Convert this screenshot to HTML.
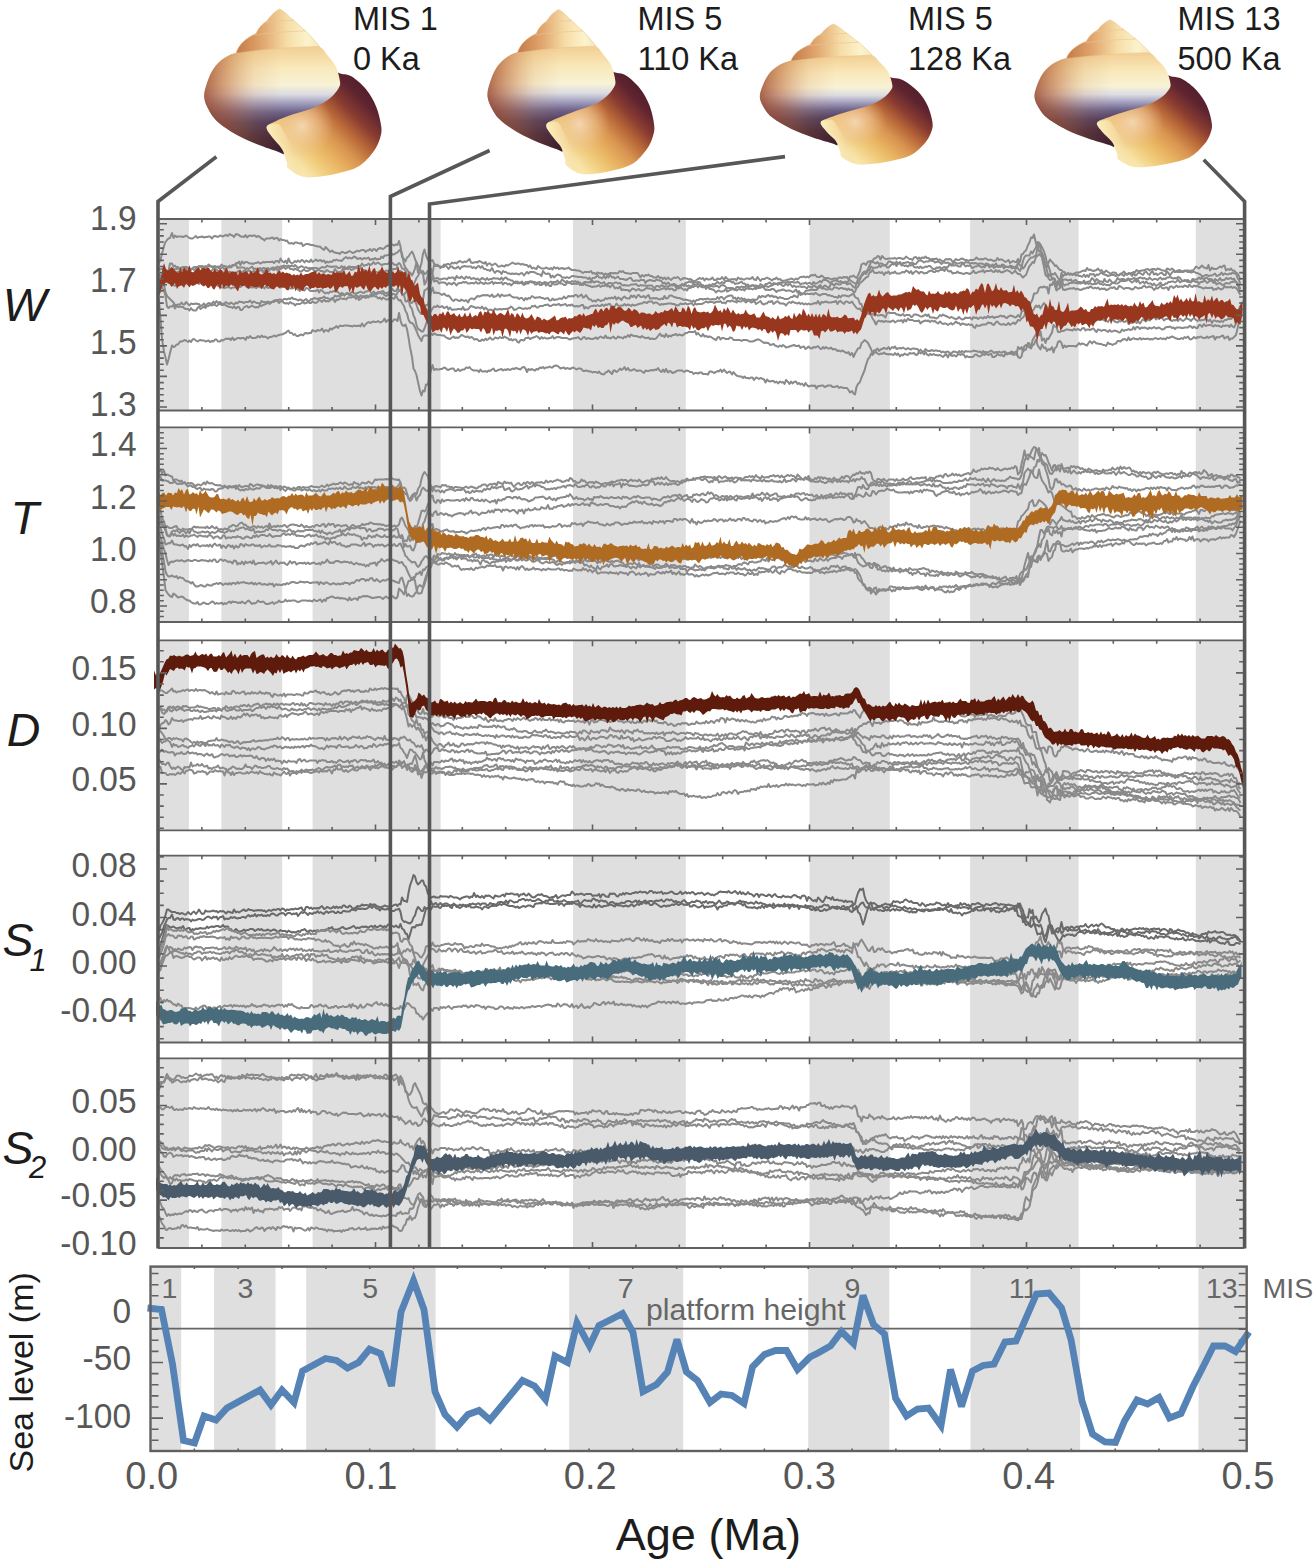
<!DOCTYPE html>
<html><head><meta charset="utf-8"><title>figure</title>
<style>html,body{margin:0;padding:0;background:#fff;overflow:hidden}svg{display:block}text{font-family:"Liberation Sans",sans-serif}</style>
</head><body>
<svg width="1315" height="1565" viewBox="0 0 1315 1565">
<defs>
<linearGradient id="gSpire" x1="236" y1="0" x2="320" y2="0" gradientUnits="userSpaceOnUse">
 <stop offset="0" stop-color="#c47a48"/><stop offset="0.3" stop-color="#e0a46c"/><stop offset="0.6" stop-color="#f6dca6"/><stop offset="0.85" stop-color="#fcf3cc"/><stop offset="1" stop-color="#f6e6b8"/>
</linearGradient>
<linearGradient id="gUpV" x1="0" y1="47" x2="0" y2="152" gradientUnits="userSpaceOnUse">
 <stop offset="0" stop-color="#f2cf94"/><stop offset="0.2" stop-color="#f9e9bb"/><stop offset="0.36" stop-color="#f8f2d6"/>
 <stop offset="0.45" stop-color="#dcdce2"/><stop offset="0.53" stop-color="#a4a2c0"/><stop offset="0.62" stop-color="#6e6288"/><stop offset="0.72" stop-color="#4e3a5a"/><stop offset="0.85" stop-color="#452638"/><stop offset="1" stop-color="#3c1e2c"/>
</linearGradient>
<linearGradient id="gUpH" x1="204" y1="0" x2="282" y2="0" gradientUnits="userSpaceOnUse">
 <stop offset="0" stop-color="#9a4426" stop-opacity="0.8"/><stop offset="0.3" stop-color="#b8602f" stop-opacity="0.5"/><stop offset="0.65" stop-color="#d08850" stop-opacity="0.16"/><stop offset="1" stop-color="#d08850" stop-opacity="0"/>
</linearGradient>
<linearGradient id="gBody" x1="372" y1="84" x2="284" y2="172" gradientUnits="userSpaceOnUse">
 <stop offset="0" stop-color="#4c1c2a"/><stop offset="0.15" stop-color="#5e2430"/><stop offset="0.28" stop-color="#8a3c30"/><stop offset="0.4" stop-color="#b86838"/><stop offset="0.52" stop-color="#d89450"/><stop offset="0.64" stop-color="#e8b260"/><stop offset="0.76" stop-color="#f0cc7c"/><stop offset="0.88" stop-color="#f8e4a8"/><stop offset="1" stop-color="#fbefc0"/>
</linearGradient>
<radialGradient id="gBodyHi" cx="302" cy="126" r="32" gradientUnits="userSpaceOnUse">
 <stop offset="0" stop-color="#f6dcbc" stop-opacity="0.85"/><stop offset="0.55" stop-color="#f0c8a0" stop-opacity="0.45"/><stop offset="1" stop-color="#e8b888" stop-opacity="0"/>
</radialGradient>
<linearGradient id="gBodyH" x1="266" y1="0" x2="304" y2="0" gradientUnits="userSpaceOnUse">
 <stop offset="0" stop-color="#fcf2c4" stop-opacity="0.85"/><stop offset="0.5" stop-color="#f9e8b4" stop-opacity="0.45"/><stop offset="1" stop-color="#f0c890" stop-opacity="0"/>
</linearGradient>

<g id="shell"><path d="M330.0,72.0 C333.5,68.5 337.3,72.9 340.9,73.7 C344.5,74.5 347.5,73.9 351.7,76.6 C355.9,79.2 362.1,84.5 366.2,89.6 C370.3,94.6 373.8,100.7 376.3,106.9 C378.8,113.2 380.7,121.8 381.3,127.1 C381.9,132.4 381.2,134.6 379.9,138.7 C378.6,142.8 376.9,147.1 373.4,151.7 C369.9,156.3 364.9,162.6 358.9,166.2 C352.9,169.8 344.5,171.6 337.3,173.4 C330.1,175.2 321.6,176.5 315.6,177.0 C309.6,177.5 305.7,177.8 301.1,176.3 C296.5,174.9 290.5,170.7 288.1,168.3 C285.7,165.9 287.9,165.3 286.7,161.8 C285.5,158.3 283.3,151.5 280.9,147.4 C278.5,143.3 274.6,140.7 272.2,137.3 C269.8,133.9 263.5,131.7 266.5,127.1 C269.5,122.5 281.1,115.3 290.0,110.0 C298.9,104.7 313.3,101.3 320.0,95.0 C326.7,88.7 326.5,75.5 330.0,72.0Z" fill="url(#gBody)"/><path d="M330.0,72.0 C333.5,68.5 337.3,72.9 340.9,73.7 C344.5,74.5 347.5,73.9 351.7,76.6 C355.9,79.2 362.1,84.5 366.2,89.6 C370.3,94.6 373.8,100.7 376.3,106.9 C378.8,113.2 380.7,121.8 381.3,127.1 C381.9,132.4 381.2,134.6 379.9,138.7 C378.6,142.8 376.9,147.1 373.4,151.7 C369.9,156.3 364.9,162.6 358.9,166.2 C352.9,169.8 344.5,171.6 337.3,173.4 C330.1,175.2 321.6,176.5 315.6,177.0 C309.6,177.5 305.7,177.8 301.1,176.3 C296.5,174.9 290.5,170.7 288.1,168.3 C285.7,165.9 287.9,165.3 286.7,161.8 C285.5,158.3 283.3,151.5 280.9,147.4 C278.5,143.3 274.6,140.7 272.2,137.3 C269.8,133.9 263.5,131.7 266.5,127.1 C269.5,122.5 281.1,115.3 290.0,110.0 C298.9,104.7 313.3,101.3 320.0,95.0 C326.7,88.7 326.5,75.5 330.0,72.0Z" fill="url(#gBodyHi)"/><path d="M266.5,127.1 C265.5,129.3 269.8,133.9 272.2,137.3 C274.6,140.7 278.5,143.3 280.9,147.4 C283.3,151.5 285.5,158.3 286.7,161.8 C287.9,165.3 285.7,165.9 288.1,168.3 C290.5,170.7 298.1,174.9 301.1,176.3 C304.1,177.7 306.2,178.2 306.0,176.8 C305.8,175.4 302.2,172.5 300.0,168.0 C297.8,163.5 295.5,155.7 293.0,150.0 C290.5,144.3 287.5,138.3 285.0,134.0 C282.5,129.7 281.1,125.2 278.0,124.0 C274.9,122.8 267.5,124.9 266.5,127.1Z" fill="url(#gBodyH)"/><path d="M238.3,52.0 C243.4,50.5 248.4,49.2 255.0,48.5 C261.6,47.8 270.5,47.8 278.0,47.5 C285.5,47.2 293.2,47.0 300.0,46.8 C306.8,46.6 314.0,44.9 318.5,46.2 C323.0,47.6 324.3,51.5 327.2,54.9 C330.1,58.3 333.7,62.2 335.8,66.5 C337.9,70.8 339.4,77.3 339.9,80.9 C340.4,84.5 340.3,85.2 338.7,88.1 C337.1,91.0 333.9,95.2 330.0,98.3 C326.1,101.4 321.6,104.3 315.6,106.9 C309.6,109.5 300.6,111.7 293.9,114.1 C287.1,116.5 279.7,119.2 275.1,121.4 C270.5,123.6 267.0,124.4 266.5,127.1 C266.0,129.8 269.8,133.9 272.2,137.3 C274.6,140.7 279.0,144.6 280.9,147.4 C282.8,150.2 284.3,153.3 283.8,154.0 C283.3,154.7 282.3,153.3 278.0,151.7 C273.7,150.1 264.8,147.4 257.8,144.5 C250.8,141.6 242.8,138.2 236.1,134.4 C229.3,130.6 221.9,125.5 217.3,121.4 C212.7,117.3 210.9,113.7 208.7,109.8 C206.5,105.9 204.8,102.1 204.3,98.3 C203.8,94.5 204.4,91.5 205.8,86.7 C207.2,81.9 209.9,74.2 213.0,69.4 C216.1,64.6 220.4,60.7 224.6,57.8 C228.8,54.9 233.2,53.5 238.3,52.0Z" fill="url(#gUpV)"/><path d="M238.3,52.0 C243.4,50.5 248.4,49.2 255.0,48.5 C261.6,47.8 270.5,47.8 278.0,47.5 C285.5,47.2 293.2,47.0 300.0,46.8 C306.8,46.6 314.0,44.9 318.5,46.2 C323.0,47.6 324.3,51.5 327.2,54.9 C330.1,58.3 333.7,62.2 335.8,66.5 C337.9,70.8 339.4,77.3 339.9,80.9 C340.4,84.5 340.3,85.2 338.7,88.1 C337.1,91.0 333.9,95.2 330.0,98.3 C326.1,101.4 321.6,104.3 315.6,106.9 C309.6,109.5 300.6,111.7 293.9,114.1 C287.1,116.5 279.7,119.2 275.1,121.4 C270.5,123.6 267.0,124.4 266.5,127.1 C266.0,129.8 269.8,133.9 272.2,137.3 C274.6,140.7 279.0,144.6 280.9,147.4 C282.8,150.2 284.3,153.3 283.8,154.0 C283.3,154.7 282.3,153.3 278.0,151.7 C273.7,150.1 264.8,147.4 257.8,144.5 C250.8,141.6 242.8,138.2 236.1,134.4 C229.3,130.6 221.9,125.5 217.3,121.4 C212.7,117.3 210.9,113.7 208.7,109.8 C206.5,105.9 204.8,102.1 204.3,98.3 C203.8,94.5 204.4,91.5 205.8,86.7 C207.2,81.9 209.9,74.2 213.0,69.4 C216.1,64.6 220.4,60.7 224.6,57.8 C228.8,54.9 233.2,53.5 238.3,52.0Z" fill="url(#gUpH)"/><path d="M236,53.5 C238,45 246,38 256,33.5 L304,29.5 C310,35 315,41 319.5,46.5 C300,47 270,48 236,53.5Z" fill="url(#gSpire)" stroke="#e9c490" stroke-width="0.6"/><path d="M255.5,35 C258,28 262,24 266.8,21 L292,19 C296,22 300,26 305,31 C290,31.5 270,32.5 255.5,35Z" fill="url(#gSpire)" stroke="#e9c490" stroke-width="0.6"/><path d="M266,22.5 C270,16 274,12 279.5,9 C284,11 288,15 293,20.5 C284,20.5 274,21 266,22.5Z" fill="url(#gSpire)" stroke="#e9c490" stroke-width="0.6"/></g>
<clipPath id="clipW"><rect x="152.0" y="220.0" width="1096.0" height="189.5"/></clipPath>
<clipPath id="clipT"><rect x="152.0" y="428.4" width="1096.0" height="192.6"/></clipPath>
<clipPath id="clipD"><rect x="152.0" y="641.3" width="1096.0" height="188.1"/></clipPath>
<clipPath id="clipS1"><rect x="152.0" y="856.7" width="1096.0" height="184.8"/></clipPath>
<clipPath id="clipS2"><rect x="152.0" y="1059.3" width="1096.0" height="187.7"/></clipPath></defs>
<rect width="1315" height="1565" fill="#fff"/>
<use href="#shell" transform="matrix(1.0000 0 0 1.0000 0.00 0.00)"/>
<use href="#shell" transform="matrix(0.9412 0 0 0.9791 295.30 0.70)"/>
<use href="#shell" transform="matrix(0.9746 0 0 0.8353 560.89 16.45)"/>
<use href="#shell" transform="matrix(1.0011 0 0 0.8759 830.07 11.97)"/>
<text x="353.0" y="29.8" font-size="32.5" fill="#1c1c1c">MIS 1</text>
<text x="353.0" y="70" font-size="32.5" fill="#1c1c1c">0 Ka</text>
<text x="637.5" y="29.8" font-size="32.5" fill="#1c1c1c">MIS 5</text>
<text x="637.5" y="70" font-size="32.5" fill="#1c1c1c">110 Ka</text>
<text x="908.0" y="29.8" font-size="32.5" fill="#1c1c1c">MIS 5</text>
<text x="908.0" y="70" font-size="32.5" fill="#1c1c1c">128 Ka</text>
<text x="1177.5" y="29.8" font-size="32.5" fill="#1c1c1c">MIS 13</text>
<text x="1177.5" y="70" font-size="32.5" fill="#1c1c1c">500 Ka</text>
<rect x="158.0" y="219.0" width="30.9" height="191.5" fill="#dfdfdf"/>
<rect x="221.4" y="219.0" width="60.8" height="191.5" fill="#dfdfdf"/>
<rect x="312.6" y="219.0" width="128.0" height="191.5" fill="#dfdfdf"/>
<rect x="573.0" y="219.0" width="112.8" height="191.5" fill="#dfdfdf"/>
<rect x="809.5" y="219.0" width="80.3" height="191.5" fill="#dfdfdf"/>
<rect x="970.1" y="219.0" width="108.5" height="191.5" fill="#dfdfdf"/>
<rect x="1195.8" y="219.0" width="47.7" height="191.5" fill="#dfdfdf"/>
<g clip-path="url(#clipW)"><path d="M159,263l1.5 -3 1.5 -6.5 2 -7.5 1.5 -4 1.5 -2 1.5 -1.5 1.5 -.5 2 -5 1.5 5 1.5 -2.5 1.5 1.5 1.5 -.5 2 0 1.5 0 1.5 .5 1.5 -.5 1.5 -1 2 1.5 1.5 1 1.5 .5 1.5 0 1.5 -1 2 -1.5 1.5 2 1.5 -1 1.5 0 1.5 -.5 2 1 1.5 -.5 1.5 0 1.5 -.5 1.5 0 2 2 1.5 -2 1.5 -.5 1.5 .5 1.5 .5 2 -1.5 1.5 .5 1.5 .5 1.5 -1 1.5 -.5 2 1 1.5 -2 1.5 1 1.5 .5 1.5 1.5 2 -3 1.5 .5 1.5 .5 1.5 1.5 1.5 0 2 .5 1.5 -2 1.5 2.5 1.5 -1.5 1.5 -.5 2 .5 1.5 -.5 1.5 0 1.5 1.5 1.5 -1 2 1 1.5 1.5 1.5 .5 1.5 1.5 1.5 -2 2 0 1.5 0 1.5 -.5 1.5 -.5 1.5 1.5 2 -1 1.5 0 1.5 2.5 1.5 -1.5 1.5 1 2 0 1.5 1 1.5 -.5 1.5 2.5 1.5 .5 2 -.5 1.5 1 1.5 -1.5 1.5 0 1.5 .5 2 .5 1.5 -.5 1.5 3 1.5 -1 1.5 -1 2 0 1.5 .5 1.5 .5 1.5 0 1.5 .5 2 .5 1.5 .5 1.5 0 1.5 .5 1.5 1.5 2 1.5 1.5 -3 1.5 1.5 1.5 1.5 1.5 2 2 -1.5 1.5 1.5 1.5 .5 1.5 .5 1.5 0 2 1 1.5 -2 1.5 0 1.5 1 1.5 0 2 -1 1.5 -1 1.5 1 1.5 1 1.5 -.5 2 -1 1.5 -1 1.5 1 1.5 -1 1.5 -.5 2 0 1.5 2 1.5 -1.5 1.5 0 1.5 -1.5 2 2 1.5 -2 1.5 .5 1.5 1.5 1.5 -2 2 -1 1.5 .5 1.5 .5 1.5 -1 1.5 -1.5 2 -1 1.5 .5 1.5 -1 1.5 -.5 1.5 1 2 -1 1.5 .5 1.5 -4 1.5 5.5 1.5 10.5 2 2 1.5 2.5 1.5 -4 1.5 -1 1.5 -2.5 2 -2.5 1.5 3 1.5 4.5 1.5 3.5 1.5 10 2 -4.5 1.5 -5 1.5 -9.5 1.5 -4 1.5 6 2 4.5 1.5 -1.5 1.5 2.5 1.5 -1 1.5 3.5 2 2 1.5 -1 1.5 2 1.5 1.5 1.5 -1 2 -2.5 1.5 .5 1.5 -1 1.5 0 1.5 1 2 -2.5 1.5 1 1.5 -1 1.5 1 1.5 -1.5 2 -1 1.5 1 1.5 .5 1.5 -1 1.5 .5 2 -1.5 1.5 -1.5 1.5 3.5 1.5 .5 1.5 -.5 2 -.5 1.5 .5 1.5 -1.5 1.5 .5 1.5 1 2 1 1.5 -1.5 1.5 3.5 1.5 -2 1.5 0 2 2 1.5 -1 1.5 -1 1.5 1 1.5 2 2 0 1.5 -1 1.5 .5 1.5 .5 1.5 -1.5 2 .5 1.5 -1 1.5 -1 1.5 -1 1.5 1 2 .5 1.5 -.5 1.5 0 1.5 1 1.5 -.5 2 .5 1.5 .5 1.5 0 1.5 2 1.5 -1.5 2 3 1.5 -1 1.5 1 1.5 .5 1.5 -3 2 1.5 1.5 1 1.5 0 1.5 0 1.5 -1 2 1 1.5 .5 1.5 -1 1.5 1.5 1.5 -2.5 2 1.5 1.5 -1 1.5 1.5 1.5 -.5 1.5 -.5 2 1 1.5 -.5 1.5 0 1.5 -1 1.5 1.5 2 1 1.5 0 1.5 0 1.5 .5 1.5 0 2 .5 1.5 1 1.5 1 1.5 -1 1.5 0 2 0 1.5 0 1.5 -1 1.5 2.5 1.5 -.5 2 1 1.5 -1.5 1.5 .5 1.5 .5 1.5 -.5 2 2 1.5 -1.5 1.5 1 1.5 -.5 1.5 -1 2 0 1.5 .5 1.5 -.5 1.5 .5 1.5 -.5 2 -2 1.5 1 1.5 -1 1.5 2 1.5 0 2 .5 1.5 0 1.5 .5 1.5 -1 1.5 0 2 0 1.5 0 1.5 2 1.5 2.5 1.5 -2.5 2 1.5 1.5 -1.5 1.5 .5 1.5 -1 1.5 1.5 2 0 1.5 1.5 1.5 0 1.5 0 1.5 -1.5 2 2 1.5 -.5 1.5 1.5 1.5 -1.5 1.5 2 2 -2 1.5 1.5 1.5 1 1.5 -1.5 1.5 -1 2 .5 1.5 -1 1.5 1 1.5 2 1.5 -1 2 -1 1.5 .5 1.5 0 1.5 1 1.5 -.5 2 1 1.5 1.5 1.5 -.5 1.5 -1 1.5 -1 2 -1 1.5 1 1.5 -1 1.5 2.5 1.5 -2 2 1 1.5 0 1.5 -.5 1.5 -1.5 1.5 2.5 2 0 1.5 -1.5 1.5 .5 1.5 0 1.5 -2 2 3 1.5 -3 1.5 1.5 1.5 1 1.5 .5 2 -1 1.5 .5 1.5 -.5 1.5 1.5 1.5 -3 2 1.5 1.5 -.5 1.5 1 1.5 0 1.5 -1 2 0 1.5 .5 1.5 -.5 1.5 -1.5 1.5 2.5 2 .5 1.5 -3 1.5 2 1.5 2 1.5 -2 2 0 1.5 -.5 1.5 -1 1.5 1 1.5 .5 2 1.5 1.5 -1.5 1.5 0 1.5 -1.5 1.5 2 2 -.5 1.5 1.5 1.5 .5 1.5 -.5 1.5 0 2 -1 1.5 0 1.5 -1 1.5 .5 1.5 1 2 -1.5 1.5 1 1.5 -1.5 1.5 -1 1.5 0 2 -.5 1.5 1 1.5 -1 1.5 1 1.5 -1.5 2 -1 1.5 .5 1.5 -1 1.5 2 1.5 .5 2 0 1.5 -1.5 1.5 1 1.5 2 1.5 -.5 2 0 1.5 .5 1.5 1 1.5 -.5 1.5 -.5 2 0 1.5 .5 1.5 -1.5 1.5 0 1.5 .5 2 -1 1.5 .5 1.5 -.5 1.5 2.5 1.5 -3 2 0 1.5 -1 1.5 1.5 1.5 1 1.5 -2.5 2 -4.5 1.5 -6.5 1.5 -1 1.5 0 1.5 1.5 2 -3.5 1.5 0 1.5 -.5 1.5 0 1.5 -2.5 2 -.5 1.5 -2 1.5 .5 1.5 3 1.5 -3.5 2 2 1.5 1 1.5 0 1.5 -.5 1.5 0 2 0 1.5 0 1.5 -.5 1.5 1 1.5 -1 2 0 1.5 .5 1.5 .5 1.5 -.5 1.5 -2 2 1.5 1.5 1 1.5 0 1.5 1 1.5 -2.5 2 -.5 1.5 2 1.5 -1.5 1.5 1.5 1.5 -1.5 2 .5 1.5 -1.5 1.5 1.5 1.5 0 1.5 1.5 2 -.5 1.5 0 1.5 0 1.5 -.5 1.5 1.5 2 -.5 1.5 1 1.5 1.5 1.5 -1.5 1.5 -1.5 2 .5 1.5 -.5 1.5 .5 1.5 2.5 1.5 -1 2 -2 1.5 1 1.5 0 1.5 -1 1.5 -.5 2 1 1.5 .5 1.5 0 1.5 1 1.5 -1 2 0 1.5 0 1.5 -1 1.5 -1.5 1.5 1.5 2 .5 1.5 -.5 1.5 .5 1.5 -1 1.5 0 2 1.5 1.5 0 1.5 -.5 1.5 1 1.5 .5 2 -.5 1.5 -2.5 1.5 2 1.5 -.5 1.5 0 2 1.5 1.5 1 1.5 -1 1.5 -1 1.5 3 2 -1.5 1.5 -.5 1.5 1 1.5 0 1.5 -3 2 3 1.5 -7.5 1.5 -.5 1.5 -2.5 1.5 -1 2 -5.5 1.5 -2.5 1.5 -5 1.5 .5 1.5 -3.5 2 9 1.5 3 1.5 4.5 1.5 1.5 1.5 0 2 5.5 1.5 7.5 1.5 1.5 1.5 -4.5 1.5 -3 2 2.5 1.5 1.5 1.5 2.5 1.5 -.5 1.5 2.5 2 2 1.5 0 1.5 2 1.5 0 1.5 3 2 -2 1.5 2 1.5 -1 1.5 .5 1.5 -.5 2 -1.5 1.5 0 1.5 0 1.5 -.5 1.5 -1 2 -.5 1.5 .5 1.5 -3 1.5 2 1.5 -.5 2 1 1.5 .5 1.5 -.5 1.5 -.5 1.5 -1.5 2 2.5 1.5 -1 1.5 2 1.5 .5 1.5 -2 2 1.5 1.5 1 1.5 1 1.5 -1.5 1.5 0 2 .5 1.5 2.5 1.5 0 1.5 -2 1.5 0 2 -2 1.5 2.5 1.5 1 1.5 -2 1.5 .5 2 -.5 1.5 -1 1.5 .5 1.5 -2.5 1.5 1 2 0 1.5 -.5 1.5 0 1.5 -.5 1.5 -.5 2 -.5 1.5 1.5 1.5 -1 1.5 -.5 1.5 0 2 1 1.5 -1.5 1.5 .5 1.5 .5 1.5 1 2 0 1.5 1 1.5 -3 1.5 .5 1.5 1 2 -1.5 1.5 1 1.5 2.5 1.5 -1 1.5 -.5 2 -.5 1.5 2 1.5 0 1.5 -1.5 1.5 .5 2 1 1.5 0 1.5 -1.5 1.5 0 1.5 -1 2 -3 1.5 1 1.5 1 1.5 -1.5 1.5 -1.5 2 2 1.5 .5 1.5 .5 1.5 -3.5 1.5 5.5 2 -3 1.5 1.5 1.5 0 1.5 0 1.5 -1 2 -1.5 1.5 1 1.5 -1.5 1.5 -.5 1.5 5 2 -1.5 1.5 1 1.5 -1.5 1.5 2 1.5 0 2 2 1.5 1 1.5 2.5 1.5 4" fill="none" stroke="#8a8a8a" stroke-width="2.0" stroke-linejoin="round" /><path d="M159,269l1.5 .5 1.5 -1 2 1.5 1.5 1 1.5 3 1.5 -3 1.5 -7.5 2 0 1.5 3 1.5 -1 1.5 2 1.5 -.5 2 2 1.5 -1.5 1.5 -.5 1.5 0 1.5 0 2 .5 1.5 1 1.5 1 1.5 -1 1.5 1.5 2 -1.5 1.5 -.5 1.5 -2 1.5 .5 1.5 1.5 2 .5 1.5 -2 1.5 1 1.5 -1.5 1.5 .5 2 0 1.5 1.5 1.5 -1 1.5 0 1.5 .5 2 1.5 1.5 -1 1.5 -1 1.5 2.5 1.5 -1.5 2 -1 1.5 .5 1.5 -1 1.5 -1.5 1.5 .5 2 -2.5 1.5 .5 1.5 -2 1.5 3.5 1.5 -3.5 2 2 1.5 -1.5 1.5 0 1.5 1 1.5 .5 2 0 1.5 .5 1.5 -1 1.5 0 1.5 -1 2 1.5 1.5 -.5 1.5 -1 1.5 .5 1.5 -.5 2 0 1.5 0 1.5 0 1.5 -.5 1.5 1.5 2 -2 1.5 0 1.5 1.5 1.5 -4 1.5 2.5 2 1.5 1.5 -2 1.5 3 1.5 -5 1.5 3.5 2 1.5 1.5 -1 1.5 -1.5 1.5 1 1.5 -1.5 2 1.5 1.5 -2 1.5 .5 1.5 2 1.5 -2 2 1 1.5 .5 1.5 -2.5 1.5 2.5 1.5 -1 2 -1.5 1.5 1.5 1.5 -.5 1.5 -.5 1.5 1.5 2 -1 1.5 2.5 1.5 -1.5 1.5 1 1.5 -1 2 .5 1.5 -2 1.5 .5 1.5 -1 1.5 1 2 0 1.5 .5 1.5 -1.5 1.5 -1.5 1.5 -1 2 1.5 1.5 -1 1.5 1 1.5 -.5 1.5 -1.5 2 1 1.5 1.5 1.5 -.5 1.5 -.5 1.5 1.5 2 -1.5 1.5 .5 1.5 0 1.5 -1 1.5 2.5 2 -1 1.5 .5 1.5 -1.5 1.5 1.5 1.5 -.5 2 0 1.5 -2.5 1.5 1.5 1.5 -2.5 1.5 0 2 -.5 1.5 -.5 1.5 1.5 1.5 -2 1.5 .5 2 -1.5 1.5 -.5 1.5 -2 1.5 -.5 1.5 3.5 2 11 1.5 3.5 1.5 1.5 1.5 2.5 1.5 .5 2 3 1.5 -3 1.5 -4 1.5 -6 1.5 3 2 3 1.5 4.5 1.5 .5 1.5 11 1.5 -2.5 2 -7 1.5 -5.5 1.5 -1 1.5 5.5 1.5 -9 2 1 1.5 0 1.5 0 1.5 .5 1.5 .5 2 0 1.5 -2 1.5 2 1.5 2 1.5 -2 2 -.5 1.5 1.5 1.5 .5 1.5 -.5 1.5 -1.5 2 2.5 1.5 -2 1.5 -.5 1.5 -.5 1.5 .5 2 0 1.5 0 1.5 0 1.5 1.5 1.5 -1 2 1.5 1.5 -2 1.5 -.5 1.5 2 1.5 -2 2 3 1.5 0 1.5 1 1.5 0 1.5 1 2 -3 1.5 3 1.5 2 1.5 -2 1.5 0 2 1 1.5 2 1.5 -3 1.5 1 1.5 0 2 1.5 1.5 0 1.5 .5 1.5 -.5 1.5 .5 2 -.5 1.5 .5 1.5 .5 1.5 -1 1.5 -.5 2 2.5 1.5 -2 1.5 -1.5 1.5 1.5 1.5 -1.5 2 0 1.5 0 1.5 .5 1.5 1 1.5 .5 2 .5 1.5 1.5 1.5 -5 1.5 2 1.5 1 2 -.5 1.5 .5 1.5 3.5 1.5 -2 1.5 2 2 -2 1.5 -1 1.5 .5 1.5 .5 1.5 2 2 0 1.5 .5 1.5 -1 1.5 1 1.5 -.5 2 -1.5 1.5 0 1.5 .5 1.5 0 1.5 .5 2 0 1.5 0 1.5 .5 1.5 0 1.5 0 2 1.5 1.5 -1.5 1.5 3 1.5 -2.5 1.5 0 2 -1 1.5 -2 1.5 2.5 1.5 0 1.5 1 2 -2.5 1.5 2.5 1.5 -2.5 1.5 1.5 1.5 -3 2 3 1.5 -.5 1.5 1.5 1.5 -1 1.5 -1 2 2.5 1.5 0 1.5 0 1.5 .5 1.5 .5 2 -1 1.5 -1 1.5 0 1.5 2.5 1.5 .5 2 -.5 1.5 0 1.5 .5 1.5 -1 1.5 0 2 0 1.5 3 1.5 -2 1.5 -.5 1.5 -.5 2 .5 1.5 .5 1.5 0 1.5 -1.5 1.5 .5 2 .5 1.5 .5 1.5 2.5 1.5 -1 1.5 2 2 -2 1.5 1.5 1.5 1 1.5 -.5 1.5 -.5 2 1 1.5 1 1.5 0 1.5 -1 1.5 0 2 -.5 1.5 -1.5 1.5 -.5 1.5 -.5 1.5 -.5 2 1 1.5 -.5 1.5 .5 1.5 0 1.5 -.5 2 .5 1.5 2.5 1.5 0 1.5 2 1.5 -1.5 2 .5 1.5 1 1.5 -1 1.5 -2 1.5 .5 2 -1 1.5 -2 1.5 2 1.5 0 1.5 -1.5 2 1.5 1.5 -2.5 1.5 0 1.5 0 1.5 0 2 1.5 1.5 -.5 1.5 2 1.5 -.5 1.5 0 2 -1 1.5 -1 1.5 2 1.5 0 1.5 1.5 2 -.5 1.5 2 1.5 -1 1.5 0 1.5 0 2 0 1.5 .5 1.5 .5 1.5 -2.5 1.5 1 2 2 1.5 -3 1.5 0 1.5 -1 1.5 -.5 2 2.5 1.5 -2 1.5 .5 1.5 .5 1.5 1 2 -2.5 1.5 .5 1.5 -.5 1.5 0 1.5 0 2 -.5 1.5 .5 1.5 -.5 1.5 0 1.5 .5 2 0 1.5 -.5 1.5 .5 1.5 2 1.5 -1 2 0 1.5 -1 1.5 1.5 1.5 -1 1.5 0 2 1.5 1.5 -2.5 1.5 1.5 1.5 0 1.5 -1 2 -1.5 1.5 1.5 1.5 -2.5 1.5 0 1.5 0 2 1 1.5 1.5 1.5 0 1.5 -1 1.5 -1 2 0 1.5 .5 1.5 1 1.5 -1 1.5 1.5 2 .5 1.5 -1.5 1.5 1 1.5 -1.5 1.5 -1 2 1.5 1.5 1 1.5 1 1.5 0 1.5 -4.5 2 -1.5 1.5 -2.5 1.5 -2.5 1.5 -1 1.5 .5 2 -3 1.5 -3.5 1.5 -3.5 1.5 0 1.5 .5 2 1 1.5 -1.5 1.5 2 1.5 -.5 1.5 0 2 1.5 1.5 .5 1.5 -1.5 1.5 -2.5 1.5 0 2 1 1.5 0 1.5 1.5 1.5 -2.5 1.5 2.5 2 -2 1.5 2 1.5 -1 1.5 0 1.5 -.5 2 -.5 1.5 1 1.5 0 1.5 -.5 1.5 1.5 2 0 1.5 -2 1.5 -1.5 1.5 0 1.5 .5 2 1.5 1.5 -1 1.5 0 1.5 0 1.5 -1.5 2 1 1.5 0 1.5 1.5 1.5 -.5 1.5 -.5 2 1 1.5 1.5 1.5 -1.5 1.5 0 1.5 .5 2 -.5 1.5 1 1.5 .5 1.5 1 1.5 -3 2 1 1.5 .5 1.5 0 1.5 -1 1.5 0 2 1 1.5 -1.5 1.5 .5 1.5 0 1.5 1 2 -.5 1.5 .5 1.5 -.5 1.5 .5 1.5 .5 2 -.5 1.5 0 1.5 .5 1.5 1 1.5 -1.5 2 .5 1.5 1 1.5 1 1.5 -1.5 1.5 3.5 2 -1.5 1.5 0 1.5 .5 1.5 -1 1.5 -.5 2 3 1.5 -2 1.5 0 1.5 1 1.5 -2 2 1 1.5 0 1.5 2 1.5 -3 1.5 3 2 2.5 1.5 -3.5 1.5 -6.5 1.5 -4 1.5 -1.5 2 0 1.5 0 1.5 -4 1.5 2 1.5 -3 2 -3 1.5 -5.5 1.5 1.5 1.5 5 1.5 9.5 2 9 1.5 8 1.5 1.5 1.5 -2.5 1.5 2 2 -2 1.5 .5 1.5 -1.5 1.5 2.5 1.5 2.5 2 3 1.5 -8 1.5 3.5 1.5 -2 1.5 -.5 2 -.5 1.5 .5 1.5 -.5 1.5 1.5 1.5 -1.5 2 2 1.5 -1 1.5 1.5 1.5 0 1.5 1 2 -2.5 1.5 2.5 1.5 -2 1.5 2 1.5 -3 2 .5 1.5 -.5 1.5 2.5 1.5 -2 1.5 .5 2 -1.5 1.5 -1 1.5 1.5 1.5 .5 1.5 .5 2 1 1.5 -.5 1.5 -.5 1.5 0 1.5 0 2 1 1.5 -1 1.5 0 1.5 -1 1.5 .5 2 1.5 1.5 -2.5 1.5 .5 1.5 0 1.5 -.5 2 2.5 1.5 -3 1.5 2.5 1.5 -.5 1.5 -2 2 0 1.5 1 1.5 1 1.5 -2.5 1.5 -1 2 2.5 1.5 1 1.5 -2.5 1.5 -1.5 1.5 3.5 2 -1 1.5 1.5 1.5 -1 1.5 -1 1.5 0 2 2 1.5 0 1.5 -3.5 1.5 1.5 1.5 2.5 2 -3 1.5 -1.5 1.5 1 1.5 -.5 1.5 .5 2 0 1.5 -.5 1.5 -.5 1.5 .5 1.5 -1 2 0 1.5 .5 1.5 1.5 1.5 -.5 1.5 -.5 2 1.5 1.5 0 1.5 1 1.5 .5 1.5 2 2 -.5 1.5 -1 1.5 0 1.5 1 1.5 -.5 2 0 1.5 -1 1.5 -1 1.5 2.5 1.5 -.5 2 -1 1.5 -2 1.5 2.5 1.5 -1.5 1.5 .5 2 .5 1.5 -1 1.5 .5 1.5 -1.5 1.5 1 2 0 1.5 4.5 1.5 2.5 1.5 3.5" fill="none" stroke="#8a8a8a" stroke-width="2.0" stroke-linejoin="round" /><path d="M159,286.5l1.5 -2 1.5 -7 2 -3 1.5 2 1.5 -.5 1.5 -4 1.5 -2.5 2 -1 1.5 0 1.5 1 1.5 -.5 1.5 -.5 2 .5 1.5 1 1.5 -.5 1.5 -.5 1.5 0 2 -1 1.5 0 1.5 2 1.5 -2 1.5 -1 2 0 1.5 0 1.5 -.5 1.5 0 1.5 -.5 2 1 1.5 -1 1.5 1.5 1.5 -3 1.5 1 2 1.5 1.5 -.5 1.5 -.5 1.5 1 1.5 -.5 2 .5 1.5 -2.5 1.5 1.5 1.5 0 1.5 .5 2 1 1.5 -2 1.5 2 1.5 -1.5 1.5 -1 2 0 1.5 3 1.5 -.5 1.5 0 1.5 0 2 0 1.5 2 1.5 -1.5 1.5 1 1.5 -1 2 -1.5 1.5 2.5 1.5 -.5 1.5 .5 1.5 1 2 -2 1.5 1.5 1.5 -1.5 1.5 0 1.5 1 2 -1 1.5 1.5 1.5 -1 1.5 -1 1.5 .5 2 -.5 1.5 -1 1.5 1 1.5 -1 1.5 0 2 -1 1.5 .5 1.5 .5 1.5 -1 1.5 1 2 -1 1.5 1 1.5 -1.5 1.5 1.5 1.5 1.5 2 -1 1.5 -1 1.5 1 1.5 1 1.5 -1 2 1.5 1.5 -.5 1.5 .5 1.5 -.5 1.5 0 2 0 1.5 .5 1.5 .5 1.5 -1 1.5 -1 2 .5 1.5 0 1.5 -2 1.5 1 1.5 0 2 .5 1.5 -.5 1.5 0 1.5 0 1.5 1.5 2 0 1.5 -2 1.5 1.5 1.5 -1 1.5 2.5 2 -2 1.5 -.5 1.5 .5 1.5 0 1.5 0 2 1 1.5 -2 1.5 0 1.5 0 1.5 -2.5 2 2.5 1.5 -1 1.5 0 1.5 -1.5 1.5 1.5 2 -1 1.5 -2 1.5 2 1.5 -.5 1.5 -1 2 1.5 1.5 1 1.5 -.5 1.5 -.5 1.5 0 2 0 1.5 -2 1.5 1 1.5 0 1.5 1.5 2 .5 1.5 -.5 1.5 -1.5 1.5 1.5 1.5 4 2 .5 1.5 2 1.5 3.5 1.5 3 1.5 7 2 1.5 1.5 -.5 1.5 -4 1.5 -3.5 1.5 -2 2 -4 1.5 0 1.5 -1 1.5 3 1.5 -.5 2 -3 1.5 1.5 1.5 1.5 1.5 1 1.5 4 2 0 1.5 -.5 1.5 1 1.5 .5 1.5 -.5 2 -.5 1.5 0 1.5 1 1.5 -2 1.5 .5 2 -.5 1.5 0 1.5 2.5 1.5 -4 1.5 1.5 2 .5 1.5 -1.5 1.5 1.5 1.5 1 1.5 -2.5 2 1.5 1.5 -1 1.5 2 1.5 -.5 1.5 -.5 2 1.5 1.5 -1 1.5 1.5 1.5 -.5 1.5 -1.5 2 1 1.5 1 1.5 -2 1.5 2 1.5 -1 2 0 1.5 -1 1.5 .5 1.5 0 1.5 0 2 1 1.5 -2 1.5 2.5 1.5 -2 1.5 -.5 2 2 1.5 0 1.5 1 1.5 0 1.5 2 2 -1 1.5 2 1.5 -1 1.5 .5 1.5 -1.5 2 2.5 1.5 -2 1.5 1.5 1.5 0 1.5 -2 2 0 1.5 .5 1.5 0 1.5 1 1.5 -.5 2 -.5 1.5 1 1.5 .5 1.5 -1.5 1.5 .5 2 1 1.5 -1 1.5 -1 1.5 1 1.5 -.5 2 0 1.5 -1.5 1.5 2 1.5 -.5 1.5 -2.5 2 1.5 1.5 1.5 1.5 -1.5 1.5 1 1.5 .5 2 -1.5 1.5 1 1.5 -1 1.5 1 1.5 -.5 2 3.5 1.5 -1 1.5 -1 1.5 -1 1.5 0 2 .5 1.5 -.5 1.5 .5 1.5 -1.5 1.5 1.5 2 -1 1.5 0 1.5 .5 1.5 1 1.5 .5 2 -1.5 1.5 2.5 1.5 0 1.5 -1.5 1.5 0 2 .5 1.5 0 1.5 -1 1.5 0 1.5 1 2 -.5 1.5 1.5 1.5 1 1.5 -.5 1.5 .5 2 0 1.5 0 1.5 -1 1.5 0 1.5 0 2 -.5 1.5 1.5 1.5 .5 1.5 -1 1.5 .5 2 0 1.5 0 1.5 .5 1.5 -.5 1.5 0 2 0 1.5 2 1.5 0 1.5 -1.5 1.5 0 2 1 1.5 -2 1.5 1 1.5 .5 1.5 0 2 0 1.5 -.5 1.5 -1 1.5 .5 1.5 -.5 2 2.5 1.5 -1 1.5 .5 1.5 0 1.5 -3 2 2 1.5 -1.5 1.5 2 1.5 -1 1.5 .5 2 .5 1.5 -3 1.5 1.5 1.5 0 1.5 -1.5 2 2.5 1.5 1 1.5 0 1.5 -.5 1.5 2.5 2 -3 1.5 -1.5 1.5 1.5 1.5 .5 1.5 0 2 -.5 1.5 0 1.5 1.5 1.5 -1.5 1.5 -1 2 .5 1.5 1 1.5 2 1.5 -.5 1.5 0 2 0 1.5 .5 1.5 1.5 1.5 -3 1.5 0 2 .5 1.5 -1 1.5 .5 1.5 .5 1.5 -1.5 2 1 1.5 -.5 1.5 -.5 1.5 -1 1.5 1 2 2 1.5 -2 1.5 1 1.5 .5 1.5 -.5 2 -.5 1.5 -.5 1.5 .5 1.5 .5 1.5 -1 2 -.5 1.5 -1 1.5 -.5 1.5 0 1.5 -1 2 1 1.5 1 1.5 1 1.5 -.5 1.5 -2 2 2 1.5 -2 1.5 1.5 1.5 2 1.5 -1.5 2 1.5 1.5 -.5 1.5 0 1.5 0 1.5 .5 2 -.5 1.5 1 1.5 1 1.5 -2.5 1.5 1 2 .5 1.5 -2 1.5 .5 1.5 1.5 1.5 -.5 2 -2 1.5 1.5 1.5 1 1.5 -2 1.5 .5 2 1.5 1.5 -.5 1.5 -3.5 1.5 .5 1.5 1.5 2 -2 1.5 .5 1.5 .5 1.5 0 1.5 -2.5 2 .5 1.5 0 1.5 2 1.5 -.5 1.5 -1 2 2.5 1.5 1.5 1.5 1 1.5 -4.5 1.5 -.5 2 -3.5 1.5 -3.5 1.5 -1 1.5 -2.5 1.5 1.5 2 -4 1.5 .5 1.5 -4 1.5 1 1.5 .5 2 -.5 1.5 0 1.5 -2 1.5 1.5 1.5 -1.5 2 0 1.5 -.5 1.5 2.5 1.5 0 1.5 -1.5 2 -2 1.5 .5 1.5 -1 1.5 2.5 1.5 -3 2 .5 1.5 2 1.5 -.5 1.5 1 1.5 -.5 2 1 1.5 -1.5 1.5 .5 1.5 -1 1.5 2.5 2 .5 1.5 -.5 1.5 1 1.5 -1.5 1.5 1.5 2 -.5 1.5 -1 1.5 .5 1.5 -1 1.5 0 2 2 1.5 1 1.5 0 1.5 -1.5 1.5 .5 2 -1 1.5 2 1.5 -1.5 1.5 -.5 1.5 .5 2 -.5 1.5 -3 1.5 1.5 1.5 0 1.5 0 2 -.5 1.5 1 1.5 .5 1.5 0 1.5 -3 2 1 1.5 2 1.5 -1 1.5 .5 1.5 -1 2 3 1.5 -.5 1.5 -1 1.5 0 1.5 -1 2 .5 1.5 1.5 1.5 -1 1.5 1 1.5 -2 2 -.5 1.5 2.5 1.5 -1.5 1.5 .5 1.5 -1 2 -2 1.5 3 1.5 -1 1.5 1.5 1.5 -2.5 2 .5 1.5 2 1.5 0 1.5 0 1.5 -.5 2 2 1.5 -1 1.5 1 1.5 0 1.5 -6.5 2 3.5 1.5 0 1.5 3 1.5 -1.5 1.5 -3 2 -3 1.5 -2 1.5 -1.5 1.5 0 1.5 -1 2 -1 1.5 -7.5 1.5 -5.5 1.5 2 1.5 3 2 4 1.5 4.5 1.5 7 1.5 3 1.5 5 2 8 1.5 -.5 1.5 2 1.5 3 1.5 -2.5 2 6 1.5 -7 1.5 0 1.5 -.5 1.5 0 2 1 1.5 -.5 1.5 -.5 1.5 3 1.5 -2 2 -.5 1.5 2 1.5 0 1.5 0 1.5 1 2 -2.5 1.5 2.5 1.5 -1 1.5 -.5 1.5 0 2 -3.5 1.5 1.5 1.5 2.5 1.5 -3 1.5 1 2 1.5 1.5 0 1.5 1 1.5 -3.5 1.5 2.5 2 .5 1.5 -2.5 1.5 1.5 1.5 2 1.5 -.5 2 -1.5 1.5 -3 1.5 1.5 1.5 0 1.5 -.5 2 0 1.5 2 1.5 -2 1.5 -.5 1.5 1 2 -.5 1.5 -1 1.5 .5 1.5 .5 1.5 -.5 2 -1 1.5 .5 1.5 .5 1.5 -.5 1.5 1 2 .5 1.5 -2 1.5 1.5 1.5 1 1.5 -1 2 0 1.5 1 1.5 -1.5 1.5 -1 1.5 2 2 -1 1.5 .5 1.5 -1.5 1.5 0 1.5 -.5 2 1 1.5 .5 1.5 -.5 1.5 .5 1.5 -1.5 2 1 1.5 2 1.5 1 1.5 -1 1.5 .5 2 -.5 1.5 1.5 1.5 .5 1.5 -3 1.5 .5 2 0 1.5 -.5 1.5 -1.5 1.5 1.5 1.5 -1.5 2 2 1.5 -1.5 1.5 -.5 1.5 2 1.5 -.5 2 .5 1.5 2.5 1.5 -3 1.5 1 1.5 1 2 -3 1.5 2.5 1.5 -.5 1.5 0 1.5 -2 2 1 1.5 -.5 1.5 -.5 1.5 1.5 1.5 -1 2 3.5 1.5 1 1.5 3 1.5 3" fill="none" stroke="#8a8a8a" stroke-width="2.0" stroke-linejoin="round" /><path d="M159,289.5l1.5 -1.5 1.5 -.5 2 -4.5 1.5 -3.5 1.5 -5.5 1.5 .5 1.5 -4.5 2 4 1.5 -1 1.5 -.5 1.5 .5 1.5 -1.5 2 1 1.5 1.5 1.5 -1.5 1.5 -1 1.5 1.5 2 .5 1.5 1.5 1.5 -2.5 1.5 1 1.5 2 2 -3 1.5 1 1.5 -4.5 1.5 4 1.5 -.5 2 -2 1.5 1.5 1.5 .5 1.5 -1 1.5 .5 2 -1.5 1.5 -2 1.5 .5 1.5 .5 1.5 1.5 2 0 1.5 0 1.5 1.5 1.5 .5 1.5 1 2 0 1.5 -2.5 1.5 1 1.5 0 1.5 0 2 1.5 1.5 -2.5 1.5 -.5 1.5 1 1.5 .5 2 -2 1.5 .5 1.5 .5 1.5 -1 1.5 .5 2 1.5 1.5 -1.5 1.5 .5 1.5 0 1.5 0 2 -1 1.5 -1 1.5 3 1.5 -2.5 1.5 1.5 2 0 1.5 -1.5 1.5 -1.5 1.5 1 1.5 .5 2 -2 1.5 2.5 1.5 -2 1.5 .5 1.5 -1 2 -1 1.5 2 1.5 -1 1.5 -1.5 1.5 2.5 2 0 1.5 1 1.5 -1.5 1.5 1 1.5 .5 2 1.5 1.5 0 1.5 -1.5 1.5 0 1.5 1 2 0 1.5 -1 1.5 -1 1.5 -1 1.5 3 2 .5 1.5 -1.5 1.5 0 1.5 1 1.5 0 2 1 1.5 -.5 1.5 -1.5 1.5 1 1.5 1 2 0 1.5 .5 1.5 -3.5 1.5 2 1.5 1 2 0 1.5 -.5 1.5 -3 1.5 .5 1.5 -1 2 1 1.5 -1 1.5 2 1.5 -.5 1.5 -.5 2 -2 1.5 1 1.5 1.5 1.5 -1.5 1.5 1.5 2 .5 1.5 1.5 1.5 0 1.5 0 1.5 .5 2 .5 1.5 .5 1.5 -.5 1.5 -.5 1.5 1 2 -2.5 1.5 2.5 1.5 -1.5 1.5 0 1.5 -1 2 .5 1.5 -.5 1.5 -2 1.5 1 1.5 -.5 2 0 1.5 -2.5 1.5 7.5 1.5 -3 1.5 3 2 3.5 1.5 4.5 1.5 3.5 1.5 1 1.5 .5 2 -1.5 1.5 .5 1.5 7 1.5 5 1.5 -1 2 -.5 1.5 2 1.5 1 1.5 -9 1.5 -1 2 -1.5 1.5 1 1.5 -6.5 1.5 -7.5 1.5 6.5 2 -.5 1.5 0 1.5 2.5 1.5 -1 1.5 0 2 0 1.5 .5 1.5 2 1.5 -2 1.5 .5 2 1 1.5 -2 1.5 1 1.5 2 1.5 -2 2 -.5 1.5 0 1.5 -1 1.5 .5 1.5 -.5 2 1.5 1.5 0 1.5 -.5 1.5 0 1.5 .5 2 -1.5 1.5 1.5 1.5 0 1.5 -1.5 1.5 1 2 1 1.5 -1.5 1.5 1 1.5 0 1.5 -.5 2 -1.5 1.5 2.5 1.5 -1.5 1.5 .5 1.5 0 2 0 1.5 -1 1.5 2.5 1.5 -1.5 1.5 0 2 1.5 1.5 -1 1.5 2 1.5 -1.5 1.5 -1 2 0 1.5 -1.5 1.5 2 1.5 -1 1.5 1 2 1.5 1.5 -1 1.5 -2 1.5 0 1.5 -.5 2 1 1.5 0 1.5 2 1.5 0 1.5 -1.5 2 2 1.5 0 1.5 -1 1.5 -1 1.5 2.5 2 -1.5 1.5 2 1.5 0 1.5 -3.5 1.5 2 2 0 1.5 -.5 1.5 -1 1.5 .5 1.5 0 2 1.5 1.5 0 1.5 -2 1.5 -.5 1.5 .5 2 1 1.5 0 1.5 -.5 1.5 .5 1.5 -.5 2 -1 1.5 2.5 1.5 0 1.5 -1.5 1.5 1.5 2 .5 1.5 .5 1.5 .5 1.5 .5 1.5 -.5 2 0 1.5 -.5 1.5 -1 1.5 2 1.5 -1 2 0 1.5 -1.5 1.5 2 1.5 -1 1.5 2 2 -2.5 1.5 1 1.5 2.5 1.5 -1 1.5 1 2 -2 1.5 3.5 1.5 -.5 1.5 .5 1.5 0 2 0 1.5 1.5 1.5 -1.5 1.5 -1.5 1.5 .5 2 1.5 1.5 -1 1.5 -.5 1.5 1.5 1.5 0 2 -.5 1.5 -1.5 1.5 -.5 1.5 .5 1.5 0 2 .5 1.5 2 1.5 -2.5 1.5 1.5 1.5 0 2 -.5 1.5 -.5 1.5 -.5 1.5 -.5 1.5 1.5 2 -1.5 1.5 1.5 1.5 -1 1.5 .5 1.5 1.5 2 -.5 1.5 -3 1.5 1.5 1.5 -1 1.5 1 2 1.5 1.5 -1 1.5 1.5 1.5 -2.5 1.5 0 2 -1 1.5 0 1.5 -1 1.5 -.5 1.5 2 2 -2.5 1.5 1 1.5 1.5 1.5 -1 1.5 0 2 .5 1.5 2 1.5 0 1.5 .5 1.5 .5 2 2.5 1.5 -1.5 1.5 -.5 1.5 1 1.5 0 2 -.5 1.5 -2 1.5 2.5 1.5 -.5 1.5 -1 2 -1 1.5 .5 1.5 0 1.5 1 1.5 -1 2 -.5 1.5 1 1.5 -1 1.5 1.5 1.5 -2 2 0 1.5 .5 1.5 -.5 1.5 1 1.5 -1 2 .5 1.5 -1 1.5 0 1.5 -.5 1.5 -1 2 1.5 1.5 2 1.5 -.5 1.5 .5 1.5 0 2 -1 1.5 0 1.5 1.5 1.5 1.5 1.5 -1.5 2 0 1.5 -.5 1.5 -.5 1.5 .5 1.5 1 2 -.5 1.5 0 1.5 .5 1.5 1 1.5 -.5 2 -2 1.5 3 1.5 -1.5 1.5 4 1.5 -1.5 2 0 1.5 -2.5 1.5 -.5 1.5 0 1.5 -.5 2 -.5 1.5 .5 1.5 0 1.5 0 1.5 -1.5 2 -2 1.5 2 1.5 0 1.5 0 1.5 1 2 0 1.5 -1 1.5 1 1.5 0 1.5 -2 2 0 1.5 .5 1.5 1 1.5 -1 1.5 0 2 1 1.5 -.5 1.5 1.5 1.5 -1.5 1.5 1.5 2 -.5 1.5 2.5 1.5 0 1.5 -4 1.5 -1.5 2 -3.5 1.5 -1 1.5 -1.5 1.5 -1.5 1.5 -1.5 2 -1 1.5 -4 1.5 -.5 1.5 -2.5 1.5 3 2 .5 1.5 0 1.5 -1 1.5 1 1.5 -1 2 3 1.5 -2.5 1.5 .5 1.5 -1.5 1.5 2.5 2 -1.5 1.5 .5 1.5 -1.5 1.5 2 1.5 0 2 0 1.5 -1 1.5 -.5 1.5 .5 1.5 -2 2 1 1.5 1.5 1.5 -2 1.5 3 1.5 -1.5 2 -1.5 1.5 1 1.5 1.5 1.5 -1.5 1.5 0 2 1.5 1.5 -.5 1.5 0 1.5 -1.5 1.5 -.5 2 -.5 1.5 1.5 1.5 0 1.5 -1.5 1.5 1 2 -1.5 1.5 0 1.5 -.5 1.5 1.5 1.5 -3 2 3 1.5 .5 1.5 -.5 1.5 2.5 1.5 -.5 2 0 1.5 -1.5 1.5 1.5 1.5 0 1.5 .5 2 .5 1.5 -1 1.5 0 1.5 .5 1.5 .5 2 -1.5 1.5 -2 1.5 2.5 1.5 0 1.5 -1 2 -.5 1.5 0 1.5 -1.5 1.5 2.5 1.5 -1.5 2 0 1.5 0 1.5 -1 1.5 1.5 1.5 .5 2 -2 1.5 2 1.5 -1.5 1.5 1.5 1.5 .5 2 -1 1.5 -.5 1.5 -1 1.5 1 1.5 .5 2 2 1.5 -1 1.5 -2 1.5 2 1.5 1.5 2 0 1.5 2 1.5 1.5 1.5 -1.5 1.5 -1 2 -5.5 1.5 -3.5 1.5 -1.5 1.5 -2.5 1.5 1 2 -6 1.5 -1 1.5 -2 1.5 1.5 1.5 1.5 2 2.5 1.5 5.5 1.5 5.5 1.5 8 1.5 1.5 2 -.5 1.5 -1.5 1.5 1 1.5 8.5 1.5 -5 2 -1 1.5 -4.5 1.5 7 1.5 1.5 1.5 -1 2 0 1.5 -1.5 1.5 0 1.5 -.5 1.5 0 2 .5 1.5 .5 1.5 -.5 1.5 .5 1.5 -.5 2 -.5 1.5 1.5 1.5 -1 1.5 1 1.5 -1 2 1.5 1.5 -.5 1.5 0 1.5 0 1.5 -2 2 2 1.5 0 1.5 1 1.5 -1 1.5 1 2 0 1.5 .5 1.5 -1.5 1.5 -1 1.5 0 2 .5 1.5 0 1.5 -1 1.5 -1.5 1.5 0 2 0 1.5 -.5 1.5 0 1.5 -1.5 1.5 2 2 1.5 1.5 -1 1.5 -2 1.5 2.5 1.5 -2 2 3.5 1.5 -1 1.5 -1 1.5 2 1.5 -2 2 2 1.5 0 1.5 0 1.5 2 1.5 -2 2 2.5 1.5 -1 1.5 -1 1.5 -1.5 1.5 2.5 2 0 1.5 -1.5 1.5 0 1.5 -1.5 1.5 0 2 -.5 1.5 0 1.5 1 1.5 -1 1.5 -2 2 3 1.5 -1 1.5 -.5 1.5 0 1.5 0 2 1 1.5 -.5 1.5 1 1.5 -1.5 1.5 0 2 1 1.5 -.5 1.5 2.5 1.5 -2 1.5 0 2 -1 1.5 0 1.5 2 1.5 -1 1.5 -1.5 2 .5 1.5 2 1.5 -1.5 1.5 3 1.5 -1 2 -.5 1.5 1.5 1.5 .5 1.5 -1 1.5 -1 2 .5 1.5 0 1.5 -1.5 1.5 0 1.5 -.5 2 .5 1.5 2 1.5 5 1.5 3" fill="none" stroke="#8a8a8a" stroke-width="2.0" stroke-linejoin="round" /><path d="M159,273.5l1.5 2 1.5 7 2 2 1.5 8 1.5 3.5 1.5 1.5 1.5 1.5 2 2 1.5 1.5 1.5 2.5 1.5 0 1.5 -.5 2 0 1.5 -2 1.5 2 1.5 0 1.5 -2.5 2 2 1.5 1.5 1.5 -2 1.5 .5 1.5 0 2 -.5 1.5 .5 1.5 0 1.5 2 1.5 -.5 2 -2 1.5 2.5 1.5 -2 1.5 -1 1.5 .5 2 0 1.5 -2 1.5 2 1.5 -2.5 1.5 2 2 -1 1.5 1.5 1.5 .5 1.5 -.5 1.5 -1.5 2 1.5 1.5 .5 1.5 -1.5 1.5 1 1.5 1 2 -2 1.5 1 1.5 -2 1.5 .5 1.5 0 2 1 1.5 -1 1.5 0 1.5 0 1.5 -1.5 2 2.5 1.5 -1.5 1.5 .5 1.5 1 1.5 0 2 1 1.5 -3 1.5 1 1.5 0 1.5 .5 2 -1 1.5 2.5 1.5 -1 1.5 -1.5 1.5 -1 2 0 1.5 1 1.5 -2 1.5 0 1.5 1 2 -1.5 1.5 0 1.5 .5 1.5 -1 1.5 .5 2 -1.5 1.5 1.5 1.5 0 1.5 .5 1.5 1 2 -1 1.5 .5 1.5 1.5 1.5 -1.5 1.5 -1 2 2 1.5 0 1.5 -2 1.5 .5 1.5 -1.5 2 .5 1.5 .5 1.5 -.5 1.5 -.5 1.5 0 2 -1.5 1.5 1.5 1.5 0 1.5 .5 1.5 1 2 -1.5 1.5 0 1.5 -2.5 1.5 1 1.5 -.5 2 .5 1.5 -1.5 1.5 -.5 1.5 1 1.5 -2 2 .5 1.5 .5 1.5 -2 1.5 -1 1.5 2 2 0 1.5 -.5 1.5 -.5 1.5 -1 1.5 1 2 .5 1.5 -1.5 1.5 0 1.5 -1 1.5 1 2 2.5 1.5 -2.5 1.5 1.5 1.5 .5 1.5 -1.5 2 .5 1.5 -1 1.5 -.5 1.5 1.5 1.5 1 2 -1 1.5 0 1.5 -2 1.5 -1.5 1.5 2 2 0 1.5 -2.5 1.5 2.5 1.5 -.5 1.5 4 2 .5 1.5 -2.5 1.5 -2 1.5 7.5 1.5 4 2 1 1.5 -2 1.5 0 1.5 3.5 1.5 5 2 3 1.5 1.5 1.5 -5.5 1.5 0 1.5 -3.5 2 0 1.5 -6.5 1.5 -6.5 1.5 -4.5 1.5 5.5 2 -.5 1.5 .5 1.5 0 1.5 1 1.5 1 2 -1.5 1.5 1.5 1.5 1 1.5 -.5 1.5 1.5 2 3 1.5 1 1.5 -1.5 1.5 0 1.5 1 2 .5 1.5 -1.5 1.5 1 1.5 .5 1.5 -1 2 2.5 1.5 -3 1.5 -1 1.5 0 1.5 1 2 -2 1.5 -1.5 1.5 .5 1.5 -.5 1.5 -.5 2 -.5 1.5 .5 1.5 -.5 1.5 .5 1.5 1 2 -2 1.5 2.5 1.5 -.5 1.5 -.5 1.5 -2 2 3 1.5 -2.5 1.5 1 1.5 .5 1.5 -.5 2 0 1.5 -1 1.5 1.5 1.5 1 1.5 .5 2 0 1.5 0 1.5 1.5 1.5 -1 1.5 0 2 2.5 1.5 -2.5 1.5 1.5 1.5 -1.5 1.5 .5 2 -2.5 1.5 1 1.5 1 1.5 -.5 1.5 0 2 -.5 1.5 1 1.5 0 1.5 1 1.5 -.5 2 -.5 1.5 2.5 1.5 0 1.5 -2 1.5 1.5 2 -.5 1.5 0 1.5 -1 1.5 0 1.5 .5 2 -2.5 1.5 2 1.5 -1 1.5 -1.5 1.5 .5 2 -.5 1.5 .5 1.5 -1.5 1.5 0 1.5 2 2 -1.5 1.5 -1 1.5 3 1.5 -.5 1.5 -2 2 3 1.5 1.5 1.5 0 1.5 2 1.5 -1 2 1 1.5 -2 1.5 .5 1.5 1 1.5 -.5 2 -.5 1.5 -2 1.5 1 1.5 -1 1.5 .5 2 -1 1.5 1 1.5 -2 1.5 3 1.5 -2 2 1 1.5 1.5 1.5 -2.5 1.5 -1 1.5 1.5 2 .5 1.5 0 1.5 -3 1.5 1.5 1.5 -1.5 2 2.5 1.5 -2.5 1.5 -.5 1.5 2 1.5 0 2 -1 1.5 2 1.5 -2 1.5 -1 1.5 3.5 2 0 1.5 -.5 1.5 .5 1.5 -.5 1.5 1 2 .5 1.5 -1 1.5 .5 1.5 -3 1.5 2.5 2 -.5 1.5 -2.5 1.5 0 1.5 .5 1.5 1 2 .5 1.5 .5 1.5 0 1.5 .5 1.5 .5 2 1 1.5 -.5 1.5 .5 1.5 .5 1.5 0 2 1.5 1.5 -1.5 1.5 1.5 1.5 -2 1.5 0 2 -1 1.5 0 1.5 .5 1.5 -.5 1.5 0 2 -.5 1.5 1 1.5 0 1.5 -.5 1.5 .5 2 -.5 1.5 -2 1.5 2 1.5 -2 1.5 0 2 2.5 1.5 -2 1.5 -1 1.5 -.5 1.5 -.5 2 0 1.5 3 1.5 -1 1.5 2.5 1.5 -2.5 2 1.5 1.5 -1 1.5 1.5 1.5 -1 1.5 2 2 -1 1.5 .5 1.5 0 1.5 -.5 1.5 0 2 .5 1.5 -1 1.5 -3 1.5 1.5 1.5 -1.5 2 .5 1.5 .5 1.5 -1.5 1.5 -.5 1.5 1.5 2 -1 1.5 1.5 1.5 -.5 1.5 .5 1.5 1.5 2 -1.5 1.5 1 1.5 0 1.5 1 1.5 0 2 0 1.5 -1 1.5 -1 1.5 0 1.5 -1.5 2 1 1.5 1 1.5 -4 1.5 -1 1.5 2 2 -1.5 1.5 1.5 1.5 -1 1.5 .5 1.5 0 2 -.5 1.5 1 1.5 -1.5 1.5 .5 1.5 1 2 1 1.5 -1 1.5 -.5 1.5 0 1.5 0 2 1.5 1.5 -.5 1.5 1 1.5 0 1.5 1 2 0 1.5 1 1.5 -2.5 1.5 2 1.5 -2 2 0 1.5 0 1.5 .5 1.5 .5 1.5 -1 2 -1 1.5 -1 1.5 3.5 1.5 1 1.5 .5 2 5.5 1.5 0 1.5 6 1.5 0 1.5 2 2 0 1.5 0 1.5 2.5 1.5 4 1.5 2 2 4 1.5 -3 1.5 -1 1.5 1 1.5 -.5 2 1 1.5 -1 1.5 .5 1.5 0 1.5 .5 2 -1 1.5 -.5 1.5 2 1.5 -1 1.5 -1 2 .5 1.5 -1 1.5 2.5 1.5 -3 1.5 2 2 -3 1.5 1.5 1.5 0 1.5 0 1.5 1 2 0 1.5 0 1.5 -.5 1.5 3 1.5 -1.5 2 -1 1.5 -.5 1.5 .5 1.5 -.5 1.5 1.5 2 -1.5 1.5 1 1.5 -.5 1.5 1.5 1.5 1 2 -2 1.5 1.5 1.5 1 1.5 -.5 1.5 0 2 1.5 1.5 -1 1.5 -1 1.5 1.5 1.5 -1 2 -2 1.5 1.5 1.5 0 1.5 2 1.5 -1.5 2 .5 1.5 .5 1.5 .5 1.5 -1 1.5 1 2 -.5 1.5 2.5 1.5 1 1.5 -3 1.5 1 2 -.5 1.5 -.5 1.5 -.5 1.5 0 1.5 0 2 -2 1.5 .5 1.5 0 1.5 1.5 1.5 .5 2 -3 1.5 -.5 1.5 2 1.5 1 1.5 0 2 -.5 1.5 1 1.5 -.5 1.5 -1.5 1.5 2 2 -1.5 1.5 -1 1.5 1.5 1.5 -1.5 1.5 -2.5 2 .5 1.5 -2 1.5 -1 1.5 -2 1.5 -9 2 -2 1.5 2 1.5 -4 1.5 -3 1.5 -6 2 0 1.5 -1 1.5 -4.5 1.5 -1 1.5 .5 2 -1 1.5 1 1.5 -.5 1.5 6.5 1.5 -9 2 .5 1.5 -3.5 1.5 4.5 1.5 4.5 1.5 -1.5 2 -1 1.5 -4 1.5 5.5 1.5 .5 1.5 -.5 2 -.5 1.5 -.5 1.5 0 1.5 0 1.5 -.5 2 1.5 1.5 -1 1.5 1 1.5 .5 1.5 -.5 2 -1 1.5 0 1.5 -1 1.5 .5 1.5 -1.5 2 1 1.5 1 1.5 -1 1.5 1 1.5 -1 2 2 1.5 -1 1.5 .5 1.5 -.5 1.5 1.5 2 -.5 1.5 -1 1.5 -1 1.5 .5 1.5 -1 2 2 1.5 0 1.5 -3 1.5 .5 1.5 1 2 1.5 1.5 -1 1.5 0 1.5 0 1.5 .5 2 1 1.5 -.5 1.5 -2 1.5 .5 1.5 1 2 -.5 1.5 0 1.5 -1.5 1.5 -1 1.5 2 2 -.5 1.5 -.5 1.5 .5 1.5 1 1.5 2 2 -2 1.5 .5 1.5 -1 1.5 -2 1.5 2.5 2 .5 1.5 -1 1.5 0 1.5 2.5 1.5 -3.5 2 0 1.5 1.5 1.5 -1 1.5 -1.5 1.5 1.5 2 -.5 1.5 0 1.5 .5 1.5 -1.5 1.5 .5 2 1 1.5 -2.5 1.5 2 1.5 .5 1.5 -1.5 2 1 1.5 -1 1.5 1.5 1.5 0 1.5 1 2 .5 1.5 -1 1.5 .5 1.5 0 1.5 0 2 -.5 1.5 2.5 1.5 -1 1.5 .5 1.5 -2 2 1.5 1.5 .5 1.5 -1 1.5 -2.5 1.5 1.5 2 -.5 1.5 .5 1.5 -1 1.5 1.5 1.5 -1 2 1 1.5 1.5 1.5 3 1.5 2.5" fill="none" stroke="#8a8a8a" stroke-width="2.0" stroke-linejoin="round" /><path d="M159,277.5l1.5 4 1.5 6.5 2 2.5 1.5 5.5 1.5 10.5 1.5 1.5 1.5 -1.5 2 0 1.5 -1.5 1.5 3.5 1.5 -3 1.5 1.5 2 -.5 1.5 .5 1.5 0 1.5 1.5 1.5 .5 2 0 1.5 1.5 1.5 -2.5 1.5 2 1.5 .5 2 0 1.5 -2.5 1.5 -1.5 1.5 2.5 1.5 -1 2 -1.5 1.5 1.5 1.5 -2 1.5 0 1.5 -1.5 2 1 1.5 -1 1.5 .5 1.5 1 1.5 -1 2 -1.5 1.5 1.5 1.5 0 1.5 -.5 1.5 1 2 1 1.5 .5 1.5 0 1.5 1 1.5 -1.5 2 2 1.5 -1.5 1.5 0 1.5 3 1.5 0 2 -2.5 1.5 -1 1.5 -.5 1.5 1.5 1.5 -.5 2 -1.5 1.5 1 1.5 1 1.5 -.5 1.5 .5 2 -2 1.5 .5 1.5 -1 1.5 -.5 1.5 -.5 2 -1.5 1.5 0 1.5 -.5 1.5 0 1.5 0 2 -2 1.5 0 1.5 3 1.5 -1.5 1.5 -.5 2 2 1.5 .5 1.5 -.5 1.5 1 1.5 -2 2 1.5 1.5 0 1.5 2 1.5 -1.5 1.5 0 2 0 1.5 -1 1.5 -1 1.5 1.5 1.5 -.5 2 -1 1.5 1 1.5 0 1.5 -1.5 1.5 1 2 .5 1.5 -1 1.5 -2 1.5 .5 1.5 1.5 2 -2.5 1.5 2 1.5 -.5 1.5 .5 1.5 -1 2 -1.5 1.5 .5 1.5 2.5 1.5 -2.5 1.5 .5 2 -1.5 1.5 0 1.5 .5 1.5 -.5 1.5 1 2 -2 1.5 0 1.5 0 1.5 -.5 1.5 -.5 2 2.5 1.5 -2.5 1.5 3.5 1.5 -1 1.5 -1.5 2 -1 1.5 1.5 1.5 -1 1.5 .5 1.5 -2.5 2 0 1.5 0 1.5 -1 1.5 .5 1.5 -1.5 2 -.5 1.5 1 1.5 0 1.5 1.5 1.5 1 2 -1 1.5 -.5 1.5 1 1.5 -1.5 1.5 0 2 1.5 1.5 -3 1.5 -2 1.5 -1 1.5 4 2 1.5 1.5 6.5 1.5 0 1.5 -2.5 1.5 7 2 3 1.5 6.5 1.5 3 1.5 6.5 1.5 4 2 1 1.5 1.5 1.5 0 1.5 -3 1.5 -4.5 2 -5.5 1.5 -5 1.5 -2.5 1.5 -2.5 1.5 -2 2 .5 1.5 -1.5 1.5 1.5 1.5 0 1.5 -1 2 2 1.5 -.5 1.5 -1 1.5 3 1.5 -2 2 2.5 1.5 -.5 1.5 0 1.5 0 1.5 -.5 2 0 1.5 .5 1.5 -2.5 1.5 3 1.5 -.5 2 0 1.5 -2 1.5 -1.5 1.5 .5 1.5 .5 2 1 1.5 -.5 1.5 0 1.5 1 1.5 -2 2 3 1.5 -2 1.5 1.5 1.5 1.5 1.5 -1 2 .5 1.5 1.5 1.5 -3 1.5 1 1.5 0 2 -.5 1.5 .5 1.5 -.5 1.5 0 1.5 0 2 -.5 1.5 -.5 1.5 -1.5 1.5 1 1.5 2.5 2 -.5 1.5 -1 1.5 -1 1.5 .5 1.5 .5 2 .5 1.5 -1 1.5 1 1.5 -1 1.5 .5 2 -2.5 1.5 .5 1.5 -1 1.5 2 1.5 0 2 -1.5 1.5 0 1.5 0 1.5 -1 1.5 0 2 -.5 1.5 1.5 1.5 0 1.5 -1 1.5 -.5 2 .5 1.5 -.5 1.5 -.5 1.5 1.5 1.5 -.5 2 -.5 1.5 -.5 1.5 2 1.5 -1 1.5 .5 2 -1 1.5 1.5 1.5 .5 1.5 -.5 1.5 .5 2 -.5 1.5 -1 1.5 0 1.5 3.5 1.5 -1.5 2 1.5 1.5 -1.5 1.5 -1 1.5 0 1.5 -.5 2 .5 1.5 -1 1.5 1 1.5 0 1.5 -1.5 2 1.5 1.5 -1.5 1.5 .5 1.5 -1 1.5 0 2 4 1.5 -1 1.5 -1 1.5 -2.5 1.5 2 2 .5 1.5 -.5 1.5 0 1.5 -1.5 1.5 1.5 2 -1 1.5 .5 1.5 1 1.5 -1.5 1.5 1 2 -.5 1.5 -.5 1.5 -.5 1.5 -.5 1.5 0 2 -1.5 1.5 .5 1.5 .5 1.5 -1.5 1.5 0 2 0 1.5 2 1.5 -1 1.5 0 1.5 1 2 1.5 1.5 -1 1.5 .5 1.5 -.5 1.5 0 2 -.5 1.5 0 1.5 0 1.5 .5 1.5 0 2 1 1.5 .5 1.5 -.5 1.5 -1.5 1.5 .5 2 0 1.5 -1 1.5 1.5 1.5 -.5 1.5 -.5 2 0 1.5 2 1.5 -2 1.5 1 1.5 -.5 2 0 1.5 0 1.5 -.5 1.5 -1 1.5 -1 2 1 1.5 -.5 1.5 0 1.5 0 1.5 1 2 -1 1.5 -.5 1.5 .5 1.5 -1 1.5 2 2 -.5 1.5 1 1.5 -2.5 1.5 0 1.5 .5 2 -1 1.5 1 1.5 0 1.5 1 1.5 -1.5 2 .5 1.5 0 1.5 -2 1.5 2 1.5 1 2 -2 1.5 .5 1.5 1.5 1.5 -.5 1.5 -1.5 2 3.5 1.5 -1 1.5 -1 1.5 -1 1.5 2.5 2 1 1.5 -1 1.5 0 1.5 -2 1.5 .5 2 -1 1.5 3 1.5 -1 1.5 -1.5 1.5 0 2 2 1.5 0 1.5 0 1.5 .5 1.5 1.5 2 -2.5 1.5 -1 1.5 1 1.5 -1.5 1.5 1 2 .5 1.5 .5 1.5 -1 1.5 1.5 1.5 -1 2 1.5 1.5 -1 1.5 1 1.5 -1 1.5 1 2 -.5 1.5 -.5 1.5 -.5 1.5 .5 1.5 -2.5 2 3.5 1.5 -2.5 1.5 .5 1.5 -.5 1.5 -.5 2 1 1.5 0 1.5 0 1.5 -.5 1.5 0 2 -1 1.5 3 1.5 -2.5 1.5 -.5 1.5 1.5 2 1.5 1.5 -2.5 1.5 0 1.5 1 1.5 .5 2 -1.5 1.5 2.5 1.5 2 1.5 2 1.5 1 2 -.5 1.5 2.5 1.5 .5 1.5 3.5 1.5 -2 2 1 1.5 -1.5 1.5 1.5 1.5 0 1.5 1 2 -.5 1.5 1 1.5 0 1.5 -.5 1.5 0 2 1 1.5 1.5 1.5 -4 1.5 -1 1.5 .5 2 0 1.5 0 1.5 0 1.5 1.5 1.5 0 2 1 1.5 -.5 1.5 -1 1.5 2 1.5 -1 2 0 1.5 0 1.5 2 1.5 -.5 1.5 -2 2 0 1.5 .5 1.5 .5 1.5 1 1.5 0 2 -1 1.5 -1 1.5 1.5 1.5 -1.5 1.5 3 2 0 1.5 0 1.5 .5 1.5 .5 1.5 -1 2 -2.5 1.5 1 1.5 -1.5 1.5 1 1.5 .5 2 1 1.5 1 1.5 -1 1.5 .5 1.5 1 2 .5 1.5 -.5 1.5 -1.5 1.5 1.5 1.5 1 2 -.5 1.5 -1.5 1.5 .5 1.5 0 1.5 -.5 2 2 1.5 -2.5 1.5 1 1.5 -.5 1.5 1.5 2 -1.5 1.5 0 1.5 1 1.5 -1.5 1.5 1 2 -2 1.5 1.5 1.5 -.5 1.5 -.5 1.5 1.5 2 -1 1.5 0 1.5 -.5 1.5 -1 1.5 1 2 -.5 1.5 1.5 1.5 .5 1.5 -1.5 1.5 -1 2 .5 1.5 .5 1.5 1 1.5 -.5 1.5 -2 2 2 1.5 -5 1.5 -1 1.5 -1.5 1.5 -2 2 2.5 1.5 1 1.5 6.5 1.5 -6.5 1.5 -2 2 -3.5 1.5 1.5 1.5 -1.5 1.5 3 1.5 -2.5 2 -3 1.5 2 1.5 2 1.5 3 1.5 2 2 5 1.5 2.5 1.5 -1.5 1.5 -3 1.5 -5.5 2 6.5 1.5 5 1.5 0 1.5 .5 1.5 -.5 2 -1 1.5 -.5 1.5 -1 1.5 2.5 1.5 0 2 1 1.5 -1.5 1.5 1.5 1.5 -.5 1.5 -.5 2 1 1.5 -.5 1.5 .5 1.5 2 1.5 0 2 0 1.5 -3.5 1.5 1 1.5 -1.5 1.5 -.5 2 .5 1.5 -.5 1.5 0 1.5 1 1.5 0 2 1.5 1.5 -2.5 1.5 0 1.5 -.5 1.5 2 2 1 1.5 .5 1.5 -1.5 1.5 .5 1.5 -1 2 1.5 1.5 -.5 1.5 -1.5 1.5 4 1.5 -1 2 -.5 1.5 0 1.5 -1.5 1.5 2 1.5 -1.5 2 2 1.5 -2.5 1.5 -2 1.5 1.5 1.5 1 2 -2.5 1.5 1.5 1.5 -1.5 1.5 -1 1.5 -1.5 2 3 1.5 -2 1.5 1.5 1.5 -1 1.5 0 2 2.5 1.5 -1.5 1.5 0 1.5 -1 1.5 1.5 2 1.5 1.5 -1 1.5 .5 1.5 -1 1.5 1.5 2 -2.5 1.5 1.5 1.5 1 1.5 -1 1.5 -2 2 1 1.5 .5 1.5 1.5 1.5 -2 1.5 -1 2 2 1.5 1 1.5 -1 1.5 .5 1.5 -.5 2 0 1.5 -2 1.5 2 1.5 1 1.5 -1.5 2 3.5 1.5 -2.5 1.5 0 1.5 1 1.5 -.5 2 1 1.5 -1 1.5 1 1.5 -2 1.5 0 2 -1 1.5 0 1.5 0 1.5 -1.5 1.5 -1 2 -1.5 1.5 -3 1.5 -3 1.5 -3" fill="none" stroke="#8a8a8a" stroke-width="2.0" stroke-linejoin="round" /><path d="M159,280l1.5 .5 1.5 -.5 2 .5 1.5 0 1.5 1.5 1.5 1 1.5 0 2 2 1.5 0 1.5 1 1.5 -2 1.5 1.5 2 -.5 1.5 -1 1.5 1.5 1.5 -2.5 1.5 .5 2 0 1.5 0 1.5 -1.5 1.5 0 1.5 1.5 2 -.5 1.5 -.5 1.5 1.5 1.5 -1 1.5 1 2 -.5 1.5 -1 1.5 .5 1.5 .5 1.5 1 2 0 1.5 -.5 1.5 .5 1.5 .5 1.5 1 2 .5 1.5 1 1.5 0 1.5 .5 1.5 -.5 2 -.5 1.5 .5 1.5 1 1.5 -1 1.5 0 2 -.5 1.5 -.5 1.5 0 1.5 .5 1.5 -1 2 -3 1.5 3 1.5 1 1.5 .5 1.5 -.5 2 .5 1.5 -.5 1.5 .5 1.5 .5 1.5 -1.5 2 .5 1.5 1 1.5 -1.5 1.5 2 1.5 -2 2 1.5 1.5 -.5 1.5 -1 1.5 -1 1.5 0 2 -1 1.5 1.5 1.5 .5 1.5 1 1.5 -.5 2 -.5 1.5 1 1.5 .5 1.5 -1.5 1.5 2 2 0 1.5 -.5 1.5 -1 1.5 0 1.5 2.5 2 1.5 1.5 -2.5 1.5 1.5 1.5 .5 1.5 -2.5 2 .5 1.5 2 1.5 .5 1.5 0 1.5 0 2 0 1.5 -1.5 1.5 3 1.5 -2.5 1.5 .5 2 2 1.5 1 1.5 -1 1.5 1 1.5 -2 2 .5 1.5 -1 1.5 .5 1.5 0 1.5 .5 2 2.5 1.5 -1.5 1.5 .5 1.5 2 1.5 -2 2 -.5 1.5 2.5 1.5 -1 1.5 1.5 1.5 1 2 -2 1.5 1 1.5 1.5 1.5 -2 1.5 .5 2 .5 1.5 -.5 1.5 -.5 1.5 1.5 1.5 -1 2 .5 1.5 -1 1.5 1 1.5 0 1.5 2 2 -1 1.5 2 1.5 -2 1.5 1 1.5 1 2 0 1.5 -2 1.5 1 1.5 -.5 1.5 1 2 -3.5 1.5 3 1.5 2 1.5 -.5 1.5 3 2 3 1.5 5 1.5 2.5 1.5 6 1.5 3 2 .5 1.5 1.5 1.5 3 1.5 3.5 1.5 4 2 3.5 1.5 2.5 1.5 -4.5 1.5 -1 1.5 0 2 0 1.5 -1 1.5 -1 1.5 1.5 1.5 -1.5 2 1 1.5 .5 1.5 0 1.5 0 1.5 .5 2 0 1.5 1.5 1.5 1 1.5 .5 1.5 .5 2 -1.5 1.5 -1 1.5 1.5 1.5 -.5 1.5 .5 2 -1.5 1.5 -1.5 1.5 .5 1.5 1 1.5 .5 2 -.5 1.5 1.5 1.5 -1 1.5 .5 1.5 2 2 -.5 1.5 .5 1.5 1.5 1.5 0 1.5 -1.5 2 1 1.5 -2 1.5 1.5 1.5 -1 1.5 -1.5 2 2 1.5 0 1.5 -2 1.5 .5 1.5 .5 2 -1.5 1.5 1 1.5 0 1.5 -1.5 1.5 1 2 1 1.5 1.5 1.5 -1 1.5 1.5 1.5 -1 2 0 1.5 2.5 1.5 .5 1.5 -2.5 1.5 0 2 .5 1.5 -2.5 1.5 0 1.5 -.5 1.5 1.5 2 -1 1.5 -.5 1.5 -.5 1.5 -1 1.5 1 2 2 1.5 -2 1.5 1.5 1.5 -1 1.5 1 2 0 1.5 -.5 1.5 0 1.5 -2 1.5 2.5 2 -1 1.5 -.5 1.5 0 1.5 .5 1.5 .5 2 0 1.5 0 1.5 0 1.5 1 1.5 .5 2 -1 1.5 0 1.5 -.5 1.5 0 1.5 -1 2 2 1.5 .5 1.5 -2 1.5 -.5 1.5 2 2 -1 1.5 .5 1.5 .5 1.5 0 1.5 -.5 2 -1 1.5 1.5 1.5 -1.5 1.5 -1 1.5 1 2 .5 1.5 -2.5 1.5 2.5 1.5 -.5 1.5 1 2 -1 1.5 -1 1.5 2 1.5 0 1.5 -2 2 1 1.5 0 1.5 1 1.5 -2 1.5 1 2 -2.5 1.5 2 1.5 -2.5 1.5 1 1.5 .5 2 0 1.5 .5 1.5 .5 1.5 .5 1.5 -1.5 2 1.5 1.5 .5 1.5 0 1.5 -.5 1.5 1.5 2 -.5 1.5 .5 1.5 0 1.5 -1 1.5 -2 2 -2.5 1.5 2.5 1.5 -.5 1.5 1.5 1.5 -3 2 3 1.5 -1.5 1.5 1 1.5 -1.5 1.5 0 2 -1 1.5 1.5 1.5 -1 1.5 .5 1.5 .5 2 -1 1.5 -1.5 1.5 0 1.5 -1 1.5 0 2 0 1.5 0 1.5 -1 1.5 3.5 1.5 -1.5 2 2.5 1.5 1 1.5 -2.5 1.5 2.5 1.5 -.5 2 1 1.5 -.5 1.5 .5 1.5 1 1.5 1 2 1 1.5 -2.5 1.5 -.5 1.5 2.5 1.5 -1.5 2 0 1.5 1 1.5 0 1.5 0 1.5 -1.5 2 .5 1.5 2 1.5 0 1.5 0 1.5 0 2 0 1.5 1 1.5 -1 1.5 0 1.5 0 2 .5 1.5 1 1.5 0 1.5 0 1.5 -.5 2 -1 1.5 -.5 1.5 0 1.5 1 1.5 1 2 1.5 1.5 -.5 1.5 .5 1.5 0 1.5 2 2 -.5 1.5 -.5 1.5 1.5 1.5 .5 1.5 1 2 -1.5 1.5 1 1.5 -1.5 1.5 1 1.5 1.5 2 -.5 1.5 -.5 1.5 -.5 1.5 -.5 1.5 -.5 2 1 1.5 0 1.5 -.5 1.5 2.5 1.5 -1 2 -.5 1.5 2.5 1.5 -1 1.5 -1.5 1.5 1.5 2 .5 1.5 -1.5 1.5 .5 1.5 -.5 1.5 -1 2 2.5 1.5 .5 1.5 -2 1.5 1.5 1.5 -1.5 2 1.5 1.5 0 1.5 -1 1.5 2 1.5 -.5 2 .5 1.5 1.5 1.5 -.5 1.5 1 1.5 -1 2 1 1.5 1 1.5 .5 1.5 -1 1.5 3 2 -2 1.5 4 1.5 -3.5 1.5 -2.5 1.5 -2.5 2 -.5 1.5 -5 1.5 -1 1.5 -2 1.5 1 2 2 1.5 3 1.5 3 1.5 4 1.5 -2.5 2 -.5 1.5 -1.5 1.5 2.5 1.5 -1.5 1.5 -.5 2 -1 1.5 .5 1.5 .5 1.5 -2 1.5 2.5 2 -2.5 1.5 1 1.5 -1.5 1.5 2.5 1.5 -.5 2 -.5 1.5 .5 1.5 -1 1.5 1 1.5 1 2 -1.5 1.5 1 1.5 .5 1.5 -1 1.5 0 2 .5 1.5 0 1.5 2.5 1.5 -2 1.5 2 2 0 1.5 -2.5 1.5 1.5 1.5 .5 1.5 0 2 -1 1.5 1 1.5 -.5 1.5 0 1.5 .5 2 0 1.5 1.5 1.5 -1 1.5 1 1.5 -.5 2 -.5 1.5 1 1.5 2 1.5 -2.5 1.5 -.5 2 .5 1.5 1 1.5 -2 1.5 1.5 1.5 -1.5 2 1.5 1.5 -1.5 1.5 .5 1.5 0 1.5 0 2 0 1.5 -1 1.5 .5 1.5 0 1.5 1 2 -.5 1.5 1.5 1.5 -2 1.5 1.5 1.5 -.5 2 .5 1.5 -1 1.5 -1 1.5 1 1.5 1.5 2 -1 1.5 .5 1.5 -1 1.5 1 1.5 0 2 -1 1.5 .5 1.5 1.5 1.5 0 1.5 -1 2 -1 1.5 1.5 1.5 -1 1.5 -.5 1.5 5.5 2 1 1.5 -1.5 1.5 -7 1.5 -3.5 1.5 -1 2 1 1.5 1.5 1.5 0 1.5 -7 1.5 -3 2 -3 1.5 -3.5 1.5 4.5 1.5 -4 1.5 9 2 -2 1.5 4.5 1.5 -4.5 1.5 .5 1.5 -3 2 -3.5 1.5 -7.5 1.5 1.5 1.5 .5 1.5 5 2 0 1.5 -1 1.5 0 1.5 -.5 1.5 -1 2 0 1.5 .5 1.5 0 1.5 .5 1.5 -1.5 2 1 1.5 -1 1.5 .5 1.5 1 1.5 -2 2 -.5 1.5 2.5 1.5 -1 1.5 0 1.5 .5 2 -1 1.5 -.5 1.5 2 1.5 1.5 1.5 -2.5 2 .5 1.5 1 1.5 -1 1.5 0 1.5 .5 2 1.5 1.5 -2 1.5 1.5 1.5 0 1.5 -1 2 .5 1.5 .5 1.5 1 1.5 -.5 1.5 -2.5 2 1.5 1.5 -1 1.5 0 1.5 -1 1.5 1 2 -.5 1.5 -2.5 1.5 2.5 1.5 -2.5 1.5 0 2 2 1.5 -1.5 1.5 .5 1.5 -.5 1.5 .5 2 1 1.5 -1.5 1.5 1 1.5 -.5 1.5 -1 2 1.5 1.5 -.5 1.5 -.5 1.5 1 1.5 1 2 -.5 1.5 -1.5 1.5 -.5 1.5 0 1.5 -.5 2 1.5 1.5 -.5 1.5 1.5 1.5 -1.5 1.5 0 2 0 1.5 .5 1.5 0 1.5 -.5 1.5 0 2 0 1.5 -1.5 1.5 .5 1.5 1.5 1.5 -1.5 2 1.5 1.5 0 1.5 -3 1.5 0 1.5 2 2 -3 1.5 2 1.5 -.5 1.5 -.5 1.5 0 2 .5 1.5 1 1.5 -1.5 1.5 1 1.5 -.5 2 1 1.5 .5 1.5 -1.5 1.5 .5 1.5 -.5 2 0 1.5 1.5 1.5 -2.5 1.5 2 1.5 1 2 -4 1.5 -4 1.5 -6.5 1.5 -7.5" fill="none" stroke="#8a8a8a" stroke-width="2.0" stroke-linejoin="round" /><path d="M159,300.5l1.5 18 1.5 20.5 2 12.5 1.5 6 1.5 7 1.5 -5 1.5 -6.5 2 -7.5 1.5 1.5 1.5 -.5 1.5 -2 1.5 0 2 -3 1.5 0 1.5 -.5 1.5 -1 1.5 .5 2 1.5 1.5 -1.5 1.5 1.5 1.5 -2.5 1.5 -.5 2 1.5 1.5 1 1.5 -1 1.5 -.5 1.5 .5 2 0 1.5 1 1.5 -.5 1.5 -.5 1.5 1.5 2 -1 1.5 .5 1.5 -2 1.5 0 1.5 2 2 0 1.5 -1.5 1.5 .5 1.5 -1 1.5 -1 2 .5 1.5 -.5 1.5 1.5 1.5 -2.5 1.5 2.5 2 -1 1.5 -1 1.5 0 1.5 .5 1.5 -.5 2 0 1.5 2 1.5 -3 1.5 1 1.5 -2 2 2 1.5 0 1.5 0 1.5 -.5 1.5 -1.5 2 1.5 1.5 -2 1.5 1.5 1.5 -.5 1.5 .5 2 1.5 1.5 -1.5 1.5 0 1.5 -.5 1.5 -1 2 1 1.5 -1 1.5 -.5 1.5 -.5 1.5 0 2 -1 1.5 -.5 1.5 -1.5 1.5 -1 1.5 2.5 2 0 1.5 2 1.5 -1 1.5 2 1.5 0 2 -1 1.5 -.5 1.5 1 1.5 -2 1.5 -.5 2 .5 1.5 -.5 1.5 0 1.5 -3 1.5 1 2 .5 1.5 -1.5 1.5 .5 1.5 0 1.5 -2 2 3.5 1.5 -2 1.5 .5 1.5 1 1.5 -3 2 1 1.5 -1.5 1.5 -.5 1.5 -1.5 1.5 2 2 -2.5 1.5 .5 1.5 0 1.5 -.5 1.5 0 2 0 1.5 .5 1.5 0 1.5 .5 1.5 -1 2 .5 1.5 0 1.5 -.5 1.5 1 1.5 -3 2 3 1.5 -2 1.5 -1.5 1.5 -1 1.5 1 2 -1 1.5 -.5 1.5 .5 1.5 0 1.5 -1 2 1.5 1.5 -.5 1.5 -1 1.5 -2.5 1.5 3.5 2 -2 1.5 .5 1.5 2 1.5 -1 1.5 -2 2 0 1.5 1.5 1.5 -8 1.5 7.5 1.5 4.5 2 1 1.5 -1.5 1.5 4.5 1.5 8.5 1.5 9.5 2 10 1.5 11.5 1.5 2.5 1.5 4 1.5 7 2 9 1.5 4.5 1.5 -5 1.5 1 1.5 -7 2 0 1.5 -8.5 1.5 -6 1.5 -5 1.5 5 2 -1 1.5 .5 1.5 0 1.5 -.5 1.5 0 2 -1.5 1.5 .5 1.5 1.5 1.5 .5 1.5 -1 2 -.5 1.5 0 1.5 2.5 1.5 0 1.5 -2 2 2 1.5 -1 1.5 -.5 1.5 0 1.5 -2 2 .5 1.5 -1 1.5 2 1.5 1 1.5 .5 2 0 1.5 0 1.5 1.5 1.5 -2.5 1.5 2 2 0 1.5 -.5 1.5 1 1.5 -1.5 1.5 .5 2 -1.5 1.5 -1 1.5 2.5 1.5 0 1.5 -1 2 -.5 1.5 -.5 1.5 1.5 1.5 -1 1.5 .5 2 -1 1.5 1 1.5 -.5 1.5 -1 1.5 .5 2 -1 1.5 .5 1.5 .5 1.5 .5 1.5 -2 2 -.5 1.5 1.5 1.5 3.5 1.5 -3 1.5 1 2 -1 1.5 1 1.5 .5 1.5 -1.5 1.5 .5 2 -2 1.5 .5 1.5 -1 1.5 1.5 1.5 -1 2 0 1.5 -1 1.5 1 1.5 0 1.5 -1.5 2 -.5 1.5 .5 1.5 1 1.5 1.5 1.5 -.5 2 -.5 1.5 1.5 1.5 -1 1.5 .5 1.5 .5 2 -1 1.5 -.5 1.5 1 1.5 1 1.5 -1 2 0 1.5 .5 1.5 2 1.5 0 1.5 -.5 2 .5 1.5 .5 1.5 0 1.5 1 1.5 -.5 2 0 1.5 1 1.5 -1.5 1.5 2 1.5 .5 2 .5 1.5 -2 1.5 -.5 1.5 -1.5 1.5 1.5 2 2 1.5 -3.5 1.5 0 1.5 1.5 1.5 -1 2 -2.5 1.5 1.5 1.5 -1 1.5 -2 1.5 3 2 -2 1.5 2.5 1.5 0 1.5 -.5 1.5 -1 2 1.5 1.5 .5 1.5 -.5 1.5 0 1.5 1 2 1.5 1.5 -2.5 1.5 .5 1.5 0 1.5 -.5 2 -.5 1.5 .5 1.5 -1 1.5 .5 1.5 -2 2 3 1.5 1 1.5 -2.5 1.5 2.5 1.5 -3 2 3.5 1.5 -1.5 1.5 .5 1.5 1.5 1.5 -.5 2 -1 1.5 -1 1.5 0 1.5 0 1.5 0 2 1.5 1.5 -1 1.5 -.5 1.5 .5 1.5 1 2 0 1.5 2 1.5 -1 1.5 0 1.5 .5 2 -1 1.5 0 1.5 1.5 1.5 0 1.5 0 2 .5 1.5 -3 1.5 0 1.5 .5 1.5 1 2 -1 1.5 -1 1.5 .5 1.5 -2 1.5 2.5 2 -2.5 1.5 2 1.5 1.5 1.5 -1 1.5 -.5 2 3 1.5 -2.5 1.5 2 1.5 1.5 1.5 .5 2 .5 1.5 0 1.5 1.5 1.5 -1.5 1.5 1.5 2 0 1.5 .5 1.5 -1 1.5 0 1.5 2.5 2 -2.5 1.5 .5 1.5 1 1.5 -1 1.5 .5 2 1 1.5 3 1.5 -3 1.5 1.5 1.5 .5 2 -.5 1.5 0 1.5 1.5 1.5 -1 1.5 2 2 -2 1.5 1 1.5 -.5 1.5 2 1.5 -4 2 2 1.5 2 1.5 -2.5 1.5 2 1.5 -1.5 2 -.5 1.5 2.5 1.5 -1 1.5 1.5 1.5 -1 2 2.5 1.5 -3 1.5 2 1.5 1.5 1.5 -.5 2 -.5 1.5 .5 1.5 -.5 1.5 3 1.5 -2.5 2 0 1.5 -.5 1.5 0 1.5 1.5 1.5 -.5 2 -1 1.5 0 1.5 0 1.5 1.5 1.5 0 2 -.5 1.5 -.5 1.5 2 1.5 -1 1.5 .5 2 .5 1.5 0 1.5 0 1.5 2 1.5 2.5 2 -1.5 1.5 2.5 1.5 1 1.5 -7.5 1.5 -3 2 -2 1.5 -4.5 1.5 -3.5 1.5 -3.5 1.5 -5.5 2 -6 1.5 -1.5 1.5 -4 1.5 1.5 1.5 -2 2 -1 1.5 1.5 1.5 1 1.5 -1 1.5 .5 2 -1.5 1.5 1.5 1.5 0 1.5 .5 1.5 -.5 2 .5 1.5 .5 1.5 -2 1.5 2 1.5 -1.5 2 3 1.5 -2 1.5 1 1.5 -2 1.5 1 2 .5 1.5 -2 1.5 .5 1.5 0 1.5 -.5 2 2 1.5 -.5 1.5 -3 1.5 2 1.5 -1.5 2 2.5 1.5 -2.5 1.5 2.5 1.5 1 1.5 -1.5 2 1 1.5 -1 1.5 1 1.5 0 1.5 .5 2 -.5 1.5 1 1.5 1 1.5 -1.5 1.5 -1.5 2 3.5 1.5 -4 1.5 2 1.5 .5 1.5 -1 2 1.5 1.5 -1.5 1.5 -1 1.5 1 1.5 -1 2 1 1.5 2.5 1.5 -1.5 1.5 1 1.5 0 2 0 1.5 -.5 1.5 -2 1.5 0 1.5 1.5 2 .5 1.5 -1 1.5 -1.5 1.5 1 1.5 -1.5 2 1.5 1.5 -.5 1.5 -1 1.5 3.5 1.5 0 2 -1 1.5 -2.5 1.5 1.5 1.5 .5 1.5 -.5 2 1.5 1.5 -3.5 1.5 1.5 1.5 -1.5 1.5 1 2 -.5 1.5 1.5 1.5 -1 1.5 1 1.5 -8 2 2 1.5 -2 1.5 4.5 1.5 -1.5 1.5 -.5 2 -6.5 1.5 .5 1.5 5 1.5 -3.5 1.5 -.5 2 -5 1.5 5.5 1.5 2.5 1.5 2 1.5 -5 2 3.5 1.5 -.5 1.5 3.5 1.5 -2 1.5 1 2 -3 1.5 5.5 1.5 -4.5 1.5 -1 1.5 -5 2 -1 1.5 2 1.5 5 1.5 -2.5 1.5 1.5 2 -1 1.5 0 1.5 0 1.5 0 1.5 0 2 .5 1.5 -1.5 1.5 -2 1.5 1.5 1.5 -1 2 .5 1.5 1 1.5 .5 1.5 -2.5 1.5 -2 2 2.5 1.5 -2 1.5 .5 1.5 1.5 1.5 0 2 .5 1.5 0 1.5 1 1.5 0 1.5 1 2 -3.5 1.5 1.5 1.5 0 1.5 1 1.5 -1 2 -.5 1.5 -2.5 1.5 0 1.5 .5 1.5 -1.5 2 -1 1.5 .5 1.5 1 1.5 -3 1.5 2.5 2 -1 1.5 -1 1.5 1 1.5 0 1.5 .5 2 -1.5 1.5 1.5 1.5 -1 1.5 .5 1.5 0 2 -.5 1.5 1 1.5 -.5 1.5 .5 1.5 -1 2 -.5 1.5 1 1.5 0 1.5 -1 1.5 1 2 -.5 1.5 1 1.5 -2 1.5 .5 1.5 -.5 2 -1 1.5 .5 1.5 1 1.5 .5 1.5 .5 2 0 1.5 -1 1.5 1 1.5 -2 1.5 1 2 -1.5 1.5 2.5 1.5 .5 1.5 -1 1.5 -1.5 2 1.5 1.5 -1.5 1.5 .5 1.5 -1 1.5 1 2 .5 1.5 0 1.5 -1.5 1.5 1.5 1.5 -1 2 -.5 1.5 -.5 1.5 3.5 1.5 -2.5 1.5 .5 2 -.5 1.5 -1 1.5 -.5 1.5 3 1.5 -1 2 -1 1.5 3.5 1.5 -1.5 1.5 0 1.5 -1.5 2 -2 1.5 -6.5 1.5 -6.5 1.5 -5.5" fill="none" stroke="#8a8a8a" stroke-width="2.0" stroke-linejoin="round" /><path d="M157,275.5l2 4.5 1.5 0 2 -11.5 1.5 -5.5 2 6 2 1.5 1.5 -1 2 -2.5 1.5 1.5 2 2 2 2 1.5 .5 2 -6 1.5 5.5 2 -5.5 2 3 1.5 .5 2 -5.5 1.5 6.5 2 1 2 -2 1.5 -1.5 2 -2 1.5 3.5 2 -2 2 -.5 1.5 .5 2 -.5 1.5 0 2 3 2 1 1.5 -3.5 2 3 1.5 .5 2 -3 2 1.5 1.5 2.5 2 -4 1.5 -1 2 5.5 2 -1.5 1.5 -.5 2 .5 1.5 -.5 2 4 2 -7 1.5 4.5 2 -.5 1.5 -1 2 0 2 3 1.5 -4 2 2.5 1.5 -.5 2 -1.5 2 -4.5 1.5 7 2 1 1.5 -.5 2 -2.5 2 -3.5 1.5 5 2 -.5 1.5 1.5 2 -1 2 1.5 1.5 -2.5 2 -2 1.5 3 2 -1.5 2 2 1.5 -1 2 1 1.5 0 2 2 2 -1.5 1.5 1.5 2 -1 1.5 1 2 -3 2 3 1.5 -1 2 -.5 1.5 0 2 -1 2 -1 1.5 0 2 -1.5 1.5 4 2 -2.5 2 2.5 1.5 -1 2 0 1.5 1.5 2 -1 2 .5 1.5 .5 2 -3.5 1.5 1.5 2 -1 2 1 1.5 -.5 2 0 1.5 -3 2 5.5 2 -2 1.5 -2 2 5 1.5 -.5 2 -4 2 1 1.5 -8.5 2 8 1.5 -6 2 5.5 2 -2.5 1.5 3 2 -7 1.5 8.5 2 -4.5 2 -1 1.5 6.5 2 -3 1.5 0 2 -5.5 2 5 1.5 1 2 1 1.5 -4.5 2 4.5 2 -2 1.5 2.5 2 -1.5 1.5 -5 2 5 2 -1 1.5 1.5 2 -1 1.5 6.5 2 -6.5 2 8 1.5 1 2 5.5 1.5 -1.5 2 -2 2 11.5 1.5 3.5 2 1 1.5 7 2 3.5 2 4 1.5 1.5 2 2 1.5 -2.5 2 0 2 2.5 1.5 -3 2 .5 1.5 -2.5 2 4.5 2 -4.5 1.5 0 2 3.5 1.5 -.5 2 -1.5 2 3 1.5 .5 2 -3 1.5 3.5 2 -.5 2 -4 1.5 4 2 -.5 1.5 -4 2 5.5 2 -1.5 1.5 -1 2 1.5 1.5 -4 2 -1.5 2 5 1.5 -4.5 2 1 1.5 -2 2 3 2 0 1.5 -4 2 4 1.5 2 2 -2 2 -.5 1.5 1 2 1.5 1.5 -2 2 -5 2 7.5 1.5 -3 2 1.5 1.5 3.5 2 -5 2 2 1.5 2.5 2 -5 1.5 4.5 2 1.5 2 -.5 1.5 -1 2 -3 1.5 3 2 3.5 2 -4 1.5 .5 2 1 1.5 2.5 2 -2 2 1.5 1.5 .5 2 -1 1.5 -1 2 -1.5 2 -1.5 1.5 5 2 -.5 1.5 -1.5 2 -1 2 0 1.5 -1 2 3 1.5 -1.5 2 .5 2 -.5 1.5 -2 2 .5 1.5 -1.5 2 -1 2 2 1.5 -3 2 3.5 1.5 -1 2 -.5 2 -1 1.5 0 2 -4 1.5 -1.5 2 4.5 2 -3.5 1.5 -1 2 3 1.5 -3 2 -1 2 3 1.5 -3.5 2 -1.5 1.5 .5 2 3 2 -2 1.5 0 2 .5 1.5 2 2 1.5 2 -1 1.5 -2.5 2 2 1.5 2 2 -2.5 2 1 1.5 1 2 3 1.5 -1.5 2 0 2 .5 1.5 1 2 -.5 1.5 0 2 1.5 2 -1.5 1.5 -2.5 2 2 1.5 .5 2 -1.5 2 .5 1.5 -2.5 2 1 1.5 0 2 -1.5 2 -1.5 1.5 3.5 2 -5.5 1.5 2.5 2 3.5 2 0 1.5 -4.5 2 1.5 1.5 3 2 -6.5 2 3 1.5 5.5 2 -5.5 1.5 -1.5 2 4.5 2 .5 1.5 .5 2 -.5 1.5 -.5 2 1 2 -1 1.5 2 2 -1 1.5 -2 2 -6 2 4.5 1.5 2.5 2 -1.5 1.5 3 2 -5 2 3 1.5 -4 2 3.5 1.5 3 2 -4 2 3.5 1.5 1.5 2 -1.5 1.5 1.5 2 -.5 2 -.5 1.5 -4 2 3.5 1.5 1.5 2 .5 2 -1 1.5 -.5 2 4 1.5 0 2 0 2 -3.5 1.5 -2.5 2 4.5 1.5 .5 2 .5 2 2 1.5 -2 2 2 1.5 .5 2 -4.5 2 4.5 1.5 -1 2 -.5 1.5 -2 2 1 2 -2 1.5 3 2 1 1.5 -6.5 2 5 2 -2.5 1.5 -2 2 2.5 1.5 -7 2 3 2 5 1.5 -3 2 3.5 1.5 -4 2 4.5 2 -4 1.5 4 2 -4 1.5 4.5 2 -4 2 1 1.5 2 2 -8.5 1.5 7.5 2 1.5 2 -.5 1.5 .5 2 -1 1.5 1.5 2 0 2 -1.5 1.5 -2 2 1 1.5 3 2 -.5 2 0 1.5 -.5 2 3 1.5 -1.5 2 2 2 -5 1.5 -6.5 2 -6.5 1.5 -4 2 -5 2 -1.5 1.5 4 2 -1.5 1.5 1.5 2 -.5 2 -6.5 1.5 4.5 2 2.5 1.5 -1.5 2 -2 2 -1 1.5 2.5 2 1.5 1.5 -.5 2 0 2 0 1.5 -1 2 0 1.5 -.5 2 -1 2 -1 1.5 .5 2 -1 1.5 1.5 2 -7 2 2.5 1.5 1.5 2 -1 1.5 2 2 .5 2 0 1.5 2.5 2 1.5 1.5 -5 2 3.5 2 -.5 1.5 .5 2 -1 1.5 -2 2 3 2 .5 1.5 0 2 -3.5 1.5 2.5 2 -2.5 2 2.5 1.5 0 2 -1.5 1.5 1 2 1 2 -2.5 1.5 0 2 -1 1.5 .5 2 -3 2 2 1.5 5 2 -3.5 1.5 .5 2 -3.5 2 1.5 1.5 -3.5 2 -3.5 1.5 1.5 2 8.5 2 -9 1.5 -.5 2 4 1.5 4 2 -2 2 -6.5 1.5 6 2 1.5 1.5 -3.5 2 3.5 2 0 1.5 -.5 2 2.5 1.5 -.5 2 0 2 -7.5 1.5 8 2 -2.5 1.5 3.5 2 -3 2 3 1.5 3.5 2 1 1.5 2.5 2 1 2 7 1.5 5 2 1.5 1.5 -1.5 2 4.5 2 -3 1.5 -.5 2 -8 1.5 -3 2 6 2 -11 1.5 7.5 2 .5 1.5 3.5 2 0 2 -9.5 1.5 10 2 1.5 1.5 -.5 2 -3.5 2 -5.5 1.5 9 2 -1 1.5 0 2 0 2 -.5 1.5 -1 2 -2.5 1.5 1 2 2.5 2 -1 1.5 2.5 2 .5 1.5 -3 2 0 2 -3 1.5 1.5 2 -1.5 1.5 .5 2 -.5 2 1 1.5 -3.5 2 -5 1.5 7 2 -1 2 .5 1.5 -.5 2 .5 1.5 -1 2 1.5 2 -1.5 1.5 2 2 -1.5 1.5 1 2 1 2 -1 1.5 1 2 -4 1.5 3 2 1.5 2 -6 1.5 3.5 2 -2 1.5 5 2 -.5 2 -2.5 1.5 -1.5 2 -3 1.5 4.5 2 1.5 2 0 1.5 .5 2 -4 1.5 2 2 0 2 -2.5 1.5 1.5 2 -2.5 1.5 2.5 2 -8.5 2 3.5 1.5 -4 2 6.5 1.5 -2.5 2 3.5 2 -1.5 1.5 -2.5 2 3.5 1.5 -4.5 2 4.5 2 -.5 1.5 -8 2 9 1.5 -1 2 1.5 2 0 1.5 -7.5 2 6.5 1.5 -2.5 2 2 2 -5.5 1.5 6 2 -2.5 1.5 -1.5 2 4.5 2 -2 1.5 0 2 2.5 1.5 -1 2 -.5 2 -2.5 1.5 6 2 .5 1.5 2.5 2 2 2 -.5 1.5 -5 2 -3.5 0 12.5 -2 11.5 -1.5 -.5 -2 -2 -2 2 -1.5 -6 -2 -.5 -1.5 0 -2 0 -2 -2.5 -1.5 2.5 -2 1.5 -1.5 .5 -2 -2.5 -2 -.5 -1.5 2.5 -2 -5 -1.5 4.5 -2 -5.5 -2 1 -1.5 10 -2 -9 -1.5 1.5 -2 1 -2 2.5 -1.5 -3 -2 -1 -1.5 2.5 -2 -4.5 -2 3 -1.5 -3.5 -2 5 -1.5 -3.5 -2 2 -2 -2.5 -1.5 1.5 -2 4.5 -1.5 -3 -2 .5 -2 -3 -1.5 6.5 -2 -2.5 -1.5 -2.5 -2 0 -2 1.5 -1.5 0 -2 1.5 -1.5 -2 -2 1 -2 -1 -1.5 1.5 -2 1.5 -1.5 -2 -2 1.5 -2 1.5 -1.5 -3.5 -2 -1 -1.5 2 -2 2.5 -2 -1 -1.5 1.5 -2 1.5 -1.5 -1.5 -2 3 -2 -5.5 -1.5 -1.5 -2 2.5 -1.5 .5 -2 -1.5 -2 .5 -1.5 -.5 -2 0 -1.5 0 -2 5 -2 -8 -1.5 1.5 -2 4.5 -1.5 -4 -2 1.5 -2 .5 -1.5 -.5 -2 1 -1.5 1.5 -2 4.5 -2 -4 -1.5 5.5 -2 -3.5 -1.5 -1.5 -2 1 -2 1 -1.5 -3 -2 2 -1.5 -1.5 -2 4.5 -2 -2 -1.5 1.5 -2 -3.5 -1.5 -1.5 -2 3.5 -2 .5 -1.5 2 -2 3 -1.5 -6.5 -2 4 -2 -6.5 -1.5 -.5 -2 3 -1.5 -2 -2 -.5 -2 8 -1.5 -6 -2 5 -1.5 0 -2 3.5 -2 10 -1.5 -11 -2 -4 -1.5 -1 -2 0 -2 -6 -1.5 2 -2 -11 -1.5 -3 -2 3 -2 -4.5 -1.5 -1 -2 .5 -1.5 -1.5 -2 -.5 -2 2 -1.5 -2 -2 -1 -1.5 -.5 -2 .5 -2 5 -1.5 -4.5 -2 2.5 -1.5 2 -2 -3.5 -2 2 -1.5 -3 -2 10.5 -1.5 -10 -2 4 -2 -4.5 -1.5 1.5 -2 4.5 -1.5 -.5 -2 5.5 -2 -10 -1.5 1 -2 2 -1.5 -1 -2 7 -2 -5.5 -1.5 6.5 -2 -6 -1.5 -.5 -2 3.5 -2 -6.5 -1.5 4 -2 1 -1.5 -.5 -2 -1 -2 -2 -1.5 1 -2 0 -1.5 -.5 -2 -1 -2 5 -1.5 -.5 -2 -2 -1.5 5 -2 -7 -2 .5 -1.5 2.5 -2 -3 -1.5 3 -2 3 -2 -2 -1.5 -3.5 -2 -3 -1.5 1.5 -2 -1.5 -2 4.5 -1.5 .5 -2 1.5 -1.5 -5 -2 7.5 -2 -5.5 -1.5 -.5 -2 4 -1.5 -2.5 -2 -1 -2 3 -1.5 -1.5 -2 -1.5 -1.5 -1 -2 7 -2 -5.5 -1.5 0 -2 3.5 -1.5 1.5 -2 -2 -2 5.5 -1.5 -4.5 -2 -.5 -1.5 4 -2 -5.5 -2 6.5 -1.5 1.5 -2 6.5 -1.5 4.5 -2 2 -2 3 -1.5 -2.5 -2 2 -1.5 -3.5 -2 1 -2 .5 -1.5 -.5 -2 2.5 -1.5 -2.5 -2 0 -2 0 -1.5 1 -2 -3 -1.5 1 -2 1 -2 0 -1.5 -3 -2 2.5 -1.5 1.5 -2 -2 -2 1 -1.5 7.5 -2 -3.5 -1.5 0 -2 0 -2 -5.5 -1.5 .5 -2 2 -1.5 -2.5 -2 .5 -2 0 -1.5 -1 -2 1.5 -1.5 2 -2 -3 -2 0 -1.5 0 -2 0 -1.5 6 -2 -2 -2 2 -1.5 -2 -2 -1 -1.5 1 -2 7 -2 -8.5 -1.5 -2 -2 2.5 -1.5 -2.5 -2 3 -2 -.5 -1.5 -3.5 -2 -.5 -1.5 2.5 -2 -2.5 -2 1 -1.5 -1.5 -2 -.5 -1.5 -.5 -2 .5 -2 2.5 -1.5 -4 -2 1.5 -1.5 -2 -2 4 -2 -4 -1.5 .5 -2 -1 -1.5 5 -2 1.5 -2 -5 -1.5 -1.5 -2 2.5 -1.5 -4 -2 -.5 -2 8 -1.5 -7 -2 1 -1.5 -.5 -2 0 -2 1 -1.5 -1 -2 2.5 -1.5 4 -2 -5 -2 2 -1.5 -.5 -2 1 -1.5 1.5 -2 -.5 -2 -3 -1.5 2 -2 -4 -1.5 5.5 -2 -3 -2 -.5 -1.5 -.5 -2 .5 -1.5 -1 -2 0 -2 1.5 -1.5 -4.5 -2 -.5 -1.5 5 -2 -4 -2 -1 -1.5 4 -2 -2.5 -1.5 1 -2 1.5 -2 2.5 -1.5 .5 -2 .5 -1.5 -2 -2 1.5 -2 1.5 -1.5 -2.5 -2 1.5 -1.5 -2.5 -2 2.5 -2 -4.5 -1.5 1 -2 1.5 -1.5 -3 -2 .5 -2 1.5 -1.5 0 -2 -3.5 -1.5 -.5 -2 -1 -2 -1.5 -1.5 .5 -2 1.5 -1.5 1.5 -2 -1.5 -2 2.5 -1.5 -2 -2 10 -1.5 -11 -2 3 -2 .5 -1.5 2.5 -2 0 -1.5 -1 -2 1 -2 -3.5 -1.5 2.5 -2 -2 -1.5 5.5 -2 -2 -2 0 -1.5 -.5 -2 -.5 -1.5 3 -2 2.5 -2 -1.5 -1.5 -1 -2 2 -1.5 -1.5 -2 2 -2 2.5 -1.5 -1.5 -2 -3.5 -1.5 4 -2 -2 -2 -1 -1.5 3 -2 -1 -1.5 -1 -2 -1 -2 .5 -1.5 2.5 -2 -1.5 -1.5 .5 -2 -1 -2 -.5 -1.5 0 -2 1 -1.5 -2 -2 .5 -2 .5 -1.5 2 -2 -3.5 -1.5 5.5 -2 -5 -2 -1.5 -1.5 0 -2 5 -1.5 -5 -2 4.5 -2 -3.5 -1.5 1 -2 -1.5 -1.5 7.5 -2 -7 -2 -2 -1.5 .5 -2 8.5 -1.5 -6.5 -2 -1 -2 1 -1.5 -.5 -2 5 -1.5 -8 -2 5.5 -2 .5 -1.5 .5 -2 -4.5 -1.5 -1.5 -2 4.5 -2 -3.5 -1.5 0 -2 0 -1.5 -.5 -2 1 -2 -1.5 -1.5 2.5 -2 2.5 -1.5 -5 -2 2.5 -2 0 -1.5 2 -2 .5 -1.5 -2.5 -2 -2 -2 3 -1.5 4 -2 -8.5 -1.5 5 -2 -4 -2 -.5 -1.5 5.5 -2 -4 -1.5 1.5 -2 -.5 -2 1.5 -1.5 1 -2 -5 -1.5 0 -2 -5 -2 -4 -1.5 -3.5 -2 -.5 -1.5 -8.5 -2 -2 -2 -3 -1.5 1.5 -2 -6 -1.5 4.5 -2 0 -2 -9 -1.5 -2 -2 -3 -1.5 10 -2 -12 -2 4.5 -1.5 -4.5 -2 1.5 -1.5 0 -2 .5 -2 -1.5 -1.5 .5 -2 2 -1.5 -1.5 -2 2.5 -2 -2 -1.5 3 -2 -1.5 -1.5 -2 -2 1.5 -2 3 -1.5 0 -2 -2 -1.5 -4 -2 5 -2 -2 -1.5 -2 -2 1 -1.5 1 -2 -1.5 -2 7.5 -1.5 -6.5 -2 5 -1.5 -6 -2 -.5 -2 .5 -1.5 1.5 -2 -1.5 -1.5 1 -2 4 -2 .5 -1.5 -6.5 -2 2.5 -1.5 1 -2 -2 -2 1 -1.5 0 -2 1 -1.5 -1.5 -2 .5 -2 0 -1.5 -1 -2 1 -1.5 0 -2 1.5 -2 -3.5 -1.5 -.5 -2 2 -1.5 3.5 -2 -1 -2 -.5 -1.5 -2 -2 4 -1.5 -5.5 -2 2.5 -2 -2.5 -1.5 4.5 -2 -.5 -1.5 -2.5 -2 0 -2 -.5 -1.5 1.5 -2 -2.5 -1.5 1 -2 2.5 -2 -.5 -1.5 -.5 -2 -2.5 -1.5 1 -2 -2.5 -2 2.5 -1.5 2 -2 -3 -1.5 1 -2 0 -2 0 -1.5 -.5 -2 -.5 -1.5 3 -2 -1 -2 -3 -1.5 1 -2 0 -1.5 -.5 -2 6 -2 -2.5 -1.5 -3 -2 -.5 -1.5 -1 -2 2.5 -2 -1.5 -1.5 .5 -2 2.5 -1.5 -4.5 -2 6 -2 -5.5 -1.5 1 -2 4 -1.5 -.5 -2 -3.5 -2 2.5 -1.5 0 -2 -3 -1.5 1.5 -2 -1 -2 -3 -1.5 1 -2 .5 -1.5 1 -2 1 -2 -1 -1.5 2.5 -2 -2.5 -1.5 -1.5 -2 4.5 -2 -3 -1.5 .5 -2 1 -1.5 2.5 -2 -6 -2 2.5 -1.5 1.5 -2 -3 -1.5 -1 -2 -1 -2 4 -1.5 -2 -2 9 -1.5 2 -2 2Z" fill="#98371e" /></g>
<line x1="158.0" y1="219.0" x2="1244.0" y2="219.0" stroke="#62605e" stroke-width="1.8"/>
<line x1="158.0" y1="410.5" x2="1244.0" y2="410.5" stroke="#62605e" stroke-width="1.8"/>
<path d="M201.9,219.0v3.5M201.9,410.5v-3.5M245.3,219.0v3.5M245.3,410.5v-3.5M288.7,219.0v3.5M288.7,410.5v-3.5M332.1,219.0v3.5M332.1,410.5v-3.5M375.5,219.0v6.0M375.5,410.5v-6.0M418.9,219.0v3.5M418.9,410.5v-3.5M462.3,219.0v3.5M462.3,410.5v-3.5M505.7,219.0v3.5M505.7,410.5v-3.5M549.1,219.0v3.5M549.1,410.5v-3.5M592.5,219.0v6.0M592.5,410.5v-6.0M635.9,219.0v3.5M635.9,410.5v-3.5M679.3,219.0v3.5M679.3,410.5v-3.5M722.7,219.0v3.5M722.7,410.5v-3.5M766.1,219.0v3.5M766.1,410.5v-3.5M809.5,219.0v6.0M809.5,410.5v-6.0M852.9,219.0v3.5M852.9,410.5v-3.5M896.3,219.0v3.5M896.3,410.5v-3.5M939.7,219.0v3.5M939.7,410.5v-3.5M983.1,219.0v3.5M983.1,410.5v-3.5M1026.5,219.0v6.0M1026.5,410.5v-6.0M1069.9,219.0v3.5M1069.9,410.5v-3.5M1113.3,219.0v3.5M1113.3,410.5v-3.5M1156.7,219.0v3.5M1156.7,410.5v-3.5M1200.1,219.0v3.5M1200.1,410.5v-3.5M160.0,223.7h7.0M1243.0,223.7h-7.0M160.0,229.8h3.8M1243.0,229.8h-3.8M160.0,235.9h3.8M1243.0,235.9h-3.8M160.0,242.0h3.8M1243.0,242.0h-3.8M160.0,248.1h3.8M1243.0,248.1h-3.8M160.0,254.2h7.0M1243.0,254.2h-7.0M160.0,260.4h3.8M1243.0,260.4h-3.8M160.0,266.5h3.8M1243.0,266.5h-3.8M160.0,272.6h3.8M1243.0,272.6h-3.8M160.0,278.7h3.8M1243.0,278.7h-3.8M160.0,284.8h7.0M1243.0,284.8h-7.0M160.0,290.9h3.8M1243.0,290.9h-3.8M160.0,297.0h3.8M1243.0,297.0h-3.8M160.0,303.1h3.8M1243.0,303.1h-3.8M160.0,309.2h3.8M1243.0,309.2h-3.8M160.0,315.4h7.0M1243.0,315.4h-7.0M160.0,321.5h3.8M1243.0,321.5h-3.8M160.0,327.6h3.8M1243.0,327.6h-3.8M160.0,333.7h3.8M1243.0,333.7h-3.8M160.0,339.8h3.8M1243.0,339.8h-3.8M160.0,345.9h7.0M1243.0,345.9h-7.0M160.0,352.0h3.8M1243.0,352.0h-3.8M160.0,358.1h3.8M1243.0,358.1h-3.8M160.0,364.2h3.8M1243.0,364.2h-3.8M160.0,370.3h3.8M1243.0,370.3h-3.8M160.0,376.4h7.0M1243.0,376.4h-7.0M160.0,382.6h3.8M1243.0,382.6h-3.8M160.0,388.7h3.8M1243.0,388.7h-3.8M160.0,394.8h3.8M1243.0,394.8h-3.8M160.0,400.9h3.8M1243.0,400.9h-3.8M160.0,407.0h7.0M1243.0,407.0h-7.0" stroke="#62605e" stroke-width="1.6" fill="none"/>
<text transform="translate(136.6,230.1) scale(0.93,1)" font-size="36" fill="#575757" text-anchor="end">1.9</text>
<text transform="translate(136.6,291.8) scale(0.93,1)" font-size="36" fill="#575757" text-anchor="end">1.7</text>
<text transform="translate(136.6,354.1) scale(0.93,1)" font-size="36" fill="#575757" text-anchor="end">1.5</text>
<text transform="translate(136.6,416.4) scale(0.93,1)" font-size="36" fill="#575757" text-anchor="end">1.3</text>
<rect x="158.0" y="427.4" width="30.9" height="194.6" fill="#dfdfdf"/>
<rect x="221.4" y="427.4" width="60.8" height="194.6" fill="#dfdfdf"/>
<rect x="312.6" y="427.4" width="128.0" height="194.6" fill="#dfdfdf"/>
<rect x="573.0" y="427.4" width="112.8" height="194.6" fill="#dfdfdf"/>
<rect x="809.5" y="427.4" width="80.3" height="194.6" fill="#dfdfdf"/>
<rect x="970.1" y="427.4" width="108.5" height="194.6" fill="#dfdfdf"/>
<rect x="1195.8" y="427.4" width="47.7" height="194.6" fill="#dfdfdf"/>
<g clip-path="url(#clipT)"><path d="M159,471.5l1.5 -2 1.5 4 2 -3 1.5 5 1.5 -1 1.5 .5 1.5 1 2 .5 1.5 4.5 1.5 -1.5 1.5 0 1.5 1 2 1 1.5 -1 1.5 3 1.5 -1 1.5 1.5 2 -1 1.5 .5 1.5 -.5 1.5 .5 1.5 1.5 2 1 1.5 -1.5 1.5 0 1.5 1 1.5 -1 2 -2 1.5 2 1.5 -3 1.5 1.5 1.5 .5 2 -.5 1.5 1 1.5 1 1.5 0 1.5 .5 2 -.5 1.5 1 1.5 1 1.5 -1.5 1.5 1.5 2 -.5 1.5 0 1.5 1 1.5 -1 1.5 .5 2 -1.5 1.5 1.5 1.5 -2 1.5 1.5 1.5 .5 2 -.5 1.5 -.5 1.5 0 1.5 1 1.5 -3 2 1 1.5 1.5 1.5 -1 1.5 -1 1.5 0 2 1 1.5 -.5 1.5 1.5 1.5 -.5 1.5 2 2 -3 1.5 2 1.5 -2 1.5 1 1.5 1 2 -1 1.5 2.5 1.5 -1.5 1.5 -1 1.5 2 2 -1.5 1.5 .5 1.5 1 1.5 -.5 1.5 2 2 0 1.5 -2 1.5 1 1.5 0 1.5 -1.5 2 0 1.5 1 1.5 -1 1.5 .5 1.5 0 2 0 1.5 -.5 1.5 -1 1.5 .5 1.5 .5 2 0 1.5 0 1.5 .5 1.5 -1 1.5 -1 2 1.5 1.5 -.5 1.5 -2 1.5 1.5 1.5 -1 2 -.5 1.5 -1 1.5 1 1.5 -.5 1.5 0 2 -1.5 1.5 .5 1.5 1 1.5 -1.5 1.5 .5 2 1.5 1.5 .5 1.5 -1 1.5 1 1.5 -3 2 1.5 1.5 0 1.5 1.5 1.5 -.5 1.5 -2 2 .5 1.5 .5 1.5 -.5 1.5 -1.5 1.5 1 2 1.5 1.5 -2 1.5 -2.5 1.5 .5 1.5 -.5 2 0 1.5 0 1.5 0 1.5 0 1.5 -.5 2 .5 1.5 -1 1.5 -.5 1.5 .5 1.5 1 2 0 1.5 .5 1.5 -.5 1.5 3.5 1.5 5.5 2 -1 1.5 1 1.5 5 1.5 5 1.5 .5 2 -3.5 1.5 -1.5 1.5 -1 1.5 1.5 1.5 -5.5 2 -3 1.5 -7 1.5 -4.5 1.5 -2.5 1.5 2 2 2.5 1.5 6.5 1.5 3.5 1.5 5 1.5 -4.5 2 -1 1.5 .5 1.5 0 1.5 1 1.5 -2.5 2 .5 1.5 -.5 1.5 1.5 1.5 0 1.5 .5 2 0 1.5 1.5 1.5 -1.5 1.5 0 1.5 .5 2 0 1.5 .5 1.5 0 1.5 -.5 1.5 -1 2 1.5 1.5 -.5 1.5 -1 1.5 .5 1.5 .5 2 1 1.5 -.5 1.5 -1.5 1.5 0 1.5 -1.5 2 -.5 1.5 0 1.5 2 1.5 -1.5 1.5 -1 2 .5 1.5 -.5 1.5 -.5 1.5 2 1.5 -3.5 2 1 1.5 .5 1.5 .5 1.5 -2.5 1.5 1.5 2 -.5 1.5 1 1.5 -1 1.5 2.5 1.5 2 2 -2.5 1.5 -1 1.5 -.5 1.5 2 1.5 0 2 -2.5 1.5 1.5 1.5 -2 1.5 .5 1.5 1.5 2 -2 1.5 1 1.5 1 1.5 -1.5 1.5 0 2 0 1.5 -.5 1.5 1 1.5 0 1.5 -2.5 2 2 1.5 -1 1.5 -.5 1.5 1 1.5 -1 2 -.5 1.5 -1 1.5 1 1.5 0 1.5 1.5 2 -.5 1.5 -.5 1.5 -1 1.5 1 1.5 -3 2 1 1.5 2.5 1.5 -.5 1.5 1.5 1.5 .5 2 -1 1.5 -2.5 1.5 1.5 1.5 -.5 1.5 2 2 .5 1.5 -1 1.5 .5 1.5 -.5 1.5 1.5 2 -2 1.5 1 1.5 .5 1.5 1 1.5 0 2 -.5 1.5 -.5 1.5 .5 1.5 -.5 1.5 -.5 2 -1 1.5 .5 1.5 0 1.5 -1 1.5 -.5 2 0 1.5 -1 1.5 1 1.5 -.5 1.5 0 2 2 1.5 -1.5 1.5 -1 1.5 1.5 1.5 -.5 2 0 1.5 1 1.5 -2 1.5 1.5 1.5 1.5 2 -.5 1.5 -1 1.5 -.5 1.5 0 1.5 1.5 2 -3.5 1.5 1 1.5 -1 1.5 .5 1.5 -1.5 2 1.5 1.5 -2 1.5 2 1.5 0 1.5 -2 2 2.5 1.5 1 1.5 1 1.5 -.5 1.5 0 2 1 1.5 -1 1.5 1 1.5 0 1.5 -1.5 2 0 1.5 -.5 1.5 -1.5 1.5 1.5 1.5 0 2 -.5 1.5 -1.5 1.5 2 1.5 -2 1.5 .5 2 -1 1.5 -.5 1.5 0 1.5 -.5 1.5 .5 2 0 1.5 .5 1.5 -.5 1.5 1 1.5 -1 2 1 1.5 -.5 1.5 -1.5 1.5 1 1.5 1.5 2 -1.5 1.5 -.5 1.5 1.5 1.5 0 1.5 .5 2 -1 1.5 1.5 1.5 -1.5 1.5 0 1.5 .5 2 0 1.5 .5 1.5 1 1.5 -2 1.5 -.5 2 0 1.5 -1 1.5 1 1.5 -1 1.5 2 2 -3 1.5 2 1.5 .5 1.5 1.5 1.5 -3 2 1.5 1.5 0 1.5 -.5 1.5 .5 1.5 -1.5 2 0 1.5 -1 1.5 1.5 1.5 -.5 1.5 -.5 2 2 1.5 -2 1.5 1.5 1.5 0 1.5 -1 2 -1 1.5 1 1.5 -1 1.5 1 1.5 0 2 2.5 1.5 -4 1.5 1.5 1.5 1.5 1.5 1.5 2 0 1.5 -2 1.5 2.5 1.5 -3.5 1.5 3 2 1 1.5 0 1.5 -2 1.5 1 1.5 -2 2 1 1.5 -1 1.5 2 1.5 -1.5 1.5 1 2 .5 1.5 -.5 1.5 1.5 1.5 -.5 1.5 -2 2 2.5 1.5 -.5 1.5 .5 1.5 -1.5 1.5 -2 2 2 1.5 -2.5 1.5 0 1.5 .5 1.5 2 2 -2.5 1.5 -1.5 1.5 .5 1.5 -2 1.5 1 2 -2.5 1.5 2 1.5 -.5 1.5 1 1.5 -2 2 1 1.5 -1.5 1.5 1.5 1.5 6 1.5 2 2 1 1.5 -3 1.5 0 1.5 1 1.5 0 2 -1 1.5 1.5 1.5 1 1.5 -2 1.5 0 2 0 1.5 0 1.5 1.5 1.5 -2 1.5 1.5 2 0 1.5 -.5 1.5 -1.5 1.5 1.5 1.5 0 2 -.5 1.5 -1.5 1.5 -1 1.5 2 1.5 0 2 -.5 1.5 -.5 1.5 .5 1.5 -.5 1.5 -.5 2 .5 1.5 -1 1.5 3.5 1.5 -1 1.5 -2 2 .5 1.5 .5 1.5 -.5 1.5 -1.5 1.5 0 2 -1 1.5 .5 1.5 1.5 1.5 -3 1.5 -.5 2 2.5 1.5 -1 1.5 -.5 1.5 -1.5 1.5 2 2 -1.5 1.5 1.5 1.5 -1 1.5 1.5 1.5 -.5 2 -1 1.5 -.5 1.5 -.5 1.5 -.5 1.5 1.5 2 -2 1.5 -3 1.5 2 1.5 .5 1.5 -1.5 2 0 1.5 -2 1.5 1 1.5 -1 1.5 .5 2 0 1.5 -1.5 1.5 1 1.5 -.5 1.5 1 2 1 1.5 -2 1.5 1.5 1.5 1 1.5 -.5 2 -1 1.5 -.5 1.5 1 1.5 -1 1.5 .5 2 -1.5 1.5 1 1.5 -2.5 1.5 1 1.5 7.5 2 -2.5 1.5 -8 1.5 -6 1.5 -7.5 1.5 6.5 2 -2.5 1.5 1.5 1.5 -3.5 1.5 -3.5 1.5 -2 2 1 1.5 3 1.5 4.5 1.5 1.5 1.5 -4 2 2.5 1.5 -.5 1.5 3 1.5 4.5 1.5 3 2 5 1.5 -5 1.5 -.5 1.5 5.5 1.5 -3 2 4 1.5 -7.5 1.5 4.5 1.5 0 1.5 0 2 -1 1.5 2 1.5 -3.5 1.5 1 1.5 -1 2 2 1.5 -1.5 1.5 1 1.5 1.5 1.5 -1 2 2 1.5 -.5 1.5 2 1.5 -3 1.5 1 2 1 1.5 .5 1.5 -.5 1.5 -.5 1.5 1 2 0 1.5 1.5 1.5 -3 1.5 1.5 1.5 -.5 2 0 1.5 -1 1.5 .5 1.5 -2.5 1.5 2 2 0 1.5 -2 1.5 2 1.5 -3 1.5 2.5 2 -2 1.5 1.5 1.5 0 1.5 -1 1.5 .5 2 3.5 1.5 -1 1.5 1.5 1.5 -.5 1.5 2 2 -1.5 1.5 1.5 1.5 -1.5 1.5 .5 1.5 1 2 -1 1.5 0 1.5 2 1.5 -1.5 1.5 -1 2 1 1.5 -1.5 1.5 1 1.5 1 1.5 .5 2 .5 1.5 -1 1.5 0 1.5 .5 1.5 -1 2 0 1.5 1.5 1.5 -1 1.5 2 1.5 -1.5 2 .5 1.5 -3.5 1.5 2.5 1.5 -.5 1.5 2 2 -.5 1.5 -2 1.5 .5 1.5 .5 1.5 -1 2 -.5 1.5 1.5 1.5 -1.5 1.5 2 1.5 -.5 2 -3.5 1.5 1.5 1.5 1.5 1.5 3 1.5 -1 2 -1 1.5 2.5 1.5 -1 1.5 -.5 1.5 1.5 2 -.5 1.5 .5 1.5 1 1.5 -.5 1.5 .5 2 -2 1.5 1.5 1.5 -2.5 1.5 .5 1.5 1.5 2 -.5 1.5 1 1.5 .5 1.5 1" fill="none" stroke="#8a8a8a" stroke-width="2.0" stroke-linejoin="round" /><path d="M159,475.5l1.5 1.5 1.5 3.5 2 0 1.5 0 1.5 .5 1.5 .5 1.5 1.5 2 0 1.5 -.5 1.5 -1 1.5 2 1.5 .5 2 -.5 1.5 .5 1.5 -1 1.5 -1 1.5 2.5 2 2 1.5 -1 1.5 0 1.5 1.5 1.5 -.5 2 2 1.5 .5 1.5 -1 1.5 0 1.5 2.5 2 -2 1.5 1 1.5 0 1.5 0 1.5 .5 2 -1 1.5 .5 1.5 2 1.5 0 1.5 -2 2 -1 1.5 0 1.5 -.5 1.5 -1 1.5 0 2 1.5 1.5 -2.5 1.5 .5 1.5 1 1.5 -1.5 2 3 1.5 -1.5 1.5 2 1.5 1 1.5 -1 2 1 1.5 -1.5 1.5 .5 1.5 0 1.5 -1.5 2 1.5 1.5 0 1.5 -.5 1.5 -1 1.5 .5 2 0 1.5 -2 1.5 -1 1.5 1 1.5 .5 2 1 1.5 0 1.5 -.5 1.5 -1.5 1.5 2 2 0 1.5 -1 1.5 -.5 1.5 3.5 1.5 -2.5 2 2.5 1.5 1 1.5 -2 1.5 -.5 1.5 0 2 1 1.5 1 1.5 0 1.5 -1.5 1.5 .5 2 -.5 1.5 1.5 1.5 -.5 1.5 -1 1.5 1 2 .5 1.5 -1.5 1.5 1.5 1.5 .5 1.5 -1 2 1.5 1.5 -.5 1.5 -1 1.5 1.5 1.5 -2 2 1 1.5 0 1.5 0 1.5 -2 1.5 .5 2 -.5 1.5 0 1.5 .5 1.5 -1 1.5 1 2 -1.5 1.5 1.5 1.5 0 1.5 -2.5 1.5 1.5 2 1.5 1.5 -1 1.5 .5 1.5 -2 1.5 .5 2 .5 1.5 -1.5 1.5 1.5 1.5 -.5 1.5 .5 2 1 1.5 -2 1.5 2 1.5 -2.5 1.5 1 2 -.5 1.5 .5 1.5 -.5 1.5 1.5 1.5 -2 2 1 1.5 1.5 1.5 -1 1.5 -.5 1.5 -.5 2 0 1.5 .5 1.5 0 1.5 1 1.5 -1 2 0 1.5 -1 1.5 -2 1.5 -1.5 1.5 7.5 2 1.5 1.5 2 1.5 .5 1.5 4 1.5 2.5 2 -2 1.5 -4 1.5 .5 1.5 5 1.5 -3.5 2 -2 1.5 -5 1.5 -2.5 1.5 1.5 1.5 1.5 2 .5 1.5 -3 1.5 -1.5 1.5 .5 1.5 2 2 2.5 1.5 -1 1.5 0 1.5 2 1.5 -2 2 2 1.5 -2 1.5 -.5 1.5 -.5 1.5 -.5 2 .5 1.5 .5 1.5 1 1.5 -1 1.5 0 2 0 1.5 0 1.5 -1 1.5 1 1.5 2.5 2 -1 1.5 1.5 1.5 -.5 1.5 -2 1.5 1.5 2 -1 1.5 0 1.5 .5 1.5 -.5 1.5 1 2 -3 1.5 1 1.5 -1.5 1.5 .5 1.5 .5 2 -3 1.5 1.5 1.5 -1 1.5 1.5 1.5 -1 2 -.5 1.5 -.5 1.5 -.5 1.5 4 1.5 -.5 2 -1 1.5 -.5 1.5 3 1.5 .5 1.5 -1 2 -2.5 1.5 1.5 1.5 0 1.5 -.5 1.5 0 2 -1.5 1.5 -1 1.5 -1 1.5 3 1.5 -1.5 2 -.5 1.5 -2 1.5 2 1.5 -2 1.5 1 2 0 1.5 1.5 1.5 0 1.5 1 1.5 1.5 2 -.5 1.5 .5 1.5 -1 1.5 .5 1.5 -1 2 1 1.5 -1.5 1.5 0 1.5 0 1.5 -1 2 -.5 1.5 1.5 1.5 -2 1.5 0 1.5 -.5 2 1 1.5 .5 1.5 -2.5 1.5 1.5 1.5 1.5 2 0 1.5 -.5 1.5 -.5 1.5 .5 1.5 -1.5 2 0 1.5 2 1.5 .5 1.5 -1.5 1.5 .5 2 1.5 1.5 -1 1.5 .5 1.5 -1 1.5 -2 2 2 1.5 0 1.5 -2 1.5 0 1.5 1 2 -3 1.5 4 1.5 -2 1.5 0 1.5 -.5 2 -1 1.5 4.5 1.5 -4 1.5 1.5 1.5 -1 2 .5 1.5 1.5 1.5 -.5 1.5 .5 1.5 0 2 .5 1.5 0 1.5 -1 1.5 .5 1.5 -1 2 -.5 1.5 1 1.5 -.5 1.5 -.5 1.5 -4 2 1 1.5 0 1.5 3.5 1.5 -1 1.5 -1.5 2 2 1.5 -2 1.5 1.5 1.5 1 1.5 -2 2 2 1.5 -1.5 1.5 1 1.5 -1 1.5 0 2 .5 1.5 1 1.5 -.5 1.5 -1.5 1.5 0 2 -1.5 1.5 0 1.5 -1.5 1.5 .5 1.5 -.5 2 0 1.5 -.5 1.5 -.5 1.5 -1 1.5 0 2 .5 1.5 1.5 1.5 0 1.5 -1.5 1.5 .5 2 2.5 1.5 1 1.5 -1.5 1.5 1 1.5 -3 2 1 1.5 -1 1.5 3.5 1.5 -1 1.5 0 2 0 1.5 -1 1.5 .5 1.5 -1.5 1.5 2 2 -1.5 1.5 2 1.5 .5 1.5 -1 1.5 -2 2 -.5 1.5 1.5 1.5 -.5 1.5 .5 1.5 -.5 2 .5 1.5 -.5 1.5 1.5 1.5 -2 1.5 .5 2 .5 1.5 .5 1.5 -.5 1.5 0 1.5 1 2 -2 1.5 2 1.5 -.5 1.5 .5 1.5 -.5 2 -1 1.5 1.5 1.5 0 1.5 0 1.5 .5 2 -1 1.5 1.5 1.5 -1 1.5 -2.5 1.5 3 2 -1 1.5 0 1.5 -.5 1.5 -1.5 1.5 .5 2 2 1.5 -2.5 1.5 0 1.5 .5 1.5 -.5 2 1 1.5 -2 1.5 .5 1.5 1 1.5 1.5 2 .5 1.5 -.5 1.5 1 1.5 -.5 1.5 .5 2 -2 1.5 2 1.5 0 1.5 1 1.5 0 2 -2 1.5 .5 1.5 0 1.5 1 1.5 -2 2 0 1.5 1.5 1.5 -1.5 1.5 1.5 1.5 -1.5 2 1 1.5 0 1.5 -.5 1.5 1.5 1.5 -2.5 2 1 1.5 -2 1.5 2.5 1.5 -2.5 1.5 .5 2 0 1.5 -2.5 1.5 2 1.5 0 1.5 3.5 2 3 1.5 0 1.5 -2.5 1.5 -.5 1.5 1 2 2 1.5 -3 1.5 -.5 1.5 1 1.5 -2.5 2 2.5 1.5 .5 1.5 0 1.5 .5 1.5 -.5 2 1 1.5 -1 1.5 1 1.5 0 1.5 -1.5 2 0 1.5 .5 1.5 -1.5 1.5 1.5 1.5 .5 2 -2 1.5 -1 1.5 1 1.5 2 1.5 -.5 2 -1.5 1.5 2 1.5 -1.5 1.5 0 1.5 -.5 2 -.5 1.5 -.5 1.5 -1 1.5 .5 1.5 -1 2 2 1.5 -2.5 1.5 2.5 1.5 -1 1.5 .5 2 0 1.5 1 1.5 1 1.5 0 1.5 0 2 0 1.5 -.5 1.5 .5 1.5 -.5 1.5 -1 2 .5 1.5 0 1.5 -1.5 1.5 .5 1.5 0 2 -1 1.5 -1.5 1.5 2 1.5 0 1.5 -2.5 2 1 1.5 0 1.5 -1 1.5 1.5 1.5 .5 2 -.5 1.5 1 1.5 -2 1.5 2 1.5 1.5 2 -3.5 1.5 2.5 1.5 1 1.5 -2 1.5 -1 2 2 1.5 -.5 1.5 0 1.5 .5 1.5 -.5 2 .5 1.5 -.5 1.5 -1.5 1.5 -.5 1.5 -2 2 1.5 1.5 0 1.5 .5 1.5 0 1.5 1 2 -1 1.5 -3.5 1.5 -7 1.5 -7 1.5 -3.5 2 2 1.5 -4 1.5 1.5 1.5 1 1.5 1.5 2 -10 1.5 1 1.5 -2.5 1.5 10.5 1.5 5 2 2 1.5 -2 1.5 1.5 1.5 5 1.5 3.5 2 .5 1.5 -2.5 1.5 -1.5 1.5 -3 1.5 -1.5 2 0 1.5 2.5 1.5 1 1.5 3 1.5 -1.5 2 2 1.5 -2.5 1.5 3.5 1.5 -1.5 1.5 -1.5 2 2.5 1.5 .5 1.5 -1.5 1.5 1.5 1.5 -1.5 2 0 1.5 -1 1.5 1 1.5 -.5 1.5 1 2 -1 1.5 .5 1.5 2 1.5 -1.5 1.5 1.5 2 -.5 1.5 -.5 1.5 -1 1.5 1 1.5 .5 2 0 1.5 -.5 1.5 .5 1.5 -1.5 1.5 0 2 3 1.5 -2 1.5 -2 1.5 2.5 1.5 -.5 2 -1 1.5 1 1.5 1 1.5 1 1.5 0 2 -1.5 1.5 1 1.5 0 1.5 2 1.5 0 2 -2 1.5 1.5 1.5 .5 1.5 .5 1.5 -.5 2 2.5 1.5 -.5 1.5 -.5 1.5 -3.5 1.5 2 2 1.5 1.5 -1.5 1.5 -1 1.5 1.5 1.5 -2 2 .5 1.5 1.5 1.5 .5 1.5 0 1.5 .5 2 -1 1.5 1 1.5 .5 1.5 -.5 1.5 -.5 2 -1.5 1.5 2 1.5 -2.5 1.5 1 1.5 -1 2 .5 1.5 .5 1.5 -1 1.5 -2 1.5 .5 2 1 1.5 1 1.5 1.5 1.5 1.5 1.5 -1.5 2 -.5 1.5 1 1.5 -.5 1.5 1 1.5 0 2 -2 1.5 3 1.5 .5 1.5 -2 1.5 -.5 2 0 1.5 0 1.5 1 1.5 1 1.5 -1.5 2 .5 1.5 1.5 1.5 .5 1.5 .5 1.5 -1.5 2 -.5 1.5 4 1.5 -1.5 1.5 1.5" fill="none" stroke="#8a8a8a" stroke-width="2.0" stroke-linejoin="round" /><path d="M159,510.5l1.5 0 1.5 7.5 2 3.5 1.5 5.5 1.5 -1 1.5 1.5 1.5 .5 2 0 1.5 -1 1.5 -.5 1.5 -.5 1.5 3 2 .5 1.5 1 1.5 -2 1.5 1 1.5 0 2 0 1.5 -.5 1.5 .5 1.5 -1.5 1.5 -1.5 2 1 1.5 -.5 1.5 .5 1.5 0 1.5 0 2 0 1.5 .5 1.5 -1.5 1.5 1.5 1.5 0 2 -2 1.5 1.5 1.5 1 1.5 -1.5 1.5 2 2 .5 1.5 -.5 1.5 1 1.5 -1.5 1.5 .5 2 0 1.5 -2.5 1.5 0 1.5 -1.5 1.5 0 2 1.5 1.5 -.5 1.5 -2 1.5 -1 1.5 -.5 2 2.5 1.5 -.5 1.5 2 1.5 .5 1.5 1 2 -1 1.5 -1 1.5 .5 1.5 1.5 1.5 -2 2 1.5 1.5 -1 1.5 1.5 1.5 -1 1.5 -1 2 1 1.5 -3.5 1.5 3.5 1.5 0 1.5 -1 2 1 1.5 -1.5 1.5 1 1.5 -.5 1.5 .5 2 -1.5 1.5 .5 1.5 2 1.5 -1.5 1.5 -1 2 -.5 1.5 0 1.5 .5 1.5 0 1.5 1 2 0 1.5 -1.5 1.5 1.5 1.5 1.5 1.5 -1.5 2 1 1.5 .5 1.5 -.5 1.5 -1 1.5 1 2 -2 1.5 0 1.5 1 1.5 0 1.5 -1.5 2 -.5 1.5 3 1.5 -1.5 1.5 -2 1.5 1.5 2 -1 1.5 0 1.5 3 1.5 -1.5 1.5 -.5 2 .5 1.5 1 1.5 -1 1.5 0 1.5 -.5 2 2 1.5 1.5 1.5 -2.5 1.5 -1 1.5 .5 2 1.5 1.5 -.5 1.5 -.5 1.5 0 1.5 -2 2 1 1.5 -.5 1.5 -.5 1.5 0 1.5 -1.5 2 .5 1.5 1 1.5 0 1.5 0 1.5 .5 2 -.5 1.5 1 1.5 -.5 1.5 1 1.5 .5 2 -.5 1.5 0 1.5 1 1.5 0 1.5 -1 2 1 1.5 -.5 1.5 -1.5 1.5 -5.5 1.5 -1.5 2 4.5 1.5 4 1.5 2 1.5 2.5 1.5 5.5 2 -1 1.5 -3 1.5 -6 1.5 2 1.5 -4.5 2 -7 1.5 -5.5 1.5 -.5 1.5 1 1.5 -1.5 2 -6 1.5 -2.5 1.5 -5.5 1.5 -.5 1.5 6 2 1.5 1.5 -3 1.5 .5 1.5 2.5 1.5 -3.5 2 2 1.5 -1 1.5 -.5 1.5 0 1.5 .5 2 0 1.5 0 1.5 0 1.5 -.5 1.5 0 2 1 1.5 -1 1.5 -1 1.5 2 1.5 -3 2 2 1.5 .5 1.5 -2.5 1.5 0 1.5 2 2 .5 1.5 -1 1.5 1.5 1.5 0 1.5 -1.5 2 2 1.5 -2 1.5 1 1.5 1 1.5 1 2 -1.5 1.5 .5 1.5 -1.5 1.5 3.5 1.5 -4 2 1 1.5 0 1.5 -1.5 1.5 .5 1.5 -2 2 -.5 1.5 0 1.5 .5 1.5 1 1.5 -1.5 2 0 1.5 1.5 1.5 -1.5 1.5 1.5 1.5 1 2 -.5 1.5 .5 1.5 .5 1.5 1.5 1.5 -.5 2 -1 1.5 -.5 1.5 -2 1.5 0 1.5 0 2 -.5 1.5 0 1.5 -.5 1.5 1 1.5 1.5 2 -.5 1.5 -1.5 1.5 2 1.5 1 1.5 -1.5 2 2 1.5 -2.5 1.5 .5 1.5 -1 1.5 0 2 -.5 1.5 0 1.5 -1.5 1.5 1 1.5 -2.5 2 2.5 1.5 2.5 1.5 -.5 1.5 -1.5 1.5 2 2 -.5 1.5 .5 1.5 0 1.5 1.5 1.5 -1 2 -1.5 1.5 1.5 1.5 -.5 1.5 1.5 1.5 -3.5 2 .5 1.5 -.5 1.5 .5 1.5 -1.5 1.5 1 2 1 1.5 0 1.5 -.5 1.5 1 1.5 -1 2 -.5 1.5 1 1.5 0 1.5 0 1.5 -1 2 1 1.5 1 1.5 -2.5 1.5 1 1.5 -.5 2 1 1.5 1 1.5 -.5 1.5 -1 1.5 -1 2 1 1.5 -1.5 1.5 .5 1.5 1 1.5 .5 2 0 1.5 -.5 1.5 0 1.5 0 1.5 0 2 2.5 1.5 -1.5 1.5 .5 1.5 0 1.5 1 2 .5 1.5 -1.5 1.5 -1.5 1.5 -.5 1.5 .5 2 -1.5 1.5 1.5 1.5 -.5 1.5 -1.5 1.5 0 2 -.5 1.5 1.5 1.5 -2 1.5 .5 1.5 2.5 2 -1.5 1.5 -.5 1.5 -.5 1.5 3 1.5 -1 2 .5 1.5 -3 1.5 .5 1.5 -1 1.5 1 2 .5 1.5 -1.5 1.5 -.5 1.5 1.5 1.5 0 2 -3 1.5 2 1.5 -1.5 1.5 1 1.5 2.5 2 -1 1.5 1 1.5 1.5 1.5 0 1.5 -1.5 2 .5 1.5 0 1.5 -.5 1.5 2.5 1.5 -2.5 2 1 1.5 .5 1.5 -1 1.5 -1 1.5 1 2 0 1.5 0 1.5 1 1.5 -.5 1.5 -.5 2 -.5 1.5 .5 1.5 .5 1.5 -3.5 1.5 3 2 -1 1.5 -1 1.5 .5 1.5 -.5 1.5 -2 2 2 1.5 .5 1.5 -2 1.5 1.5 1.5 1.5 2 -1 1.5 -.5 1.5 -1 1.5 0 1.5 3 2 0 1.5 .5 1.5 -.5 1.5 -.5 1.5 1.5 2 -1.5 1.5 1 1.5 -2.5 1.5 1 1.5 0 2 -2 1.5 0 1.5 0 1.5 1 1.5 -1 2 -.5 1.5 2 1.5 -1 1.5 1 1.5 0 2 -.5 1.5 2 1.5 0 1.5 -1.5 1.5 1.5 2 2 1.5 -3.5 1.5 3.5 1.5 -1.5 1.5 -1.5 2 0 1.5 -1 1.5 -.5 1.5 2 1.5 -.5 2 -2.5 1.5 1.5 1.5 0 1.5 -2 1.5 1.5 2 -.5 1.5 .5 1.5 1 1.5 -1.5 1.5 .5 2 -.5 1.5 5 1.5 -2.5 1.5 -4.5 1.5 -4.5 2 0 1.5 1.5 1.5 -3.5 1.5 2.5 1.5 1.5 2 0 1.5 -3.5 1.5 0 1.5 -.5 1.5 -.5 2 0 1.5 0 1.5 1.5 1.5 -1.5 1.5 1.5 2 -1 1.5 .5 1.5 1 1.5 -1.5 1.5 .5 2 0 1.5 -.5 1.5 0 1.5 .5 1.5 -1.5 2 1 1.5 -1 1.5 .5 1.5 -1 1.5 1 2 -.5 1.5 .5 1.5 -.5 1.5 .5 1.5 -.5 2 .5 1.5 -2 1.5 2 1.5 1 1.5 -.5 2 -1 1.5 .5 1.5 1 1.5 -1 1.5 .5 2 1.5 1.5 -3 1.5 3 1.5 -.5 1.5 .5 2 -2 1.5 1.5 1.5 1.5 1.5 0 1.5 1.5 2 -1.5 1.5 2 1.5 -1 1.5 .5 1.5 -1.5 2 0 1.5 1 1.5 .5 1.5 -1.5 1.5 .5 2 -2 1.5 1 1.5 -3 1.5 .5 1.5 0 2 0 1.5 0 1.5 1 1.5 -.5 1.5 -1 2 1 1.5 -.5 1.5 -1 1.5 2.5 1.5 -1 2 0 1.5 1.5 1.5 -2.5 1.5 .5 1.5 .5 2 1 1.5 1 1.5 -1 1.5 -.5 1.5 0 2 .5 1.5 .5 1.5 2 1.5 -2.5 1.5 0 2 -.5 1.5 1.5 1.5 0 1.5 1 1.5 -4 2 5 1.5 -4 1.5 -3 1.5 -9 1.5 -2 2 -2.5 1.5 2 1.5 0 1.5 2.5 1.5 -5.5 2 -1.5 1.5 -6 1.5 1.5 1.5 -5.5 1.5 4 2 2.5 1.5 7 1.5 4 1.5 5.5 1.5 8.5 2 2 1.5 -3 1.5 -7 1.5 -.5 1.5 3.5 2 -1 1.5 3 1.5 -.5 1.5 1 1.5 1.5 2 0 1.5 -1 1.5 .5 1.5 3 1.5 .5 2 -1.5 1.5 2.5 1.5 -1.5 1.5 1 1.5 1 2 -2.5 1.5 1.5 1.5 .5 1.5 -1 1.5 1.5 2 -1.5 1.5 0 1.5 -1 1.5 0 1.5 .5 2 .5 1.5 -.5 1.5 -.5 1.5 1.5 1.5 -2.5 2 1 1.5 1 1.5 -1 1.5 -2.5 1.5 1.5 2 0 1.5 1 1.5 -2 1.5 1 1.5 0 2 .5 1.5 .5 1.5 -.5 1.5 2 1.5 -1 2 2 1.5 -1.5 1.5 0 1.5 2 1.5 -2 2 1 1.5 -1 1.5 0 1.5 -.5 1.5 -1 2 0 1.5 1 1.5 -1.5 1.5 1.5 1.5 -1.5 2 1.5 1.5 -2 1.5 1.5 1.5 -1.5 1.5 .5 2 .5 1.5 0 1.5 2.5 1.5 -3 1.5 1 2 1.5 1.5 0 1.5 0 1.5 .5 1.5 -1.5 2 -.5 1.5 -1 1.5 .5 1.5 1 1.5 -1 2 .5 1.5 -1 1.5 .5 1.5 -2 1.5 -.5 2 2.5 1.5 -1.5 1.5 1 1.5 -1.5 1.5 -.5 2 1 1.5 .5 1.5 0 1.5 -.5 1.5 .5 2 -.5 1.5 .5 1.5 -.5 1.5 -.5 1.5 0 2 -.5 1.5 2.5 1.5 -.5 1.5 -2 1.5 0 2 1 1.5 1.5 1.5 -.5 1.5 0 1.5 -.5 2 -1.5 1.5 0 1.5 -.5 1.5 -1" fill="none" stroke="#8a8a8a" stroke-width="2.0" stroke-linejoin="round" /><path d="M159,517.5l1.5 1 1.5 5 2 2.5 1.5 2.5 1.5 6 1.5 2 1.5 -1 2 -4 1.5 -1 1.5 1 1.5 -1.5 1.5 1.5 2 1.5 1.5 -2.5 1.5 .5 1.5 .5 1.5 2 2 -2.5 1.5 2.5 1.5 -3.5 1.5 -.5 1.5 2 2 .5 1.5 1 1.5 -.5 1.5 0 1.5 -1 2 .5 1.5 .5 1.5 -1 1.5 .5 1.5 1.5 2 -1.5 1.5 .5 1.5 .5 1.5 -1 1.5 -1.5 2 1 1.5 .5 1.5 0 1.5 1 1.5 -1 2 -1 1.5 -1 1.5 1.5 1.5 -1 1.5 1 2 -2.5 1.5 1 1.5 -1.5 1.5 -.5 1.5 -.5 2 0 1.5 2 1.5 -1 1.5 1 1.5 .5 2 .5 1.5 -2 1.5 4.5 1.5 -1 1.5 -.5 2 .5 1.5 0 1.5 -.5 1.5 0 1.5 -2 2 .5 1.5 -2.5 1.5 1.5 1.5 1 1.5 0 2 0 1.5 1 1.5 -1 1.5 0 1.5 1 2 -.5 1.5 1 1.5 0 1.5 -2 1.5 0 2 2.5 1.5 -1 1.5 1.5 1.5 -1 1.5 -1 2 1 1.5 -.5 1.5 .5 1.5 -1 1.5 -.5 2 0 1.5 0 1.5 0 1.5 -.5 1.5 1.5 2 0 1.5 1 1.5 -1.5 1.5 2.5 1.5 -2.5 2 2.5 1.5 0 1.5 1.5 1.5 -1.5 1.5 -.5 2 1.5 1.5 -1 1.5 -1 1.5 -.5 1.5 0 2 -2 1.5 3.5 1.5 -2.5 1.5 .5 1.5 -1.5 2 -1 1.5 1.5 1.5 -2 1.5 0 1.5 .5 2 -.5 1.5 -1 1.5 1 1.5 .5 1.5 -.5 2 0 1.5 .5 1.5 3 1.5 -2 1.5 -.5 2 2.5 1.5 -.5 1.5 -.5 1.5 0 1.5 -1.5 2 -.5 1.5 .5 1.5 0 1.5 1.5 1.5 -1 2 0 1.5 0 1.5 .5 1.5 .5 1.5 -.5 2 -2 1.5 1 1.5 6 1.5 1.5 1.5 -1.5 2 6.5 1.5 -1 1.5 .5 1.5 -5 1.5 5 2 -2 1.5 1 1.5 -5.5 1.5 0 1.5 .5 2 -1.5 1.5 -3.5 1.5 -6 1.5 -2.5 1.5 -5 2 -6 1.5 1 1.5 3 1.5 1.5 1.5 -3.5 2 -1.5 1.5 4 1.5 -.5 1.5 -1.5 1.5 .5 2 1.5 1.5 -1.5 1.5 .5 1.5 1.5 1.5 -.5 2 1.5 1.5 -1.5 1.5 -.5 1.5 -.5 1.5 -.5 2 -.5 1.5 .5 1.5 0 1.5 1.5 1.5 -1.5 2 0 1.5 -1.5 1.5 -1.5 1.5 3 1.5 -1 2 0 1.5 1 1.5 1.5 1.5 -1 1.5 -1.5 2 .5 1.5 0 1.5 -.5 1.5 -2 1.5 2 2 -2 1.5 2 1.5 -3 1.5 .5 1.5 -.5 2 .5 1.5 2 1.5 -2.5 1.5 1 1.5 -1 2 .5 1.5 1.5 1.5 -.5 1.5 -1 1.5 0 2 2 1.5 1.5 1.5 -3.5 1.5 1 1.5 -1.5 2 4 1.5 -4 1.5 1 1.5 -2 1.5 2 2 -.5 1.5 -.5 1.5 -1.5 1.5 1.5 1.5 0 2 0 1.5 -2.5 1.5 1 1.5 .5 1.5 0 2 -3.5 1.5 4 1.5 -.5 1.5 .5 1.5 -2 2 .5 1.5 -1.5 1.5 0 1.5 -.5 1.5 -.5 2 2 1.5 -1 1.5 -.5 1.5 -1.5 1.5 2 2 -2 1.5 1 1.5 -1 1.5 0 1.5 1 2 0 1.5 -1 1.5 -1 1.5 2 1.5 -.5 2 0 1.5 1.5 1.5 -3.5 1.5 .5 1.5 .5 2 1 1.5 1 1.5 -.5 1.5 -1 1.5 1 2 -.5 1.5 -.5 1.5 0 1.5 .5 1.5 1.5 2 0 1.5 0 1.5 1 1.5 0 1.5 -.5 2 2 1.5 -2 1.5 .5 1.5 -.5 1.5 .5 2 -2.5 1.5 -1 1.5 -.5 1.5 -1.5 1.5 1 2 -1.5 1.5 .5 1.5 1.5 1.5 -1 1.5 2 2 -2.5 1.5 1.5 1.5 1 1.5 .5 1.5 0 2 -1 1.5 2 1.5 -.5 1.5 -.5 1.5 .5 2 1 1.5 -.5 1.5 -1.5 1.5 -2 1.5 .5 2 -1.5 1.5 .5 1.5 -1.5 1.5 .5 1.5 .5 2 -1.5 1.5 -1 1.5 -1 1.5 2 1.5 -1 2 2.5 1.5 -1 1.5 -1 1.5 0 1.5 .5 2 2.5 1.5 -2.5 1.5 0 1.5 2 1.5 .5 2 -1.5 1.5 -1.5 1.5 1 1.5 .5 1.5 2 2 -.5 1.5 -2.5 1.5 -1 1.5 0 1.5 -1 2 1.5 1.5 -.5 1.5 2 1.5 -.5 1.5 -1 2 1 1.5 -2.5 1.5 3 1.5 -1.5 1.5 .5 2 -.5 1.5 -1 1.5 2 1.5 .5 1.5 -3 2 1 1.5 .5 1.5 -.5 1.5 0 1.5 -.5 2 0 1.5 1 1.5 -1.5 1.5 .5 1.5 -.5 2 -.5 1.5 1 1.5 1.5 1.5 -1.5 1.5 3 2 -3 1.5 -1 1.5 2 1.5 -1.5 1.5 2.5 2 -.5 1.5 -1.5 1.5 1 1.5 -.5 1.5 2.5 2 -2 1.5 -.5 1.5 -.5 1.5 -.5 1.5 -.5 2 0 1.5 0 1.5 0 1.5 -1 1.5 1 2 -.5 1.5 0 1.5 1.5 1.5 2 1.5 .5 2 -1.5 1.5 -1 1.5 .5 1.5 1.5 1.5 0 2 .5 1.5 -1 1.5 .5 1.5 -2 1.5 .5 2 -1.5 1.5 0 1.5 .5 1.5 -1.5 1.5 2.5 2 -1.5 1.5 .5 1.5 -1.5 1.5 2 1.5 -.5 2 0 1.5 0 1.5 -1 1.5 1 1.5 -1 2 1 1.5 -1.5 1.5 -1 1.5 1 1.5 2 2 1 1.5 -.5 1.5 -3.5 1.5 1.5 1.5 -2 2 .5 1.5 1 1.5 1 1.5 -1 1.5 -3.5 2 2.5 1.5 1 1.5 -.5 1.5 -4.5 1.5 .5 2 3 1.5 -2 1.5 -1.5 1.5 0 1.5 -.5 2 .5 1.5 -1 1.5 -1.5 1.5 1 1.5 .5 2 .5 1.5 -1 1.5 2 1.5 .5 1.5 .5 2 0 1.5 0 1.5 0 1.5 -.5 1.5 .5 2 -.5 1.5 1.5 1.5 -2 1.5 1.5 1.5 -1.5 2 -.5 1.5 0 1.5 1 1.5 -2 1.5 2.5 2 -3 1.5 1 1.5 -1 1.5 1 1.5 0 2 .5 1.5 .5 1.5 3 1.5 1.5 1.5 -1.5 2 -.5 1.5 -1.5 1.5 -.5 1.5 -.5 1.5 -.5 2 0 1.5 1.5 1.5 0 1.5 .5 1.5 -1.5 2 3 1.5 -.5 1.5 -1 1.5 2.5 1.5 -1.5 2 .5 1.5 -1 1.5 -1 1.5 2 1.5 -1 2 -1.5 1.5 .5 1.5 -.5 1.5 -.5 1.5 0 2 -2.5 1.5 1.5 1.5 2.5 1.5 -1.5 1.5 2.5 2 -2 1.5 -.5 1.5 2 1.5 -1 1.5 .5 2 -1.5 1.5 1 1.5 0 1.5 -.5 1.5 -.5 2 -1 1.5 .5 1.5 .5 1.5 1 1.5 -1.5 2 -.5 1.5 1 1.5 0 1.5 .5 1.5 3 2 -1.5 1.5 -.5 1.5 -7.5 1.5 -1.5 1.5 1 2 -5 1.5 -3.5 1.5 -6 1.5 2 1.5 4 2 1.5 1.5 -.5 1.5 -8 1.5 6.5 1.5 4.5 2 3 1.5 2 1.5 3.5 1.5 3.5 1.5 -1.5 2 2 1.5 5 1.5 7 1.5 -3 1.5 .5 2 2 1.5 .5 1.5 1.5 1.5 1 1.5 1.5 2 1.5 1.5 1 1.5 0 1.5 5.5 1.5 -1 2 1.5 1.5 1.5 1.5 -1 1.5 1 1.5 -2 2 1.5 1.5 -.5 1.5 -1.5 1.5 -.5 1.5 2 2 -3 1.5 1.5 1.5 .5 1.5 -1 1.5 -1 2 0 1.5 -.5 1.5 -.5 1.5 .5 1.5 1 2 -.5 1.5 .5 1.5 1 1.5 .5 1.5 .5 2 -2 1.5 0 1.5 .5 1.5 1 1.5 -.5 2 -.5 1.5 -1 1.5 .5 1.5 -.5 1.5 -2.5 2 1 1.5 -2.5 1.5 1 1.5 .5 1.5 -1 2 0 1.5 1.5 1.5 -1.5 1.5 2 1.5 2.5 2 -1 1.5 1.5 1.5 0 1.5 -2 1.5 0 2 1 1.5 -.5 1.5 0 1.5 -.5 1.5 -.5 2 -1.5 1.5 1 1.5 -2 1.5 2 1.5 .5 2 -2 1.5 3 1.5 -2 1.5 .5 1.5 0 2 0 1.5 0 1.5 1 1.5 0 1.5 -1.5 2 -.5 1.5 -.5 1.5 0 1.5 -1 1.5 -.5 2 -.5 1.5 1.5 1.5 2.5 1.5 -4 1.5 0 2 1 1.5 -.5 1.5 -1 1.5 -2 1.5 1.5 2 -.5 1.5 1.5 1.5 -1.5 1.5 0 1.5 -.5 2 0 1.5 2 1.5 -1.5 1.5 0 1.5 1 2 -.5 1.5 2 1.5 -1.5 1.5 .5 1.5 0 2 -2 1.5 -4 1.5 .5 1.5 -1.5" fill="none" stroke="#8a8a8a" stroke-width="2.0" stroke-linejoin="round" /><path d="M159,521.5l1.5 3 1.5 .5 2 2.5 1.5 3 1.5 5 1.5 0 1.5 1 2 -3.5 1.5 2.5 1.5 -1.5 1.5 2 1.5 -.5 2 .5 1.5 0 1.5 -1.5 1.5 2.5 1.5 -1.5 2 1 1.5 0 1.5 -1 1.5 0 1.5 -1 2 1.5 1.5 1 1.5 -1.5 1.5 0 1.5 .5 2 .5 1.5 -.5 1.5 1 1.5 -1.5 1.5 -.5 2 1.5 1.5 2 1.5 -1.5 1.5 -.5 1.5 0 2 2 1.5 -.5 1.5 -2.5 1.5 0 1.5 3 2 -1 1.5 0 1.5 .5 1.5 -1 1.5 0 2 .5 1.5 -1.5 1.5 1 1.5 0 1.5 1.5 2 0 1.5 -1.5 1.5 -.5 1.5 .5 1.5 1 2 0 1.5 -2.5 1.5 1.5 1.5 -2 1.5 2 2 -1.5 1.5 -.5 1.5 0 1.5 0 1.5 1 2 0 1.5 -2 1.5 1.5 1.5 1.5 1.5 -.5 2 -.5 1.5 0 1.5 0 1.5 0 1.5 -1.5 2 -1.5 1.5 2 1.5 -.5 1.5 -.5 1.5 1 2 -1.5 1.5 1 1.5 -.5 1.5 2 1.5 -.5 2 .5 1.5 0 1.5 0 1.5 1 1.5 -1 2 -1 1.5 -.5 1.5 2 1.5 -1 1.5 .5 2 -1.5 1.5 1.5 1.5 1 1.5 -1 1.5 1.5 2 -.5 1.5 2.5 1.5 -1.5 1.5 .5 1.5 .5 2 -1 1.5 -.5 1.5 .5 1.5 -1.5 1.5 -.5 2 -.5 1.5 -.5 1.5 -1.5 1.5 1.5 1.5 .5 2 -2.5 1.5 1.5 1.5 0 1.5 .5 1.5 -1 2 1.5 1.5 0 1.5 1 1.5 0 1.5 3.5 2 -2.5 1.5 1 1.5 0 1.5 -3 1.5 .5 2 1.5 1.5 -1.5 1.5 1 1.5 -2.5 1.5 1 2 1 1.5 .5 1.5 0 1.5 -2 1.5 2 2 0 1.5 -1 1.5 .5 1.5 .5 1.5 -1.5 2 2 1.5 0 1.5 -2 1.5 2.5 1.5 -2.5 2 11.5 1.5 -3 1.5 2.5 1.5 0 1.5 -1 2 4.5 1.5 .5 1.5 -4 1.5 -6 1.5 .5 2 1 1.5 -1 1.5 -4 1.5 2.5 1.5 2 2 -3.5 1.5 -5.5 1.5 -8 1.5 -.5 1.5 7 2 -2 1.5 .5 1.5 .5 1.5 1.5 1.5 0 2 -1 1.5 -.5 1.5 -.5 1.5 1.5 1.5 .5 2 0 1.5 -.5 1.5 1.5 1.5 -.5 1.5 0 2 0 1.5 -1 1.5 1 1.5 0 1.5 1.5 2 -1 1.5 -1 1.5 -1 1.5 .5 1.5 0 2 -.5 1.5 0 1.5 -1 1.5 1 1.5 -1.5 2 -1 1.5 2 1.5 -2 1.5 -.5 1.5 1 2 -.5 1.5 -.5 1.5 0 1.5 -.5 1.5 0 2 1 1.5 -3 1.5 0 1.5 2 1.5 -1.5 2 1 1.5 -.5 1.5 -1 1.5 1.5 1.5 -1.5 2 -.5 1.5 2 1.5 .5 1.5 1.5 1.5 -1 2 0 1.5 -.5 1.5 -1 1.5 1 1.5 -1.5 2 -.5 1.5 1.5 1.5 -1.5 1.5 1 1.5 -.5 2 0 1.5 .5 1.5 -1 1.5 2.5 1.5 -.5 2 0 1.5 .5 1.5 -.5 1.5 -1 1.5 .5 2 0 1.5 -1 1.5 -1.5 1.5 .5 1.5 2.5 2 -1.5 1.5 0 1.5 1 1.5 -1 1.5 1 2 -3.5 1.5 1 1.5 -1 1.5 1.5 1.5 0 2 -.5 1.5 -.5 1.5 2.5 1.5 -2.5 1.5 -.5 2 -1.5 1.5 .5 1.5 .5 1.5 0 1.5 .5 2 0 1.5 -1 1.5 2 1.5 .5 1.5 0 2 1 1.5 0 1.5 -2 1.5 1 1.5 1 2 -1.5 1.5 .5 1.5 -2 1.5 0 1.5 0 2 1 1.5 1.5 1.5 -.5 1.5 -1 1.5 .5 2 0 1.5 -1.5 1.5 .5 1.5 0 1.5 -1.5 2 1 1.5 0 1.5 -.5 1.5 .5 1.5 -1.5 2 2.5 1.5 -1 1.5 1 1.5 -1 1.5 -.5 2 2 1.5 -3 1.5 1 1.5 0 1.5 1 2 -2 1.5 1 1.5 -1 1.5 2.5 1.5 -2.5 2 0 1.5 0 1.5 .5 1.5 .5 1.5 -3 2 0 1.5 1.5 1.5 -1 1.5 -.5 1.5 1 2 -1 1.5 0 1.5 1 1.5 1 1.5 2 2 -4 1.5 3.5 1.5 -.5 1.5 2.5 1.5 -3 2 1 1.5 .5 1.5 -1 1.5 -1.5 1.5 1 2 -1 1.5 .5 1.5 0 1.5 -.5 1.5 -1.5 2 1 1.5 1.5 1.5 -1.5 1.5 -.5 1.5 0 2 2 1.5 -1.5 1.5 1 1.5 -1 1.5 -1.5 2 2 1.5 -1 1.5 1.5 1.5 -.5 1.5 -1.5 2 0 1.5 1.5 1.5 -2.5 1.5 0 1.5 2 2 -1 1.5 1.5 1.5 .5 1.5 .5 1.5 -2 2 .5 1.5 2 1.5 -1.5 1.5 -.5 1.5 2 2 -1.5 1.5 3 1.5 -1 1.5 0 1.5 -1.5 2 .5 1.5 .5 1.5 -1 1.5 .5 1.5 -.5 2 -1 1.5 -1 1.5 -.5 1.5 -.5 1.5 1.5 2 -2.5 1.5 2 1.5 -2.5 1.5 0 1.5 1 2 -1 1.5 2 1.5 .5 1.5 .5 1.5 0 2 0 1.5 -2.5 1.5 2.5 1.5 -1.5 1.5 2 2 -1 1.5 0 1.5 -.5 1.5 1.5 1.5 0 2 -1.5 1.5 1 1.5 .5 1.5 -.5 1.5 -.5 2 2.5 1.5 .5 1.5 -1 1.5 -.5 1.5 -1 2 -.5 1.5 .5 1.5 -.5 1.5 -.5 1.5 .5 2 1 1.5 -.5 1.5 -2 1.5 -.5 1.5 0 2 2 1.5 3.5 1.5 -.5 1.5 -3 1.5 2 2 0 1.5 2.5 1.5 -1.5 1.5 -1 1.5 2 2 2.5 1.5 2.5 1.5 0 1.5 0 1.5 1 2 3 1.5 -3 1.5 -1.5 1.5 -1 1.5 2.5 2 -1 1.5 0 1.5 1 1.5 0 1.5 -2.5 2 1 1.5 -1 1.5 -1 1.5 1.5 1.5 -3 2 1.5 1.5 -.5 1.5 -1 1.5 1.5 1.5 -3 2 2 1.5 0 1.5 -.5 1.5 1.5 1.5 1 2 -.5 1.5 2 1.5 -3 1.5 2.5 1.5 .5 2 -1 1.5 0 1.5 -1 1.5 1 1.5 -.5 2 -.5 1.5 -.5 1.5 .5 1.5 .5 1.5 -.5 2 1 1.5 -.5 1.5 1 1.5 1 1.5 -1.5 2 1 1.5 .5 1.5 .5 1.5 0 1.5 1.5 2 -.5 1.5 1 1.5 1 1.5 -3 1.5 1 2 .5 1.5 -.5 1.5 -1 1.5 -1 1.5 1.5 2 0 1.5 -.5 1.5 -.5 1.5 1 1.5 -1 2 1 1.5 0 1.5 -.5 1.5 1 1.5 1 2 -1 1.5 -2 1.5 -.5 1.5 1.5 1.5 -.5 2 0 1.5 .5 1.5 1 1.5 -1.5 1.5 0 2 0 1.5 1.5 1.5 -1 1.5 1 1.5 1 2 -1 1.5 -.5 1.5 -.5 1.5 .5 1.5 -8 2 -1.5 1.5 -4 1.5 -1 1.5 -2 1.5 -2 2 -2 1.5 -6.5 1.5 -1 1.5 -1.5 1.5 6 2 -.5 1.5 -2.5 1.5 -3 1.5 1 1.5 1 2 2 1.5 1.5 1.5 2.5 1.5 11.5 1.5 5 2 -4.5 1.5 .5 1.5 2 1.5 2 1.5 -2.5 2 -2 1.5 -3 1.5 3 1.5 .5 1.5 .5 2 .5 1.5 -1.5 1.5 2 1.5 -1 1.5 1.5 2 .5 1.5 -.5 1.5 -1.5 1.5 2.5 1.5 -2.5 2 0 1.5 1.5 1.5 -1.5 1.5 0 1.5 -2 2 2.5 1.5 -1 1.5 -2 1.5 0 1.5 1.5 2 0 1.5 2 1.5 -2.5 1.5 1 1.5 .5 2 .5 1.5 -1.5 1.5 .5 1.5 1 1.5 2.5 2 -2 1.5 0 1.5 1 1.5 -.5 1.5 1 2 -2.5 1.5 .5 1.5 -.5 1.5 -.5 1.5 0 2 -1 1.5 .5 1.5 0 1.5 .5 1.5 -1 2 -.5 1.5 .5 1.5 1 1.5 .5 1.5 -1 2 1 1.5 -1.5 1.5 -2.5 1.5 1 1.5 -2 2 1 1.5 0 1.5 2 1.5 0 1.5 -1.5 2 -.5 1.5 1.5 1.5 -2 1.5 1 1.5 1 2 -1 1.5 .5 1.5 1.5 1.5 -2 1.5 1 2 -1 1.5 -2.5 1.5 2.5 1.5 0 1.5 .5 2 -.5 1.5 0 1.5 0 1.5 1 1.5 -1 2 0 1.5 .5 1.5 -.5 1.5 1.5 1.5 -1 2 .5 1.5 -1 1.5 .5 1.5 0 1.5 .5 2 -2.5 1.5 .5 1.5 -1.5 1.5 -.5 1.5 0 2 -.5 1.5 0 1.5 -1 1.5 1 1.5 0 2 -1 1.5 .5 1.5 0 1.5 1 1.5 -1 2 -.5 1.5 -3.5 1.5 -4 1.5 -2" fill="none" stroke="#8a8a8a" stroke-width="2.0" stroke-linejoin="round" /><path d="M159,526l1.5 1 1.5 6.5 2 5 1.5 6 1.5 -.5 1.5 -1 1.5 .5 2 -3 1.5 3.5 1.5 .5 1.5 0 1.5 .5 2 .5 1.5 -.5 1.5 -.5 1.5 2 1.5 -.5 2 3 1.5 -4 1.5 2 1.5 -2 1.5 -.5 2 1 1.5 -1.5 1.5 2 1.5 .5 1.5 -1 2 0 1.5 .5 1.5 -1 1.5 1.5 1.5 -2 2 2.5 1.5 -2.5 1.5 -1 1.5 2 1.5 0 2 -1 1.5 3.5 1.5 -2.5 1.5 1 1.5 1.5 2 -3 1.5 .5 1.5 1.5 1.5 -1.5 1.5 3 2 -3 1.5 2 1.5 -.5 1.5 -3 1.5 .5 2 2 1.5 -2.5 1.5 1 1.5 .5 1.5 0 2 -1 1.5 0 1.5 1.5 1.5 -.5 1.5 .5 2 -1 1.5 2.5 1.5 -1 1.5 -1 1.5 1 2 -.5 1.5 -1.5 1.5 2 1.5 0 1.5 0 2 0 1.5 -1.5 1.5 .5 1.5 0 1.5 1 2 -.5 1.5 1 1.5 -.5 1.5 0 1.5 -.5 2 1 1.5 -.5 1.5 1.5 1.5 0 1.5 0 2 -2 1.5 -.5 1.5 .5 1.5 .5 1.5 -1.5 2 -1 1.5 1 1.5 -2 1.5 1 1.5 -1 2 -1 1.5 2.5 1.5 -.5 1.5 -.5 1.5 0 2 -1.5 1.5 .5 1.5 1 1.5 1 1.5 -3.5 2 2 1.5 -1 1.5 0 1.5 2 1.5 .5 2 -1.5 1.5 2.5 1.5 0 1.5 .5 1.5 1 2 -1 1.5 .5 1.5 -2 1.5 0 1.5 0 2 0 1.5 .5 1.5 .5 1.5 .5 1.5 -1 2 -2.5 1.5 3.5 1.5 -1.5 1.5 -.5 1.5 -.5 2 1.5 1.5 2 1.5 -2 1.5 .5 1.5 -1 2 1 1.5 -1 1.5 .5 1.5 1.5 1.5 -.5 2 -1.5 1.5 1 1.5 .5 1.5 -.5 1.5 -1.5 2 2 1.5 0 1.5 -2 1.5 -.5 1.5 3.5 2 4.5 1.5 4.5 1.5 1 1.5 2.5 1.5 1 2 2 1.5 -.5 1.5 0 1.5 3 1.5 2 2 -2 1.5 -3.5 1.5 -2 1.5 -2.5 1.5 -1 2 2 1.5 1.5 1.5 -.5 1.5 0 1.5 -3.5 2 2 1.5 -3.5 1.5 .5 1.5 0 1.5 -1.5 2 .5 1.5 0 1.5 1 1.5 -1 1.5 .5 2 .5 1.5 1 1.5 -2.5 1.5 2 1.5 -.5 2 .5 1.5 1 1.5 -1 1.5 0 1.5 .5 2 -.5 1.5 2.5 1.5 -1 1.5 -2 1.5 .5 2 -1.5 1.5 2.5 1.5 -1 1.5 2 1.5 -1 2 -.5 1.5 1 1.5 -2 1.5 1.5 1.5 -1.5 2 0 1.5 3 1.5 -4 1.5 2.5 1.5 -.5 2 1.5 1.5 -1.5 1.5 1 1.5 -1 1.5 3 2 -1.5 1.5 -1 1.5 -1.5 1.5 1 1.5 2 2 -2.5 1.5 0 1.5 1.5 1.5 .5 1.5 0 2 -.5 1.5 1.5 1.5 -3 1.5 1 1.5 1 2 1 1.5 1.5 1.5 -.5 1.5 .5 1.5 -1 2 1.5 1.5 -2.5 1.5 1.5 1.5 -1 1.5 0 2 0 1.5 .5 1.5 -2 1.5 0 1.5 -.5 2 -1 1.5 3.5 1.5 -2 1.5 0 1.5 -1 2 .5 1.5 .5 1.5 1.5 1.5 -1 1.5 0 2 -1 1.5 .5 1.5 1 1.5 -1 1.5 1.5 2 .5 1.5 1.5 1.5 -3 1.5 .5 1.5 1.5 2 -2.5 1.5 4.5 1.5 -2 1.5 .5 1.5 0 2 -2 1.5 2.5 1.5 -2 1.5 .5 1.5 0 2 .5 1.5 .5 1.5 -1.5 1.5 .5 1.5 -1.5 2 -1.5 1.5 .5 1.5 -.5 1.5 1.5 1.5 -.5 2 0 1.5 1 1.5 -2.5 1.5 2.5 1.5 0 2 .5 1.5 .5 1.5 -.5 1.5 2 1.5 .5 2 -3 1.5 1.5 1.5 1.5 1.5 -3.5 1.5 1.5 2 2 1.5 -2 1.5 .5 1.5 -1 1.5 -2 2 3 1.5 -.5 1.5 1 1.5 -.5 1.5 -2 2 -1 1.5 1.5 1.5 1 1.5 -1.5 1.5 -.5 2 1 1.5 -2 1.5 1 1.5 1 1.5 -1 2 -.5 1.5 1 1.5 1 1.5 -1 1.5 1 2 1 1.5 0 1.5 .5 1.5 0 1.5 -.5 2 -1.5 1.5 1 1.5 .5 1.5 -.5 1.5 0 2 -.5 1.5 -1.5 1.5 1.5 1.5 -1.5 1.5 -1.5 2 3 1.5 -1 1.5 1 1.5 -1 1.5 0 2 -1.5 1.5 0 1.5 1.5 1.5 1 1.5 -1.5 2 1 1.5 -2.5 1.5 2 1.5 .5 1.5 -1 2 2 1.5 -.5 1.5 .5 1.5 -.5 1.5 -.5 2 -1.5 1.5 3 1.5 -1 1.5 0 1.5 -.5 2 1 1.5 -2 1.5 1.5 1.5 -1 1.5 -2 2 .5 1.5 1.5 1.5 -1 1.5 0 1.5 -1.5 2 .5 1.5 -2.5 1.5 2 1.5 .5 1.5 -.5 2 1.5 1.5 -.5 1.5 0 1.5 1 1.5 0 2 0 1.5 1 1.5 -1.5 1.5 0 1.5 1.5 2 -2 1.5 .5 1.5 -.5 1.5 1.5 1.5 -.5 2 2 1.5 -2.5 1.5 0 1.5 -.5 1.5 -1 2 1.5 1.5 -2 1.5 .5 1.5 1 1.5 -.5 2 .5 1.5 0 1.5 0 1.5 -1 1.5 -1 2 .5 1.5 -.5 1.5 0 1.5 0 1.5 1.5 2 -2 1.5 2 1.5 -.5 1.5 0 1.5 .5 2 1.5 1.5 -3 1.5 1 1.5 -1 1.5 0 2 -1 1.5 1 1.5 0 1.5 1 1.5 .5 2 -1 1.5 3 1.5 1 1.5 -3 1.5 -.5 2 .5 1.5 2.5 1.5 1.5 1.5 2 1.5 2.5 2 0 1.5 -.5 1.5 1.5 1.5 0 1.5 -1.5 2 4 1.5 -2.5 1.5 1 1.5 3 1.5 -1 2 -1 1.5 -.5 1.5 2 1.5 -.5 1.5 .5 2 1.5 1.5 -2 1.5 2.5 1.5 0 1.5 .5 2 -2 1.5 1 1.5 1.5 1.5 -.5 1.5 -1.5 2 2 1.5 -3 1.5 1 1.5 1 1.5 -.5 2 0 1.5 .5 1.5 -1 1.5 0 1.5 -.5 2 -.5 1.5 1 1.5 .5 1.5 0 1.5 3 2 -2 1.5 .5 1.5 1 1.5 -1 1.5 1 2 1 1.5 -1.5 1.5 1.5 1.5 0 1.5 1.5 2 1 1.5 -.5 1.5 -1.5 1.5 0 1.5 1.5 2 -1 1.5 -.5 1.5 2.5 1.5 .5 1.5 -1 2 -1 1.5 -1 1.5 1.5 1.5 .5 1.5 1 2 1 1.5 -1 1.5 .5 1.5 -1.5 1.5 .5 2 1.5 1.5 -1 1.5 -1.5 1.5 2.5 1.5 0 2 -.5 1.5 -.5 1.5 1 1.5 -1.5 1.5 2 2 -1 1.5 2 1.5 -1.5 1.5 3 1.5 1 2 -.5 1.5 0 1.5 -2 1.5 1 1.5 1 2 -1 1.5 0 1.5 1 1.5 -.5 1.5 -.5 2 -1.5 1.5 .5 1.5 -6 1.5 -4 1.5 1 2 -4.5 1.5 -4 1.5 -5 1.5 -.5 1.5 -1 2 -4 1.5 -6.5 1.5 -8 1.5 -6.5 1.5 0 2 3.5 1.5 -3 1.5 -3.5 1.5 -.5 1.5 .5 2 .5 1.5 .5 1.5 -1 1.5 -1 1.5 3.5 2 -1 1.5 -2.5 1.5 4 1.5 .5 1.5 -1 2 -1.5 1.5 .5 1.5 .5 1.5 0 1.5 -1 2 -1 1.5 1 1.5 -1.5 1.5 .5 1.5 1.5 2 -1 1.5 -1.5 1.5 0 1.5 1 1.5 -2 2 .5 1.5 0 1.5 -.5 1.5 -.5 1.5 0 2 0 1.5 0 1.5 1 1.5 -1.5 1.5 0 2 2 1.5 -.5 1.5 -1 1.5 0 1.5 0 2 0 1.5 -1 1.5 .5 1.5 1 1.5 -2 2 2 1.5 .5 1.5 -1 1.5 0 1.5 1 2 .5 1.5 -1 1.5 .5 1.5 -.5 1.5 -1 2 1.5 1.5 0 1.5 -1 1.5 -2 1.5 -.5 2 .5 1.5 -1.5 1.5 1.5 1.5 -.5 1.5 -2 2 .5 1.5 1 1.5 -2 1.5 1 1.5 1 2 .5 1.5 -1.5 1.5 2 1.5 .5 1.5 -1.5 2 1 1.5 -1.5 1.5 -1 1.5 1.5 1.5 -1 2 -2 1.5 -.5 1.5 2 1.5 -1.5 1.5 1.5 2 -1.5 1.5 1 1.5 .5 1.5 -1 1.5 .5 2 -.5 1.5 1.5 1.5 -1 1.5 -.5 1.5 0 2 1 1.5 1 1.5 -.5 1.5 1.5 1.5 -1.5 2 3 1.5 -1.5 1.5 -1 1.5 1 1.5 .5 2 0 1.5 0 1.5 -2 1.5 0 1.5 -1 2 1 1.5 -1 1.5 .5 1.5 -.5 1.5 -.5 2 -1 1.5 -3 1.5 -5 1.5 -2" fill="none" stroke="#8a8a8a" stroke-width="2.0" stroke-linejoin="round" /><path d="M159,532.5l1.5 4 1.5 6 2 7 1.5 4 1.5 6.5 1.5 5 1.5 -2.5 2 -1 1.5 .5 1.5 -1 1.5 -.5 1.5 0 2 .5 1.5 -1 1.5 1 1.5 .5 1.5 -.5 2 -1 1.5 .5 1.5 .5 1.5 0 1.5 -1 2 0 1.5 1 1.5 0 1.5 -.5 1.5 -.5 2 .5 1.5 0 1.5 .5 1.5 .5 1.5 -1.5 2 1.5 1.5 -2 1.5 0 1.5 2.5 1.5 0 2 -2.5 1.5 0 1.5 1.5 1.5 -1 1.5 .5 2 1.5 1.5 -.5 1.5 .5 1.5 1.5 1.5 -3 2 .5 1.5 3.5 1.5 -1.5 1.5 1 1.5 -2.5 2 3 1.5 -3 1.5 1.5 1.5 -.5 1.5 -1 2 2 1.5 -3 1.5 4 1.5 -.5 1.5 -1 2 0 1.5 0 1.5 -.5 1.5 .5 1.5 1 2 -1.5 1.5 0 1.5 -1.5 1.5 3.5 1.5 -1.5 2 -2.5 1.5 2.5 1.5 1 1.5 -1.5 1.5 .5 2 -.5 1.5 1.5 1.5 1 1.5 -1.5 1.5 -2.5 2 2.5 1.5 -1.5 1.5 0 1.5 2.5 1.5 -1 2 -.5 1.5 0 1.5 .5 1.5 -1 1.5 1.5 2 -1.5 1.5 1.5 1.5 -.5 1.5 -.5 1.5 -.5 2 1.5 1.5 0 1.5 -1 1.5 1.5 1.5 -2.5 2 1 1.5 -1 1.5 -2.5 1.5 2 1.5 1.5 2 -.5 1.5 .5 1.5 -1.5 1.5 -.5 1.5 0 2 1 1.5 .5 1.5 -.5 1.5 -.5 1.5 .5 2 0 1.5 1 1.5 -1 1.5 1.5 1.5 1 2 -1.5 1.5 .5 1.5 1 1.5 -.5 1.5 1 2 -.5 1.5 2 1.5 -1.5 1.5 1 1.5 -2.5 2 0 1.5 -.5 1.5 -.5 1.5 3 1.5 -3 2 -1 1.5 -2.5 1.5 1.5 1.5 1 1.5 -1 2 -1 1.5 1.5 1.5 -.5 1.5 -1 1.5 1 2 .5 1.5 .5 1.5 1.5 1.5 -.5 1.5 -.5 2 3.5 1.5 1 1.5 3.5 1.5 3.5 1.5 3 2 3.5 1.5 -3 1.5 4 1.5 8.5 1.5 4 2 0 1.5 -.5 1.5 -5 1.5 -3.5 1.5 -5 2 -9.5 1.5 -4.5 1.5 -7 1.5 1 1.5 .5 2 -1.5 1.5 -2.5 1.5 3.5 1.5 -1.5 1.5 2 2 .5 1.5 -2.5 1.5 -.5 1.5 .5 1.5 0 2 -1 1.5 0 1.5 1 1.5 1.5 1.5 -1.5 2 -1.5 1.5 2.5 1.5 -.5 1.5 0 1.5 0 2 2 1.5 0 1.5 -.5 1.5 1.5 1.5 -1.5 2 1 1.5 -1 1.5 2 1.5 2.5 1.5 -4 2 -.5 1.5 2 1.5 -.5 1.5 1.5 1.5 1 2 -2 1.5 0 1.5 .5 1.5 -1.5 1.5 .5 2 -1 1.5 .5 1.5 -2 1.5 -.5 1.5 -.5 2 .5 1.5 2.5 1.5 -.5 1.5 -1.5 1.5 0 2 .5 1.5 1 1.5 -.5 1.5 -1.5 1.5 2 2 -1.5 1.5 1.5 1.5 0 1.5 -1 1.5 -.5 2 2.5 1.5 0 1.5 0 1.5 -1 1.5 -.5 2 2 1.5 1 1.5 .5 1.5 -1 1.5 -1 2 1 1.5 .5 1.5 -.5 1.5 -.5 1.5 .5 2 2 1.5 .5 1.5 -1.5 1.5 .5 1.5 1 2 -2.5 1.5 0 1.5 .5 1.5 -.5 1.5 -1.5 2 1.5 1.5 -1.5 1.5 2 1.5 -1.5 1.5 -.5 2 2 1.5 -.5 1.5 0 1.5 3 1.5 -1 2 1.5 1.5 1 1.5 -1.5 1.5 2 1.5 .5 2 1.5 1.5 -3.5 1.5 2.5 1.5 1 1.5 -2.5 2 -.5 1.5 -.5 1.5 -1.5 1.5 2.5 1.5 -2.5 2 -.5 1.5 2 1.5 .5 1.5 -.5 1.5 0 2 -1 1.5 .5 1.5 .5 1.5 0 1.5 1 2 -1 1.5 1 1.5 1.5 1.5 -1.5 1.5 0 2 1.5 1.5 -2.5 1.5 .5 1.5 1 1.5 -2 2 -.5 1.5 2 1.5 -1.5 1.5 1 1.5 -2 2 -.5 1.5 2.5 1.5 -1.5 1.5 -.5 1.5 0 2 1.5 1.5 2 1.5 -1 1.5 -1.5 1.5 -2 2 2 1.5 1 1.5 1 1.5 -.5 1.5 1 2 0 1.5 -.5 1.5 -1.5 1.5 3 1.5 0 2 0 1.5 0 1.5 3 1.5 -2 1.5 -1 2 0 1.5 .5 1.5 1 1.5 -.5 1.5 0 2 -1 1.5 1 1.5 -.5 1.5 1 1.5 -1.5 2 -2 1.5 .5 1.5 .5 1.5 0 1.5 .5 2 -1 1.5 -1.5 1.5 1 1.5 .5 1.5 -1 2 2 1.5 0 1.5 .5 1.5 .5 1.5 -3.5 2 2.5 1.5 0 1.5 -1 1.5 2.5 1.5 -2 2 1 1.5 .5 1.5 -.5 1.5 -1 1.5 1.5 2 1 1.5 -1 1.5 1.5 1.5 -.5 1.5 -1 2 1 1.5 -1.5 1.5 -1.5 1.5 1 1.5 -.5 2 .5 1.5 .5 1.5 .5 1.5 0 1.5 0 2 -2.5 1.5 -.5 1.5 0 1.5 2.5 1.5 -1.5 2 -.5 1.5 .5 1.5 -1 1.5 -1.5 1.5 .5 2 1.5 1.5 -.5 1.5 .5 1.5 .5 1.5 -.5 2 -2 1.5 1.5 1.5 1.5 1.5 0 1.5 -1.5 2 1.5 1.5 .5 1.5 0 1.5 -.5 1.5 -1 2 1 1.5 2 1.5 -.5 1.5 1.5 1.5 -.5 2 -.5 1.5 -.5 1.5 -1.5 1.5 1 1.5 -1.5 2 2 1.5 -1 1.5 -2.5 1.5 .5 1.5 -.5 2 1 1.5 -1.5 1.5 2 1.5 1.5 1.5 -2 2 -.5 1.5 0 1.5 1.5 1.5 0 1.5 0 2 1.5 1.5 .5 1.5 -1 1.5 1 1.5 2 2 3.5 1.5 4 1.5 5.5 1.5 1 1.5 1.5 2 1.5 1.5 -1.5 1.5 1 1.5 3 1.5 -.5 2 3.5 1.5 -3.5 1.5 -2 1.5 1 1.5 -.5 2 -.5 1.5 2 1.5 -1.5 1.5 -1 1.5 -2 2 0 1.5 1 1.5 -.5 1.5 1 1.5 -.5 2 0 1.5 1 1.5 -1.5 1.5 1.5 1.5 .5 2 -1 1.5 .5 1.5 -.5 1.5 .5 1.5 0 2 -1.5 1.5 -.5 1.5 .5 1.5 1.5 1.5 -2 2 2 1.5 -3 1.5 3 1.5 1 1.5 -1.5 2 0 1.5 0 1.5 2.5 1.5 -2 1.5 0 2 -2 1.5 1 1.5 -1 1.5 0 1.5 0 2 1 1.5 -1.5 1.5 1.5 1.5 -1 1.5 .5 2 -2 1.5 1.5 1.5 1.5 1.5 -1.5 1.5 0 2 -.5 1.5 0 1.5 0 1.5 -1 1.5 1 2 0 1.5 0 1.5 -.5 1.5 -1.5 1.5 .5 2 .5 1.5 -.5 1.5 .5 1.5 -1 1.5 .5 2 0 1.5 2.5 1.5 -1.5 1.5 2 1.5 -.5 2 -.5 1.5 1 1.5 -1.5 1.5 -.5 1.5 -1 2 -.5 1.5 -.5 1.5 1 1.5 -1.5 1.5 2 2 -1 1.5 .5 1.5 -1 1.5 0 1.5 -3 2 4.5 1.5 -3.5 1.5 -2 1.5 -2 1.5 -1 2 .5 1.5 -10.5 1.5 .5 1.5 -6.5 1.5 .5 2 -.5 1.5 2 1.5 -5 1.5 -1 1.5 .5 2 -2.5 1.5 -7.5 1.5 -6.5 1.5 10.5 1.5 .5 2 -4.5 1.5 -3 1.5 .5 1.5 -1.5 1.5 1 2 0 1.5 1 1.5 0 1.5 1 1.5 .5 2 -.5 1.5 -.5 1.5 -1 1.5 -1 1.5 1.5 2 -1.5 1.5 -1 1.5 2.5 1.5 -2.5 1.5 1.5 2 -1.5 1.5 0 1.5 0 1.5 .5 1.5 -1 2 -.5 1.5 1 1.5 2 1.5 -1.5 1.5 -2 2 1 1.5 -1.5 1.5 2 1.5 -1 1.5 -.5 2 -1.5 1.5 .5 1.5 .5 1.5 -1 1.5 .5 2 0 1.5 -1 1.5 .5 1.5 .5 1.5 1 2 -1.5 1.5 1 1.5 .5 1.5 -.5 1.5 -1 2 0 1.5 0 1.5 -.5 1.5 .5 1.5 -1 2 -2 1.5 .5 1.5 -.5 1.5 -.5 1.5 0 2 .5 1.5 -2.5 1.5 1.5 1.5 -2 1.5 1 2 0 1.5 1.5 1.5 -1.5 1.5 -1.5 1.5 1.5 2 -1.5 1.5 -.5 1.5 -2 1.5 -.5 1.5 -.5 2 2.5 1.5 -2.5 1.5 2.5 1.5 -2 1.5 .5 2 0 1.5 -1 1.5 -.5 1.5 1 1.5 1 2 0 1.5 -2.5 1.5 1 1.5 -.5 1.5 0 2 -1.5 1.5 -1 1.5 3 1.5 -2 1.5 -1 2 2.5 1.5 -1 1.5 1 1.5 -2.5 1.5 1 2 -1 1.5 1 1.5 .5 1.5 0 1.5 -1.5 2 2 1.5 -2 1.5 0 1.5 -.5 1.5 0 2 -.5 1.5 -1.5 1.5 1 1.5 -1.5 1.5 .5 2 -1.5 1.5 -4 1.5 -4.5 1.5 -1.5" fill="none" stroke="#8a8a8a" stroke-width="2.0" stroke-linejoin="round" /><path d="M159,539.5l1.5 4 1.5 8.5 2 10 1.5 9.5 1.5 3.5 1.5 1.5 1.5 0 2 -1 1.5 1 1.5 .5 1.5 -1 1.5 2.5 2 -1.5 1.5 1 1.5 0 1.5 2 1.5 1 2 .5 1.5 .5 1.5 1.5 1.5 -1.5 1.5 2.5 2 2 1.5 0 1.5 -.5 1.5 -1 1.5 .5 2 1 1.5 0 1.5 -2 1.5 .5 1.5 .5 2 0 1.5 -1.5 1.5 0 1.5 -1 1.5 1 2 -1 1.5 .5 1.5 1.5 1.5 -1 1.5 -.5 2 1 1.5 -1.5 1.5 1.5 1.5 -1.5 1.5 0 2 1 1.5 -2 1.5 1.5 1.5 -1 1.5 0 2 -.5 1.5 1 1.5 0 1.5 .5 1.5 0 2 -1 1.5 2 1.5 -1.5 1.5 1.5 1.5 -1 2 -.5 1.5 1.5 1.5 0 1.5 -.5 1.5 .5 2 .5 1.5 -1.5 1.5 1 1.5 -1 1.5 3 2 -2.5 1.5 1 1.5 -.5 1.5 .5 1.5 0 2 -1 1.5 .5 1.5 -1.5 1.5 1 1.5 -1 2 -1 1.5 0 1.5 .5 1.5 .5 1.5 0 2 -1.5 1.5 .5 1.5 0 1.5 .5 1.5 -.5 2 0 1.5 1 1.5 0 1.5 -.5 1.5 0 2 0 1.5 -.5 1.5 2.5 1.5 -2.5 1.5 1 2 1 1.5 -1.5 1.5 0 1.5 1 1.5 1 2 -.5 1.5 -1 1.5 1 1.5 .5 1.5 -1 2 1 1.5 -1 1.5 .5 1.5 -1.5 1.5 .5 2 0 1.5 1.5 1.5 -1.5 1.5 -.5 1.5 .5 2 -2.5 1.5 -.5 1.5 1 1.5 -1.5 1.5 -.5 2 0 1.5 2 1.5 -1.5 1.5 1 1.5 -2 2 -.5 1.5 2.5 1.5 .5 1.5 -2 1.5 1.5 2 1.5 1.5 -1 1.5 -1 1.5 .5 1.5 0 2 -1.5 1.5 1 1.5 .5 1.5 0 1.5 .5 2 1 1.5 .5 1.5 .5 1.5 -4.5 1.5 -1 2 6.5 1.5 6 1.5 6 1.5 -2 1.5 2 2 .5 1.5 -.5 1.5 -2.5 1.5 -1.5 1.5 -5.5 2 -1.5 1.5 1.5 1.5 .5 1.5 -6 1.5 -5 2 -4 1.5 -2.5 1.5 -2.5 1.5 -5 1.5 .5 2 1 1.5 1 1.5 0 1.5 -1 1.5 0 2 .5 1.5 -1.5 1.5 .5 1.5 1 1.5 .5 2 2 1.5 0 1.5 -1 1.5 1 1.5 -1 2 3 1.5 1.5 1.5 -1 1.5 .5 1.5 -.5 2 0 1.5 .5 1.5 -1.5 1.5 1.5 1.5 .5 2 -2.5 1.5 1 1.5 -1 1.5 0 1.5 -1 2 1 1.5 -.5 1.5 -1.5 1.5 .5 1.5 -.5 2 .5 1.5 0 1.5 -1 1.5 2 1.5 0 2 -.5 1.5 .5 1.5 3.5 1.5 -3.5 1.5 -.5 2 1.5 1.5 -.5 1.5 -.5 1.5 1 1.5 -.5 2 2 1.5 -2.5 1.5 2.5 1.5 -2.5 1.5 -1 2 2 1.5 2 1.5 -1.5 1.5 1.5 1.5 -.5 2 -.5 1.5 -1.5 1.5 2 1.5 -.5 1.5 0 2 .5 1.5 1 1.5 -1.5 1.5 .5 1.5 .5 2 -1.5 1.5 .5 1.5 .5 1.5 0 1.5 0 2 0 1.5 -1 1.5 0 1.5 1.5 1.5 -1 2 1.5 1.5 -.5 1.5 0 1.5 1 1.5 -.5 2 .5 1.5 -2.5 1.5 1 1.5 .5 1.5 .5 2 -.5 1.5 .5 1.5 -2.5 1.5 2 1.5 -1 2 2.5 1.5 -2 1.5 1 1.5 2 1.5 -2 2 0 1.5 3 1.5 0 1.5 -1 1.5 0 2 0 1.5 0 1.5 0 1.5 1 1.5 -1.5 2 1 1.5 0 1.5 .5 1.5 -1 1.5 2 2 -2.5 1.5 .5 1.5 .5 1.5 .5 1.5 -.5 2 2 1.5 -2.5 1.5 -.5 1.5 -.5 1.5 1 2 2.5 1.5 -1 1.5 -1 1.5 2 1.5 -1 2 0 1.5 -1.5 1.5 1 1.5 2.5 1.5 -2 2 .5 1.5 0 1.5 0 1.5 -2 1.5 -.5 2 1 1.5 .5 1.5 -1.5 1.5 1.5 1.5 -2 2 1 1.5 -.5 1.5 -1.5 1.5 3.5 1.5 -1.5 2 2 1.5 -1.5 1.5 -1.5 1.5 3 1.5 -.5 2 1 1.5 -1 1.5 -1 1.5 1.5 1.5 0 2 -.5 1.5 1 1.5 1.5 1.5 -1.5 1.5 1.5 2 -.5 1.5 -1 1.5 -.5 1.5 1 1.5 -1 2 1 1.5 -.5 1.5 -.5 1.5 -1 1.5 -.5 2 0 1.5 -.5 1.5 1.5 1.5 0 1.5 -.5 2 .5 1.5 .5 1.5 -2 1.5 1 1.5 -1 2 0 1.5 0 1.5 1.5 1.5 0 1.5 -1.5 2 1.5 1.5 0 1.5 0 1.5 1.5 1.5 -.5 2 -2.5 1.5 1.5 1.5 0 1.5 -1.5 1.5 2.5 2 -1 1.5 1 1.5 -3.5 1.5 1 1.5 -.5 2 0 1.5 -.5 1.5 -1 1.5 1.5 1.5 -2 2 2.5 1.5 0 1.5 -2.5 1.5 1 1.5 1.5 2 1.5 1.5 -3 1.5 .5 1.5 1 1.5 -2 2 -1.5 1.5 0 1.5 0 1.5 1 1.5 .5 2 0 1.5 1.5 1.5 -1 1.5 .5 1.5 1 2 0 1.5 0 1.5 .5 1.5 -.5 1.5 .5 2 0 1.5 -2 1.5 .5 1.5 -1 1.5 0 2 2.5 1.5 -1 1.5 .5 1.5 1 1.5 -1.5 2 .5 1.5 -.5 1.5 -.5 1.5 .5 1.5 -1.5 2 1.5 1.5 -.5 1.5 -1 1.5 .5 1.5 -1 2 .5 1.5 -1.5 1.5 .5 1.5 0 1.5 1 2 0 1.5 -.5 1.5 3 1.5 -1 1.5 6.5 2 2.5 1.5 1 1.5 2 1.5 .5 1.5 4.5 2 1.5 1.5 -1.5 1.5 4.5 1.5 -2.5 1.5 -2.5 2 -1 1.5 5 1.5 -1.5 1.5 -.5 1.5 0 2 0 1.5 -1 1.5 .5 1.5 0 1.5 -1 2 2.5 1.5 -1.5 1.5 1 1.5 -2.5 1.5 .5 2 .5 1.5 -1.5 1.5 -.5 1.5 1.5 1.5 -1.5 2 1.5 1.5 -.5 1.5 -1 1.5 .5 1.5 -.5 2 0 1.5 .5 1.5 1 1.5 .5 1.5 .5 2 -1 1.5 -1.5 1.5 -.5 1.5 2 1.5 -1.5 2 -.5 1.5 0 1.5 3 1.5 -.5 1.5 0 2 0 1.5 0 1.5 1.5 1.5 1 1.5 .5 2 -2 1.5 2 1.5 -1 1.5 .5 1.5 -.5 2 -3 1.5 .5 1.5 1 1.5 -1 1.5 -2 2 -1 1.5 2.5 1.5 -2 1.5 0 1.5 -2 2 2 1.5 -2 1.5 .5 1.5 -1 1.5 1.5 2 -.5 1.5 -1.5 1.5 0 1.5 .5 1.5 -.5 2 1.5 1.5 .5 1.5 -1 1.5 -1.5 1.5 .5 2 1 1.5 -1.5 1.5 -1.5 1.5 2.5 1.5 -.5 2 1 1.5 -1 1.5 0 1.5 -.5 1.5 -2 2 1 1.5 1.5 1.5 -.5 1.5 .5 1.5 -1.5 2 -2 1.5 1.5 1.5 0 1.5 -2.5 1.5 -4 2 -2 1.5 -4.5 1.5 -8 1.5 -3 1.5 3 2 1.5 1.5 -5.5 1.5 -1 1.5 4.5 1.5 -3.5 2 -4.5 1.5 1 1.5 1 1.5 7 1.5 -2.5 2 -1.5 1.5 -6 1.5 -1 1.5 -8 1.5 -1 2 1.5 1.5 8 1.5 1 1.5 0 1.5 -1 2 .5 1.5 -.5 1.5 -2 1.5 4 1.5 -2 2 -1 1.5 0 1.5 -1 1.5 0 1.5 0 2 .5 1.5 -.5 1.5 -.5 1.5 .5 1.5 -1 2 0 1.5 -1.5 1.5 .5 1.5 -1 1.5 1.5 2 -2 1.5 2 1.5 -1.5 1.5 0 1.5 0 2 -1 1.5 0 1.5 -1 1.5 2.5 1.5 -1.5 2 -1.5 1.5 1 1.5 .5 1.5 -.5 1.5 -1 2 .5 1.5 -3 1.5 1 1.5 -1 1.5 1.5 2 2 1.5 1 1.5 -.5 1.5 -1.5 1.5 1 2 -.5 1.5 .5 1.5 -.5 1.5 0 1.5 2 2 -1.5 1.5 -.5 1.5 0 1.5 -.5 1.5 -.5 2 1.5 1.5 0 1.5 0 1.5 -1 1.5 1 2 -3 1.5 0 1.5 -2 1.5 3.5 1.5 -1 2 0 1.5 -3 1.5 1 1.5 -2.5 1.5 3 2 -1.5 1.5 .5 1.5 .5 1.5 0 1.5 1.5 2 -1 1.5 -3 1.5 2.5 1.5 -3 1.5 4.5 2 -1.5 1.5 -.5 1.5 .5 1.5 2 1.5 -1.5 2 -1 1.5 .5 1.5 0 1.5 2 1.5 -2 2 0 1.5 -.5 1.5 1 1.5 -1 1.5 -.5 2 -1.5 1.5 1.5 1.5 -1 1.5 .5 1.5 -.5 2 0 1.5 0 1.5 -2.5 1.5 .5 1.5 1.5 2 -3.5 1.5 -4 1.5 -4.5 1.5 -4.5" fill="none" stroke="#8a8a8a" stroke-width="2.0" stroke-linejoin="round" /><path d="M159,541l1.5 9.5 1.5 12.5 2 14 1.5 13 1.5 2.5 1.5 2 1.5 1.5 2 1 1.5 -3.5 1.5 1 1.5 1.5 1.5 1.5 2 -.5 1.5 -.5 1.5 .5 1.5 1.5 1.5 1 2 1 1.5 0 1.5 1.5 1.5 1 1.5 .5 2 0 1.5 -1.5 1.5 2.5 1.5 0 1.5 -1 2 -1 1.5 1 1.5 .5 1.5 0 1.5 -1 2 -1.5 1.5 .5 1.5 2 1.5 -1 1.5 .5 2 0 1.5 -1 1.5 2 1.5 -1.5 1.5 1 2 -1.5 1.5 -1 1.5 1.5 1.5 -1.5 1.5 .5 2 0 1.5 1 1.5 -.5 1.5 .5 1.5 -1.5 2 1.5 1.5 .5 1.5 -2 1.5 -1 1.5 1.5 2 2 1.5 -1 1.5 .5 1.5 -1 1.5 -2 2 1.5 1.5 0 1.5 -.5 1.5 1 1.5 1.5 2 0 1.5 -.5 1.5 -.5 1.5 -1 1.5 2 2 -1.5 1.5 0 1.5 -2 1.5 1.5 1.5 0 2 -.5 1.5 -2 1.5 2 1.5 -1 1.5 .5 2 -.5 1.5 0 1.5 0 1.5 1 1.5 .5 2 -.5 1.5 -1 1.5 0 1.5 0 1.5 0 2 .5 1.5 -.5 1.5 .5 1.5 .5 1.5 -2 2 1.5 1.5 0 1.5 -1 1.5 -.5 1.5 2.5 2 -2.5 1.5 1.5 1.5 -3 1.5 0 1.5 -1 2 -.5 1.5 .5 1.5 1 1.5 0 1.5 -.5 2 1 1.5 -.5 1.5 .5 1.5 0 1.5 .5 2 1.5 1.5 -3 1.5 2.5 1.5 -.5 1.5 -1 2 0 1.5 1.5 1.5 -3 1.5 .5 1.5 -1 2 -.5 1.5 .5 1.5 -.5 1.5 .5 1.5 .5 2 1 1.5 0 1.5 -.5 1.5 0 1.5 -.5 2 0 1.5 1 1.5 1 1.5 -1.5 1.5 -1 2 1.5 1.5 .5 1.5 -1.5 1.5 -1 1.5 1.5 2 1 1.5 -1.5 1.5 -8.5 1.5 1.5 1.5 1.5 2 3 1.5 -4.5 1.5 -4.5 1.5 -4.5 1.5 0 2 -3 1.5 1.5 1.5 -2.5 1.5 -3.5 1.5 .5 2 -2.5 1.5 3.5 1.5 -5.5 1.5 .5 1.5 -2.5 2 -1.5 1.5 -.5 1.5 .5 1.5 -5 1.5 -.5 2 2 1.5 -2 1.5 -1 1.5 -.5 1.5 1.5 2 -2 1.5 -.5 1.5 .5 1.5 .5 1.5 -3 2 -.5 1.5 3 1.5 -1.5 1.5 .5 1.5 0 2 -2 1.5 -.5 1.5 3 1.5 -2 1.5 .5 2 -1 1.5 2 1.5 -1.5 1.5 0 1.5 1.5 2 0 1.5 -1 1.5 1.5 1.5 -1.5 1.5 1.5 2 0 1.5 0 1.5 0 1.5 -.5 1.5 1.5 2 -1 1.5 1.5 1.5 0 1.5 0 1.5 1 2 -1.5 1.5 1.5 1.5 0 1.5 -1.5 1.5 3 2 -2.5 1.5 -.5 1.5 1.5 1.5 -1 1.5 -2 2 3 1.5 0 1.5 -2 1.5 0 1.5 0 2 -1.5 1.5 1 1.5 0 1.5 1 1.5 -3 2 1.5 1.5 -.5 1.5 2 1.5 -2.5 1.5 1 2 .5 1.5 .5 1.5 0 1.5 .5 1.5 0 2 0 1.5 -.5 1.5 .5 1.5 .5 1.5 .5 2 2.5 1.5 -1.5 1.5 -.5 1.5 .5 1.5 1 2 1.5 1.5 0 1.5 -1.5 1.5 0 1.5 1.5 2 -2.5 1.5 .5 1.5 .5 1.5 -1.5 1.5 1.5 2 -2.5 1.5 1.5 1.5 1 1.5 -2.5 1.5 1 2 1 1.5 -1 1.5 .5 1.5 0 1.5 -1 2 1.5 1.5 2 1.5 -2 1.5 1 1.5 -4 2 3 1.5 -1.5 1.5 1 1.5 .5 1.5 .5 2 -1 1.5 1.5 1.5 -1.5 1.5 0 1.5 -.5 2 1.5 1.5 .5 1.5 .5 1.5 2 1.5 0 2 -1 1.5 -.5 1.5 0 1.5 1 1.5 -2 2 1.5 1.5 1 1.5 -2 1.5 3.5 1.5 -.5 2 0 1.5 .5 1.5 0 1.5 .5 1.5 0 2 .5 1.5 .5 1.5 1 1.5 -2.5 1.5 1.5 2 0 1.5 -1.5 1.5 -.5 1.5 1 1.5 -.5 2 -1 1.5 2.5 1.5 -3 1.5 .5 1.5 -.5 2 1 1.5 1 1.5 -1 1.5 0 1.5 1 2 -1 1.5 0 1.5 1.5 1.5 -.5 1.5 1.5 2 -1 1.5 0 1.5 -3 1.5 1.5 1.5 1 2 -1 1.5 1 1.5 1.5 1.5 0 1.5 -1 2 0 1.5 0 1.5 -1.5 1.5 1.5 1.5 -.5 2 .5 1.5 -1 1.5 -1 1.5 1 1.5 -.5 2 .5 1.5 -1.5 1.5 .5 1.5 0 1.5 1 2 .5 1.5 -1 1.5 0 1.5 0 1.5 -1.5 2 -.5 1.5 1 1.5 -2 1.5 -.5 1.5 .5 2 1.5 1.5 -2.5 1.5 0 1.5 -.5 1.5 1 2 0 1.5 -.5 1.5 -.5 1.5 0 1.5 -2.5 2 1 1.5 1 1.5 -3 1.5 3.5 1.5 -3 2 1.5 1.5 0 1.5 -4 1.5 1.5 1.5 .5 2 .5 1.5 1.5 1.5 .5 1.5 -2 1.5 1.5 2 -1 1.5 .5 1.5 1 1.5 -1.5 1.5 -1 2 3 1.5 -.5 1.5 -.5 1.5 0 1.5 -2 2 2.5 1.5 1.5 1.5 -1.5 1.5 .5 1.5 -.5 2 1 1.5 0 1.5 -3 1.5 2 1.5 .5 2 -3 1.5 1.5 1.5 1 1.5 0 1.5 -2 2 2.5 1.5 -2 1.5 -.5 1.5 -.5 1.5 0 2 0 1.5 -2 1.5 1 1.5 0 1.5 2 2 -3 1.5 0 1.5 -.5 1.5 0 1.5 -.5 2 -1 1.5 2 1.5 -3 1.5 5.5 1.5 4 2 2 1.5 1 1.5 1 1.5 -.5 1.5 -.5 2 -2 1.5 3 1.5 1.5 1.5 0 1.5 -5 2 1 1.5 5.5 1.5 0 1.5 -.5 1.5 2 2 -.5 1.5 1 1.5 -1.5 1.5 1.5 1.5 -2 2 2 1.5 -1.5 1.5 1 1.5 -.5 1.5 -.5 2 2.5 1.5 -2 1.5 1 1.5 -1.5 1.5 .5 2 1 1.5 2 1.5 -1 1.5 2.5 1.5 -2 2 .5 1.5 -2 1.5 .5 1.5 2 1.5 0 2 -.5 1.5 2.5 1.5 -3 1.5 1 1.5 1.5 2 0 1.5 0 1.5 .5 1.5 -1.5 1.5 1.5 2 -2.5 1.5 0 1.5 1.5 1.5 -.5 1.5 -1 2 -1 1.5 1 1.5 -.5 1.5 1.5 1.5 .5 2 -3.5 1.5 1 1.5 1 1.5 0 1.5 0 2 .5 1.5 -2 1.5 1.5 1.5 -.5 1.5 0 2 -1 1.5 1.5 1.5 .5 1.5 .5 1.5 0 2 -.5 1.5 0 1.5 0 1.5 1 1.5 .5 2 1 1.5 1 1.5 -.5 1.5 1 1.5 0 2 0 1.5 1.5 1.5 -.5 1.5 1.5 1.5 -2 2 -1 1.5 -1 1.5 2.5 1.5 1 1.5 -2 2 0 1.5 -.5 1.5 1 1.5 -2.5 1.5 6 2 -8 1.5 -2 1.5 0 1.5 -6.5 1.5 -5.5 2 -7 1.5 7.5 1.5 -1 1.5 0 1.5 -5.5 2 -5.5 1.5 -1 1.5 -3.5 1.5 3 1.5 -7 2 -2.5 1.5 -6 1.5 0 1.5 -3 1.5 5.5 2 1.5 1.5 -5.5 1.5 3 1.5 -2.5 1.5 3 2 -1.5 1.5 4.5 1.5 -8 1.5 0 1.5 .5 2 0 1.5 -.5 1.5 -1 1.5 2 1.5 -1 2 0 1.5 0 1.5 1 1.5 0 1.5 -1 2 1.5 1.5 0 1.5 .5 1.5 0 1.5 .5 2 -1.5 1.5 1.5 1.5 -1.5 1.5 3 1.5 -1.5 2 0 1.5 0 1.5 -.5 1.5 0 1.5 -.5 2 -1.5 1.5 -.5 1.5 1 1.5 0 1.5 -.5 2 -1 1.5 1 1.5 -.5 1.5 .5 1.5 -2 2 .5 1.5 1.5 1.5 .5 1.5 1.5 1.5 -2.5 2 2 1.5 -.5 1.5 1 1.5 0 1.5 -3 2 0 1.5 0 1.5 2.5 1.5 -1.5 1.5 -2 2 -1 1.5 2 1.5 -.5 1.5 0 1.5 1 2 -2.5 1.5 1 1.5 1 1.5 .5 1.5 -1.5 2 1.5 1.5 -.5 1.5 -1 1.5 .5 1.5 2.5 2 -1.5 1.5 1.5 1.5 -.5 1.5 2 1.5 .5 2 .5 1.5 -2 1.5 1.5 1.5 -1 1.5 -3 2 .5 1.5 2.5 1.5 1 1.5 -1.5 1.5 0 2 0 1.5 -.5 1.5 2 1.5 -1 1.5 -.5 2 1 1.5 -1.5 1.5 1 1.5 -1.5 1.5 0 2 -.5 1.5 -1.5 1.5 2 1.5 0 1.5 -1 2 -1 1.5 1.5 1.5 -2 1.5 1.5 1.5 .5 2 0 1.5 0 1.5 0 1.5 2 1.5 -2.5 2 -2.5 1.5 -4 1.5 -2.5 1.5 -4.5" fill="none" stroke="#8a8a8a" stroke-width="2.0" stroke-linejoin="round" /><path d="M157,491l2 2.5 1.5 1.5 2 -2 1.5 -.5 2 3 2 -3 1.5 .5 2 0 1.5 2.5 2 -3 2 .5 1.5 -5 2 3 1.5 -2 2 5.5 2 -4.5 1.5 -1.5 2 6 1.5 -.5 2 -2 2 2 1.5 -1 2 2.5 1.5 -5.5 2 4 2 -1 1.5 -2.5 2 3.5 1.5 2.5 2 1 2 0 1.5 -.5 2 -3 1.5 0 2 5 2 0 1.5 -.5 2 1 1.5 0 2 -2 2 2.5 1.5 -1 2 1.5 1.5 1 2 -2 2 2.5 1.5 -3 2 -1.5 1.5 4 2 -5.5 2 5.5 1.5 .5 2 -.5 1.5 -3.5 2 3 2 -3 1.5 -1.5 2 4 1.5 0 2 -1.5 2 1.5 1.5 -1 2 -.5 1.5 -2 2 1.5 2 0 1.5 -.5 2 .5 1.5 -1.5 2 -1 2 .5 1.5 1 2 -2 1.5 .5 2 -3 2 3 1.5 -2.5 2 2 1.5 -.5 2 -.5 2 .5 1.5 2 2 -5 1.5 3.5 2 0 2 0 1.5 -.5 2 -2 1.5 1 2 2 2 .5 1.5 -2 2 -2.5 1.5 3.5 2 0 2 0 1.5 -1 2 -2 1.5 1.5 2 -2.5 2 -.5 1.5 3.5 2 -2.5 1.5 1.5 2 -3 2 2 1.5 0 2 -.5 1.5 1.5 2 -1 2 -2 1.5 -1 2 0 1.5 1.5 2 -.5 2 -3.5 1.5 5 2 -5 1.5 0 2 2.5 2 -.5 1.5 1 2 -4.5 1.5 3 2 -6 2 2.5 1.5 2.5 2 0 1.5 -1 2 -.5 2 -1.5 1.5 4 2 -1 1.5 .5 2 -2.5 2 3 1.5 1.5 2 11 1.5 9 2 11 2 4.5 1.5 2 2 -.5 1.5 1.5 2 -1.5 2 -1 1.5 2.5 2 -4 1.5 6.5 2 -3 2 -1.5 1.5 4 2 -4 1.5 5 2 -.5 2 1 1.5 -1.5 2 4.5 1.5 -3 2 1.5 2 2 1.5 -1.5 2 1 1.5 0 2 1.5 2 -3 1.5 1.5 2 1 1.5 .5 2 -.5 2 1 1.5 0 2 1 1.5 -1.5 2 0 2 0 1.5 -1.5 2 0 1.5 .5 2 1.5 2 0 1.5 1 2 -2.5 1.5 4.5 2 -2.5 2 1.5 1.5 2 2 -1 1.5 1 2 1 2 -1.5 1.5 -2 2 3 1.5 0 2 0 2 -3 1.5 3.5 2 -.5 1.5 -6.5 2 7 2 -1.5 1.5 -2.5 2 -.5 1.5 1.5 2 -.5 2 3.5 1.5 -4 2 4.5 1.5 .5 2 0 2 -4.5 1.5 4.5 2 0 1.5 -1.5 2 1 2 0 1.5 .5 2 -6.5 1.5 3.5 2 2 2 2 1.5 -3.5 2 3.5 1.5 0 2 .5 2 2 1.5 -5 2 1 1.5 -.5 2 2 2 .5 1.5 2 2 -.5 1.5 0 2 -2.5 2 1 1.5 -1.5 2 1 1.5 2 2 -2.5 2 2.5 1.5 1 2 -3 1.5 2.5 2 .5 2 -.5 1.5 1.5 2 -4 1.5 -.5 2 1.5 2 -.5 1.5 -1.5 2 1 1.5 1.5 2 .5 2 1 1.5 -1 2 0 1.5 -.5 2 .5 2 -.5 1.5 1.5 2 -2.5 1.5 1.5 2 0 2 -1.5 1.5 2.5 2 -.5 1.5 2 2 .5 2 -.5 1.5 .5 2 -6 1.5 6 2 .5 2 -3.5 1.5 0 2 .5 1.5 2 2 -1 2 1 1.5 0 2 -2 1.5 1.5 2 -1 2 -1.5 1.5 1 2 1.5 1.5 -1 2 0 2 .5 1.5 -4.5 2 4 1.5 -2.5 2 2 2 -2 1.5 4 2 -1.5 1.5 -5 2 1 2 -1 1.5 4.5 2 -5 1.5 4 2 .5 2 -1.5 1.5 -3 2 4 1.5 0 2 -1 2 -2.5 1.5 1.5 2 -7 1.5 7.5 2 -2.5 2 2.5 1.5 0 2 -5 1.5 7 2 0 2 -3.5 1.5 -2 2 3.5 1.5 .5 2 -3 2 2.5 1.5 -1 2 2 1.5 -2.5 2 2.5 2 1.5 1.5 -2 2 2 1.5 -3.5 2 .5 2 1.5 1.5 0 2 1 1.5 -2 2 1.5 2 -2 1.5 3.5 2 -2 1.5 -2.5 2 .5 2 1 1.5 3.5 2 -.5 1.5 3 2 -.5 2 2 1.5 1.5 2 1 1.5 0 2 1 2 -2 1.5 -4.5 2 1 1.5 -.5 2 -2 2 -2.5 1.5 0 2 .5 1.5 0 2 -1 2 -.5 1.5 .5 2 -1.5 1.5 -2.5 2 1 2 3 1.5 -.5 2 -2 1.5 1 2 -1 2 -2 1.5 2 2 -2 1.5 -2 2 1.5 2 -1 1.5 0 2 0 1.5 -6.5 2 -2 2 2.5 1.5 -3.5 2 5.5 1.5 0 2 -4 2 2 1.5 0 2 -1 1.5 -2 2 -.5 2 2 1.5 1.5 2 -1 1.5 -5 2 5 2 -4.5 1.5 3.5 2 -6 1.5 3.5 2 1.5 2 3.5 1.5 0 2 -2.5 1.5 -5 2 4.5 2 .5 1.5 -1 2 1 1.5 0 2 -1 2 2.5 1.5 -3 2 -1.5 1.5 5 2 1.5 2 -2.5 1.5 2 2 -.5 1.5 0 2 0 2 -1 1.5 -1.5 2 1.5 1.5 -5.5 2 6 2 -5 1.5 0 2 0 1.5 3 2 0 2 .5 1.5 0 2 1.5 1.5 -1.5 2 1 2 -2 1.5 -2 2 3.5 1.5 0 2 -1 2 -2 1.5 1.5 2 -2 1.5 -.5 2 1.5 2 -1.5 1.5 2.5 2 1 1.5 .5 2 -2 2 2.5 1.5 0 2 -3 1.5 2.5 2 0 2 -5 1.5 -1 2 2.5 1.5 .5 2 -4.5 2 2.5 1.5 -.5 2 2.5 1.5 1.5 2 -2 2 1 1.5 -2 2 1.5 1.5 -.5 2 .5 2 -.5 1.5 .5 2 .5 1.5 -1.5 2 -2.5 2 -4 1.5 0 2 -5 1.5 .5 2 -3 2 -2 1.5 1.5 2 -2.5 1.5 .5 2 -2 2 -1.5 1.5 1.5 2 -.5 1.5 -1 2 2.5 2 -2 1.5 -1.5 2 -4.5 1.5 -6.5 2 -1.5 2 -3 1.5 0 2 -1 1.5 .5 2 0 2 3 1.5 -.5 2 -2 1.5 0 2 4 2 -4 1.5 5 2 -.5 1.5 -1 2 1 2 -2.5 1.5 3 2 -3.5 1.5 0 2 3.5 2 -1.5 1.5 -1.5 2 -2 1.5 2.5 2 -2.5 2 1 1.5 4.5 2 -.5 1.5 -5 2 2 2 2 1.5 .5 2 -1.5 1.5 1 2 -.5 2 -.5 1.5 -1 2 5.5 1.5 -.5 2 -.5 2 1 1.5 -1 2 -3 1.5 2.5 2 -3.5 2 0 1.5 5 2 -1 1.5 1 2 -1.5 2 -3.5 1.5 -3.5 2 6.5 1.5 -1 2 1.5 2 -5 1.5 -1.5 2 4.5 1.5 1 2 -2 2 1 1.5 -3.5 2 2 1.5 3 2 0 2 -5 1.5 4.5 2 0 1.5 2.5 2 -1 2 -2 1.5 .5 2 -1.5 1.5 .5 2 .5 2 0 1.5 1 2 .5 1.5 -4.5 2 4 2 0 1.5 0 2 0 1.5 3 2 -1.5 2 0 1.5 .5 2 .5 1.5 -1 2 0 2 1.5 1.5 -.5 2 0 1.5 -.5 2 0 2 -3 1.5 2.5 2 0 1.5 0 2 -3.5 2 3.5 1.5 -2 2 .5 0 13.5 -2 .5 -1.5 2.5 -2 -2.5 -2 1 -1.5 -1.5 -2 .5 -1.5 2 -2 -1.5 -2 -1 -1.5 1 -2 1.5 -1.5 -1 -2 -.5 -2 0 -1.5 1.5 -2 .5 -1.5 -1.5 -2 3.5 -2 -3 -1.5 -2 -2 -.5 -1.5 -1 -2 -1 -2 1 -1.5 1.5 -2 1 -1.5 -2.5 -2 1.5 -2 0 -1.5 -1 -2 0 -1.5 0 -2 2 -2 1 -1.5 2 -2 -4.5 -1.5 8 -2 -3.5 -2 -3 -1.5 4 -2 -3 -1.5 -1 -2 3.5 -2 -2 -1.5 -4.5 -2 3 -1.5 -1.5 -2 5.5 -2 -4.5 -1.5 10 -2 -5 -1.5 1 -2 -4.5 -2 0 -1.5 7.5 -2 -9 -1.5 .5 -2 1.5 -2 2 -1.5 2.5 -2 .5 -1.5 -4.5 -2 -2 -2 3 -1.5 -2.5 -2 -.5 -1.5 6 -2 -4 -2 -1 -1.5 0 -2 2 -1.5 -5 -2 6 -2 -2.5 -1.5 -5 -2 1 -1.5 6.5 -2 -7.5 -2 5 -1.5 -6.5 -2 7.5 -1.5 -5 -2 1.5 -2 -1 -1.5 5 -2 -2 -1.5 -3 -2 -.5 -2 0 -1.5 .5 -2 -2.5 -1.5 1 -2 -1 -2 0 -1.5 0 -2 -1.5 -1.5 1.5 -2 3 -2 -5 -1.5 -.5 -2 .5 -1.5 1 -2 0 -2 7.5 -1.5 1.5 -2 3 -1.5 5 -2 2 -2 -3.5 -1.5 2 -2 -1.5 -1.5 2 -2 -.5 -2 2 -1.5 -1 -2 2 -1.5 -1 -2 .5 -2 2.5 -1.5 5.5 -2 -1 -1.5 2.5 -2 4 -2 -.5 -1.5 3 -2 1.5 -1.5 -1 -2 -2 -2 4 -1.5 -1.5 -2 .5 -1.5 -.5 -2 -1.5 -2 .5 -1.5 .5 -2 -1.5 -1.5 1 -2 .5 -2 -1.5 -1.5 9.5 -2 -5.5 -1.5 1 -2 -2.5 -2 1 -1.5 .5 -2 -.5 -1.5 .5 -2 -1 -2 0 -1.5 1 -2 1 -1.5 -.5 -2 -2 -2 .5 -1.5 -1.5 -2 .5 -1.5 -1 -2 2 -2 1.5 -1.5 -1 -2 4 -1.5 -.5 -2 -4 -2 1 -1.5 1 -2 -1.5 -1.5 .5 -2 2 -2 -3 -1.5 1 -2 1 -1.5 -1 -2 -.5 -2 1.5 -1.5 0 -2 -1 -1.5 0 -2 4.5 -2 -3.5 -1.5 1 -2 2 -1.5 -3.5 -2 .5 -2 2.5 -1.5 -3.5 -2 0 -1.5 -1 -2 1.5 -2 -1.5 -1.5 1.5 -2 -2 -1.5 -.5 -2 5.5 -2 -6.5 -1.5 2 -2 .5 -1.5 0 -2 2 -2 2.5 -1.5 -4 -2 2.5 -1.5 -2.5 -2 -.5 -2 2 -1.5 1.5 -2 -.5 -1.5 1 -2 2 -2 -5.5 -1.5 9 -2 -7.5 -1.5 1 -2 -2.5 -2 2.5 -1.5 .5 -2 2.5 -1.5 -.5 -2 1.5 -2 -1 -1.5 1.5 -2 -.5 -1.5 1.5 -2 1 -2 1 -1.5 3 -2 -3 -1.5 0 -2 .5 -2 0 -1.5 3 -2 1 -1.5 -3.5 -2 3.5 -2 -2 -1.5 0 -2 .5 -1.5 .5 -2 -1.5 -2 2 -1.5 .5 -2 0 -1.5 4 -2 -3 -2 1.5 -1.5 3 -2 -1 -1.5 3 -2 1 -2 0 -1.5 -.5 -2 -1 -1.5 0 -2 -2.5 -2 3 -1.5 -5.5 -2 -.5 -1.5 -.5 -2 -1.5 -2 1.5 -1.5 2.5 -2 -4 -1.5 -.5 -2 4 -2 -5.5 -1.5 1 -2 1 -1.5 0 -2 .5 -2 -1 -1.5 1.5 -2 -.5 -1.5 .5 -2 0 -2 -.5 -1.5 2.5 -2 -1 -1.5 .5 -2 -4.5 -2 1 -1.5 2 -2 -2 -1.5 3 -2 .5 -2 -2 -1.5 -.5 -2 1.5 -1.5 -.5 -2 -.5 -2 -2.5 -1.5 -.5 -2 3 -1.5 .5 -2 -2 -2 1.5 -1.5 -1.5 -2 0 -1.5 1 -2 1.5 -2 0 -1.5 -1 -2 2.5 -1.5 2.5 -2 -2 -2 -2.5 -1.5 1 -2 .5 -1.5 -1 -2 1 -2 -1 -1.5 -1.5 -2 2 -1.5 3.5 -2 -.5 -2 -2 -1.5 -1.5 -2 2 -1.5 .5 -2 0 -2 -1.5 -1.5 2 -2 -2 -1.5 .5 -2 -1.5 -2 0 -1.5 2 -2 -2 -1.5 4.5 -2 -.5 -2 .5 -1.5 .5 -2 -2 -1.5 -.5 -2 -1.5 -2 0 -1.5 -1 -2 -.5 -1.5 -.5 -2 4 -2 -1.5 -1.5 -2.5 -2 4 -1.5 1.5 -2 -7 -2 3 -1.5 2 -2 -2.5 -1.5 -1.5 -2 -.5 -2 .5 -1.5 .5 -2 1 -1.5 1 -2 1 -2 -1.5 -1.5 5.5 -2 -6 -1.5 -.5 -2 3.5 -2 -4 -1.5 3 -2 .5 -1.5 0 -2 -4 -2 .5 -1.5 1.5 -2 -2.5 -1.5 2 -2 4.5 -2 -6.5 -1.5 3 -2 -2.5 -1.5 2 -2 -.5 -2 -1 -1.5 0 -2 -.5 -1.5 0 -2 1.5 -2 4 -1.5 -3.5 -2 -3.5 -1.5 -.5 -2 .5 -2 2 -1.5 4 -2 -7 -1.5 -.5 -2 1 -2 .5 -1.5 -2.5 -2 .5 -1.5 2 -2 -1 -2 8.5 -1.5 -9.5 -2 -.5 -1.5 7.5 -2 -3.5 -2 -1 -1.5 .5 -2 3 -1.5 -5.5 -2 3 -2 .5 -1.5 -5 -2 4 -1.5 -3 -2 1 -2 -1 -1.5 2.5 -2 -3.5 -1.5 -.5 -2 3 -2 -1.5 -1.5 1.5 -2 -4 -1.5 1 -2 -2 -2 2 -1.5 .5 -2 1 -1.5 -3.5 -2 1 -2 -2.5 -1.5 0 -2 1.5 -1.5 3 -2 -2.5 -2 -1.5 -1.5 3 -2 -2.5 -1.5 .5 -2 -2.5 -2 .5 -1.5 -1.5 -2 1 -1.5 .5 -2 0 -2 -1 -1.5 -.5 -2 .5 -1.5 0 -2 4 -2 -4 -1.5 -.5 -2 1 -1.5 -1.5 -2 7 -2 -8.5 -1.5 3 -2 2 -1.5 -3.5 -2 .5 -2 -4 -1.5 -2 -2 .5 -1.5 -.5 -2 1.5 -2 0 -1.5 -4 -2 .5 -1.5 -1 -2 -5.5 -2 -10.5 -1.5 -10 -2 -9.5 -1.5 -1.5 -2 1 -2 -3 -1.5 0 -2 1 -1.5 0 -2 2.5 -2 -3.5 -1.5 0 -2 1.5 -1.5 2.5 -2 -3 -2 3.5 -1.5 -3.5 -2 1 -1.5 .5 -2 1 -2 1.5 -1.5 -1.5 -2 .5 -1.5 1 -2 0 -2 0 -1.5 -.5 -2 2.5 -1.5 -1.5 -2 0 -2 1.5 -1.5 -.5 -2 -1 -1.5 -.5 -2 4.5 -2 -2.5 -1.5 0 -2 1.5 -1.5 -1.5 -2 .5 -2 2 -1.5 -1 -2 1.5 -1.5 -2 -2 -.5 -2 5.5 -1.5 -5.5 -2 1 -1.5 2 -2 -1 -2 1 -1.5 0 -2 -2 -1.5 3 -2 -2.5 -2 5.5 -1.5 -4 -2 .5 -1.5 1 -2 -3 -2 .5 -1.5 1.5 -2 -2 -1.5 .5 -2 -2 -2 1 -1.5 1.5 -2 5 -1.5 -3 -2 -1.5 -2 .5 -1.5 -.5 -2 4.5 -1.5 -2 -2 1 -2 2 -1.5 -1.5 -2 -2.5 -1.5 5.5 -2 -2 -2 0 -1.5 -1 -2 0 -1.5 -1.5 -2 3.5 -2 0 -1.5 10 -2 -11.5 -1.5 4.5 -2 -1 -2 -3.5 -1.5 1 -2 -2.5 -1.5 0 -2 2 -2 -.5 -1.5 -1 -2 -1.5 -1.5 -.5 -2 0 -2 1 -1.5 .5 -2 .5 -1.5 .5 -2 -3 -2 -.5 -1.5 2 -2 -2 -1.5 -1 -2 0 -2 3.5 -1.5 -.5 -2 -2 -1.5 -1 -2 4 -2 4 -1.5 -11 -2 8 -1.5 -5.5 -2 -.5 -2 2.5 -1.5 0 -2 -3 -1.5 4.5 -2 -6.5 -2 2 -1.5 -.5 -2 -.5 -1.5 .5 -2 -.5 -2 -.5 -1.5 3.5 -2 -3 -1.5 0 -2 0 -2 1 -1.5 .5 -2 2 -1.5 -4.5 -2 4Z" fill="#b06b22" /></g>
<line x1="158.0" y1="427.4" x2="1244.0" y2="427.4" stroke="#62605e" stroke-width="1.8"/>
<line x1="158.0" y1="622.0" x2="1244.0" y2="622.0" stroke="#62605e" stroke-width="1.8"/>
<path d="M201.9,427.4v3.5M201.9,622.0v-3.5M245.3,427.4v3.5M245.3,622.0v-3.5M288.7,427.4v3.5M288.7,622.0v-3.5M332.1,427.4v3.5M332.1,622.0v-3.5M375.5,427.4v6.0M375.5,622.0v-6.0M418.9,427.4v3.5M418.9,622.0v-3.5M462.3,427.4v3.5M462.3,622.0v-3.5M505.7,427.4v3.5M505.7,622.0v-3.5M549.1,427.4v3.5M549.1,622.0v-3.5M592.5,427.4v6.0M592.5,622.0v-6.0M635.9,427.4v3.5M635.9,622.0v-3.5M679.3,427.4v3.5M679.3,622.0v-3.5M722.7,427.4v3.5M722.7,622.0v-3.5M766.1,427.4v3.5M766.1,622.0v-3.5M809.5,427.4v6.0M809.5,622.0v-6.0M852.9,427.4v3.5M852.9,622.0v-3.5M896.3,427.4v3.5M896.3,622.0v-3.5M939.7,427.4v3.5M939.7,622.0v-3.5M983.1,427.4v3.5M983.1,622.0v-3.5M1026.5,427.4v6.0M1026.5,622.0v-6.0M1069.9,427.4v3.5M1069.9,622.0v-3.5M1113.3,427.4v3.5M1113.3,622.0v-3.5M1156.7,427.4v3.5M1156.7,622.0v-3.5M1200.1,427.4v3.5M1200.1,622.0v-3.5M160.0,432.8h3.8M1243.0,432.8h-3.8M160.0,438.0h3.8M1243.0,438.0h-3.8M160.0,443.2h3.8M1243.0,443.2h-3.8M160.0,448.5h7.0M1243.0,448.5h-7.0M160.0,453.8h3.8M1243.0,453.8h-3.8M160.0,459.0h3.8M1243.0,459.0h-3.8M160.0,464.2h3.8M1243.0,464.2h-3.8M160.0,469.5h3.8M1243.0,469.5h-3.8M160.0,474.8h7.0M1243.0,474.8h-7.0M160.0,480.0h3.8M1243.0,480.0h-3.8M160.0,485.2h3.8M1243.0,485.2h-3.8M160.0,490.5h3.8M1243.0,490.5h-3.8M160.0,495.8h3.8M1243.0,495.8h-3.8M160.0,501.0h7.0M1243.0,501.0h-7.0M160.0,506.2h3.8M1243.0,506.2h-3.8M160.0,511.5h3.8M1243.0,511.5h-3.8M160.0,516.8h3.8M1243.0,516.8h-3.8M160.0,522.0h3.8M1243.0,522.0h-3.8M160.0,527.2h7.0M1243.0,527.2h-7.0M160.0,532.5h3.8M1243.0,532.5h-3.8M160.0,537.8h3.8M1243.0,537.8h-3.8M160.0,543.0h3.8M1243.0,543.0h-3.8M160.0,548.2h3.8M1243.0,548.2h-3.8M160.0,553.5h7.0M1243.0,553.5h-7.0M160.0,558.8h3.8M1243.0,558.8h-3.8M160.0,564.0h3.8M1243.0,564.0h-3.8M160.0,569.2h3.8M1243.0,569.2h-3.8M160.0,574.5h3.8M1243.0,574.5h-3.8M160.0,579.8h7.0M1243.0,579.8h-7.0M160.0,585.0h3.8M1243.0,585.0h-3.8M160.0,590.2h3.8M1243.0,590.2h-3.8M160.0,595.5h3.8M1243.0,595.5h-3.8M160.0,600.8h3.8M1243.0,600.8h-3.8M160.0,606.0h7.0M1243.0,606.0h-7.0M160.0,611.2h3.8M1243.0,611.2h-3.8M160.0,616.5h3.8M1243.0,616.5h-3.8" stroke="#62605e" stroke-width="1.6" fill="none"/>
<text transform="translate(136.6,455.9) scale(0.93,1)" font-size="36" fill="#575757" text-anchor="end">1.4</text>
<text transform="translate(136.6,509.4) scale(0.93,1)" font-size="36" fill="#575757" text-anchor="end">1.2</text>
<text transform="translate(136.6,561.4) scale(0.93,1)" font-size="36" fill="#575757" text-anchor="end">1.0</text>
<text transform="translate(136.6,613.4) scale(0.93,1)" font-size="36" fill="#575757" text-anchor="end">0.8</text>
<rect x="158.0" y="640.3" width="30.9" height="190.1" fill="#dfdfdf"/>
<rect x="221.4" y="640.3" width="60.8" height="190.1" fill="#dfdfdf"/>
<rect x="312.6" y="640.3" width="128.0" height="190.1" fill="#dfdfdf"/>
<rect x="573.0" y="640.3" width="112.8" height="190.1" fill="#dfdfdf"/>
<rect x="809.5" y="640.3" width="80.3" height="190.1" fill="#dfdfdf"/>
<rect x="970.1" y="640.3" width="108.5" height="190.1" fill="#dfdfdf"/>
<rect x="1195.8" y="640.3" width="47.7" height="190.1" fill="#dfdfdf"/>
<g clip-path="url(#clipD)"><path d="M159,691.5l1.5 -1 1.5 0 2 1.5 1.5 1 1.5 0 1.5 -1.5 1.5 -1 2 -2 1.5 3 1.5 -.5 1.5 1.5 1.5 -1 2 0 1.5 -.5 1.5 -1 1.5 1 1.5 -1 2 -.5 1.5 1.5 1.5 -1 1.5 0 1.5 1 2 -2 1.5 2 1.5 -1 1.5 0 1.5 .5 2 -.5 1.5 .5 1.5 1 1.5 .5 1.5 1.5 2 -1.5 1.5 1.5 1.5 1 1.5 -3 1.5 3 2 -.5 1.5 -.5 1.5 0 1.5 1 1.5 -2.5 2 2 1.5 -.5 1.5 .5 1.5 -3 1.5 0 2 2.5 1.5 -1 1.5 1 1.5 -.5 1.5 -1 2 -.5 1.5 3 1.5 -1 1.5 -.5 1.5 1 2 -2 1.5 1.5 1.5 -1 1.5 1 1.5 0 2 -2 1.5 2 1.5 -.5 1.5 1 1.5 -1.5 2 1 1.5 -.5 1.5 2.5 1.5 1.5 1.5 -3 2 .5 1.5 1 1.5 0 1.5 -1 1.5 1.5 2 -2.5 1.5 3 1.5 -2 1.5 0 1.5 0 2 0 1.5 .5 1.5 0 1.5 -1 1.5 .5 2 0 1.5 1 1.5 0 1.5 -3 1.5 1 2 0 1.5 -1.5 1.5 -.5 1.5 .5 1.5 -.5 2 -1 1.5 2 1.5 -.5 1.5 1.5 1.5 -1 2 -.5 1.5 1.5 1.5 1 1.5 -1 1.5 1.5 2 -.5 1.5 -1 1.5 -1.5 1.5 1 1.5 1.5 2 -1 1.5 -2 1.5 -.5 1.5 -.5 1.5 .5 2 -1 1.5 0 1.5 1.5 1.5 -1 1.5 1.5 2 -1.5 1.5 0 1.5 -.5 1.5 2 1.5 -.5 2 .5 1.5 -1.5 1.5 1 1.5 0 1.5 -3 2 1.5 1.5 0 1.5 -1.5 1.5 1.5 1.5 -1 2 0 1.5 -1 1.5 1 1.5 -1 1.5 .5 2 .5 1.5 -.5 1.5 1 1.5 -1 1.5 0 2 .5 1.5 -.5 1.5 3.5 1.5 -.5 1.5 4 2 2.5 1.5 4.5 1.5 -7 1.5 -1 1.5 3 2 4 1.5 4.5 1.5 -1.5 1.5 1.5 1.5 6 2 2 1.5 -.5 1.5 -4.5 1.5 5 1.5 -1 2 1.5 1.5 -2.5 1.5 5 1.5 -.5 1.5 -2 2 0 1.5 1 1.5 1 1.5 -1 1.5 0 2 2 1.5 0 1.5 -3 1.5 3 1.5 .5 2 0 1.5 2 1.5 -3 1.5 2 1.5 -1 2 0 1.5 -.5 1.5 -.5 1.5 -2 1.5 2 2 -.5 1.5 .5 1.5 -2 1.5 1 1.5 2 2 0 1.5 -2 1.5 .5 1.5 .5 1.5 1.5 2 1.5 1.5 -2.5 1.5 3 1.5 1.5 1.5 -2 2 0 1.5 1 1.5 -3 1.5 2.5 1.5 .5 2 -.5 1.5 .5 1.5 .5 1.5 -1.5 1.5 0 2 -1 1.5 0 1.5 .5 1.5 1.5 1.5 -2.5 2 1.5 1.5 -2 1.5 1 1.5 1 1.5 -1 2 -1.5 1.5 2 1.5 -1 1.5 1.5 1.5 1 2 -1.5 1.5 .5 1.5 -2 1.5 .5 1.5 1.5 2 -1.5 1.5 2 1.5 -2 1.5 1.5 1.5 0 2 0 1.5 -2 1.5 2.5 1.5 -1 1.5 .5 2 .5 1.5 -1 1.5 2.5 1.5 -2.5 1.5 2.5 2 .5 1.5 -1.5 1.5 0 1.5 -.5 1.5 .5 2 0 1.5 -.5 1.5 1.5 1.5 -.5 1.5 -1 2 1 1.5 .5 1.5 -1 1.5 2 1.5 -2 2 .5 1.5 3 1.5 -4 1.5 -.5 1.5 2.5 2 -.5 1.5 -.5 1.5 -1.5 1.5 0 1.5 0 2 .5 1.5 .5 1.5 1 1.5 -1 1.5 1 2 -1 1.5 -1.5 1.5 1.5 1.5 -2 1.5 2 2 .5 1.5 -1 1.5 2 1.5 0 1.5 -1 2 0 1.5 0 1.5 1.5 1.5 -2 1.5 2 2 0 1.5 -1.5 1.5 1 1.5 -1 1.5 1.5 2 -2.5 1.5 1 1.5 0 1.5 -1.5 1.5 .5 2 1 1.5 -2.5 1.5 2.5 1.5 -1 1.5 2.5 2 0 1.5 0 1.5 .5 1.5 -1.5 1.5 .5 2 2.5 1.5 -.5 1.5 -1 1.5 1 1.5 1.5 2 -.5 1.5 -1.5 1.5 0 1.5 .5 1.5 -1.5 2 .5 1.5 -.5 1.5 .5 1.5 1.5 1.5 -.5 2 -1 1.5 .5 1.5 0 1.5 -2.5 1.5 1.5 2 .5 1.5 0 1.5 -1 1.5 1 1.5 -2.5 2 2 1.5 -.5 1.5 -1.5 1.5 .5 1.5 1.5 2 -2.5 1.5 -.5 1.5 1.5 1.5 -3 1.5 -.5 2 1 1.5 3.5 1.5 -4.5 1.5 1.5 1.5 .5 2 -1.5 1.5 .5 1.5 .5 1.5 1.5 1.5 -1.5 2 2 1.5 -1.5 1.5 .5 1.5 1 1.5 -1.5 2 1.5 1.5 0 1.5 1 1.5 -1 1.5 1 2 0 1.5 -2 1.5 .5 1.5 -1 1.5 1.5 2 -3 1.5 2 1.5 -1 1.5 0 1.5 -.5 2 -2.5 1.5 1 1.5 -.5 1.5 2.5 1.5 -2 2 1.5 1.5 0 1.5 -1 1.5 -2 1.5 0 2 1 1.5 0 1.5 -1 1.5 .5 1.5 -.5 2 -.5 1.5 .5 1.5 -1.5 1.5 .5 1.5 -2 2 .5 1.5 .5 1.5 2 1.5 -2.5 1.5 0 2 -.5 1.5 0 1.5 1 1.5 .5 1.5 -.5 2 1 1.5 -1 1.5 0 1.5 2 1.5 -2.5 2 2 1.5 0 1.5 -.5 1.5 -.5 1.5 -.5 2 -.5 1.5 1.5 1.5 .5 1.5 -2.5 1.5 .5 2 0 1.5 0 1.5 0 1.5 -.5 1.5 -1.5 2 1 1.5 -2.5 1.5 .5 1.5 3 1.5 1.5 2 3 1.5 -4.5 1.5 -2 1.5 -2 1.5 3.5 2 -1.5 1.5 .5 1.5 -1.5 1.5 3.5 1.5 -1.5 2 1 1.5 -.5 1.5 -1.5 1.5 2 1.5 1 2 -1 1.5 -1.5 1.5 .5 1.5 -.5 1.5 -1 2 -.5 1.5 2.5 1.5 -1 1.5 -1 1.5 1 2 -.5 1.5 -1 1.5 .5 1.5 .5 1.5 -2.5 2 1.5 1.5 0 1.5 1.5 1.5 -1 1.5 .5 2 .5 1.5 -.5 1.5 2 1.5 -.5 1.5 .5 2 -1.5 1.5 1.5 1.5 .5 1.5 -.5 1.5 .5 2 -2 1.5 .5 1.5 0 1.5 -.5 1.5 -1 2 .5 1.5 2.5 1.5 -1 1.5 -.5 1.5 2.5 2 -1.5 1.5 0 1.5 .5 1.5 1 1.5 -.5 2 -1 1.5 .5 1.5 0 1.5 1.5 1.5 .5 2 .5 1.5 0 1.5 -1 1.5 -.5 1.5 -1 2 .5 1.5 0 1.5 2.5 1.5 -2.5 1.5 1 2 -1 1.5 .5 1.5 -.5 1.5 0 1.5 -1 2 2.5 1.5 -.5 1.5 -1 1.5 1.5 1.5 -.5 2 2 1.5 -.5 1.5 -1.5 1.5 0 1.5 .5 2 0 1.5 0 1.5 -2 1.5 -1 1.5 0 2 1 1.5 -.5 1.5 -.5 1.5 -2.5 1.5 -4 2 -1 1.5 6.5 1.5 3 1.5 4 1.5 4.5 2 2 1.5 -.5 1.5 .5 1.5 7 1.5 -.5 2 0 1.5 8 1.5 6 1.5 4.5 1.5 -2.5 2 -.5 1.5 3 1.5 2.5 1.5 -6.5 1.5 0 2 1.5 1.5 6.5 1.5 2 1.5 -.5 1.5 -4.5 2 -1 1.5 -4 1.5 1 1.5 -2 1.5 1 2 0 1.5 1.5 1.5 0 1.5 2 1.5 -1 2 -.5 1.5 .5 1.5 1 1.5 .5 1.5 -1 2 2 1.5 -.5 1.5 -2 1.5 .5 1.5 2 2 .5 1.5 -.5 1.5 -.5 1.5 -.5 1.5 1.5 2 -.5 1.5 .5 1.5 -1.5 1.5 2 1.5 -2 2 1 1.5 0 1.5 1 1.5 -2.5 1.5 3 2 -1 1.5 .5 1.5 1.5 1.5 -1.5 1.5 -1.5 2 4 1.5 -1.5 1.5 -.5 1.5 1.5 1.5 -.5 2 0 1.5 0 1.5 2.5 1.5 0 1.5 .5 2 .5 1.5 -1.5 1.5 .5 1.5 1.5 1.5 -1.5 2 2 1.5 -.5 1.5 -1.5 1.5 1 1.5 .5 2 -2 1.5 1.5 1.5 1 1.5 0 1.5 2 2 -1 1.5 .5 1.5 0 1.5 .5 1.5 0 2 1.5 1.5 -3.5 1.5 1 1.5 -.5 1.5 -1.5 2 0 1.5 .5 1.5 -.5 1.5 -1 1.5 0 2 3 1.5 -2.5 1.5 2.5 1.5 -2.5 1.5 1 2 0 1.5 1 1.5 1.5 1.5 -1 1.5 1 2 -2 1.5 .5 1.5 2.5 1.5 .5 1.5 -1 2 1.5 1.5 .5 1.5 0 1.5 0 1.5 -.5 2 .5 1.5 1 1.5 -1 1.5 -1 1.5 2.5 2 1 1.5 .5 1.5 -1 1.5 .5 1.5 2 2 -2.5 1.5 3 1.5 1.5 1.5 0" fill="none" stroke="#8a8a8a" stroke-width="2.0" stroke-linejoin="round" /><path d="M159,708l1.5 -1 1.5 3 2 -.5 1.5 1.5 1.5 .5 1.5 -4 1.5 -1 2 1.5 1.5 -1.5 1.5 2 1.5 -1.5 1.5 -.5 2 1 1.5 2 1.5 -3.5 1.5 .5 1.5 -.5 2 1 1.5 1 1.5 -.5 1.5 0 1.5 0 2 -.5 1.5 -1.5 1.5 1.5 1.5 -.5 1.5 .5 2 .5 1.5 .5 1.5 0 1.5 1 1.5 0 2 -.5 1.5 -.5 1.5 0 1.5 2 1.5 0 2 0 1.5 0 1.5 -1.5 1.5 0 1.5 -2.5 2 2 1.5 0 1.5 -1 1.5 1.5 1.5 -1.5 2 -.5 1.5 0 1.5 1 1.5 -2 1.5 .5 2 -1 1.5 .5 1.5 1 1.5 -2 1.5 2 2 0 1.5 -1.5 1.5 -.5 1.5 -.5 1.5 -.5 2 2 1.5 1 1.5 -2 1.5 0 1.5 -1 2 1 1.5 -.5 1.5 .5 1.5 1 1.5 -2 2 1.5 1.5 -1.5 1.5 1.5 1.5 -1 1.5 -.5 2 1.5 1.5 -1 1.5 .5 1.5 0 1.5 .5 2 -1.5 1.5 -.5 1.5 2 1.5 -1 1.5 0 2 1.5 1.5 -2.5 1.5 2.5 1.5 -1.5 1.5 2 2 -1 1.5 -2 1.5 0 1.5 .5 1.5 .5 2 .5 1.5 -1 1.5 0 1.5 .5 1.5 0 2 1.5 1.5 -2.5 1.5 1.5 1.5 0 1.5 -.5 2 2 1.5 -2 1.5 1 1.5 -1.5 1.5 .5 2 -2 1.5 -.5 1.5 2.5 1.5 -2 1.5 -.5 2 0 1.5 1.5 1.5 -1.5 1.5 2.5 1.5 -1.5 2 2.5 1.5 -.5 1.5 -1.5 1.5 -1.5 1.5 1 2 -1 1.5 .5 1.5 .5 1.5 0 1.5 -1 2 -.5 1.5 2 1.5 -2 1.5 2 1.5 -.5 2 -.5 1.5 1.5 1.5 -3 1.5 1 1.5 0 2 0 1.5 -1.5 1.5 0 1.5 -1.5 1.5 2.5 2 -3.5 1.5 1 1.5 2.5 1.5 -1.5 1.5 4 2 -.5 1.5 -1.5 1.5 5 1.5 -1 1.5 6.5 2 -1.5 1.5 3.5 1.5 -.5 1.5 4 1.5 -.5 2 .5 1.5 0 1.5 1.5 1.5 -1.5 1.5 1 2 1 1.5 4 1.5 1 1.5 -1.5 1.5 1.5 2 1 1.5 -1.5 1.5 .5 1.5 2 1.5 -.5 2 -.5 1.5 -1.5 1.5 -1 1.5 0 1.5 1 2 .5 1.5 1.5 1.5 2 1.5 -2 1.5 1 2 .5 1.5 .5 1.5 1 1.5 -1.5 1.5 0 2 1 1.5 -.5 1.5 -1.5 1.5 1.5 1.5 -1 2 .5 1.5 .5 1.5 -3 1.5 .5 1.5 1 2 .5 1.5 -.5 1.5 .5 1.5 0 1.5 -.5 2 .5 1.5 -1.5 1.5 .5 1.5 1.5 1.5 -2 2 1.5 1.5 .5 1.5 -1 1.5 0 1.5 2.5 2 .5 1.5 .5 1.5 -1 1.5 .5 1.5 -1.5 2 2 1.5 1.5 1.5 0 1.5 0 1.5 .5 2 -1 1.5 0 1.5 .5 1.5 1.5 1.5 0 2 0 1.5 -1.5 1.5 -1 1.5 1.5 1.5 .5 2 -.5 1.5 1 1.5 -2 1.5 0 1.5 -1.5 2 2.5 1.5 0 1.5 -.5 1.5 .5 1.5 .5 2 1 1.5 -1 1.5 0 1.5 .5 1.5 .5 2 0 1.5 -.5 1.5 -1 1.5 1.5 1.5 -2 2 .5 1.5 0 1.5 0 1.5 1.5 1.5 .5 2 -2.5 1.5 2 1.5 -3 1.5 0 1.5 1 2 1.5 1.5 1 1.5 -3.5 1.5 1 1.5 1 2 -.5 1.5 -.5 1.5 1.5 1.5 -2 1.5 -1 2 .5 1.5 0 1.5 1.5 1.5 -1 1.5 -3.5 2 2.5 1.5 .5 1.5 .5 1.5 .5 1.5 -1 2 1.5 1.5 -2 1.5 1.5 1.5 2 1.5 -3 2 0 1.5 1.5 1.5 0 1.5 1.5 1.5 -3 2 .5 1.5 -1.5 1.5 2 1.5 .5 1.5 -1 2 2.5 1.5 -.5 1.5 .5 1.5 -.5 1.5 .5 2 -.5 1.5 0 1.5 1 1.5 -1.5 1.5 1.5 2 -.5 1.5 -.5 1.5 -1 1.5 3.5 1.5 -2.5 2 0 1.5 -.5 1.5 1 1.5 -2 1.5 1 2 1 1.5 1 1.5 -.5 1.5 -1 1.5 0 2 0 1.5 1 1.5 -1.5 1.5 .5 1.5 0 2 1 1.5 1.5 1.5 -2.5 1.5 .5 1.5 0 2 1.5 1.5 0 1.5 1 1.5 -1.5 1.5 0 2 1 1.5 -.5 1.5 -.5 1.5 1 1.5 0 2 0 1.5 -2 1.5 2.5 1.5 .5 1.5 -2 2 1.5 1.5 -2 1.5 2.5 1.5 -2.5 1.5 -.5 2 0 1.5 1 1.5 0 1.5 .5 1.5 -1.5 2 -.5 1.5 -1 1.5 -1 1.5 1 1.5 -.5 2 1.5 1.5 1 1.5 -.5 1.5 1 1.5 -.5 2 -1 1.5 .5 1.5 1.5 1.5 -3 1.5 3 2 .5 1.5 -1 1.5 1.5 1.5 -1.5 1.5 -.5 2 0 1.5 -1 1.5 -2.5 1.5 1.5 1.5 0 2 -1 1.5 -1 1.5 .5 1.5 2 1.5 -2.5 2 -.5 1.5 1.5 1.5 .5 1.5 -.5 1.5 .5 2 -1 1.5 1 1.5 0 1.5 2.5 1.5 -3 2 -.5 1.5 2.5 1.5 -.5 1.5 -2.5 1.5 1 2 -1 1.5 .5 1.5 -2 1.5 1.5 1.5 1 2 -2 1.5 -1 1.5 0 1.5 -.5 1.5 2.5 2 -1 1.5 -1 1.5 2.5 1.5 .5 1.5 0 2 -2 1.5 1.5 1.5 0 1.5 2 1.5 -1 2 .5 1.5 -.5 1.5 -2 1.5 1 1.5 .5 2 -3 1.5 6.5 1.5 -3 1.5 -1 1.5 -2.5 2 -2 1.5 0 1.5 -2 1.5 -.5 1.5 .5 2 -2 1.5 0 1.5 1 1.5 3 1.5 -4 2 1 1.5 0 1.5 -.5 1.5 1.5 1.5 -1.5 2 -.5 1.5 -1.5 1.5 1 1.5 0 1.5 -.5 2 0 1.5 0 1.5 -1.5 1.5 1 1.5 1 2 -1.5 1.5 .5 1.5 .5 1.5 2 1.5 0 2 2 1.5 -2 1.5 1.5 1.5 0 1.5 -.5 2 .5 1.5 1 1.5 -3.5 1.5 2.5 1.5 -2.5 2 .5 1.5 0 1.5 0 1.5 -.5 1.5 -.5 2 -.5 1.5 -3.5 1.5 3 1.5 0 1.5 1 2 .5 1.5 -.5 1.5 .5 1.5 -1 1.5 0 2 .5 1.5 .5 1.5 0 1.5 -.5 1.5 2 2 -1 1.5 .5 1.5 -2.5 1.5 0 1.5 -.5 2 2 1.5 -1 1.5 1.5 1.5 -3 1.5 .5 2 .5 1.5 -1.5 1.5 .5 1.5 -.5 1.5 -.5 2 .5 1.5 -1 1.5 2 1.5 -1 1.5 1 2 -3 1.5 2 1.5 -1 1.5 .5 1.5 -1 2 1 1.5 1 1.5 .5 1.5 -1.5 1.5 -.5 2 1.5 1.5 -.5 1.5 1 1.5 1 1.5 1 2 -1.5 1.5 1.5 1.5 0 1.5 -1.5 1.5 3 2 -3 1.5 5.5 1.5 -.5 1.5 1 1.5 .5 2 7 1.5 3 1.5 1.5 1.5 -3 1.5 5 2 7.5 1.5 1 1.5 -.5 1.5 -.5 1.5 5.5 2 7 1.5 3.5 1.5 8.5 1.5 -4.5 1.5 2 2 2 1.5 5 1.5 -1 1.5 -2 1.5 5 2 1 1.5 0 1.5 -9 1.5 0 1.5 .5 2 0 1.5 1.5 1.5 2 1.5 -1.5 1.5 -1 2 .5 1.5 -1.5 1.5 0 1.5 -1.5 1.5 .5 2 1 1.5 1 1.5 -2.5 1.5 0 1.5 .5 2 1 1.5 .5 1.5 -.5 1.5 -.5 1.5 1.5 2 0 1.5 -1.5 1.5 1.5 1.5 -1 1.5 -.5 2 .5 1.5 1.5 1.5 -2 1.5 1 1.5 .5 2 1.5 1.5 -3 1.5 1.5 1.5 -.5 1.5 1.5 2 -1 1.5 .5 1.5 -.5 1.5 1 1.5 0 2 -1.5 1.5 -.5 1.5 1.5 1.5 0 1.5 .5 2 0 1.5 -.5 1.5 1 1.5 -2.5 1.5 .5 2 -1 1.5 -.5 1.5 .5 1.5 -1 1.5 3 2 -2.5 1.5 1 1.5 -1 1.5 .5 1.5 2.5 2 -1 1.5 1 1.5 .5 1.5 -.5 1.5 1 2 0 1.5 1.5 1.5 -1 1.5 1.5 1.5 -1.5 2 0 1.5 -1 1.5 .5 1.5 -2 1.5 .5 2 0 1.5 1 1.5 0 1.5 -1 1.5 1.5 2 -2 1.5 1 1.5 0 1.5 1 1.5 -2.5 2 1 1.5 1.5 1.5 -.5 1.5 0 1.5 -1 2 1 1.5 -.5 1.5 -.5 1.5 .5 1.5 .5 2 2 1.5 .5 1.5 -1 1.5 -1 1.5 .5 2 -1.5 1.5 2.5 1.5 -2 1.5 .5 1.5 3.5 2 0 1.5 4.5 1.5 .5 1.5 1.5" fill="none" stroke="#8a8a8a" stroke-width="2.0" stroke-linejoin="round" /><path d="M159,707l1.5 1.5 1.5 4 2 1.5 1.5 -1.5 1.5 -3 1.5 -2.5 1.5 3.5 2 1 1.5 -2 1.5 -.5 1.5 1.5 1.5 -1 2 -1 1.5 -1 1.5 2.5 1.5 1 1.5 -1 2 0 1.5 -.5 1.5 1.5 1.5 0 1.5 -1 2 1 1.5 -1 1.5 1.5 1.5 .5 1.5 -1.5 2 1.5 1.5 0 1.5 -.5 1.5 0 1.5 -1 2 .5 1.5 -.5 1.5 0 1.5 1 1.5 -3.5 2 1 1.5 2 1.5 -2.5 1.5 -1 1.5 3 2 .5 1.5 -1 1.5 0 1.5 -.5 1.5 -1.5 2 2.5 1.5 0 1.5 0 1.5 -1.5 1.5 2 2 -1 1.5 0 1.5 0 1.5 0 1.5 -1 2 2 1.5 -.5 1.5 -1.5 1.5 -1 1.5 0 2 -1 1.5 1 1.5 -1 1.5 0 1.5 2 2 -2.5 1.5 1 1.5 -1.5 1.5 1 1.5 -.5 2 1.5 1.5 .5 1.5 -2.5 1.5 2 1.5 1.5 2 -.5 1.5 -.5 1.5 1 1.5 1 1.5 0 2 -2 1.5 1.5 1.5 -.5 1.5 1 1.5 -.5 2 -1 1.5 1 1.5 0 1.5 -1 1.5 .5 2 -1.5 1.5 .5 1.5 1.5 1.5 -1 1.5 -.5 2 1 1.5 1 1.5 -2 1.5 2 1.5 -2 2 .5 1.5 0 1.5 1 1.5 -1 1.5 .5 2 -1 1.5 0 1.5 -1.5 1.5 1 1.5 -1.5 2 -1 1.5 1.5 1.5 0 1.5 -.5 1.5 -.5 2 -1 1.5 -.5 1.5 -1.5 1.5 0 1.5 0 2 -1.5 1.5 2 1.5 -1 1.5 0 1.5 -2 2 1 1.5 0 1.5 -1 1.5 1.5 1.5 .5 2 0 1.5 1.5 1.5 -1 1.5 1.5 1.5 .5 2 -.5 1.5 0 1.5 -1 1.5 1.5 1.5 -1 2 1 1.5 0 1.5 0 1.5 -1 1.5 0 2 0 1.5 1 1.5 2 1.5 .5 1.5 2 2 -2.5 1.5 -.5 1.5 -1.5 1.5 9.5 1.5 1 2 5 1.5 1 1.5 2.5 1.5 -4.5 1.5 5.5 2 -1 1.5 6 1.5 -.5 1.5 4.5 1.5 -1.5 2 -.5 1.5 -2 1.5 -3.5 1.5 2 1.5 2.5 2 1 1.5 .5 1.5 1.5 1.5 -1.5 1.5 0 2 2 1.5 -1 1.5 -1 1.5 0 1.5 -1 2 2.5 1.5 -.5 1.5 1 1.5 -1.5 1.5 1 2 1 1.5 0 1.5 1 1.5 -1.5 1.5 -.5 2 .5 1.5 .5 1.5 0 1.5 -.5 1.5 -.5 2 1 1.5 -1.5 1.5 1.5 1.5 0 1.5 1 2 0 1.5 -1 1.5 1 1.5 -1 1.5 1 2 0 1.5 0 1.5 2 1.5 -3 1.5 2 2 -.5 1.5 -1 1.5 0 1.5 .5 1.5 1 2 -1 1.5 0 1.5 1.5 1.5 -2 1.5 2 2 -1 1.5 0 1.5 1.5 1.5 -.5 1.5 .5 2 -1 1.5 -.5 1.5 1 1.5 0 1.5 -.5 2 -2 1.5 0 1.5 .5 1.5 -.5 1.5 .5 2 .5 1.5 0 1.5 1 1.5 -1.5 1.5 -.5 2 2.5 1.5 -1.5 1.5 2 1.5 0 1.5 -1 2 1 1.5 -1 1.5 0 1.5 1 1.5 -2.5 2 .5 1.5 1 1.5 .5 1.5 0 1.5 -2 2 1.5 1.5 0 1.5 0 1.5 -1 1.5 0 2 4 1.5 -2 1.5 .5 1.5 2 1.5 -1.5 2 -3 1.5 3 1.5 1 1.5 -2 1.5 0 2 1 1.5 -.5 1.5 -1 1.5 -1 1.5 .5 2 0 1.5 1 1.5 .5 1.5 -1.5 1.5 -2 2 .5 1.5 2 1.5 -1.5 1.5 .5 1.5 1.5 2 1 1.5 -3.5 1.5 3 1.5 -.5 1.5 0 2 -1.5 1.5 1 1.5 2.5 1.5 -2 1.5 3.5 2 -1.5 1.5 0 1.5 -2 1.5 1.5 1.5 1 2 -.5 1.5 -.5 1.5 -.5 1.5 -.5 1.5 0 2 .5 1.5 -2 1.5 0 1.5 1.5 1.5 -1 2 -.5 1.5 1 1.5 0 1.5 1 1.5 2 2 0 1.5 0 1.5 -.5 1.5 -1 1.5 -1 2 1 1.5 1.5 1.5 -1 1.5 1 1.5 -1 2 -1 1.5 -2 1.5 1.5 1.5 .5 1.5 -1 2 .5 1.5 0 1.5 0 1.5 0 1.5 -1.5 2 2 1.5 .5 1.5 -2 1.5 2.5 1.5 -.5 2 0 1.5 1 1.5 1 1.5 -2 1.5 0 2 -1 1.5 1.5 1.5 -2 1.5 2 1.5 0 2 -2 1.5 1 1.5 -2 1.5 2 1.5 -.5 2 .5 1.5 -2 1.5 2 1.5 -1 1.5 -1.5 2 2.5 1.5 .5 1.5 -1.5 1.5 -1 1.5 1.5 2 2 1.5 -3 1.5 -1 1.5 1 1.5 -2 2 1 1.5 -1 1.5 -.5 1.5 3.5 1.5 -1.5 2 0 1.5 0 1.5 1 1.5 -2 1.5 1.5 2 -.5 1.5 1 1.5 0 1.5 -1.5 1.5 0 2 .5 1.5 0 1.5 0 1.5 -1 1.5 -1.5 2 1.5 1.5 1 1.5 -2.5 1.5 .5 1.5 1.5 2 1 1.5 -2 1.5 1 1.5 -1.5 1.5 1 2 -1 1.5 -.5 1.5 1.5 1.5 -1.5 1.5 3 2 .5 1.5 -1.5 1.5 -1.5 1.5 1 1.5 1 2 0 1.5 -1.5 1.5 0 1.5 0 1.5 0 2 -2 1.5 1.5 1.5 -1.5 1.5 -1.5 1.5 .5 2 -1 1.5 1 1.5 0 1.5 0 1.5 .5 2 -1 1.5 1 1.5 1 1.5 -.5 1.5 -1 2 .5 1.5 -1 1.5 -3 1.5 5 1.5 -1.5 2 2.5 1.5 1 1.5 2 1.5 -1.5 1.5 1 2 1 1.5 1.5 1.5 -4 1.5 1.5 1.5 -1.5 2 .5 1.5 .5 1.5 0 1.5 .5 1.5 -2 2 0 1.5 2 1.5 .5 1.5 .5 1.5 -2.5 2 2.5 1.5 -3 1.5 1 1.5 0 1.5 -1 2 1.5 1.5 -.5 1.5 0 1.5 0 1.5 -1 2 0 1.5 -.5 1.5 2 1.5 -.5 1.5 -.5 2 .5 1.5 1 1.5 -1 1.5 0 1.5 .5 2 -2 1.5 1 1.5 -1 1.5 2 1.5 -1.5 2 3 1.5 -1 1.5 -1 1.5 -1 1.5 -1.5 2 2 1.5 1 1.5 0 1.5 -.5 1.5 -1 2 -1 1.5 1.5 1.5 -1 1.5 1.5 1.5 -.5 2 0 1.5 1 1.5 -1 1.5 2.5 1.5 0 2 .5 1.5 -.5 1.5 .5 1.5 -1 1.5 0 2 -1 1.5 -.5 1.5 0 1.5 -1 1.5 2.5 2 -.5 1.5 -1.5 1.5 .5 1.5 0 1.5 -1 2 3 1.5 -1.5 1.5 -.5 1.5 2 1.5 -1 2 1.5 1.5 0 1.5 -1 1.5 1 1.5 -2.5 2 1.5 1.5 -1 1.5 .5 1.5 1.5 1.5 -.5 2 0 1.5 .5 1.5 0 1.5 0 1.5 -.5 2 2.5 1.5 7.5 1.5 -1.5 1.5 4.5 1.5 3.5 2 -1.5 1.5 2.5 1.5 -2.5 1.5 1.5 1.5 0 2 5 1.5 7.5 1.5 2 1.5 2.5 1.5 4.5 2 -2 1.5 -4.5 1.5 0 1.5 3 1.5 8.5 2 -2.5 1.5 -4 1.5 .5 1.5 4 1.5 2.5 2 -4 1.5 -2 1.5 -1 1.5 1.5 1.5 1 2 -.5 1.5 -1 1.5 -.5 1.5 2 1.5 -2 2 -.5 1.5 .5 1.5 -.5 1.5 .5 1.5 2.5 2 -3 1.5 1 1.5 -.5 1.5 1.5 1.5 0 2 -.5 1.5 2 1.5 -.5 1.5 -1.5 1.5 -.5 2 2 1.5 -2 1.5 .5 1.5 1 1.5 0 2 -.5 1.5 -.5 1.5 -.5 1.5 1 1.5 -.5 2 1 1.5 0 1.5 -.5 1.5 -1.5 1.5 -1 2 2 1.5 -.5 1.5 -1 1.5 2 1.5 -.5 2 0 1.5 1 1.5 -.5 1.5 -1.5 1.5 .5 2 0 1.5 .5 1.5 -.5 1.5 -1.5 1.5 1 2 0 1.5 -1 1.5 1 1.5 0 1.5 0 2 0 1.5 1 1.5 -1.5 1.5 .5 1.5 .5 2 -1.5 1.5 1 1.5 .5 1.5 -1 1.5 0 2 1.5 1.5 -.5 1.5 2 1.5 -1.5 1.5 1 2 -2.5 1.5 .5 1.5 1 1.5 -.5 1.5 0 2 2.5 1.5 -.5 1.5 1 1.5 -.5 1.5 -1.5 2 0 1.5 2 1.5 1 1.5 -3 1.5 3 2 -.5 1.5 -1 1.5 -.5 1.5 .5 1.5 -1 2 1.5 1.5 .5 1.5 -.5 1.5 1.5 1.5 -.5 2 2 1.5 -.5 1.5 -.5 1.5 -.5 1.5 -.5 2 .5 1.5 2 1.5 -3.5 1.5 2 1.5 1 2 .5 1.5 .5 1.5 4.5 1.5 1.5" fill="none" stroke="#8a8a8a" stroke-width="2.0" stroke-linejoin="round" /><path d="M159,730.5l1.5 -5.5 1.5 -1.5 2 -1 1.5 -2.5 1.5 1.5 1.5 3 1.5 -1 2 -5.5 1.5 2 1.5 .5 1.5 0 1.5 .5 2 0 1.5 -1 1.5 2 1.5 -1.5 1.5 0 2 -1 1.5 0 1.5 -.5 1.5 1 1.5 -2 2 .5 1.5 0 1.5 0 1.5 -2.5 1.5 3 2 -1 1.5 0 1.5 -1 1.5 -.5 1.5 1.5 2 .5 1.5 -2.5 1.5 1 1.5 1 1.5 -.5 2 1.5 1.5 -3.5 1.5 1.5 1.5 0 1.5 1 2 1 1.5 -.5 1.5 -2 1.5 2.5 1.5 -1.5 2 1.5 1.5 -2.5 1.5 .5 1.5 .5 1.5 -1.5 2 -2.5 1.5 2 1.5 -2 1.5 1.5 1.5 1.5 2 -2 1.5 1 1.5 -1 1.5 0 1.5 1.5 2 -1 1.5 3 1.5 -1 1.5 1.5 1.5 -.5 2 0 1.5 -1.5 1.5 1 1.5 0 1.5 .5 2 -.5 1.5 1 1.5 -2.5 1.5 -1 1.5 1.5 2 0 1.5 -2 1.5 2.5 1.5 -2 1.5 -.5 2 -1.5 1.5 .5 1.5 .5 1.5 0 1.5 1 2 -1 1.5 0 1.5 -.5 1.5 -1.5 1.5 0 2 2.5 1.5 -.5 1.5 -.5 1.5 .5 1.5 1 2 -1 1.5 -.5 1.5 1.5 1.5 -2.5 1.5 -.5 2 1 1.5 -1 1.5 .5 1.5 -1 1.5 -.5 2 0 1.5 0 1.5 0 1.5 0 1.5 1 2 -1 1.5 0 1.5 0 1.5 .5 1.5 -2.5 2 1.5 1.5 -1.5 1.5 3 1.5 -2.5 1.5 .5 2 -1.5 1.5 -.5 1.5 -.5 1.5 -1.5 1.5 3.5 2 -2 1.5 1 1.5 .5 1.5 .5 1.5 1.5 2 -2.5 1.5 2 1.5 -.5 1.5 1 1.5 -.5 2 -.5 1.5 1 1.5 -2 1.5 -.5 1.5 .5 2 -1 1.5 0 1.5 -.5 1.5 -1 1.5 -1 2 -1 1.5 .5 1.5 1.5 1.5 -1 1.5 -1.5 2 4.5 1.5 5 1.5 5.5 1.5 7.5 1.5 -2.5 2 3 1.5 -2 1.5 1.5 1.5 3 1.5 -2 2 3.5 1.5 2 1.5 4.5 1.5 -2 1.5 5 2 -5 1.5 6 1.5 -4 1.5 3.5 1.5 2 2 2 1.5 1 1.5 -2 1.5 0 1.5 1.5 2 2 1.5 -2.5 1.5 -.5 1.5 -2 1.5 3 2 -.5 1.5 -1.5 1.5 2.5 1.5 -.5 1.5 1.5 2 -1 1.5 -2.5 1.5 0 1.5 2 1.5 -.5 2 -1 1.5 .5 1.5 -.5 1.5 .5 1.5 -.5 2 -1.5 1.5 .5 1.5 .5 1.5 -1 1.5 0 2 0 1.5 1.5 1.5 -2 1.5 1.5 1.5 -.5 2 .5 1.5 1 1.5 0 1.5 .5 1.5 1 2 -.5 1.5 2.5 1.5 -2.5 1.5 1.5 1.5 -1 2 -.5 1.5 0 1.5 1.5 1.5 -.5 1.5 1 2 1 1.5 -2 1.5 3 1.5 -2 1.5 0 2 .5 1.5 -1 1.5 .5 1.5 1.5 1.5 -.5 2 -1.5 1.5 -1 1.5 1.5 1.5 -.5 1.5 0 2 .5 1.5 2 1.5 -3 1.5 2 1.5 -2 2 -1.5 1.5 4 1.5 -.5 1.5 -1.5 1.5 0 2 1 1.5 -1.5 1.5 1.5 1.5 -1 1.5 -1 2 1 1.5 1.5 1.5 0 1.5 -1.5 1.5 -1 2 1.5 1.5 -1.5 1.5 2 1.5 1 1.5 -.5 2 1 1.5 -.5 1.5 -1 1.5 .5 1.5 0 2 0 1.5 -1 1.5 -1 1.5 1 1.5 0 2 -2.5 1.5 .5 1.5 0 1.5 1 1.5 1 2 -1.5 1.5 1 1.5 -1 1.5 -1.5 1.5 .5 2 .5 1.5 1.5 1.5 -.5 1.5 -.5 1.5 -1 2 .5 1.5 1.5 1.5 -2 1.5 3.5 1.5 -.5 2 -1 1.5 1 1.5 1 1.5 -.5 1.5 0 2 -1 1.5 0 1.5 0 1.5 -1.5 1.5 2.5 2 -.5 1.5 -1 1.5 1.5 1.5 0 1.5 -1 2 -2 1.5 2.5 1.5 .5 1.5 1.5 1.5 -.5 2 -.5 1.5 0 1.5 -.5 1.5 0 1.5 0 2 -2 1.5 1 1.5 .5 1.5 -1 1.5 .5 2 -.5 1.5 .5 1.5 -.5 1.5 2 1.5 0 2 .5 1.5 -1.5 1.5 1 1.5 -2 1.5 0 2 .5 1.5 0 1.5 1 1.5 0 1.5 0 2 -2 1.5 3 1.5 -1.5 1.5 1.5 1.5 -2.5 2 1.5 1.5 -1 1.5 -1 1.5 0 1.5 -1.5 2 1 1.5 -.5 1.5 -1.5 1.5 -.5 1.5 -.5 2 1.5 1.5 1 1.5 2 1.5 -1 1.5 -.5 2 0 1.5 .5 1.5 1 1.5 0 1.5 -1 2 .5 1.5 -.5 1.5 .5 1.5 0 1.5 -4.5 2 1.5 1.5 1.5 1.5 -1.5 1.5 -.5 1.5 2 2 -2 1.5 0 1.5 .5 1.5 1 1.5 -2.5 2 2 1.5 -1 1.5 -.5 1.5 1 1.5 -1.5 2 -.5 1.5 2.5 1.5 -1 1.5 0 1.5 1 2 -3.5 1.5 2.5 1.5 -1.5 1.5 -.5 1.5 -1 2 1 1.5 -1 1.5 0 1.5 -.5 1.5 2 2 -2.5 1.5 .5 1.5 1.5 1.5 0 1.5 1.5 2 -2 1.5 -.5 1.5 1 1.5 -.5 1.5 0 2 -.5 1.5 .5 1.5 .5 1.5 -.5 1.5 -3 2 0 1.5 2 1.5 -1.5 1.5 2 1.5 -2 2 .5 1.5 2 1.5 -1 1.5 -.5 1.5 1.5 2 -2.5 1.5 0 1.5 1 1.5 1 1.5 -.5 2 0 1.5 -1 1.5 0 1.5 -1.5 1.5 -1.5 2 -1 1.5 3 1.5 -4 1.5 2.5 1.5 1.5 2 2 1.5 3 1.5 1.5 1.5 1 1.5 5.5 2 -.5 1.5 .5 1.5 -2 1.5 0 1.5 -2.5 2 -3 1.5 3.5 1.5 -1 1.5 2 1.5 -5 2 3.5 1.5 -1.5 1.5 .5 1.5 -2.5 1.5 1.5 2 -.5 1.5 -.5 1.5 1 1.5 -.5 1.5 -1.5 2 2.5 1.5 -1.5 1.5 -1 1.5 .5 1.5 -1 2 1.5 1.5 1 1.5 -2 1.5 2 1.5 -.5 2 -1.5 1.5 2 1.5 -1 1.5 -1 1.5 0 2 1.5 1.5 -.5 1.5 0 1.5 0 1.5 -.5 2 .5 1.5 0 1.5 1 1.5 -.5 1.5 -2 2 1 1.5 0 1.5 1 1.5 .5 1.5 -.5 2 1 1.5 -2 1.5 1.5 1.5 .5 1.5 -1.5 2 1 1.5 .5 1.5 -1 1.5 -.5 1.5 4 2 -5 1.5 2 1.5 -.5 1.5 1 1.5 -1 2 .5 1.5 -.5 1.5 -1 1.5 .5 1.5 1 2 0 1.5 0 1.5 .5 1.5 -1 1.5 -2.5 2 1.5 1.5 -1 1.5 3 1.5 -2 1.5 2.5 2 -2.5 1.5 -1 1.5 1.5 1.5 -2.5 1.5 4 2 0 1.5 -1 1.5 -1.5 1.5 0 1.5 .5 2 -2.5 1.5 1 1.5 1 1.5 -2 1.5 2 2 5 1.5 -1.5 1.5 -3 1.5 5.5 1.5 1.5 2 4.5 1.5 -1 1.5 5 1.5 6 1.5 -2.5 2 5 1.5 -.5 1.5 5 1.5 2.5 1.5 1 2 6 1.5 3 1.5 5.5 1.5 -6 1.5 .5 2 -2 1.5 -3 1.5 -4.5 1.5 -2.5 1.5 4 2 2.5 1.5 1 1.5 -.5 1.5 -1 1.5 0 2 .5 1.5 .5 1.5 -1.5 1.5 2 1.5 -2 2 1.5 1.5 -.5 1.5 .5 1.5 .5 1.5 -1.5 2 1.5 1.5 0 1.5 0 1.5 -1 1.5 2.5 2 -1 1.5 1 1.5 .5 1.5 .5 1.5 0 2 -.5 1.5 1.5 1.5 .5 1.5 -.5 1.5 0 2 1 1.5 -1 1.5 -.5 1.5 -1 1.5 2.5 2 -1.5 1.5 0 1.5 .5 1.5 -1.5 1.5 0 2 1.5 1.5 -1.5 1.5 -2 1.5 -.5 1.5 1 2 0 1.5 0 1.5 1 1.5 0 1.5 -.5 2 2 1.5 -.5 1.5 1 1.5 -1 1.5 2 2 -1 1.5 1.5 1.5 -1 1.5 .5 1.5 .5 2 .5 1.5 0 1.5 -2 1.5 0 1.5 .5 2 0 1.5 1.5 1.5 -2 1.5 0 1.5 2 2 -1.5 1.5 0 1.5 -.5 1.5 1.5 1.5 -2 2 -.5 1.5 1 1.5 0 1.5 -.5 1.5 -1 2 0 1.5 -1 1.5 1.5 1.5 -1 1.5 2 2 1 1.5 .5 1.5 -2 1.5 1 1.5 -.5 2 0 1.5 .5 1.5 1.5 1.5 -1.5 1.5 1 2 -2.5 1.5 2 1.5 .5 1.5 -.5 1.5 0 2 -1 1.5 1.5 1.5 .5 1.5 1.5 1.5 -2 2 1 1.5 .5 1.5 1.5 1.5 -.5 1.5 -.5 2 -1 1.5 4 1.5 2 1.5 2" fill="none" stroke="#8a8a8a" stroke-width="2.0" stroke-linejoin="round" /><path d="M159,729.5l1.5 2 1.5 1.5 2 3 1.5 3.5 1.5 -.5 1.5 -1 1.5 0 2 2 1.5 -2 1.5 1 1.5 -1 1.5 1 2 .5 1.5 0 1.5 2 1.5 -2.5 1.5 -.5 2 1 1.5 1 1.5 1.5 1.5 1 1.5 -1 2 1 1.5 -1.5 1.5 1.5 1.5 -1 1.5 0 2 1 1.5 0 1.5 -.5 1.5 -1.5 1.5 0 2 -.5 1.5 0 1.5 0 1.5 -2.5 1.5 2.5 2 0 1.5 -1 1.5 .5 1.5 .5 1.5 0 2 1 1.5 .5 1.5 -.5 1.5 0 1.5 1.5 2 -.5 1.5 -1.5 1.5 1.5 1.5 1.5 1.5 -1 2 -1 1.5 .5 1.5 -.5 1.5 0 1.5 0 2 -1 1.5 -1 1.5 1.5 1.5 0 1.5 -.5 2 -.5 1.5 .5 1.5 -.5 1.5 0 1.5 -.5 2 .5 1.5 -1 1.5 0 1.5 0 1.5 -.5 2 0 1.5 -1.5 1.5 1.5 1.5 0 1.5 -2 2 1.5 1.5 1.5 1.5 -2 1.5 0 1.5 2.5 2 -1.5 1.5 .5 1.5 0 1.5 -.5 1.5 .5 2 0 1.5 -.5 1.5 .5 1.5 -1 1.5 1 2 0 1.5 -2 1.5 1.5 1.5 -1 1.5 .5 2 0 1.5 0 1.5 -.5 1.5 0 1.5 0 2 .5 1.5 2 1.5 -2.5 1.5 2 1.5 -.5 2 -1.5 1.5 .5 1.5 -.5 1.5 .5 1.5 1 2 -3 1.5 3 1.5 -1 1.5 -1.5 1.5 1 2 2 1.5 -2 1.5 .5 1.5 -2 1.5 .5 2 .5 1.5 .5 1.5 -1.5 1.5 2 1.5 0 2 -1 1.5 .5 1.5 -2 1.5 1 1.5 0 2 1 1.5 1 1.5 1 1.5 -1.5 1.5 -1 2 1 1.5 -.5 1.5 2 1.5 -4 1.5 3.5 2 .5 1.5 -.5 1.5 -2.5 1.5 2.5 1.5 -1.5 2 .5 1.5 .5 1.5 1.5 1.5 -3 1.5 .5 2 -1.5 1.5 1.5 1.5 2 1.5 .5 1.5 -1 2 3 1.5 0 1.5 2.5 1.5 2 1.5 -1.5 2 1.5 1.5 -2 1.5 4 1.5 3 1.5 -2.5 2 1.5 1.5 .5 1.5 2.5 1.5 -2 1.5 -3 2 -1 1.5 -.5 1.5 3.5 1.5 0 1.5 -2 2 1.5 1.5 -.5 1.5 1 1.5 .5 1.5 .5 2 -2 1.5 .5 1.5 2 1.5 -1.5 1.5 1.5 2 -.5 1.5 -1 1.5 0 1.5 1 1.5 -1.5 2 -1 1.5 2.5 1.5 -1.5 1.5 .5 1.5 1.5 2 .5 1.5 .5 1.5 0 1.5 0 1.5 -.5 2 .5 1.5 -2 1.5 3.5 1.5 -.5 1.5 0 2 -.5 1.5 0 1.5 0 1.5 -.5 1.5 .5 2 -1 1.5 -1 1.5 -1.5 1.5 .5 1.5 2.5 2 -2 1.5 -1 1.5 0 1.5 2.5 1.5 -.5 2 -.5 1.5 .5 1.5 -1 1.5 1.5 1.5 -.5 2 -1 1.5 -.5 1.5 1.5 1.5 -1 1.5 2 2 -.5 1.5 -1.5 1.5 0 1.5 0 1.5 1 2 2 1.5 -2 1.5 .5 1.5 .5 1.5 -.5 2 -1 1.5 0 1.5 1.5 1.5 -2.5 1.5 1.5 2 -2.5 1.5 1 1.5 1 1.5 -1.5 1.5 -1 2 2 1.5 -.5 1.5 -.5 1.5 1.5 1.5 -.5 2 -1.5 1.5 .5 1.5 -.5 1.5 0 1.5 -.5 2 -1.5 1.5 1.5 1.5 -1 1.5 .5 1.5 2 2 -1.5 1.5 .5 1.5 -2 1.5 2.5 1.5 1 2 0 1.5 0 1.5 1 1.5 -.5 1.5 -.5 2 -.5 1.5 .5 1.5 1.5 1.5 1 1.5 -1.5 2 -.5 1.5 1 1.5 -1 1.5 0 1.5 -.5 2 1 1.5 .5 1.5 0 1.5 -.5 1.5 2 2 -1.5 1.5 -.5 1.5 1 1.5 -1 1.5 1 2 -1 1.5 1.5 1.5 .5 1.5 -.5 1.5 -1 2 -1.5 1.5 -.5 1.5 .5 1.5 1 1.5 0 2 -.5 1.5 0 1.5 -1.5 1.5 1 1.5 -2.5 2 1 1.5 1 1.5 0 1.5 .5 1.5 3.5 2 -2.5 1.5 1.5 1.5 -2 1.5 2.5 1.5 -1.5 2 1 1.5 -1.5 1.5 1 1.5 0 1.5 -1.5 2 -.5 1.5 0 1.5 0 1.5 -1 1.5 -.5 2 1.5 1.5 -1 1.5 1 1.5 -.5 1.5 -.5 2 -2 1.5 2 1.5 1.5 1.5 -2.5 1.5 1 2 .5 1.5 -.5 1.5 -.5 1.5 -1.5 1.5 3 2 -1 1.5 .5 1.5 -2 1.5 -.5 1.5 1.5 2 0 1.5 -2 1.5 -1 1.5 2 1.5 0 2 -.5 1.5 0 1.5 1.5 1.5 -1 1.5 .5 2 -.5 1.5 -.5 1.5 -.5 1.5 2.5 1.5 -3 2 1.5 1.5 0 1.5 -1 1.5 0 1.5 -.5 2 0 1.5 -.5 1.5 0 1.5 .5 1.5 -1.5 2 -.5 1.5 -.5 1.5 -1 1.5 0 1.5 1 2 0 1.5 .5 1.5 -1.5 1.5 1.5 1.5 0 2 .5 1.5 -.5 1.5 -.5 1.5 -2 1.5 0 2 1 1.5 .5 1.5 -1.5 1.5 1 1.5 -.5 2 -1 1.5 1.5 1.5 -2.5 1.5 -.5 1.5 1 2 -1.5 1.5 1 1.5 0 1.5 -3 1.5 3 2 .5 1.5 -2.5 1.5 1 1.5 1 1.5 -1.5 2 .5 1.5 -.5 1.5 2.5 1.5 -3 1.5 0 2 .5 1.5 -1 1.5 1 1.5 -.5 1.5 0 2 -2 1.5 2 1.5 -1.5 1.5 -.5 1.5 -.5 2 1.5 1.5 -.5 1.5 -.5 1.5 .5 1.5 -1 2 -.5 1.5 3 1.5 1 1.5 3.5 1.5 1.5 2 0 1.5 3.5 1.5 3 1.5 0 1.5 1 2 -2 1.5 .5 1.5 2.5 1.5 1.5 1.5 -.5 2 -2 1.5 .5 1.5 -.5 1.5 0 1.5 2.5 2 .5 1.5 -.5 1.5 -1.5 1.5 -1 1.5 1.5 2 -.5 1.5 1 1.5 0 1.5 .5 1.5 .5 2 -1.5 1.5 1 1.5 -.5 1.5 1.5 1.5 -1 2 -1.5 1.5 2 1.5 -1 1.5 -1 1.5 2 2 -1 1.5 .5 1.5 0 1.5 -.5 1.5 .5 2 -.5 1.5 .5 1.5 0 1.5 -1.5 1.5 1 2 -.5 1.5 -1 1.5 0 1.5 -.5 1.5 0 2 -.5 1.5 0 1.5 1.5 1.5 0 1.5 1 2 -1.5 1.5 2 1.5 -1 1.5 0 1.5 0 2 2.5 1.5 -1.5 1.5 -1.5 1.5 3 1.5 -1.5 2 -2 1.5 3 1.5 -2.5 1.5 -1 1.5 1 2 0 1.5 -2 1.5 1.5 1.5 -2 1.5 -1 2 .5 1.5 -.5 1.5 0 1.5 .5 1.5 1.5 2 1 1.5 -1.5 1.5 1.5 1.5 -2.5 1.5 1 2 0 1.5 -.5 1.5 2.5 1.5 -1 1.5 -1.5 2 -.5 1.5 -.5 1.5 .5 1.5 .5 1.5 -1 2 .5 1.5 -.5 1.5 0 1.5 1 1.5 -3.5 2 5.5 1.5 .5 1.5 1.5 1.5 4 1.5 3 2 2 1.5 5 1.5 4 1.5 5.5 1.5 -2.5 2 6 1.5 -7.5 1.5 6 1.5 -4 1.5 6.5 2 -4.5 1.5 7 1.5 1.5 1.5 -.5 1.5 -1 2 0 1.5 0 1.5 -2.5 1.5 -1.5 1.5 .5 2 1 1.5 4.5 1.5 -3 1.5 -2 1.5 1.5 2 -1.5 1.5 2 1.5 -1 1.5 1 1.5 -1 2 2 1.5 1.5 1.5 -1 1.5 .5 1.5 1 2 -1.5 1.5 .5 1.5 -.5 1.5 -1 1.5 .5 2 1 1.5 -.5 1.5 -1 1.5 1.5 1.5 1.5 2 -3 1.5 -.5 1.5 0 1.5 2 1.5 0 2 1 1.5 -1 1.5 .5 1.5 .5 1.5 -1 2 0 1.5 -.5 1.5 2.5 1.5 .5 1.5 1.5 2 -3.5 1.5 1 1.5 -1.5 1.5 1 1.5 .5 2 1.5 1.5 -1.5 1.5 3 1.5 -1 1.5 -1 2 0 1.5 -.5 1.5 2 1.5 -1.5 1.5 -.5 2 1 1.5 -.5 1.5 -.5 1.5 -1.5 1.5 .5 2 -.5 1.5 2 1.5 -1 1.5 .5 1.5 -1.5 2 -.5 1.5 0 1.5 -2.5 1.5 2 1.5 -1 2 1.5 1.5 -1 1.5 1 1.5 2 1.5 0 2 -1 1.5 1 1.5 2 1.5 .5 1.5 0 2 -.5 1.5 1.5 1.5 -1 1.5 0 1.5 .5 2 -1 1.5 -.5 1.5 -1 1.5 1.5 1.5 -1.5 2 1.5 1.5 -1.5 1.5 1.5 1.5 -1 1.5 -.5 2 0 1.5 3 1.5 -1.5 1.5 1 1.5 1 2 0 1.5 -2 1.5 1 1.5 -1 1.5 1.5 2 0 1.5 0 1.5 -2 1.5 .5 1.5 -1 2 3 1.5 2.5 1.5 2 1.5 0" fill="none" stroke="#8a8a8a" stroke-width="2.0" stroke-linejoin="round" /><path d="M159,738l1.5 3 1.5 2 2 -1.5 1.5 0 1.5 -2 1.5 1.5 1.5 1 2 5 1.5 -3 1.5 1.5 1.5 -.5 1.5 2 2 -.5 1.5 -1 1.5 -.5 1.5 1.5 1.5 0 2 1.5 1.5 -1.5 1.5 -.5 1.5 -1 1.5 1.5 2 -2.5 1.5 .5 1.5 1 1.5 .5 1.5 -2.5 2 1 1.5 1.5 1.5 -3 1.5 2.5 1.5 -.5 2 .5 1.5 -1.5 1.5 1.5 1.5 0 1.5 -.5 2 2.5 1.5 -3 1.5 1 1.5 1.5 1.5 -2 2 .5 1.5 -1 1.5 2 1.5 .5 1.5 1 2 -1 1.5 -.5 1.5 1.5 1.5 1 1.5 -1.5 2 .5 1.5 0 1.5 2 1.5 -2 1.5 2.5 2 -2 1.5 0 1.5 1 1.5 -1 1.5 -1.5 2 .5 1.5 1.5 1.5 0 1.5 .5 1.5 -1 2 -.5 1.5 -.5 1.5 -1 1.5 .5 1.5 -1.5 2 .5 1.5 1.5 1.5 -.5 1.5 -.5 1.5 2 2 -1 1.5 -1 1.5 1 1.5 -.5 1.5 1 2 -1 1.5 1 1.5 -1.5 1.5 1 1.5 -1 2 1 1.5 -1 1.5 -.5 1.5 1.5 1.5 -1.5 2 0 1.5 .5 1.5 -2 1.5 1.5 1.5 0 2 .5 1.5 1 1.5 1 1.5 0 1.5 -.5 2 1.5 1.5 -2 1.5 -2 1.5 2 1.5 -1.5 2 .5 1.5 0 1.5 0 1.5 1.5 1.5 -2.5 2 -.5 1.5 2 1.5 0 1.5 0 1.5 -.5 2 0 1.5 1.5 1.5 -.5 1.5 0 1.5 -.5 2 -2 1.5 1.5 1.5 1 1.5 -1.5 1.5 0 2 2.5 1.5 -.5 1.5 0 1.5 -1.5 1.5 -.5 2 1 1.5 -3 1.5 1 1.5 2 1.5 -1 2 -1.5 1.5 .5 1.5 .5 1.5 -1.5 1.5 .5 2 -1 1.5 1 1.5 -.5 1.5 2.5 1.5 -1.5 2 .5 1.5 -.5 1.5 -2 1.5 5 1.5 1 2 3.5 1.5 2 1.5 3.5 1.5 -4.5 1.5 -4 2 .5 1.5 2 1.5 .5 1.5 2 1.5 2 2 3 1.5 -1 1.5 -6 1.5 7.5 1.5 3 2 4 1.5 -2 1.5 -2.5 1.5 3 1.5 -3.5 2 0 1.5 0 1.5 .5 1.5 -.5 1.5 -1.5 2 1.5 1.5 -1.5 1.5 .5 1.5 0 1.5 -1.5 2 -1 1.5 3 1.5 -1.5 1.5 1.5 1.5 -.5 2 -1.5 1.5 1.5 1.5 -1 1.5 3.5 1.5 -2 2 1.5 1.5 -1 1.5 2 1.5 -1.5 1.5 0 2 -1 1.5 1.5 1.5 -1.5 1.5 .5 1.5 -.5 2 -1 1.5 -.5 1.5 -2.5 1.5 2 1.5 -.5 2 1.5 1.5 -1 1.5 -.5 1.5 2 1.5 -2.5 2 -.5 1.5 1.5 1.5 -1 1.5 2 1.5 0 2 -.5 1.5 0 1.5 1.5 1.5 -1.5 1.5 2 2 -3.5 1.5 1 1.5 .5 1.5 -.5 1.5 1 2 .5 1.5 2 1.5 -2.5 1.5 .5 1.5 0 2 -.5 1.5 .5 1.5 3 1.5 -1 1.5 -.5 2 -2 1.5 1.5 1.5 -1.5 1.5 -1 1.5 .5 2 1.5 1.5 -.5 1.5 0 1.5 1 1.5 -1 2 -1.5 1.5 2.5 1.5 -2 1.5 2.5 1.5 0 2 0 1.5 1 1.5 -1.5 1.5 1 1.5 -2 2 1.5 1.5 -1 1.5 -1.5 1.5 1 1.5 0 2 -1 1.5 2.5 1.5 -2.5 1.5 2 1.5 -1 2 1.5 1.5 -1.5 1.5 1.5 1.5 0 1.5 -1.5 2 -.5 1.5 -.5 1.5 1 1.5 -.5 1.5 1.5 2 -2 1.5 .5 1.5 -.5 1.5 0 1.5 2 2 -1 1.5 1.5 1.5 1.5 1.5 0 1.5 -.5 2 .5 1.5 0 1.5 2 1.5 -1 1.5 -1 2 .5 1.5 .5 1.5 -1 1.5 -1.5 1.5 .5 2 .5 1.5 -.5 1.5 2 1.5 -2 1.5 .5 2 0 1.5 -1.5 1.5 .5 1.5 2 1.5 .5 2 .5 1.5 -2.5 1.5 2 1.5 -1 1.5 1 2 -1 1.5 -.5 1.5 0 1.5 1 1.5 1 2 -2.5 1.5 1 1.5 -1 1.5 0 1.5 1 2 -1 1.5 -1.5 1.5 2 1.5 0 1.5 2.5 2 -2.5 1.5 -1.5 1.5 2.5 1.5 -2 1.5 -1 2 2 1.5 -1 1.5 -.5 1.5 -.5 1.5 3 2 -.5 1.5 -1.5 1.5 -1 1.5 1 1.5 -2 2 4.5 1.5 -2.5 1.5 1 1.5 .5 1.5 .5 2 0 1.5 .5 1.5 1 1.5 0 1.5 -2 2 1 1.5 .5 1.5 -1.5 1.5 .5 1.5 .5 2 -2 1.5 1.5 1.5 -.5 1.5 -1 1.5 .5 2 0 1.5 .5 1.5 -2 1.5 1.5 1.5 .5 2 0 1.5 0 1.5 -2.5 1.5 .5 1.5 -1.5 2 2.5 1.5 -1 1.5 -.5 1.5 -1 1.5 0 2 -.5 1.5 1 1.5 -1 1.5 1 1.5 1.5 2 .5 1.5 -.5 1.5 1 1.5 .5 1.5 2.5 2 1 1.5 -2.5 1.5 .5 1.5 0 1.5 -1 2 -.5 1.5 -1.5 1.5 1.5 1.5 -.5 1.5 -2 2 -1 1.5 1 1.5 0 1.5 -1 1.5 -1 2 2 1.5 -.5 1.5 2 1.5 0 1.5 0 2 .5 1.5 -1 1.5 .5 1.5 -1 1.5 2 2 -2 1.5 .5 1.5 0 1.5 0 1.5 1.5 2 -1.5 1.5 -1.5 1.5 -.5 1.5 1 1.5 -2 2 .5 1.5 -.5 1.5 -.5 1.5 -1 1.5 .5 2 1 1.5 1 1.5 0 1.5 -1 1.5 .5 2 -.5 1.5 -2.5 1.5 .5 1.5 1.5 1.5 1 2 0 1.5 2 1.5 2 1.5 -1 1.5 -.5 2 .5 1.5 3 1.5 2 1.5 -1.5 1.5 -2 2 0 1.5 -2.5 1.5 1 1.5 0 1.5 -2 2 0 1.5 1 1.5 0 1.5 2 1.5 -1.5 2 2 1.5 -2 1.5 -.5 1.5 1 1.5 -1 2 .5 1.5 1 1.5 -1 1.5 0 1.5 1 2 -1 1.5 2 1.5 -2 1.5 -1 1.5 2 2 -2.5 1.5 2 1.5 .5 1.5 0 1.5 -1 2 -1.5 1.5 1.5 1.5 -1.5 1.5 -1.5 1.5 1.5 2 -1.5 1.5 2 1.5 -.5 1.5 1 1.5 -1 2 -1.5 1.5 1.5 1.5 0 1.5 1 1.5 -1.5 2 -1 1.5 0 1.5 -.5 1.5 .5 1.5 -.5 2 1 1.5 -1.5 1.5 -1 1.5 0 1.5 3 2 -.5 1.5 -2.5 1.5 1.5 1.5 .5 1.5 2 2 -2.5 1.5 -.5 1.5 0 1.5 -1 1.5 1 2 -.5 1.5 0 1.5 -1.5 1.5 1 1.5 0 2 -1.5 1.5 .5 1.5 1.5 1.5 0 1.5 -1 2 -2.5 1.5 .5 1.5 1.5 1.5 -.5 1.5 1.5 2 -.5 1.5 2 1.5 1.5 1.5 -.5 1.5 -2.5 2 .5 1.5 2 1.5 -1.5 1.5 -2 1.5 1 2 0 1.5 7.5 1.5 7 1.5 3.5 1.5 -3.5 2 .5 1.5 -1 1.5 -2 1.5 .5 1.5 1 2 6 1.5 0 1.5 1.5 1.5 2 1.5 8 2 2.5 1.5 0 1.5 -1.5 1.5 1 1.5 .5 2 2.5 1.5 -4 1.5 -1 1.5 -2 1.5 3 2 3.5 1.5 0 1.5 -5.5 1.5 1.5 1.5 -.5 2 -.5 1.5 .5 1.5 -2 1.5 .5 1.5 .5 2 3 1.5 -2 1.5 1 1.5 0 1.5 -.5 2 -.5 1.5 -3.5 1.5 3 1.5 -1.5 1.5 .5 2 .5 1.5 -1.5 1.5 1 1.5 1.5 1.5 -2 2 1.5 1.5 -2 1.5 2.5 1.5 -.5 1.5 1.5 2 .5 1.5 -.5 1.5 3.5 1.5 -.5 1.5 .5 2 -1 1.5 -.5 1.5 .5 1.5 1 1.5 -2.5 2 1 1.5 0 1.5 1.5 1.5 -1.5 1.5 1.5 2 -1.5 1.5 -.5 1.5 0 1.5 1 1.5 0 2 .5 1.5 -2 1.5 1 1.5 1.5 1.5 1 2 -1.5 1.5 .5 1.5 .5 1.5 -2 1.5 -.5 2 1 1.5 0 1.5 .5 1.5 0 1.5 -2 2 1 1.5 .5 1.5 3 1.5 -1 1.5 -.5 2 -.5 1.5 2 1.5 -1.5 1.5 -1 1.5 .5 2 .5 1.5 .5 1.5 0 1.5 -.5 1.5 1.5 2 2 1.5 -1 1.5 .5 1.5 -.5 1.5 1.5 2 0 1.5 1 1.5 1.5 1.5 -1 1.5 0 2 -1.5 1.5 1 1.5 -1 1.5 1 1.5 -.5 2 0 1.5 -.5 1.5 -1.5 1.5 1.5 1.5 1 2 0 1.5 -1.5 1.5 .5 1.5 -.5 1.5 0 2 -1 1.5 -.5 1.5 1.5 1.5 -.5 1.5 0 2 1.5 1.5 0 1.5 2 1.5 3" fill="none" stroke="#8a8a8a" stroke-width="2.0" stroke-linejoin="round" /><path d="M159,752.5l1.5 -1 1.5 -2 2 2.5 1.5 -1 1.5 1 1.5 .5 1.5 0 2 -.5 1.5 .5 1.5 3 1.5 -2 1.5 0 2 0 1.5 -1.5 1.5 2 1.5 0 1.5 -.5 2 -2 1.5 2 1.5 -.5 1.5 -.5 1.5 1 2 -.5 1.5 1.5 1.5 -.5 1.5 0 1.5 .5 2 1.5 1.5 -1.5 1.5 -1 1.5 1.5 1.5 .5 2 -1.5 1.5 3 1.5 .5 1.5 -1 1.5 0 2 -1.5 1.5 -1 1.5 .5 1.5 1 1.5 -1 2 0 1.5 2 1.5 -1 1.5 .5 1.5 -1 2 2 1.5 0 1.5 -1 1.5 -1 1.5 1.5 2 -1 1.5 .5 1.5 0 1.5 0 1.5 -.5 2 .5 1.5 1.5 1.5 .5 1.5 -2 1.5 2.5 2 1 1.5 -1.5 1.5 0 1.5 .5 1.5 2.5 2 -2.5 1.5 2 1.5 -1.5 1.5 1 1.5 -1.5 2 3 1.5 -1 1.5 .5 1.5 0 1.5 2.5 2 -3 1.5 1.5 1.5 .5 1.5 -2 1.5 1 2 0 1.5 0 1.5 0 1.5 1.5 1.5 -3 2 -1 1.5 2.5 1.5 -1 1.5 -1 1.5 2 2 0 1.5 -1 1.5 0 1.5 0 1.5 0 2 0 1.5 2.5 1.5 -2.5 1.5 .5 1.5 -1 2 .5 1.5 0 1.5 1.5 1.5 0 1.5 0 2 -1 1.5 1.5 1.5 -.5 1.5 1 1.5 -2 2 -1 1.5 1 1.5 1 1.5 0 1.5 -.5 2 -1 1.5 2.5 1.5 -2 1.5 .5 1.5 -1.5 2 .5 1.5 2 1.5 -1 1.5 -1.5 1.5 0 2 .5 1.5 -.5 1.5 1.5 1.5 -.5 1.5 .5 2 -.5 1.5 -1.5 1.5 3 1.5 0 1.5 -1.5 2 2.5 1.5 -1 1.5 2.5 1.5 -1 1.5 2 2 -1.5 1.5 -1.5 1.5 -.5 1.5 -.5 1.5 1 2 -1.5 1.5 1.5 1.5 1.5 1.5 -1.5 1.5 .5 2 -2.5 1.5 5.5 1.5 -2 1.5 .5 1.5 -1.5 2 .5 1.5 -4.5 1.5 -4 1.5 5 1.5 7 2 6 1.5 2 1.5 -3.5 1.5 -5.5 1.5 -.5 2 3.5 1.5 4 1.5 -4.5 1.5 -.5 1.5 .5 2 -2 1.5 1.5 1.5 -.5 1.5 .5 1.5 .5 2 -1 1.5 -1 1.5 0 1.5 0 1.5 -.5 2 .5 1.5 1 1.5 -.5 1.5 1.5 1.5 0 2 .5 1.5 2.5 1.5 -2 1.5 1.5 1.5 0 2 0 1.5 -2 1.5 -.5 1.5 0 1.5 -1 2 0 1.5 0 1.5 0 1.5 -.5 1.5 .5 2 -2.5 1.5 0 1.5 -.5 1.5 1.5 1.5 .5 2 -.5 1.5 0 1.5 -1.5 1.5 -.5 1.5 4 2 -2.5 1.5 .5 1.5 -.5 1.5 1 1.5 -1 2 1 1.5 -.5 1.5 0 1.5 .5 1.5 1.5 2 -.5 1.5 2 1.5 0 1.5 -.5 1.5 0 2 -2.5 1.5 .5 1.5 1 1.5 0 1.5 -1.5 2 1 1.5 0 1.5 0 1.5 1.5 1.5 -.5 2 -1.5 1.5 .5 1.5 1 1.5 0 1.5 -2.5 2 1 1.5 -.5 1.5 -1.5 1.5 4 1.5 -1 2 -.5 1.5 1.5 1.5 0 1.5 -3.5 1.5 2.5 2 -1 1.5 .5 1.5 -1 1.5 .5 1.5 3 2 -3 1.5 0 1.5 1 1.5 -1 1.5 -.5 2 0 1.5 0 1.5 -1.5 1.5 .5 1.5 -1.5 2 1.5 1.5 -.5 1.5 -.5 1.5 .5 1.5 .5 2 2 1.5 -2 1.5 1.5 1.5 -1 1.5 1 2 1.5 1.5 -2.5 1.5 .5 1.5 2 1.5 -1 2 .5 1.5 -.5 1.5 2 1.5 -2.5 1.5 -.5 2 -.5 1.5 1.5 1.5 -2 1.5 0 1.5 .5 2 0 1.5 0 1.5 .5 1.5 1 1.5 -1.5 2 1 1.5 0 1.5 -.5 1.5 -1 1.5 .5 2 2.5 1.5 -1 1.5 -.5 1.5 0 1.5 -1.5 2 2.5 1.5 0 1.5 0 1.5 -.5 1.5 1 2 -2 1.5 .5 1.5 1 1.5 -1.5 1.5 1 2 -1.5 1.5 -1 1.5 2 1.5 -1.5 1.5 .5 2 -1.5 1.5 -1 1.5 .5 1.5 .5 1.5 1 2 0 1.5 -1 1.5 2.5 1.5 -1 1.5 .5 2 -2 1.5 .5 1.5 -.5 1.5 3 1.5 -3 2 1.5 1.5 -.5 1.5 0 1.5 -.5 1.5 0 2 -1 1.5 1.5 1.5 .5 1.5 -1 1.5 1 2 -.5 1.5 -2 1.5 2 1.5 -1 1.5 1.5 2 -.5 1.5 .5 1.5 .5 1.5 0 1.5 -1.5 2 -2 1.5 1 1.5 1 1.5 0 1.5 -.5 2 .5 1.5 1.5 1.5 -4.5 1.5 1.5 1.5 0 2 .5 1.5 .5 1.5 .5 1.5 1 1.5 0 2 -1 1.5 -1 1.5 -1 1.5 2.5 1.5 1 2 -2 1.5 2 1.5 -1 1.5 0 1.5 -1 2 2 1.5 0 1.5 -2.5 1.5 1.5 1.5 0 2 0 1.5 1 1.5 -.5 1.5 1 1.5 -1 2 3 1.5 -2 1.5 -1.5 1.5 1 1.5 -1 2 .5 1.5 0 1.5 0 1.5 0 1.5 -.5 2 -.5 1.5 1 1.5 -1.5 1.5 0 1.5 .5 2 0 1.5 -2 1.5 .5 1.5 1 1.5 -.5 2 -.5 1.5 1 1.5 -.5 1.5 -.5 1.5 -1 2 1 1.5 -1.5 1.5 -.5 1.5 1 1.5 -1 2 1 1.5 -.5 1.5 .5 1.5 -1 1.5 1 2 .5 1.5 -.5 1.5 1.5 1.5 -.5 1.5 1 2 -1.5 1.5 5 1.5 0 1.5 -2 1.5 0 2 2.5 1.5 0 1.5 -1.5 1.5 -1 1.5 -1.5 2 3 1.5 -1.5 1.5 0 1.5 -.5 1.5 -.5 2 4 1.5 .5 1.5 -2.5 1.5 1.5 1.5 -1 2 0 1.5 1 1.5 1 1.5 -1.5 1.5 -2 2 .5 1.5 -2 1.5 -1 1.5 .5 1.5 0 2 -1.5 1.5 .5 1.5 .5 1.5 0 1.5 -1.5 2 0 1.5 1 1.5 1 1.5 -1 1.5 0 2 .5 1.5 -.5 1.5 2 1.5 -1.5 1.5 1 2 -1.5 1.5 0 1.5 1.5 1.5 -2 1.5 -.5 2 1.5 1.5 -1 1.5 .5 1.5 0 1.5 -1 2 0 1.5 .5 1.5 1 1.5 -1.5 1.5 -.5 2 1 1.5 0 1.5 1 1.5 -1.5 1.5 .5 2 -.5 1.5 1 1.5 -1 1.5 1.5 1.5 -.5 2 -.5 1.5 -1.5 1.5 2 1.5 .5 1.5 -2.5 2 1 1.5 -.5 1.5 -1 1.5 0 1.5 1 2 -2.5 1.5 2.5 1.5 -1 1.5 1 1.5 .5 2 -1 1.5 -.5 1.5 -.5 1.5 3 1.5 -1.5 2 0 1.5 1 1.5 2.5 1.5 -.5 1.5 -1.5 2 -.5 1.5 .5 1.5 -.5 1.5 1 1.5 -1 2 1 1.5 -.5 1.5 -1.5 1.5 1 1.5 1 2 6.5 1.5 -.5 1.5 5 1.5 .5 1.5 .5 2 2 1.5 0 1.5 3 1.5 1 1.5 -2 2 4 1.5 3.5 1.5 2.5 1.5 3 1.5 1.5 2 -2.5 1.5 -2 1.5 -.5 1.5 3 1.5 3 2 3.5 1.5 -7 1.5 -4.5 1.5 -1.5 1.5 8.5 2 1.5 1.5 -4.5 1.5 .5 1.5 -.5 1.5 0 2 1 1.5 -.5 1.5 1 1.5 1.5 1.5 -3 2 -.5 1.5 0 1.5 .5 1.5 -.5 1.5 -2 2 2 1.5 -1 1.5 -.5 1.5 1 1.5 -2 2 1 1.5 1 1.5 .5 1.5 -.5 1.5 -.5 2 .5 1.5 1.5 1.5 1 1.5 -1 1.5 -.5 2 0 1.5 1 1.5 -1.5 1.5 1 1.5 0 2 1.5 1.5 -1 1.5 1 1.5 0 1.5 -1 2 1 1.5 -1 1.5 3.5 1.5 -.5 1.5 -1 2 .5 1.5 1.5 1.5 -1 1.5 .5 1.5 0 2 2 1.5 .5 1.5 -.5 1.5 1.5 1.5 -2 2 1.5 1.5 .5 1.5 0 1.5 -3 1.5 1 2 2 1.5 -1 1.5 -2.5 1.5 1.5 1.5 -.5 2 -.5 1.5 .5 1.5 -.5 1.5 1.5 1.5 -2 2 2 1.5 1 1.5 -2 1.5 .5 1.5 -1.5 2 3 1.5 -.5 1.5 1 1.5 -1.5 1.5 1 2 1 1.5 -1.5 1.5 .5 1.5 1 1.5 -2.5 2 3 1.5 -1.5 1.5 0 1.5 1.5 1.5 -.5 2 -1 1.5 0 1.5 0 1.5 2 1.5 0 2 -1.5 1.5 0 1.5 0 1.5 1 1.5 0 2 -.5 1.5 .5 1.5 -.5 1.5 1 1.5 -.5 2 .5 1.5 -1 1.5 1 1.5 1 1.5 .5 2 2.5 1.5 -.5 1.5 .5 1.5 .5" fill="none" stroke="#8a8a8a" stroke-width="2.0" stroke-linejoin="round" /><path d="M159,759.5l1.5 2.5 1.5 2 2 0 1.5 1 1.5 -2 1.5 -.5 1.5 3.5 2 3 1.5 -1.5 1.5 1.5 1.5 -1.5 1.5 -1 2 1.5 1.5 1.5 1.5 1 1.5 -3.5 1.5 .5 2 -.5 1.5 .5 1.5 -5 1.5 4 1.5 -1 2 0 1.5 -1.5 1.5 1.5 1.5 0 1.5 -1.5 2 2.5 1.5 0 1.5 -1 1.5 3 1.5 -.5 2 1 1.5 -1.5 1.5 0 1.5 -.5 1.5 -1.5 2 3 1.5 -.5 1.5 -.5 1.5 1 1.5 .5 2 1.5 1.5 -2 1.5 0 1.5 -2 1.5 .5 2 1.5 1.5 .5 1.5 -.5 1.5 .5 1.5 0 2 -1.5 1.5 -3 1.5 2.5 1.5 0 1.5 0 2 2 1.5 -1.5 1.5 -2 1.5 .5 1.5 1.5 2 -.5 1.5 1 1.5 0 1.5 -.5 1.5 0 2 -1.5 1.5 0 1.5 2 1.5 .5 1.5 .5 2 -.5 1.5 -.5 1.5 1 1.5 0 1.5 1 2 -2 1.5 1 1.5 -.5 1.5 1.5 1.5 1.5 2 -.5 1.5 0 1.5 2 1.5 -2 1.5 1.5 2 -.5 1.5 -2.5 1.5 2 1.5 -1 1.5 -1 2 1 1.5 -.5 1.5 0 1.5 -.5 1.5 1 2 -1 1.5 -1 1.5 -.5 1.5 1 1.5 1.5 2 -2 1.5 -1 1.5 -.5 1.5 .5 1.5 0 2 -.5 1.5 -.5 1.5 -1 1.5 1.5 1.5 -2 2 -.5 1.5 2.5 1.5 -.5 1.5 .5 1.5 -.5 2 .5 1.5 -1.5 1.5 .5 1.5 -.5 1.5 3 2 -1 1.5 -1 1.5 1.5 1.5 -.5 1.5 -1.5 2 1.5 1.5 -1 1.5 -.5 1.5 2 1.5 2 2 -2 1.5 -1 1.5 -2 1.5 1.5 1.5 -1.5 2 -1 1.5 1 1.5 .5 1.5 -2 1.5 2.5 2 -1.5 1.5 .5 1.5 -.5 1.5 2 1.5 -.5 2 1 1.5 -1 1.5 -5.5 1.5 1.5 1.5 6 2 -2 1.5 .5 1.5 0 1.5 -1 1.5 2.5 2 0 1.5 2.5 1.5 -5.5 1.5 5 1.5 -1 2 2.5 1.5 -.5 1.5 -2 1.5 -.5 1.5 -4.5 2 .5 1.5 3 1.5 2 1.5 2 1.5 -.5 2 1.5 1.5 .5 1.5 -1.5 1.5 1 1.5 -1 2 1.5 1.5 1 1.5 -1 1.5 -1.5 1.5 1 2 1 1.5 -2 1.5 -1.5 1.5 1.5 1.5 -2 2 1.5 1.5 -1.5 1.5 -1 1.5 1.5 1.5 .5 2 -1 1.5 0 1.5 -1 1.5 1.5 1.5 -.5 2 1 1.5 0 1.5 -.5 1.5 -.5 1.5 .5 2 0 1.5 -.5 1.5 -.5 1.5 2 1.5 0 2 -1 1.5 0 1.5 -1 1.5 -.5 1.5 1 2 -1.5 1.5 1.5 1.5 .5 1.5 -3 1.5 .5 2 0 1.5 1.5 1.5 -1 1.5 1 1.5 -2 2 1.5 1.5 1.5 1.5 -1.5 1.5 1.5 1.5 0 2 0 1.5 1.5 1.5 -.5 1.5 -1.5 1.5 -1.5 2 3.5 1.5 -2.5 1.5 0 1.5 -1.5 1.5 2 2 -1 1.5 -1 1.5 1 1.5 -1 1.5 1.5 2 .5 1.5 0 1.5 .5 1.5 -2 1.5 2.5 2 -1.5 1.5 2.5 1.5 -1 1.5 0 1.5 .5 2 0 1.5 -1.5 1.5 .5 1.5 .5 1.5 1 2 -.5 1.5 -.5 1.5 -1 1.5 -.5 1.5 1 2 0 1.5 -2.5 1.5 .5 1.5 1.5 1.5 .5 2 0 1.5 -.5 1.5 -.5 1.5 2.5 1.5 -1.5 2 -1 1.5 1.5 1.5 0 1.5 1 1.5 -.5 2 -.5 1.5 1.5 1.5 -3 1.5 1.5 1.5 2.5 2 -2.5 1.5 0 1.5 -.5 1.5 2 1.5 1 2 -2 1.5 0 1.5 1 1.5 -1 1.5 .5 2 -.5 1.5 -2 1.5 0 1.5 -1.5 1.5 0 2 .5 1.5 1.5 1.5 -1 1.5 -.5 1.5 1 2 -.5 1.5 -1 1.5 1.5 1.5 .5 1.5 1 2 -2 1.5 2.5 1.5 .5 1.5 -1 1.5 -1.5 2 1 1.5 -.5 1.5 -2 1.5 .5 1.5 0 2 -.5 1.5 -1 1.5 -.5 1.5 1 1.5 -.5 2 -3 1.5 2.5 1.5 -1 1.5 2 1.5 1 2 -1.5 1.5 0 1.5 1.5 1.5 -2 1.5 .5 2 0 1.5 0 1.5 .5 1.5 2.5 1.5 -3 2 .5 1.5 .5 1.5 1.5 1.5 -1 1.5 .5 2 0 1.5 0 1.5 1 1.5 -2.5 1.5 1.5 2 -1 1.5 1 1.5 -1 1.5 -1.5 1.5 1 2 -.5 1.5 -.5 1.5 0 1.5 0 1.5 3 2 -3 1.5 .5 1.5 0 1.5 -1 1.5 -2.5 2 3 1.5 0 1.5 1 1.5 -2 1.5 .5 2 1 1.5 -1.5 1.5 1.5 1.5 -1.5 1.5 2.5 2 1.5 1.5 -.5 1.5 -1 1.5 .5 1.5 -1.5 2 1.5 1.5 0 1.5 0 1.5 .5 1.5 1 2 0 1.5 -2 1.5 -1.5 1.5 2 1.5 0 2 0 1.5 .5 1.5 -1 1.5 1.5 1.5 -1.5 2 .5 1.5 0 1.5 -1 1.5 0 1.5 .5 2 .5 1.5 0 1.5 .5 1.5 1 1.5 -.5 2 1 1.5 -1 1.5 0 1.5 0 1.5 1.5 2 -1.5 1.5 1 1.5 1 1.5 .5 1.5 -1.5 2 1 1.5 -1 1.5 -.5 1.5 -.5 1.5 1 2 -2 1.5 1 1.5 -2 1.5 -1 1.5 2 2 .5 1.5 -1.5 1.5 1 1.5 .5 1.5 0 2 .5 1.5 -1 1.5 1 1.5 0 1.5 -2 2 1.5 1.5 -.5 1.5 -1 1.5 1.5 1.5 1.5 2 -1 1.5 -1 1.5 1.5 1.5 -1.5 1.5 -1 2 .5 1.5 -4.5 1.5 5 1.5 -.5 1.5 3 2 -4 1.5 2 1.5 -.5 1.5 1 1.5 -.5 2 0 1.5 .5 1.5 .5 1.5 .5 1.5 0 2 -.5 1.5 .5 1.5 0 1.5 0 1.5 -.5 2 -.5 1.5 -1.5 1.5 1.5 1.5 -2.5 1.5 1 2 -1 1.5 .5 1.5 -1.5 1.5 2 1.5 0 2 -.5 1.5 -.5 1.5 1 1.5 -1 1.5 -2 2 3.5 1.5 0 1.5 .5 1.5 1.5 1.5 -1 2 0 1.5 -1.5 1.5 1 1.5 0 1.5 1 2 -.5 1.5 .5 1.5 -.5 1.5 -.5 1.5 0 2 -.5 1.5 1.5 1.5 0 1.5 0 1.5 0 2 -.5 1.5 .5 1.5 -1 1.5 1 1.5 -.5 2 -.5 1.5 -1.5 1.5 1.5 1.5 -1 1.5 -1 2 2.5 1.5 0 1.5 -1 1.5 1 1.5 1 2 0 1.5 -.5 1.5 -1 1.5 -1.5 1.5 2.5 2 -1 1.5 3 1.5 -2 1.5 -.5 1.5 .5 2 -.5 1.5 -.5 1.5 2.5 1.5 -.5 1.5 .5 2 .5 1.5 .5 1.5 0 1.5 0 1.5 -1 2 .5 1.5 -.5 1.5 -1.5 1.5 -1 1.5 1.5 2 0 1.5 2 1.5 4.5 1.5 0 1.5 0 2 1 1.5 4.5 1.5 -1.5 1.5 3 1.5 0 2 3 1.5 2.5 1.5 -2 1.5 1 1.5 -7 2 7 1.5 1.5 1.5 10.5 1.5 1 1.5 1.5 2 -5.5 1.5 1.5 1.5 .5 1.5 -.5 1.5 -6.5 2 -2.5 1.5 5.5 1.5 -2 1.5 2 1.5 .5 2 -2 1.5 0 1.5 0 1.5 1.5 1.5 0 2 -2.5 1.5 1.5 1.5 .5 1.5 -2 1.5 1 2 0 1.5 -.5 1.5 1 1.5 .5 1.5 0 2 -1.5 1.5 0 1.5 -.5 1.5 0 1.5 1 2 .5 1.5 -.5 1.5 -.5 1.5 1 1.5 -.5 2 -.5 1.5 0 1.5 1.5 1.5 -.5 1.5 1 2 -.5 1.5 -.5 1.5 .5 1.5 .5 1.5 -1 2 .5 1.5 .5 1.5 0 1.5 0 1.5 .5 2 .5 1.5 1 1.5 .5 1.5 -.5 1.5 1 2 -1.5 1.5 2 1.5 1 1.5 -1 1.5 -1.5 2 2 1.5 .5 1.5 -.5 1.5 .5 1.5 -1 2 2.5 1.5 -1 1.5 -1.5 1.5 .5 1.5 .5 2 -1 1.5 1 1.5 0 1.5 1 1.5 -2 2 1.5 1.5 1.5 1.5 -.5 1.5 0 1.5 1 2 -.5 1.5 -.5 1.5 0 1.5 1.5 1.5 -1.5 2 0 1.5 -.5 1.5 1 1.5 -.5 1.5 -1 2 .5 1.5 2.5 1.5 -3.5 1.5 1.5 1.5 -1.5 2 1.5 1.5 1 1.5 -.5 1.5 0 1.5 1 2 -.5 1.5 2.5 1.5 -.5 1.5 -1.5 1.5 -.5 2 1 1.5 1.5 1.5 -2.5 1.5 3 1.5 -1 2 -.5 1.5 1 1.5 .5 1.5 -1 1.5 0 2 2.5 1.5 1.5 1.5 1.5 1.5 1" fill="none" stroke="#8a8a8a" stroke-width="2.0" stroke-linejoin="round" /><path d="M159,766.5l1.5 .5 1.5 6 2 0 1.5 0 1.5 2 1.5 0 1.5 -1 2 .5 1.5 -.5 1.5 1 1.5 -1 1.5 -1.5 2 1.5 1.5 -1.5 1.5 -1 1.5 2 1.5 -2.5 2 -.5 1.5 -1 1.5 .5 1.5 .5 1.5 3 2 -.5 1.5 -1.5 1.5 0 1.5 .5 1.5 -1 2 1 1.5 0 1.5 2.5 1.5 -1.5 1.5 -1.5 2 0 1.5 .5 1.5 -2 1.5 1 1.5 .5 2 -.5 1.5 .5 1.5 0 1.5 4 1.5 -4.5 2 1.5 1.5 0 1.5 2.5 1.5 -3 1.5 3 2 -2 1.5 0 1.5 -.5 1.5 0 1.5 1 2 0 1.5 0 1.5 -1.5 1.5 1.5 1.5 -1 2 -1 1.5 1 1.5 .5 1.5 -1 1.5 2 2 -3 1.5 2 1.5 0 1.5 1 1.5 0 2 .5 1.5 -1 1.5 1.5 1.5 .5 1.5 -3 2 1.5 1.5 .5 1.5 0 1.5 1 1.5 -1.5 2 -2.5 1.5 2 1.5 .5 1.5 -2 1.5 3.5 2 -2.5 1.5 0 1.5 -.5 1.5 1.5 1.5 -2 2 -1 1.5 2 1.5 -2.5 1.5 1.5 1.5 -.5 2 .5 1.5 .5 1.5 .5 1.5 -.5 1.5 -.5 2 -.5 1.5 -.5 1.5 1.5 1.5 -2 1.5 1 2 0 1.5 -.5 1.5 .5 1.5 -1.5 1.5 0 2 3.5 1.5 -4 1.5 .5 1.5 -2.5 1.5 2 2 0 1.5 -1 1.5 2.5 1.5 .5 1.5 -1.5 2 2 1.5 -1 1.5 -1 1.5 -1 1.5 1 2 .5 1.5 0 1.5 -2 1.5 0 1.5 -1 2 .5 1.5 .5 1.5 -3 1.5 1 1.5 1 2 -1.5 1.5 1 1.5 1 1.5 -.5 1.5 1 2 -1.5 1.5 -.5 1.5 -.5 1.5 1.5 1.5 0 2 .5 1.5 -.5 1.5 .5 1.5 1.5 1.5 -2 2 -.5 1.5 -1.5 1.5 -1 1.5 1 1.5 -3 2 -.5 1.5 3 1.5 5 1.5 -2.5 1.5 2.5 2 2 1.5 -1.5 1.5 -.5 1.5 -3.5 1.5 8 2 -2 1.5 5.5 1.5 -4.5 1.5 -1.5 1.5 .5 2 -1.5 1.5 2.5 1.5 0 1.5 0 1.5 -2.5 2 3 1.5 -1.5 1.5 .5 1.5 -1.5 1.5 1.5 2 -1 1.5 3 1.5 -2 1.5 1.5 1.5 .5 2 0 1.5 0 1.5 -.5 1.5 -1 1.5 .5 2 -.5 1.5 .5 1.5 -1 1.5 1 1.5 -.5 2 0 1.5 0 1.5 .5 1.5 -.5 1.5 1 2 .5 1.5 -.5 1.5 .5 1.5 0 1.5 2 2 -2 1.5 2 1.5 -1 1.5 0 1.5 1.5 2 -1.5 1.5 1 1.5 -1 1.5 .5 1.5 -1 2 2 1.5 -.5 1.5 2.5 1.5 -3 1.5 .5 2 1 1.5 .5 1.5 0 1.5 -.5 1.5 -.5 2 1 1.5 0 1.5 .5 1.5 -.5 1.5 1.5 2 -1 1.5 1 1.5 .5 1.5 -1 1.5 0 2 -.5 1.5 .5 1.5 2 1.5 .5 1.5 -1 2 1.5 1.5 -1 1.5 0 1.5 2 1.5 -1.5 2 0 1.5 0 1.5 .5 1.5 -.5 1.5 1.5 2 -.5 1.5 1.5 1.5 -2.5 1.5 -1 1.5 1 2 -.5 1.5 3 1.5 -.5 1.5 1 1.5 0 2 1 1.5 -1.5 1.5 2 1.5 -1 1.5 0 2 1 1.5 0 1.5 0 1.5 -1 1.5 .5 2 -2 1.5 .5 1.5 1.5 1.5 -.5 1.5 0 2 -2.5 1.5 1 1.5 -.5 1.5 2.5 1.5 -1.5 2 1.5 1.5 1 1.5 0 1.5 0 1.5 .5 2 -1 1.5 1 1.5 .5 1.5 1.5 1.5 0 2 1 1.5 -1.5 1.5 0 1.5 1.5 1.5 .5 2 -2 1.5 1.5 1.5 -.5 1.5 0 1.5 .5 2 .5 1.5 -1.5 1.5 0 1.5 1.5 1.5 1 2 -1.5 1.5 1.5 1.5 0 1.5 .5 1.5 -1 2 .5 1.5 0 1.5 1.5 1.5 -.5 1.5 -.5 2 .5 1.5 0 1.5 -1 1.5 1 1.5 -1 2 2 1.5 -3 1.5 1 1.5 -1 1.5 1 2 -1 1.5 1.5 1.5 1 1.5 .5 1.5 0 2 -.5 1.5 2.5 1.5 -2 1.5 3 1.5 -1 2 .5 1.5 -1 1.5 1 1.5 0 1.5 .5 2 -1 1.5 2 1.5 -.5 1.5 -.5 1.5 1 2 -1.5 1.5 .5 1.5 0 1.5 -1 1.5 -.5 2 0 1.5 -2.5 1.5 2 1.5 0 1.5 -2.5 2 -.5 1.5 1 1.5 .5 1.5 -2 1.5 .5 2 1.5 1.5 -2.5 1.5 -1 1.5 1 1.5 3 2 -2 1.5 0 1.5 0 1.5 -1 1.5 .5 2 -1 1.5 1 1.5 -2.5 1.5 .5 1.5 -.5 2 1 1.5 -2.5 1.5 1 1.5 -2 1.5 .5 2 -.5 1.5 0 1.5 .5 1.5 -3 1.5 3 2 -.5 1.5 -1 1.5 1 1.5 -1.5 1.5 2 2 -1 1.5 -1 1.5 0 1.5 .5 1.5 -2 2 2 1.5 -1.5 1.5 1 1.5 -.5 1.5 .5 2 .5 1.5 -1 1.5 0 1.5 .5 1.5 1 2 -1 1.5 1 1.5 -2 1.5 .5 1.5 0 2 0 1.5 -.5 1.5 1.5 1.5 -.5 1.5 0 2 -2 1.5 1.5 1.5 -2 1.5 1.5 1.5 .5 2 -2 1.5 1.5 1.5 -3.5 1.5 2 1.5 -3 2 1 1.5 -.5 1.5 .5 1.5 -.5 1.5 -.5 2 0 1.5 0 1.5 -.5 1.5 -1.5 1.5 -.5 2 -2 1.5 0 1.5 3.5 1.5 -8 1.5 2 2 -1 1.5 -1.5 1.5 -2 1.5 .5 1.5 2.5 2 -2 1.5 0 1.5 2 1.5 0 1.5 -1.5 2 -.5 1.5 1 1.5 .5 1.5 -1.5 1.5 1 2 2.5 1.5 -2 1.5 -1 1.5 .5 1.5 -1 2 -.5 1.5 -1 1.5 2.5 1.5 -1 1.5 .5 2 2 1.5 -1 1.5 -2 1.5 1 1.5 1 2 -1 1.5 2.5 1.5 .5 1.5 -2 1.5 1 2 -1 1.5 1.5 1.5 -1.5 1.5 3.5 1.5 -2 2 -1 1.5 0 1.5 2.5 1.5 0 1.5 0 2 0 1.5 2 1.5 -1 1.5 -1.5 1.5 1 2 0 1.5 .5 1.5 2 1.5 -2.5 1.5 -1.5 2 2 1.5 -1.5 1.5 -1 1.5 1 1.5 2.5 2 -1 1.5 1.5 1.5 -1.5 1.5 1 1.5 -1.5 2 1 1.5 -.5 1.5 1.5 1.5 .5 1.5 0 2 -1.5 1.5 .5 1.5 -1 1.5 .5 1.5 -1 2 1.5 1.5 1.5 1.5 -2 1.5 .5 1.5 0 2 -.5 1.5 1.5 1.5 -1 1.5 .5 1.5 .5 2 -1 1.5 2 1.5 -.5 1.5 -1 1.5 .5 2 .5 1.5 -.5 1.5 -2.5 1.5 1.5 1.5 0 2 -2 1.5 2 1.5 -.5 1.5 -.5 1.5 -4 2 4 1.5 .5 1.5 3.5 1.5 5 1.5 -.5 2 0 1.5 -.5 1.5 4.5 1.5 .5 1.5 -.5 2 .5 1.5 8 1.5 -5 1.5 -.5 1.5 .5 2 5.5 1.5 0 1.5 1 1.5 .5 1.5 -.5 2 -1 1.5 -1 1.5 .5 1.5 1.5 1.5 2 2 1 1.5 -7 1.5 2.5 1.5 2 1.5 -1.5 2 0 1.5 1 1.5 -2 1.5 .5 1.5 1 2 -1 1.5 -.5 1.5 -.5 1.5 2.5 1.5 -.5 2 0 1.5 2 1.5 0 1.5 0 1.5 -1 2 -.5 1.5 1 1.5 1 1.5 0 1.5 -.5 2 .5 1.5 -.5 1.5 -2 1.5 1 1.5 1 2 -2 1.5 1 1.5 0 1.5 1 1.5 -.5 2 1 1.5 -1 1.5 0 1.5 2.5 1.5 -.5 2 1.5 1.5 -1.5 1.5 1.5 1.5 -2.5 1.5 1.5 2 -1 1.5 -.5 1.5 1 1.5 -1.5 1.5 2 2 1 1.5 -.5 1.5 .5 1.5 1 1.5 -3 2 1.5 1.5 0 1.5 -.5 1.5 -2 1.5 2 2 .5 1.5 -.5 1.5 .5 1.5 1 1.5 1.5 2 -2.5 1.5 2.5 1.5 -1.5 1.5 .5 1.5 0 2 0 1.5 1.5 1.5 .5 1.5 -1 1.5 -1 2 0 1.5 0 1.5 1.5 1.5 -.5 1.5 .5 2 0 1.5 .5 1.5 0 1.5 2 1.5 -.5 2 -1 1.5 1 1.5 .5 1.5 -1 1.5 2.5 2 -1 1.5 -.5 1.5 1 1.5 0 1.5 -1 2 1.5 1.5 -.5 1.5 3 1.5 -1.5 1.5 1 2 -.5 1.5 -1.5 1.5 .5 1.5 1.5 1.5 .5 2 -2.5 1.5 3 1.5 -3 1.5 1.5 1.5 1.5 2 0 1.5 1 1.5 2 1.5 3.5" fill="none" stroke="#8a8a8a" stroke-width="2.0" stroke-linejoin="round" /><path d="M154,670.5l2 5 1.5 -3.5 2 2 1.5 -3 2 -4.5 2 -4.5 1.5 -2.5 2 -1 1.5 -3 2 .5 2 -1 1.5 1 2 .5 1.5 -1 2 1 2 0 1.5 -1 2 -1 1.5 0 2 1.5 2 -.5 1.5 -.5 2 -3.5 1.5 3.5 2 1 2 -1.5 1.5 -.5 2 1 1.5 -1.5 2 3 2 -2.5 1.5 -.5 2 3 1.5 0 2 0 2 -1.5 1.5 1.5 2 -3.5 1.5 -1 2 5.5 2 -2 1.5 -1.5 2 -3.5 1.5 6.5 2 -3.5 2 4.5 1.5 -1.5 2 -2.5 1.5 2 2 -1 2 0 1.5 0 2 2.5 1.5 -3.5 2 -2 2 -1 1.5 7 2 -1.5 1.5 -1 2 -1 2 0 1.5 3.5 2 -1.5 1.5 1.5 2 -1.5 2 1.5 1.5 -.5 2 -3.5 1.5 2.5 2 1 2 -2.5 1.5 1 2 2 1.5 -3.5 2 3 2 1 1.5 -3 2 3 1.5 1 2 -2.5 2 0 1.5 -.5 2 -1 1.5 1.5 2 -1 2 -1 1.5 0 2 0 1.5 -1 2 -2.5 2 2.5 1.5 1.5 2 -.5 1.5 -1 2 1.5 2 1 1.5 -1.5 2 -2 1.5 0 2 2 2 0 1.5 1 2 -.5 1.5 0 2 -5 2 3.5 1.5 -1 2 1 1.5 -1.5 2 0 2 -2.5 1.5 .5 2 .5 1.5 0 2 -3 2 1.5 1.5 2 2 -2 1.5 2 2 .5 2 -.5 1.5 -3.5 2 4 1.5 -2.5 2 2 2 -1.5 1.5 -.5 2 2.5 1.5 .5 2 -3 2 .5 1.5 -2 2 -.5 1.5 -4 2 2.5 2 2.5 1.5 -.5 2 3 1.5 6.5 2 16 2 12 1.5 12 2 5.5 1.5 -1 2 -1.5 2 -2.5 1.5 -5.5 2 1.5 1.5 2 2 -1.5 2 3 1.5 .5 2 2 1.5 2.5 2 -.5 2 -1.5 1.5 2.5 2 .5 1.5 -4.5 2 .5 2 2 1.5 0 2 -1 1.5 3 2 -2 2 2 1.5 -2 2 2 1.5 0 2 -1.5 2 1.5 1.5 .5 2 -3 1.5 1.5 2 -.5 2 .5 1.5 0 2 -2 1.5 -2 2 3 2 -.5 1.5 0 2 0 1.5 0 2 1 2 -1 1.5 0 2 1 1.5 -3.5 2 -1 2 5 1.5 -.5 2 .5 1.5 -2 2 -.5 2 2.5 1.5 -.5 2 1 1.5 -2.5 2 2 2 -1 1.5 1 2 .5 1.5 -.5 2 -4.5 2 4.5 1.5 -1.5 2 2 1.5 -1 2 1.5 2 -1 1.5 -.5 2 1.5 1.5 -4.5 2 4 2 .5 1.5 -1 2 2.5 1.5 -2 2 1 2 .5 1.5 -.5 2 .5 1.5 .5 2 -.5 2 1 1.5 -2 2 -.5 1.5 -.5 2 2 2 -.5 1.5 2 2 -2 1.5 1.5 2 0 2 -.5 1.5 0 2 -.5 1.5 2 2 -2.5 2 2.5 1.5 -1 2 1.5 1.5 -4 2 4.5 2 -1.5 1.5 -1 2 2 1.5 1 2 -1.5 2 .5 1.5 1 2 -1 1.5 1 2 -1 2 1 1.5 -1.5 2 2 1.5 -2 2 1.5 2 0 1.5 0 2 -1 1.5 -1.5 2 1 2 -.5 1.5 0 2 -1 1.5 0 2 -.5 2 .5 1.5 .5 2 -1.5 1.5 -1.5 2 1.5 2 .5 1.5 -.5 2 2 1.5 -.5 2 -.5 2 -3 1.5 2 2 0 1.5 -1 2 -1 2 0 1.5 -.5 2 .5 1.5 -1.5 2 -1 2 2 1.5 -1 2 -.5 1.5 -.5 2 -1.5 2 0 1.5 1.5 2 .5 1.5 -2 2 -1 2 1 1.5 1 2 -.5 1.5 -.5 2 1.5 2 0 1.5 -.5 2 -1 1.5 -1 2 -6 2 4 1.5 1.5 2 -2.5 1.5 2.5 2 1 2 -.5 1.5 .5 2 -2.5 1.5 1.5 2 -1 2 2.5 1.5 1 2 0 1.5 -1.5 2 1.5 2 -.5 1.5 -2.5 2 -1 1.5 3.5 2 -1 2 -1 1.5 -3.5 2 3 1.5 2 2 .5 2 0 1.5 -1 2 -.5 1.5 1 2 0 2 -.5 1.5 .5 2 -1.5 1.5 0 2 -1 2 1 1.5 -1.5 2 1.5 1.5 -.5 2 -.5 2 2 1.5 -1 2 -1 1.5 2.5 2 -1.5 2 .5 1.5 -1 2 -1.5 1.5 -1 2 .5 2 -3 1.5 3.5 2 -.5 1.5 -1 2 3.5 2 -.5 1.5 0 2 0 1.5 .5 2 -5 2 5 1.5 -2 2 1 1.5 -.5 2 -2.5 2 4 1.5 -.5 2 .5 1.5 -1 2 0 2 -.5 1.5 1 2 0 1.5 -2 2 -.5 2 0 1.5 0 2 -2 1.5 -3 2 -1.5 2 1 1.5 2 2 5 1.5 3 2 1 2 5.5 1.5 -.5 2 1 1.5 1.5 2 .5 2 -2 1.5 1.5 2 -1 1.5 1.5 2 -1.5 2 1 1.5 -1 2 -2.5 1.5 -1.5 2 3.5 2 1.5 1.5 -3.5 2 2 1.5 -2.5 2 2.5 2 .5 1.5 -2 2 1 1.5 1 2 1.5 2 -2 1.5 .5 2 .5 1.5 0 2 -.5 2 -6.5 1.5 6 2 -5 1.5 4.5 2 -5 2 4 1.5 -1 2 -.5 1.5 -.5 2 1 2 -1 1.5 .5 2 -2.5 1.5 3.5 2 -.5 2 0 1.5 -1 2 1.5 1.5 -1.5 2 1.5 2 0 1.5 -2 2 -2.5 1.5 2.5 2 0 2 0 1.5 1.5 2 .5 1.5 -3.5 2 .5 2 -2 1.5 4 2 -3 1.5 2.5 2 0 2 0 1.5 -1 2 -.5 1.5 -.5 2 .5 2 -2.5 1.5 -1.5 2 5.5 1.5 -3 2 2 2 -2.5 1.5 -1.5 2 4 1.5 -1.5 2 -2.5 2 1 1.5 -3.5 2 3 1.5 1 2 -4 2 4 1.5 -2.5 2 1 1.5 3 2 2 2 1.5 1.5 -.5 2 -2 1.5 2.5 2 7.5 2 .5 1.5 4.5 2 -1 1.5 6 2 1 2 3 1.5 4 2 -1 1.5 1.5 2 3 2 -.5 1.5 0 2 -1.5 1.5 1.5 2 .5 2 -3.5 1.5 3 2 .5 1.5 -3 2 0 2 3 1.5 -.5 2 1 1.5 0 2 -3.5 2 .5 1.5 3.5 2 0 1.5 -1 2 1 2 -.5 1.5 1.5 2 -.5 1.5 -1 2 2.5 2 -3.5 1.5 3 2 -1 1.5 1.5 2 -4 2 2 1.5 3.5 2 -.5 1.5 -.5 2 -2 2 2.5 1.5 1 2 -3 1.5 3.5 2 -2.5 2 1.5 1.5 -.5 2 -3.5 1.5 4 2 -3 2 2 1.5 0 2 1 1.5 1 2 .5 2 -.5 1.5 -3 2 3.5 1.5 .5 2 -1 2 -1.5 1.5 3.5 2 -1 1.5 1.5 2 -2 2 -.5 1.5 .5 2 -.5 1.5 .5 2 0 2 -.5 1.5 -2 2 1 1.5 -3 2 2.5 2 -2.5 1.5 2.5 2 -1 1.5 1.5 2 -1.5 2 2 1.5 -2 2 1.5 1.5 0 2 -1 2 2 1.5 1 2 0 1.5 0 2 -2.5 2 0 1.5 0 2 0 1.5 1 2 -2 2 1.5 1.5 1 2 -1 1.5 -.5 2 1 2 2.5 1.5 -.5 2 2 1.5 3 2 2.5 2 5.5 1.5 2 2 5.5 1.5 8 2 5.5 0 15 -2 -8 -1.5 -6.5 -2 -6 -1.5 -.5 -2 -7.5 -2 -3.5 -1.5 -1.5 -2 1.5 -1.5 -3 -2 -3.5 -2 1 -1.5 -1.5 -2 0 -1.5 -.5 -2 0 -2 0 -1.5 -1 -2 3 -1.5 1 -2 -2 -2 1.5 -1.5 1.5 -2 -1 -1.5 -2.5 -2 .5 -2 -1 -1.5 3.5 -2 -2 -1.5 -1 -2 -.5 -2 1.5 -1.5 -.5 -2 -.5 -1.5 -1 -2 .5 -2 -1.5 -1.5 .5 -2 .5 -1.5 0 -2 2 -2 -1 -1.5 3.5 -2 -1.5 -1.5 .5 -2 2.5 -2 -3 -1.5 -.5 -2 .5 -1.5 2 -2 -3 -2 1.5 -1.5 -.5 -2 -1 -1.5 -.5 -2 .5 -2 -.5 -1.5 .5 -2 0 -1.5 -1.5 -2 3.5 -2 -3.5 -1.5 1 -2 -.5 -1.5 .5 -2 -1.5 -2 1 -1.5 -.5 -2 0 -1.5 0 -2 0 -2 1 -1.5 0 -2 -2 -1.5 0 -2 0 -2 0 -1.5 -.5 -2 -.5 -1.5 0 -2 1.5 -2 -1 -1.5 -1 -2 2.5 -1.5 -3 -2 -.5 -2 3 -1.5 -3 -2 .5 -1.5 0 -2 0 -2 -2 -1.5 .5 -2 .5 -1.5 -.5 -2 2 -2 -1 -1.5 0 -2 .5 -1.5 0 -2 -1.5 -2 1 -1.5 -1.5 -2 3 -1.5 -4 -2 2 -2 0 -1.5 -2.5 -2 -2 -1.5 -1 -2 -1.5 -2 -3.5 -1.5 -4 -2 -.5 -1.5 -3.5 -2 0 -2 -5.5 -1.5 1 -2 -2 -1.5 -2.5 -2 -3.5 -2 -2 -1.5 -1 -2 -1.5 -1.5 3 -2 .5 -2 -2.5 -1.5 1.5 -2 -1 -1.5 3 -2 -2.5 -2 1 -1.5 -.5 -2 2 -1.5 -2 -2 2 -2 0 -1.5 1.5 -2 -2 -1.5 0 -2 0 -2 -.5 -1.5 1 -2 -1 -1.5 3 -2 -1.5 -2 0 -1.5 .5 -2 .5 -1.5 -.5 -2 -1.5 -2 .5 -1.5 2 -2 .5 -1.5 -2.5 -2 1.5 -2 -.5 -1.5 .5 -2 -.5 -1.5 1 -2 2.5 -2 -.5 -1.5 -2.5 -2 7 -1.5 -5 -2 4.5 -2 -4.5 -1.5 -2 -2 -.5 -1.5 2.5 -2 -.5 -2 0 -1.5 0 -2 -1.5 -1.5 .5 -2 4 -2 -.5 -1.5 -3.5 -2 1 -1.5 .5 -2 3.5 -2 -4 -1.5 2.5 -2 1 -1.5 -1 -2 1 -2 3 -1.5 -2.5 -2 -2.5 -1.5 -.5 -2 0 -2 -1 -1.5 1 -2 4 -1.5 -2 -2 -.5 -2 2 -1.5 -.5 -2 -2.5 -1.5 1.5 -2 2 -2 -1.5 -1.5 -2 -2 0 -1.5 .5 -2 2.5 -2 -2.5 -1.5 3.5 -2 -3.5 -1.5 -2.5 -2 -4 -2 -2 -1.5 -3 -2 -4 -1.5 0 -2 -5 -2 3 -1.5 3 -2 1 -1.5 3 -2 -.5 -2 .5 -1.5 1 -2 -1.5 -1.5 .5 -2 -1 -2 -.5 -1.5 2 -2 -.5 -1.5 0 -2 1 -2 0 -1.5 -1 -2 1 -1.5 0 -2 0 -2 -.5 -1.5 -.5 -2 .5 -1.5 0 -2 -.5 -2 1 -1.5 -1 -2 3.5 -1.5 -.5 -2 .5 -2 1.5 -1.5 -5 -2 1.5 -1.5 -.5 -2 4.5 -2 -1 -1.5 -2.5 -2 -.5 -1.5 -1 -2 2.5 -2 -2 -1.5 2.5 -2 -3.5 -1.5 .5 -2 1 -2 0 -1.5 0 -2 1.5 -1.5 0 -2 0 -2 -1 -1.5 0 -2 2 -1.5 -1.5 -2 .5 -2 -.5 -1.5 0 -2 2 -1.5 -2 -2 -1 -2 .5 -1.5 .5 -2 0 -1.5 3 -2 -3 -2 2 -1.5 -2 -2 2 -1.5 -1 -2 -.5 -2 -.5 -1.5 -1 -2 1 -1.5 -1.5 -2 .5 -2 0 -1.5 0 -2 -.5 -1.5 0 -2 0 -2 2.5 -1.5 -.5 -2 1 -1.5 1.5 -2 1.5 -2 -2.5 -1.5 -1.5 -2 -.5 -1.5 0 -2 2.5 -2 -2 -1.5 2 -2 -1 -1.5 -1.5 -2 1 -2 0 -1.5 4 -2 -1 -1.5 0 -2 -.5 -2 -1 -1.5 1 -2 0 -1.5 1.5 -2 1 -2 1 -1.5 3 -2 -1 -1.5 -.5 -2 -1 -2 -1 -1.5 1 -2 4.5 -1.5 -4.5 -2 -1.5 -2 7 -1.5 -7 -2 .5 -1.5 2.5 -2 3 -2 -3.5 -1.5 -.5 -2 -.5 -1.5 2.5 -2 -2.5 -2 1 -1.5 2 -2 -2 -1.5 1.5 -2 -.5 -2 0 -1.5 -1 -2 1 -1.5 1.5 -2 1 -2 -3 -1.5 1 -2 3 -1.5 -3.5 -2 -1 -2 0 -1.5 1 -2 -1 -1.5 0 -2 2 -2 -2.5 -1.5 .5 -2 1 -1.5 .5 -2 1 -2 -1 -1.5 -3 -2 1.5 -1.5 -2 -2 2 -2 -2.5 -1.5 0 -2 1 -1.5 -1 -2 .5 -2 1.5 -1.5 -1.5 -2 1 -1.5 -1 -2 0 -2 0 -1.5 0 -2 2.5 -1.5 -3.5 -2 0 -2 0 -1.5 0 -2 .5 -1.5 1 -2 0 -2 -2 -1.5 .5 -2 -.5 -1.5 .5 -2 0 -2 1.5 -1.5 1 -2 .5 -1.5 -3 -2 -1 -2 2 -1.5 -1.5 -2 -1.5 -1.5 1.5 -2 -.5 -2 -1 -1.5 3 -2 -3 -1.5 2 -2 -2 -2 1 -1.5 -1 -2 1 -1.5 -1.5 -2 0 -2 1.5 -1.5 1 -2 2.5 -1.5 -1 -2 -2 -2 -1 -1.5 -2 -2 2 -1.5 -1 -2 .5 -2 2 -1.5 -2 -2 0 -1.5 1 -2 1.5 -2 -2.5 -1.5 3 -2 -1 -1.5 1 -2 -.5 -2 -2 -1.5 .5 -2 4 -1.5 -2 -2 -1.5 -2 1 -1.5 0 -2 -2 -1.5 3.5 -2 -3.5 -2 2 -1.5 -2 -2 2 -1.5 -2 -2 1 -2 0 -1.5 -1.5 -2 -3 -1.5 -1 -2 -4.5 -2 1 -1.5 3.5 -2 .5 -1.5 -1.5 -2 5 -2 4 -1.5 -1 -2 0 -1.5 -15.5 -2 -15.5 -2 -12.5 -1.5 -7.5 -2 1.5 -1.5 -5.5 -2 -3.5 -2 .5 -1.5 3 -2 2.5 -1.5 3.5 -2 1 -2 -4 -1.5 1 -2 -.5 -1.5 0 -2 -.5 -2 .5 -1.5 2 -2 -3.5 -1.5 1 -2 0 -2 -3 -1.5 .5 -2 .5 -1.5 2 -2 -3 -2 3 -1.5 -1.5 -2 2.5 -1.5 -2.5 -2 1.5 -2 0 -1.5 1.5 -2 3 -1.5 -3.5 -2 1 -2 .5 -1.5 1 -2 -1.5 -1.5 -.5 -2 1 -2 2 -1.5 -2 -2 .5 -1.5 .5 -2 -1.5 -2 -1 -1.5 2 -2 -.5 -1.5 -1 -2 .5 -2 -1 -1.5 .5 -2 0 -1.5 1 -2 1 -2 .5 -1.5 3.5 -2 -3.5 -1.5 2.5 -2 -2 -2 4 -1.5 -3.5 -2 1 -1.5 1.5 -2 -1.5 -2 1 -1.5 .5 -2 1.5 -1.5 -5 -2 4 -2 -3.5 -1.5 4 -2 -1 -1.5 3.5 -2 -3 -2 -2 -1.5 -1.5 -2 2 -1.5 2.5 -2 -1.5 -2 -.5 -1.5 1.5 -2 .5 -1.5 -4.5 -2 4 -2 -5 -1.5 0 -2 0 -1.5 0 -2 1 -2 3.5 -1.5 -4.5 -2 6 -1.5 -3.5 -2 -2 -2 2 -1.5 3 -2 -2.5 -1.5 1.5 -2 -3 -2 -2 -1.5 2 -2 0 -1.5 -2.5 -2 4 -2 .5 -1.5 -.5 -2 -3.5 -1.5 0 -2 3 -2 -2.5 -1.5 -1 -2 -.5 -1.5 -.5 -2 0 -2 0 -1.5 1.5 -2 .5 -1.5 5 -2 -6 -2 0 -1.5 -1 -2 4 -1.5 -1.5 -2 -.5 -2 .5 -1.5 -1.5 -2 1 -1.5 2.5 -2 -1 -2 -1 -1.5 3 -2 3.5 -1.5 -2 -2 8 -2 6 -1.5 4 -2 -2.5 -1.5 -1 -2 1.5Z" fill="#5e1b0c" /></g>
<line x1="158.0" y1="640.3" x2="1244.0" y2="640.3" stroke="#62605e" stroke-width="1.8"/>
<line x1="158.0" y1="830.4" x2="1244.0" y2="830.4" stroke="#62605e" stroke-width="1.8"/>
<path d="M201.9,640.3v3.5M201.9,830.4v-3.5M245.3,640.3v3.5M245.3,830.4v-3.5M288.7,640.3v3.5M288.7,830.4v-3.5M332.1,640.3v3.5M332.1,830.4v-3.5M375.5,640.3v6.0M375.5,830.4v-6.0M418.9,640.3v3.5M418.9,830.4v-3.5M462.3,640.3v3.5M462.3,830.4v-3.5M505.7,640.3v3.5M505.7,830.4v-3.5M549.1,640.3v3.5M549.1,830.4v-3.5M592.5,640.3v6.0M592.5,830.4v-6.0M635.9,640.3v3.5M635.9,830.4v-3.5M679.3,640.3v3.5M679.3,830.4v-3.5M722.7,640.3v3.5M722.7,830.4v-3.5M766.1,640.3v3.5M766.1,830.4v-3.5M809.5,640.3v6.0M809.5,830.4v-6.0M852.9,640.3v3.5M852.9,830.4v-3.5M896.3,640.3v3.5M896.3,830.4v-3.5M939.7,640.3v3.5M939.7,830.4v-3.5M983.1,640.3v3.5M983.1,830.4v-3.5M1026.5,640.3v6.0M1026.5,830.4v-6.0M1069.9,640.3v3.5M1069.9,830.4v-3.5M1113.3,640.3v3.5M1113.3,830.4v-3.5M1156.7,640.3v3.5M1156.7,830.4v-3.5M1200.1,640.3v3.5M1200.1,830.4v-3.5M160.0,650.7h3.8M1243.0,650.7h-3.8M160.0,661.8h3.8M1243.0,661.8h-3.8M160.0,672.9h7.0M1243.0,672.9h-7.0M160.0,684.0h3.8M1243.0,684.0h-3.8M160.0,695.1h3.8M1243.0,695.1h-3.8M160.0,706.2h3.8M1243.0,706.2h-3.8M160.0,717.3h3.8M1243.0,717.3h-3.8M160.0,728.4h7.0M1243.0,728.4h-7.0M160.0,739.5h3.8M1243.0,739.5h-3.8M160.0,750.6h3.8M1243.0,750.6h-3.8M160.0,761.7h3.8M1243.0,761.7h-3.8M160.0,772.8h3.8M1243.0,772.8h-3.8M160.0,783.9h7.0M1243.0,783.9h-7.0M160.0,795.0h3.8M1243.0,795.0h-3.8M160.0,806.1h3.8M1243.0,806.1h-3.8M160.0,817.2h3.8M1243.0,817.2h-3.8M160.0,828.3h3.8M1243.0,828.3h-3.8" stroke="#62605e" stroke-width="1.6" fill="none"/>
<text transform="translate(136.6,679.7) scale(0.93,1)" font-size="36" fill="#575757" text-anchor="end">0.15</text>
<text transform="translate(136.6,736.0) scale(0.93,1)" font-size="36" fill="#575757" text-anchor="end">0.10</text>
<text transform="translate(136.6,790.8) scale(0.93,1)" font-size="36" fill="#575757" text-anchor="end">0.05</text>
<rect x="158.0" y="855.7" width="30.9" height="186.8" fill="#dfdfdf"/>
<rect x="221.4" y="855.7" width="60.8" height="186.8" fill="#dfdfdf"/>
<rect x="312.6" y="855.7" width="128.0" height="186.8" fill="#dfdfdf"/>
<rect x="573.0" y="855.7" width="112.8" height="186.8" fill="#dfdfdf"/>
<rect x="809.5" y="855.7" width="80.3" height="186.8" fill="#dfdfdf"/>
<rect x="970.1" y="855.7" width="108.5" height="186.8" fill="#dfdfdf"/>
<rect x="1195.8" y="855.7" width="47.7" height="186.8" fill="#dfdfdf"/>
<g clip-path="url(#clipS1)"><path d="M159,931.5l1.5 -6 1.5 -2 2 -4 1.5 -4.5 1.5 -5.5 1.5 0 1.5 1.5 2 1 1.5 0 1.5 0 1.5 1 1.5 0 2 1 1.5 -1 1.5 .5 1.5 1 1.5 0 2 -2.5 1.5 1.5 1.5 1 1.5 -2 1.5 -1 2 2.5 1.5 -2 1.5 -2.5 1.5 2.5 1.5 2 2 -.5 1.5 -3 1.5 1 1.5 0 1.5 0 2 -.5 1.5 -.5 1.5 1 1.5 -.5 1.5 1.5 2 -1.5 1.5 .5 1.5 -.5 1.5 1 1.5 1.5 2 -2 1.5 .5 1.5 .5 1.5 .5 1.5 -3.5 2 3 1.5 -1 1.5 1 1.5 -1 1.5 -1 2 -1 1.5 1.5 1.5 -.5 1.5 -1.5 1.5 1 2 0 1.5 1 1.5 -.5 1.5 0 1.5 -.5 2 .5 1.5 -.5 1.5 1 1.5 -.5 1.5 1.5 2 -1.5 1.5 -.5 1.5 1 1.5 -1 1.5 -.5 2 .5 1.5 -1 1.5 0 1.5 1.5 1.5 -2 2 .5 1.5 2 1.5 -1.5 1.5 .5 1.5 -.5 2 -.5 1.5 .5 1.5 -1 1.5 .5 1.5 0 2 -1 1.5 -.5 1.5 3 1.5 0 1.5 -3.5 2 0 1.5 1.5 1.5 -1 1.5 1.5 1.5 -1 2 .5 1.5 -.5 1.5 .5 1.5 -1.5 1.5 -1 2 3 1.5 -.5 1.5 -1.5 1.5 .5 1.5 1 2 -.5 1.5 -1.5 1.5 1.5 1.5 -1.5 1.5 1.5 2 -1 1.5 1 1.5 -2.5 1.5 0 1.5 1.5 2 .5 1.5 -2 1.5 1 1.5 2 1.5 0 2 -1 1.5 -1.5 1.5 .5 1.5 -.5 1.5 -1.5 2 1 1.5 -.5 1.5 0 1.5 1 1.5 -2 2 1 1.5 -.5 1.5 0 1.5 1.5 1.5 .5 2 1 1.5 -.5 1.5 -.5 1.5 -1 1.5 .5 2 .5 1.5 0 1.5 .5 1.5 -1 1.5 -1 2 -.5 1.5 1.5 1.5 -2 1.5 .5 1.5 -7 2 3.5 1.5 0 1.5 1 1.5 -9 1.5 -7.5 2 -5.5 1.5 -5 1.5 1.5 1.5 5.5 1.5 2.5 2 -2 1.5 -2 1.5 0 1.5 4.5 1.5 1.5 2 7.5 1.5 -.5 1.5 4.5 1.5 -1 1.5 -.5 2 1 1.5 0 1.5 0 1.5 -1.5 1.5 .5 2 0 1.5 0 1.5 0 1.5 1 1.5 -1.5 2 .5 1.5 1 1.5 0 1.5 0 1.5 .5 2 1.5 1.5 -1.5 1.5 -.5 1.5 -.5 1.5 -.5 2 0 1.5 1.5 1.5 -1.5 1.5 .5 1.5 -4 2 4 1.5 -1.5 1.5 1.5 1.5 .5 1.5 -1.5 2 2 1.5 -2.5 1.5 .5 1.5 -.5 1.5 .5 2 1.5 1.5 1 1.5 -3 1.5 .5 1.5 .5 2 0 1.5 -1 1.5 -1 1.5 2 1.5 -3 2 .5 1.5 0 1.5 -.5 1.5 0 1.5 1 2 0 1.5 -.5 1.5 2.5 1.5 -2 1.5 0 2 -1 1.5 2 1.5 0 1.5 -2 1.5 1.5 2 2 1.5 .5 1.5 -.5 1.5 -1.5 1.5 -1 2 .5 1.5 -1 1.5 1.5 1.5 .5 1.5 0 2 1 1.5 1 1.5 -.5 1.5 -.5 1.5 0 2 -2 1.5 3 1.5 -.5 1.5 -1 1.5 -1 2 0 1.5 .5 1.5 -1 1.5 0 1.5 0 2 -3.5 1.5 1.5 1.5 2 1.5 -1 1.5 .5 2 -.5 1.5 -.5 1.5 1 1.5 .5 1.5 -1 2 0 1.5 0 1.5 0 1.5 2 1.5 -.5 2 0 1.5 0 1.5 -1.5 1.5 3.5 1.5 -3 2 0 1.5 2 1.5 0 1.5 .5 1.5 -3.5 2 .5 1.5 -.5 1.5 .5 1.5 2 1.5 .5 2 -2.5 1.5 1 1.5 -2 1.5 1.5 1.5 -1.5 2 .5 1.5 .5 1.5 0 1.5 -1 1.5 0 2 -1 1.5 1 1.5 -1 1.5 -.5 1.5 1 2 -.5 1.5 0 1.5 1.5 1.5 -1 1.5 -1.5 2 0 1.5 2 1.5 -1 1.5 1 1.5 -.5 2 0 1.5 -1 1.5 2.5 1.5 -1 1.5 .5 2 -.5 1.5 -.5 1.5 -1 1.5 .5 1.5 1.5 2 .5 1.5 0 1.5 -1 1.5 -1.5 1.5 2.5 2 -1 1.5 -1 1.5 1.5 1.5 -1 1.5 1 2 -1.5 1.5 .5 1.5 2 1.5 -.5 1.5 -1 2 .5 1.5 -1 1.5 1 1.5 1.5 1.5 -1 2 -1 1.5 1 1.5 1 1.5 -.5 1.5 1 2 -1.5 1.5 -.5 1.5 -1.5 1.5 -.5 1.5 .5 2 0 1.5 0 1.5 .5 1.5 -1.5 1.5 1.5 2 .5 1.5 -1 1.5 -1 1.5 1.5 1.5 1.5 2 -2.5 1.5 2.5 1.5 -1.5 1.5 1.5 1.5 .5 2 -2.5 1.5 2 1.5 0 1.5 1 1.5 1.5 2 -2.5 1.5 0 1.5 3 1.5 -2.5 1.5 0 2 .5 1.5 1 1.5 0 1.5 -1.5 1.5 .5 2 2 1.5 -2 1.5 -1 1.5 2 1.5 1 2 0 1.5 .5 1.5 -2 1.5 1 1.5 .5 2 -.5 1.5 .5 1.5 .5 1.5 -1.5 1.5 -1 2 .5 1.5 1.5 1.5 0 1.5 1.5 1.5 -2.5 2 -.5 1.5 1 1.5 4.5 1.5 -4 1.5 1 2 2 1.5 1 1.5 -1 1.5 1.5 1.5 -4 2 2 1.5 2 1.5 .5 1.5 -2.5 1.5 -3 2 1.5 1.5 0 1.5 1.5 1.5 -2.5 1.5 3 2 0 1.5 -.5 1.5 1 1.5 0 1.5 0 2 1.5 1.5 -1.5 1.5 1.5 1.5 -.5 1.5 0 2 0 1.5 3.5 1.5 -1 1.5 -6.5 1.5 -4.5 2 -4 1.5 1 1.5 -1.5 1.5 7.5 1.5 4.5 2 3 1.5 0 1.5 -1 1.5 5.5 1.5 .5 2 -1 1.5 -.5 1.5 0 1.5 -.5 1.5 -1.5 2 -.5 1.5 -1 1.5 1 1.5 0 1.5 .5 2 -1.5 1.5 -2.5 1.5 1 1.5 -.5 1.5 0 2 1.5 1.5 -1 1.5 0 1.5 -2 1.5 -.5 2 1.5 1.5 1 1.5 -1 1.5 1.5 1.5 .5 2 0 1.5 0 1.5 2 1.5 .5 1.5 -2.5 2 1.5 1.5 2 1.5 -1.5 1.5 0 1.5 -1 2 .5 1.5 0 1.5 -.5 1.5 -1.5 1.5 .5 2 .5 1.5 1.5 1.5 .5 1.5 -1 1.5 1.5 2 -3 1.5 3 1.5 -1 1.5 1.5 1.5 .5 2 .5 1.5 -2.5 1.5 1 1.5 -3 1.5 2 2 -1.5 1.5 .5 1.5 1.5 1.5 -1 1.5 3.5 2 -4 1.5 0 1.5 .5 1.5 -1 1.5 -.5 2 1 1.5 1 1.5 .5 1.5 .5 1.5 -2 2 .5 1.5 .5 1.5 0 1.5 -1 1.5 -.5 2 -.5 1.5 1 1.5 1.5 1.5 -1.5 1.5 .5 2 0 1.5 .5 1.5 0 1.5 -.5 1.5 .5 2 .5 1.5 .5 1.5 0 1.5 -.5 1.5 2 2 -4 1.5 4 1.5 3 1.5 7 1.5 0 2 0 1.5 -8.5 1.5 4 1.5 -3 1.5 8.5 2 -2 1.5 3.5 1.5 2.5 1.5 -3 1.5 -5.5 2 -3 1.5 -2.5 1.5 5.5 1.5 2 1.5 8 2 9.5 1.5 -1 1.5 -.5 1.5 -1 1.5 1.5 2 -3.5 1.5 -7 1.5 7 1.5 -.5 1.5 -1 2 -.5 1.5 2 1.5 -2.5 1.5 .5 1.5 1.5 2 -1.5 1.5 -.5 1.5 .5 1.5 -1 1.5 .5 2 -.5 1.5 -2 1.5 2.5 1.5 1 1.5 -1.5 2 -1.5 1.5 2 1.5 -1 1.5 -1 1.5 2 2 -2 1.5 -1 1.5 1 1.5 1.5 1.5 1.5 2 -.5 1.5 .5 1.5 1.5 1.5 0 1.5 0 2 2 1.5 -1 1.5 1 1.5 -1 1.5 -1.5 2 2 1.5 0 1.5 -1.5 1.5 1 1.5 0 2 -.5 1.5 -.5 1.5 -.5 1.5 .5 1.5 0 2 -1 1.5 1 1.5 -1 1.5 1.5 1.5 -1 2 .5 1.5 1 1.5 -1 1.5 0 1.5 -.5 2 .5 1.5 0 1.5 -.5 1.5 2.5 1.5 -1.5 2 -.5 1.5 .5 1.5 1 1.5 2 1.5 -3.5 2 1 1.5 2.5 1.5 -1.5 1.5 0 1.5 -1.5 2 1 1.5 .5 1.5 0 1.5 .5 1.5 1.5 2 -.5 1.5 1 1.5 2 1.5 -2.5 1.5 1.5 2 0 1.5 1 1.5 .5 1.5 -.5 1.5 -1.5 2 0 1.5 -1 1.5 1.5 1.5 -3 1.5 1 2 0 1.5 -.5 1.5 -1 1.5 1.5 1.5 0 2 0 1.5 -.5 1.5 0 1.5 1 1.5 1.5 2 .5 1.5 -.5 1.5 1 1.5 0 1.5 -.5 2 1 1.5 1 1.5 2 1.5 2" fill="none" stroke="#6a6a6a" stroke-width="2.0" stroke-linejoin="round" /><path d="M159,939l1.5 -3.5 1.5 -2.5 2 -7 1.5 -3 1.5 -3.5 1.5 -1.5 1.5 0 2 -3.5 1.5 5 1.5 .5 1.5 -1.5 1.5 -.5 2 2 1.5 -1.5 1.5 0 1.5 1.5 1.5 -1 2 .5 1.5 0 1.5 2 1.5 -2 1.5 1 2 -.5 1.5 -.5 1.5 -.5 1.5 0 1.5 1 2 -.5 1.5 -1.5 1.5 -1 1.5 -.5 1.5 1 2 1 1.5 -2 1.5 1 1.5 -1 1.5 3 2 -2.5 1.5 0 1.5 -1 1.5 3.5 1.5 -1 2 .5 1.5 -.5 1.5 -1.5 1.5 1 1.5 -1 2 1 1.5 .5 1.5 -.5 1.5 0 1.5 -1 2 0 1.5 1 1.5 -2 1.5 -1 1.5 1.5 2 -1 1.5 .5 1.5 -2 1.5 2.5 1.5 -1.5 2 .5 1.5 -1 1.5 1.5 1.5 -.5 1.5 .5 2 -1 1.5 1 1.5 -2 1.5 -.5 1.5 .5 2 1.5 1.5 0 1.5 -1.5 1.5 -.5 1.5 -.5 2 .5 1.5 2 1.5 -2 1.5 -.5 1.5 0 2 1.5 1.5 -1 1.5 .5 1.5 -1 1.5 3 2 -2.5 1.5 -1.5 1.5 1 1.5 -1 1.5 1 2 2 1.5 -2 1.5 .5 1.5 .5 1.5 -1.5 2 .5 1.5 -2 1.5 2 1.5 -1 1.5 1 2 1 1.5 -2 1.5 -.5 1.5 1.5 1.5 -1 2 -.5 1.5 0 1.5 1.5 1.5 0 1.5 -1.5 2 1.5 1.5 0 1.5 -2 1.5 0 1.5 .5 2 0 1.5 0 1.5 -1.5 1.5 -.5 1.5 .5 2 .5 1.5 -2.5 1.5 1 1.5 0 1.5 -.5 2 .5 1.5 0 1.5 -.5 1.5 -1 1.5 -1.5 2 2 1.5 -2 1.5 1 1.5 1.5 1.5 0 2 2 1.5 -2 1.5 .5 1.5 .5 1.5 0 2 -1 1.5 2 1.5 .5 1.5 0 1.5 0 2 -1.5 1.5 0 1.5 -1 1.5 3.5 1.5 7.5 2 2.5 1.5 -.5 1.5 1 1.5 .5 1.5 .5 2 -2 1.5 -4 1.5 -2 1.5 -5.5 1.5 -3 2 2 1.5 2 1.5 0 1.5 -4 1.5 2 2 -1 1.5 -.5 1.5 -6.5 1.5 4 1.5 -1 2 -1 1.5 2 1.5 -.5 1.5 -1.5 1.5 2 2 -1 1.5 -.5 1.5 0 1.5 1 1.5 1 2 -.5 1.5 0 1.5 -.5 1.5 2.5 1.5 0 2 1 1.5 -1 1.5 -1.5 1.5 .5 1.5 1 2 -2 1.5 -1 1.5 .5 1.5 -1 1.5 .5 2 .5 1.5 -1 1.5 0 1.5 1.5 1.5 -1.5 2 0 1.5 0 1.5 2 1.5 -.5 1.5 -2 2 1 1.5 0 1.5 .5 1.5 0 1.5 -2 2 -.5 1.5 0 1.5 .5 1.5 .5 1.5 -2.5 2 3 1.5 -3 1.5 0 1.5 1 1.5 1 2 -.5 1.5 0 1.5 -2 1.5 0 1.5 -1 2 0 1.5 1.5 1.5 -1 1.5 1 1.5 -1 2 1.5 1.5 0 1.5 0 1.5 -1 1.5 -1 2 1 1.5 1 1.5 1.5 1.5 -1 1.5 -1 2 .5 1.5 -1.5 1.5 .5 1.5 -1 1.5 2.5 2 0 1.5 -1 1.5 1.5 1.5 -.5 1.5 0 2 -1.5 1.5 1 1.5 1 1.5 0 1.5 0 2 2 1.5 -1.5 1.5 -1 1.5 0 1.5 -1 2 3.5 1.5 -1 1.5 -2 1.5 -1 1.5 .5 2 .5 1.5 -.5 1.5 1 1.5 -2.5 1.5 -.5 2 2 1.5 -.5 1.5 2 1.5 -1.5 1.5 0 2 1 1.5 -.5 1.5 1.5 1.5 2 1.5 -2 2 -.5 1.5 .5 1.5 1.5 1.5 -.5 1.5 .5 2 -.5 1.5 -1 1.5 .5 1.5 0 1.5 -1.5 2 -.5 1.5 0 1.5 1 1.5 .5 1.5 -1 2 -1 1.5 2.5 1.5 -2.5 1.5 2 1.5 -.5 2 0 1.5 1.5 1.5 -1.5 1.5 -.5 1.5 -.5 2 0 1.5 1 1.5 -1 1.5 -.5 1.5 .5 2 -.5 1.5 -1 1.5 2 1.5 0 1.5 -2 2 0 1.5 1 1.5 -1 1.5 1 1.5 1.5 2 -1 1.5 1.5 1.5 -.5 1.5 1 1.5 -1.5 2 -1.5 1.5 1.5 1.5 1.5 1.5 .5 1.5 -.5 2 -1.5 1.5 .5 1.5 0 1.5 -1.5 1.5 .5 2 .5 1.5 2 1.5 -1.5 1.5 .5 1.5 -1.5 2 2.5 1.5 -1.5 1.5 .5 1.5 -.5 1.5 1 2 1 1.5 -1.5 1.5 -2 1.5 1.5 1.5 2 2 -1 1.5 0 1.5 -1.5 1.5 .5 1.5 1 2 0 1.5 1.5 1.5 0 1.5 -1.5 1.5 -1 2 -1.5 1.5 1.5 1.5 -.5 1.5 .5 1.5 0 2 1.5 1.5 -.5 1.5 -.5 1.5 .5 1.5 1 2 -2.5 1.5 1.5 1.5 .5 1.5 -1 1.5 1 2 .5 1.5 .5 1.5 1 1.5 -.5 1.5 -.5 2 2 1.5 1.5 1.5 -1 1.5 -1.5 1.5 -1 2 1 1.5 -.5 1.5 1 1.5 -2.5 1.5 2.5 2 -1.5 1.5 .5 1.5 0 1.5 -.5 1.5 .5 2 1 1.5 .5 1.5 2.5 1.5 -3 1.5 .5 2 .5 1.5 -2 1.5 3 1.5 -.5 1.5 -1.5 2 .5 1.5 .5 1.5 2 1.5 -2 1.5 1 2 -1.5 1.5 .5 1.5 -1.5 1.5 -1 1.5 1 2 -.5 1.5 2.5 1.5 0 1.5 -.5 1.5 0 2 0 1.5 -.5 1.5 1 1.5 1 1.5 -2 2 -.5 1.5 2.5 1.5 -1.5 1.5 .5 1.5 -1 2 -1.5 1.5 5 1.5 -1.5 1.5 -2.5 1.5 6 2 2 1.5 5 1.5 5.5 1.5 -4 1.5 -6 2 -6.5 1.5 -3.5 1.5 -2 1.5 1 1.5 -.5 2 1.5 1.5 1.5 1.5 0 1.5 0 1.5 0 2 3 1.5 -2 1.5 0 1.5 1 1.5 -1 2 -2 1.5 1.5 1.5 -1 1.5 1 1.5 .5 2 .5 1.5 .5 1.5 0 1.5 -1.5 1.5 1.5 2 1 1.5 -1 1.5 .5 1.5 1 1.5 -1 2 .5 1.5 1.5 1.5 -1 1.5 1 1.5 -1 2 .5 1.5 -.5 1.5 0 1.5 0 1.5 1 2 -1 1.5 0 1.5 -.5 1.5 1 1.5 -2 2 0 1.5 1 1.5 1 1.5 -1.5 1.5 -1 2 -.5 1.5 -.5 1.5 -1.5 1.5 1 1.5 .5 2 -1 1.5 3 1.5 -1.5 1.5 1 1.5 -.5 2 -.5 1.5 .5 1.5 0 1.5 1.5 1.5 -2 2 3 1.5 -1 1.5 -1 1.5 -.5 1.5 -.5 2 0 1.5 -1 1.5 .5 1.5 3.5 1.5 -1.5 2 0 1.5 .5 1.5 -1 1.5 1 1.5 -1 2 0 1.5 -.5 1.5 1 1.5 0 1.5 1 2 -2.5 1.5 -.5 1.5 1.5 1.5 2.5 1.5 -2 2 0 1.5 0 1.5 -.5 1.5 1 1.5 -5.5 2 4.5 1.5 4.5 1.5 9.5 1.5 -7 1.5 6.5 2 1 1.5 3.5 1.5 -8.5 1.5 -.5 1.5 6 2 6.5 1.5 5 1.5 -1 1.5 1 1.5 -3 2 5.5 1.5 -1.5 1.5 -3 1.5 -7 1.5 -1 2 1.5 1.5 7.5 1.5 -2 1.5 -2.5 1.5 -1 2 1.5 1.5 4 1.5 -1.5 1.5 -3.5 1.5 .5 2 2 1.5 -1.5 1.5 .5 1.5 .5 1.5 -.5 2 .5 1.5 -.5 1.5 -2 1.5 3.5 1.5 -.5 2 -.5 1.5 -1 1.5 2.5 1.5 -1.5 1.5 1.5 2 1 1.5 -1 1.5 1.5 1.5 -2 1.5 -2.5 2 2.5 1.5 2 1.5 -.5 1.5 -1 1.5 2 2 -1 1.5 0 1.5 -.5 1.5 -.5 1.5 -1.5 2 0 1.5 2 1.5 1 1.5 -2.5 1.5 0 2 1 1.5 0 1.5 2 1.5 -1.5 1.5 -1.5 2 1.5 1.5 2.5 1.5 -1.5 1.5 0 1.5 -1.5 2 .5 1.5 .5 1.5 -.5 1.5 .5 1.5 -2 2 .5 1.5 1.5 1.5 -1.5 1.5 -.5 1.5 .5 2 0 1.5 1.5 1.5 -.5 1.5 1.5 1.5 0 2 0 1.5 1 1.5 -.5 1.5 -1 1.5 -.5 2 -1 1.5 1.5 1.5 -.5 1.5 0 1.5 0 2 1 1.5 1 1.5 -1 1.5 1 1.5 .5 2 1.5 1.5 -2.5 1.5 1.5 1.5 -.5 1.5 1.5 2 -.5 1.5 -.5 1.5 2.5 1.5 -1.5 1.5 -1 2 2 1.5 0 1.5 -2 1.5 3 1.5 -.5 2 .5 1.5 -1.5 1.5 1.5 1.5 0 1.5 -1.5 2 -1 1.5 1.5 1.5 .5 1.5 0 1.5 1 2 -.5 1.5 0 1.5 -1 1.5 0 1.5 -1 2 0 1.5 2.5 1.5 1 1.5 .5" fill="none" stroke="#6a6a6a" stroke-width="2.0" stroke-linejoin="round" /><path d="M159,951l1.5 -4.5 1.5 -6.5 2 -7 1.5 -6.5 1.5 -1.5 1.5 1 1.5 1.5 2 -.5 1.5 -.5 1.5 1 1.5 1 1.5 -.5 2 -.5 1.5 .5 1.5 -2 1.5 3 1.5 .5 2 -1.5 1.5 0 1.5 3.5 1.5 -2.5 1.5 1 2 -1.5 1.5 .5 1.5 -.5 1.5 -.5 1.5 .5 2 0 1.5 0 1.5 -2 1.5 1.5 1.5 -1 2 -.5 1.5 .5 1.5 -.5 1.5 -.5 1.5 0 2 1 1.5 -.5 1.5 -1.5 1.5 2 1.5 -.5 2 0 1.5 3.5 1.5 -1 1.5 2 1.5 0 2 -2 1.5 1.5 1.5 1 1.5 0 1.5 -.5 2 -1.5 1.5 1.5 1.5 -1 1.5 0 1.5 -1 2 0 1.5 .5 1.5 1.5 1.5 -1 1.5 -1 2 1 1.5 -1 1.5 1.5 1.5 0 1.5 0 2 -1 1.5 1 1.5 .5 1.5 -1 1.5 -.5 2 1 1.5 1 1.5 0 1.5 -1.5 1.5 1 2 0 1.5 0 1.5 1.5 1.5 -2 1.5 1 2 1 1.5 -.5 1.5 .5 1.5 -.5 1.5 -1 2 1 1.5 -2 1.5 0 1.5 -1 1.5 1.5 2 1.5 1.5 -1.5 1.5 0 1.5 1 1.5 -1 2 1 1.5 -1.5 1.5 1.5 1.5 -1 1.5 -.5 2 .5 1.5 -1 1.5 .5 1.5 -2 1.5 .5 2 -1.5 1.5 3 1.5 -.5 1.5 0 1.5 0 2 -1 1.5 -1 1.5 -.5 1.5 1.5 1.5 .5 2 -.5 1.5 -.5 1.5 -.5 1.5 -1 1.5 -.5 2 2.5 1.5 -1 1.5 .5 1.5 -.5 1.5 -1 2 .5 1.5 -.5 1.5 .5 1.5 .5 1.5 -1 2 -.5 1.5 1.5 1.5 -2 1.5 2 1.5 -.5 2 -1.5 1.5 .5 1.5 1.5 1.5 -1.5 1.5 1.5 2 -3 1.5 0 1.5 1.5 1.5 0 1.5 1 2 -1.5 1.5 1.5 1.5 .5 1.5 -3.5 1.5 4.5 2 1.5 1.5 3.5 1.5 .5 1.5 5.5 1.5 -5 2 -7 1.5 -.5 1.5 .5 1.5 -2.5 1.5 .5 2 -1 1.5 .5 1.5 -5 1.5 -5.5 1.5 -6 2 -.5 1.5 2 1.5 -.5 1.5 -3 1.5 0 2 .5 1.5 -1 1.5 1.5 1.5 .5 1.5 -2 2 0 1.5 -.5 1.5 .5 1.5 -1 1.5 2 2 1 1.5 -4.5 1.5 1.5 1.5 .5 1.5 .5 2 -1.5 1.5 1 1.5 -1 1.5 1 1.5 -.5 2 1.5 1.5 -1.5 1.5 2.5 1.5 0 1.5 0 2 -1 1.5 .5 1.5 .5 1.5 0 1.5 2 2 -2.5 1.5 -.5 1.5 1 1.5 .5 1.5 -1.5 2 -.5 1.5 0 1.5 -.5 1.5 .5 1.5 -1 2 -1 1.5 1 1.5 -1 1.5 0 1.5 .5 2 1 1.5 .5 1.5 0 1.5 0 1.5 .5 2 1 1.5 -1 1.5 1.5 1.5 -.5 1.5 -1 2 -.5 1.5 1 1.5 -1 1.5 -.5 1.5 0 2 1 1.5 .5 1.5 -3 1.5 -.5 1.5 0 2 -.5 1.5 .5 1.5 -1.5 1.5 .5 1.5 1 2 -.5 1.5 1 1.5 0 1.5 0 1.5 0 2 -.5 1.5 -.5 1.5 2 1.5 -1.5 1.5 0 2 2.5 1.5 -2 1.5 0 1.5 -.5 1.5 .5 2 -2.5 1.5 1 1.5 1 1.5 1 1.5 -.5 2 3 1.5 -2 1.5 0 1.5 1 1.5 .5 2 0 1.5 -.5 1.5 1 1.5 .5 1.5 -3 2 3 1.5 -1.5 1.5 -1 1.5 1.5 1.5 .5 2 -1 1.5 0 1.5 -.5 1.5 0 1.5 -1 2 .5 1.5 1 1.5 .5 1.5 -2 1.5 1 2 0 1.5 0 1.5 1 1.5 -.5 1.5 -.5 2 1 1.5 -.5 1.5 -1.5 1.5 .5 1.5 1.5 2 -1.5 1.5 -1 1.5 1 1.5 -1.5 1.5 .5 2 -3 1.5 -.5 1.5 3 1.5 -1 1.5 2.5 2 0 1.5 -1.5 1.5 -.5 1.5 1 1.5 1 2 1.5 1.5 .5 1.5 -1 1.5 -.5 1.5 1 2 -1 1.5 .5 1.5 -1 1.5 -.5 1.5 .5 2 -1.5 1.5 1 1.5 .5 1.5 -1 1.5 -.5 2 1.5 1.5 -.5 1.5 .5 1.5 -1.5 1.5 3 2 0 1.5 -1.5 1.5 .5 1.5 1 1.5 1 2 -.5 1.5 -1 1.5 -1 1.5 3 1.5 -1.5 2 .5 1.5 -.5 1.5 0 1.5 -.5 1.5 -1 2 1.5 1.5 3 1.5 -2.5 1.5 -.5 1.5 .5 2 -1.5 1.5 0 1.5 0 1.5 -2 1.5 .5 2 -1 1.5 0 1.5 1.5 1.5 -2 1.5 .5 2 .5 1.5 .5 1.5 1.5 1.5 -2 1.5 3 2 1 1.5 0 1.5 0 1.5 .5 1.5 -1 2 1 1.5 .5 1.5 -1.5 1.5 1 1.5 -2.5 2 2.5 1.5 -2.5 1.5 1.5 1.5 -1 1.5 -.5 2 1 1.5 -3 1.5 2.5 1.5 0 1.5 -.5 2 1 1.5 -1 1.5 1 1.5 0 1.5 -.5 2 -.5 1.5 3 1.5 -2.5 1.5 -.5 1.5 1.5 2 -1 1.5 -1 1.5 1 1.5 0 1.5 .5 2 .5 1.5 .5 1.5 -1.5 1.5 0 1.5 3 2 1 1.5 -1.5 1.5 2 1.5 -.5 1.5 -1 2 2 1.5 0 1.5 -.5 1.5 -1.5 1.5 1.5 2 -1 1.5 -.5 1.5 -.5 1.5 -2 1.5 1.5 2 .5 1.5 .5 1.5 -2 1.5 2 1.5 0 2 0 1.5 .5 1.5 0 1.5 -1.5 1.5 3 2 1 1.5 -1.5 1.5 -1 1.5 -1.5 1.5 -.5 2 -3 1.5 -1.5 1.5 -.5 1.5 3 1.5 2 2 0 1.5 -.5 1.5 3 1.5 -1 1.5 1 2 -2 1.5 2 1.5 .5 1.5 -.5 1.5 1 2 0 1.5 -1.5 1.5 1 1.5 -1.5 1.5 2 2 -1.5 1.5 -.5 1.5 1.5 1.5 -1.5 1.5 1 2 .5 1.5 -1 1.5 0 1.5 1 1.5 .5 2 .5 1.5 1 1.5 -1.5 1.5 1.5 1.5 -.5 2 .5 1.5 -2.5 1.5 0 1.5 .5 1.5 .5 2 .5 1.5 -1.5 1.5 0 1.5 1 1.5 0 2 -.5 1.5 0 1.5 -1 1.5 .5 1.5 0 2 0 1.5 -1 1.5 .5 1.5 -1 1.5 .5 2 2 1.5 1 1.5 -3 1.5 3.5 1.5 .5 2 -.5 1.5 1 1.5 -1 1.5 1 1.5 2 2 -2.5 1.5 .5 1.5 -.5 1.5 -.5 1.5 -.5 2 -1.5 1.5 .5 1.5 -1 1.5 -1.5 1.5 2 2 0 1.5 0 1.5 -1.5 1.5 1.5 1.5 -1.5 2 -.5 1.5 .5 1.5 2.5 1.5 -1.5 1.5 -.5 2 2.5 1.5 -.5 1.5 1 1.5 -1.5 1.5 0 2 .5 1.5 -.5 1.5 -1.5 1.5 0 1.5 0 2 -1 1.5 -1 1.5 3.5 1.5 -1.5 1.5 6 2 1 1.5 1 1.5 1.5 1.5 3.5 1.5 2.5 2 -1 1.5 -.5 1.5 3.5 1.5 -1.5 1.5 -2.5 2 2.5 1.5 -.5 1.5 1.5 1.5 -2 1.5 4 2 10 1.5 3.5 1.5 -5.5 1.5 -7 1.5 -5.5 2 3.5 1.5 2.5 1.5 4 1.5 3 1.5 3 2 1 1.5 -3 1.5 -3 1.5 1.5 1.5 -1.5 2 -.5 1.5 0 1.5 .5 1.5 -.5 1.5 1.5 2 -1 1.5 -2 1.5 -1 1.5 0 1.5 0 2 1.5 1.5 -.5 1.5 -2 1.5 0 1.5 2 2 -1.5 1.5 -1 1.5 -.5 1.5 3 1.5 -1 2 2.5 1.5 -.5 1.5 -1.5 1.5 2 1.5 -1.5 2 2 1.5 -.5 1.5 0 1.5 1 1.5 -1 2 -1.5 1.5 3 1.5 -1.5 1.5 2 1.5 -1 2 1.5 1.5 -.5 1.5 -.5 1.5 -1.5 1.5 -.5 2 .5 1.5 .5 1.5 .5 1.5 -1.5 1.5 1 2 0 1.5 1 1.5 -.5 1.5 1.5 1.5 -1 2 2.5 1.5 0 1.5 -1.5 1.5 1 1.5 1 2 -3.5 1.5 2.5 1.5 -1.5 1.5 0 1.5 0 2 1 1.5 -1 1.5 0 1.5 0 1.5 1.5 2 .5 1.5 0 1.5 1 1.5 -1.5 1.5 1.5 2 -.5 1.5 0 1.5 -1.5 1.5 2.5 1.5 .5 2 -1.5 1.5 1 1.5 -.5 1.5 -.5 1.5 1 2 1 1.5 0 1.5 0 1.5 .5 1.5 -.5 2 0 1.5 -1 1.5 1.5 1.5 -2.5 1.5 3.5 2 -2 1.5 0 1.5 0 1.5 0 1.5 1.5 2 1 1.5 .5 1.5 -.5 1.5 1 1.5 -1.5 2 -1.5 1.5 3.5 1.5 .5 1.5 0 1.5 0 2 -2 1.5 0 1.5 .5 1.5 .5" fill="none" stroke="#6a6a6a" stroke-width="2.0" stroke-linejoin="round" /><path d="M159,953.5l1.5 -5 1.5 -4.5 2 -7 1.5 -2.5 1.5 -8.5 1.5 4 1.5 -1 2 1 1.5 1 1.5 -.5 1.5 .5 1.5 -1.5 2 1.5 1.5 -1 1.5 1 1.5 -1.5 1.5 1 2 1.5 1.5 .5 1.5 -.5 1.5 -.5 1.5 2.5 2 -.5 1.5 .5 1.5 -.5 1.5 -1.5 1.5 1 2 -.5 1.5 -.5 1.5 2.5 1.5 -1.5 1.5 .5 2 -1 1.5 -1.5 1.5 1 1.5 -1.5 1.5 1 2 -1 1.5 -.5 1.5 -1 1.5 1 1.5 -1 2 -1 1.5 2 1.5 .5 1.5 .5 1.5 .5 2 .5 1.5 1 1.5 -.5 1.5 2 1.5 -.5 2 -1.5 1.5 .5 1.5 1 1.5 1 1.5 0 2 0 1.5 -.5 1.5 1 1.5 -1.5 1.5 1 2 -1 1.5 1.5 1.5 -1.5 1.5 1 1.5 -1 2 -.5 1.5 0 1.5 1.5 1.5 -1 1.5 0 2 -.5 1.5 -1.5 1.5 1.5 1.5 2 1.5 -1.5 2 1 1.5 -.5 1.5 .5 1.5 .5 1.5 -.5 2 .5 1.5 1 1.5 -.5 1.5 -1.5 1.5 -.5 2 1 1.5 1 1.5 -2 1.5 1 1.5 -1.5 2 .5 1.5 -1.5 1.5 2 1.5 -1 1.5 .5 2 0 1.5 -4 1.5 1 1.5 0 1.5 -.5 2 .5 1.5 0 1.5 -1.5 1.5 .5 1.5 2 2 -1.5 1.5 0 1.5 1 1.5 1 1.5 -1.5 2 -.5 1.5 2.5 1.5 1 1.5 -.5 1.5 -1 2 1 1.5 0 1.5 -.5 1.5 .5 1.5 -1 2 .5 1.5 .5 1.5 -1.5 1.5 -1.5 1.5 1.5 2 0 1.5 -.5 1.5 -2 1.5 -.5 1.5 1 2 0 1.5 -1.5 1.5 .5 1.5 1 1.5 0 2 -.5 1.5 -.5 1.5 1 1.5 -1.5 1.5 2 2 -1 1.5 1 1.5 1.5 1.5 1.5 1.5 -.5 2 -.5 1.5 .5 1.5 1 1.5 7 1.5 1 2 -3.5 1.5 .5 1.5 0 1.5 2 1.5 3.5 2 2 1.5 6.5 1.5 -.5 1.5 .5 1.5 1 2 3 1.5 .5 1.5 -2.5 1.5 -2.5 1.5 -6 2 -.5 1.5 0 1.5 0 1.5 -3.5 1.5 3 2 1 1.5 -1 1.5 1 1.5 -1 1.5 -.5 2 -.5 1.5 -.5 1.5 0 1.5 -.5 1.5 1 2 .5 1.5 -.5 1.5 -1.5 1.5 1 1.5 .5 2 -.5 1.5 0 1.5 1.5 1.5 3 1.5 -1.5 2 .5 1.5 -1 1.5 -.5 1.5 1 1.5 0 2 -2 1.5 .5 1.5 0 1.5 .5 1.5 -2.5 2 2.5 1.5 -1 1.5 0 1.5 0 1.5 1 2 .5 1.5 0 1.5 .5 1.5 1 1.5 .5 2 -.5 1.5 .5 1.5 -1 1.5 0 1.5 -1 2 1.5 1.5 -2 1.5 1 1.5 -1.5 1.5 .5 2 -1.5 1.5 0 1.5 -1.5 1.5 -1 1.5 2.5 2 -.5 1.5 -1.5 1.5 2 1.5 -2 1.5 .5 2 .5 1.5 -1.5 1.5 1.5 1.5 .5 1.5 -2 2 -1 1.5 .5 1.5 .5 1.5 1 1.5 -1 2 1 1.5 -.5 1.5 .5 1.5 -3 1.5 2.5 2 .5 1.5 0 1.5 0 1.5 -.5 1.5 .5 2 -1 1.5 1 1.5 -2 1.5 .5 1.5 0 2 .5 1.5 2.5 1.5 -1.5 1.5 -1 1.5 -1.5 2 1.5 1.5 -1 1.5 .5 1.5 -.5 1.5 .5 2 -2.5 1.5 1 1.5 .5 1.5 0 1.5 1 2 -2.5 1.5 2 1.5 .5 1.5 -1 1.5 .5 2 1 1.5 -1 1.5 1 1.5 -.5 1.5 1 2 -2 1.5 .5 1.5 0 1.5 0 1.5 .5 2 -.5 1.5 -2 1.5 2 1.5 -1 1.5 -1 2 .5 1.5 -1 1.5 1.5 1.5 1 1.5 0 2 -3 1.5 .5 1.5 -.5 1.5 2 1.5 .5 2 -2 1.5 2.5 1.5 -2 1.5 1.5 1.5 .5 2 -1 1.5 1.5 1.5 .5 1.5 -.5 1.5 .5 2 1 1.5 -2.5 1.5 0 1.5 .5 1.5 0 2 -2 1.5 2 1.5 -1.5 1.5 -.5 1.5 2 2 -.5 1.5 .5 1.5 -.5 1.5 -1 1.5 3 2 -3 1.5 .5 1.5 -1 1.5 1 1.5 .5 2 -.5 1.5 -.5 1.5 1.5 1.5 -1 1.5 -.5 2 1 1.5 -.5 1.5 1.5 1.5 -2.5 1.5 1 2 0 1.5 .5 1.5 -1.5 1.5 1 1.5 1.5 2 0 1.5 -1 1.5 -1 1.5 -.5 1.5 2.5 2 -1 1.5 -.5 1.5 1 1.5 .5 1.5 1.5 2 -.5 1.5 -1.5 1.5 1 1.5 0 1.5 1.5 2 -1 1.5 1.5 1.5 -.5 1.5 0 1.5 0 2 .5 1.5 0 1.5 .5 1.5 -.5 1.5 -1 2 -1 1.5 .5 1.5 -.5 1.5 .5 1.5 .5 2 -1 1.5 .5 1.5 .5 1.5 -1 1.5 -.5 2 1 1.5 -1 1.5 2 1.5 -2 1.5 2 2 -1.5 1.5 2 1.5 -1 1.5 -1.5 1.5 1 2 1.5 1.5 -1.5 1.5 -.5 1.5 .5 1.5 .5 2 .5 1.5 -1 1.5 0 1.5 1.5 1.5 1 2 -.5 1.5 .5 1.5 -.5 1.5 2 1.5 .5 2 -2 1.5 .5 1.5 -1 1.5 -.5 1.5 1.5 2 -1.5 1.5 0 1.5 .5 1.5 1 1.5 -1.5 2 .5 1.5 0 1.5 0 1.5 -1.5 1.5 -1 2 5 1.5 -1 1.5 0 1.5 0 1.5 -1 2 -1.5 1.5 2.5 1.5 -.5 1.5 1 1.5 1.5 2 -.5 1.5 -.5 1.5 -2.5 1.5 -1 1.5 2.5 2 -4.5 1.5 -2 1.5 2.5 1.5 2.5 1.5 2.5 2 3.5 1.5 .5 1.5 -2.5 1.5 -2 1.5 5.5 2 -.5 1.5 -2.5 1.5 -.5 1.5 1.5 1.5 -2 2 2.5 1.5 1.5 1.5 0 1.5 -.5 1.5 0 2 2 1.5 -1 1.5 -.5 1.5 .5 1.5 -1.5 2 0 1.5 -.5 1.5 .5 1.5 -1 1.5 -.5 2 -.5 1.5 1.5 1.5 0 1.5 -1 1.5 3.5 2 .5 1.5 -1 1.5 2 1.5 0 1.5 .5 2 -1 1.5 -1.5 1.5 1.5 1.5 -1 1.5 .5 2 .5 1.5 -2 1.5 .5 1.5 0 1.5 1.5 2 -2 1.5 3.5 1.5 -3.5 1.5 2 1.5 .5 2 1 1.5 0 1.5 2.5 1.5 -.5 1.5 0 2 .5 1.5 -3 1.5 1.5 1.5 0 1.5 -.5 2 1 1.5 1 1.5 -1 1.5 -.5 1.5 1 2 0 1.5 -.5 1.5 -.5 1.5 1 1.5 0 2 .5 1.5 -.5 1.5 .5 1.5 -.5 1.5 .5 2 0 1.5 0 1.5 -.5 1.5 .5 1.5 2.5 2 .5 1.5 -.5 1.5 0 1.5 -2 1.5 0 2 0 1.5 -.5 1.5 -.5 1.5 1.5 1.5 2.5 2 -2 1.5 -.5 1.5 1.5 1.5 0 1.5 3.5 2 -4.5 1.5 .5 1.5 1 1.5 -4 1.5 -3 2 0 1.5 -2.5 1.5 .5 1.5 -2.5 1.5 -1 2 -6 1.5 -.5 1.5 -2 1.5 -3.5 1.5 6.5 2 3.5 1.5 .5 1.5 -2.5 1.5 -2.5 1.5 4 2 1 1.5 1 1.5 1 1.5 -1.5 1.5 -6 2 2 1.5 -1 1.5 6.5 1.5 1.5 1.5 -2.5 2 -.5 1.5 0 1.5 1.5 1.5 -1 1.5 0 2 0 1.5 -1 1.5 1.5 1.5 1 1.5 -.5 2 -.5 1.5 -1.5 1.5 1 1.5 -2 1.5 .5 2 .5 1.5 1.5 1.5 0 1.5 0 1.5 0 2 4 1.5 -1.5 1.5 0 1.5 0 1.5 .5 2 .5 1.5 .5 1.5 -2 1.5 .5 1.5 1 2 .5 1.5 -2 1.5 .5 1.5 0 1.5 .5 2 0 1.5 -1 1.5 -.5 1.5 2 1.5 .5 2 -2 1.5 -1 1.5 -.5 1.5 1 1.5 -1 2 0 1.5 2 1.5 -1 1.5 -.5 1.5 0 2 0 1.5 1 1.5 -1 1.5 .5 1.5 0 2 2.5 1.5 -3 1.5 1 1.5 -.5 1.5 0 2 1 1.5 -.5 1.5 0 1.5 1.5 1.5 -2.5 2 3 1.5 .5 1.5 1 1.5 -1 1.5 0 2 -1.5 1.5 1 1.5 0 1.5 -.5 1.5 1.5 2 0 1.5 -2 1.5 1 1.5 .5 1.5 1.5 2 -2.5 1.5 0 1.5 .5 1.5 -.5 1.5 .5 2 1.5 1.5 -2 1.5 -1 1.5 2 1.5 -1 2 0 1.5 .5 1.5 -1 1.5 1.5 1.5 0 2 -.5 1.5 1 1.5 -1 1.5 -.5 1.5 .5 2 .5 1.5 -2 1.5 1.5 1.5 -1 1.5 3 2 -2 1.5 2 1.5 -1 1.5 1.5" fill="none" stroke="#8a8a8a" stroke-width="2.0" stroke-linejoin="round" /><path d="M159,958.5l1.5 -5 1.5 -3.5 2 -6 1.5 -7 1.5 -1.5 1.5 -1.5 1.5 1.5 2 0 1.5 .5 1.5 2 1.5 0 1.5 -2.5 2 .5 1.5 -.5 1.5 2 1.5 -.5 1.5 -1 2 2.5 1.5 0 1.5 -2 1.5 0 1.5 3 2 -1 1.5 -1 1.5 .5 1.5 -1.5 1.5 .5 2 -1 1.5 1 1.5 0 1.5 0 1.5 0 2 -.5 1.5 .5 1.5 0 1.5 1 1.5 .5 2 -1 1.5 0 1.5 .5 1.5 -1 1.5 2.5 2 -1 1.5 1.5 1.5 -3.5 1.5 1.5 1.5 -.5 2 0 1.5 .5 1.5 1.5 1.5 -1 1.5 -1.5 2 -.5 1.5 1.5 1.5 .5 1.5 0 1.5 -1.5 2 -.5 1.5 1.5 1.5 -.5 1.5 1 1.5 -.5 2 0 1.5 -.5 1.5 .5 1.5 -.5 1.5 .5 2 0 1.5 0 1.5 .5 1.5 -.5 1.5 -.5 2 -1 1.5 1 1.5 0 1.5 -1 1.5 .5 2 0 1.5 0 1.5 0 1.5 2 1.5 -2 2 .5 1.5 1 1.5 1 1.5 -.5 1.5 .5 2 0 1.5 .5 1.5 -1 1.5 0 1.5 .5 2 -1.5 1.5 .5 1.5 0 1.5 .5 1.5 -.5 2 2 1.5 -1 1.5 0 1.5 1 1.5 1 2 0 1.5 -1.5 1.5 2 1.5 -1 1.5 1 2 1.5 1.5 2 1.5 0 1.5 .5 1.5 -.5 2 2 1.5 -2 1.5 0 1.5 -1.5 1.5 2 2 1 1.5 -1 1.5 -3 1.5 1.5 1.5 -3 2 3 1.5 -1 1.5 0 1.5 1 1.5 -.5 2 1.5 1.5 -1.5 1.5 1 1.5 .5 1.5 1 2 .5 1.5 1.5 1.5 0 1.5 -1 1.5 1 2 -2 1.5 1 1.5 0 1.5 0 1.5 -1 2 1 1.5 .5 1.5 0 1.5 -1.5 1.5 .5 2 -1.5 1.5 -2.5 1.5 10.5 1.5 0 1.5 0 2 -3 1.5 1 1.5 -2.5 1.5 .5 1.5 2 2 -2.5 1.5 4.5 1.5 4.5 1.5 5.5 1.5 -1 2 3.5 1.5 0 1.5 -1 1.5 -3 1.5 -3 2 -4 1.5 -1 1.5 -5.5 1.5 .5 1.5 .5 2 2.5 1.5 -.5 1.5 -2.5 1.5 1.5 1.5 1 2 -1 1.5 1 1.5 -1.5 1.5 -1.5 1.5 0 2 3 1.5 -2 1.5 -1 1.5 1 1.5 2.5 2 -2.5 1.5 -.5 1.5 2.5 1.5 .5 1.5 0 2 -1 1.5 1.5 1.5 .5 1.5 -.5 1.5 -1 2 2.5 1.5 -1.5 1.5 -.5 1.5 -1 1.5 2.5 2 -.5 1.5 0 1.5 -1 1.5 -.5 1.5 0 2 0 1.5 -.5 1.5 -1.5 1.5 1 1.5 1.5 2 0 1.5 -1 1.5 2.5 1.5 .5 1.5 -1 2 -.5 1.5 1 1.5 -.5 1.5 -1.5 1.5 2.5 2 -1 1.5 .5 1.5 -1 1.5 .5 1.5 -1.5 2 2 1.5 1 1.5 -1 1.5 -.5 1.5 .5 2 -1 1.5 1.5 1.5 -.5 1.5 1.5 1.5 -2 2 1 1.5 -1.5 1.5 .5 1.5 .5 1.5 2 2 -1.5 1.5 -1 1.5 0 1.5 -.5 1.5 2 2 .5 1.5 -1 1.5 1 1.5 -1.5 1.5 -.5 2 1.5 1.5 -1.5 1.5 0 1.5 1.5 1.5 1 2 -2.5 1.5 1.5 1.5 1 1.5 1 1.5 -1.5 2 1.5 1.5 0 1.5 2 1.5 -.5 1.5 -.5 2 -1 1.5 0 1.5 .5 1.5 .5 1.5 -.5 2 -.5 1.5 -.5 1.5 0 1.5 1 1.5 0 2 -.5 1.5 1.5 1.5 1.5 1.5 -1 1.5 -.5 2 2 1.5 -2 1.5 .5 1.5 0 1.5 1.5 2 .5 1.5 -.5 1.5 -1 1.5 -.5 1.5 0 2 .5 1.5 .5 1.5 -1 1.5 -1 1.5 .5 2 0 1.5 -.5 1.5 -.5 1.5 .5 1.5 -.5 2 -1.5 1.5 0 1.5 -.5 1.5 -.5 1.5 0 2 -.5 1.5 1 1.5 2 1.5 -1 1.5 0 2 -.5 1.5 2.5 1.5 .5 1.5 -3 1.5 3 2 -1 1.5 2 1.5 0 1.5 -1 1.5 -.5 2 0 1.5 -.5 1.5 .5 1.5 -1.5 1.5 .5 2 -.5 1.5 .5 1.5 -2 1.5 1.5 1.5 -1 2 .5 1.5 2.5 1.5 -2 1.5 1.5 1.5 .5 2 0 1.5 .5 1.5 -.5 1.5 -1.5 1.5 2 2 .5 1.5 0 1.5 .5 1.5 -3 1.5 2 2 1.5 1.5 -3.5 1.5 -.5 1.5 -.5 1.5 1 2 1 1.5 -3 1.5 0 1.5 1 1.5 -1.5 2 .5 1.5 -.5 1.5 1 1.5 -1 1.5 1 2 1.5 1.5 -1.5 1.5 -1 1.5 -.5 1.5 2.5 2 1 1.5 -1 1.5 -2.5 1.5 -.5 1.5 .5 2 -.5 1.5 0 1.5 0 1.5 .5 1.5 -.5 2 1 1.5 1 1.5 -2.5 1.5 1 1.5 -1 2 2 1.5 .5 1.5 -3 1.5 1.5 1.5 -1 2 0 1.5 -1.5 1.5 1 1.5 1.5 1.5 0 2 -1.5 1.5 .5 1.5 0 1.5 1 1.5 1 2 -.5 1.5 1.5 1.5 -1 1.5 1.5 1.5 -3 2 -1 1.5 2 1.5 -2 1.5 -.5 1.5 -.5 2 1.5 1.5 -.5 1.5 -.5 1.5 .5 1.5 -3 2 1 1.5 -2 1.5 1 1.5 .5 1.5 1.5 2 -.5 1.5 -1 1.5 0 1.5 -.5 1.5 -.5 2 1 1.5 1.5 1.5 -1.5 1.5 2 1.5 -1.5 2 2 1.5 -2.5 1.5 -.5 1.5 1 1.5 .5 2 2 1.5 -10 1.5 4 1.5 4 1.5 6 2 .5 1.5 3 1.5 2.5 1.5 3 1.5 -3.5 2 3.5 1.5 2.5 1.5 4.5 1.5 -4 1.5 -1 2 -.5 1.5 -3 1.5 2 1.5 -2 1.5 0 2 0 1.5 2.5 1.5 -1 1.5 -1 1.5 -1 2 0 1.5 .5 1.5 1 1.5 -.5 1.5 -2.5 2 3.5 1.5 -1 1.5 -.5 1.5 .5 1.5 .5 2 .5 1.5 0 1.5 .5 1.5 -1 1.5 3 2 -3 1.5 2 1.5 -.5 1.5 1.5 1.5 -1.5 2 .5 1.5 0 1.5 -2 1.5 1 1.5 .5 2 .5 1.5 -.5 1.5 -2 1.5 2 1.5 -.5 2 1 1.5 0 1.5 -.5 1.5 .5 1.5 -.5 2 -1 1.5 1 1.5 -1 1.5 .5 1.5 .5 2 -2.5 1.5 2 1.5 -.5 1.5 .5 1.5 .5 2 0 1.5 -.5 1.5 1 1.5 -1 1.5 .5 2 -.5 1.5 0 1.5 0 1.5 .5 1.5 1 2 -3 1.5 2.5 1.5 -1 1.5 .5 1.5 .5 2 -2.5 1.5 1.5 1.5 1 1.5 0 1.5 1.5 2 -1 1.5 .5 1.5 -1.5 1.5 3 1.5 -2.5 2 -1.5 1.5 2.5 1.5 0 1.5 0 1.5 -1 2 1 1.5 -.5 1.5 -.5 1.5 .5 1.5 -2 2 -1 1.5 -4 1.5 -2 1.5 1 1.5 -1 2 -2 1.5 -6 1.5 -1 1.5 .5 1.5 2.5 2 2.5 1.5 -2 1.5 -3 1.5 -3.5 1.5 5.5 2 -3 1.5 4 1.5 -2 1.5 2 1.5 -2 2 .5 1.5 1 1.5 -.5 1.5 .5 1.5 -1.5 2 0 1.5 6 1.5 -7 1.5 0 1.5 2.5 2 -2.5 1.5 1 1.5 0 1.5 1.5 1.5 -1 2 1.5 1.5 -1 1.5 .5 1.5 0 1.5 1 2 1 1.5 -2.5 1.5 -1 1.5 .5 1.5 .5 2 -1.5 1.5 -1.5 1.5 1 1.5 -.5 1.5 1 2 -1.5 1.5 0 1.5 2.5 1.5 1.5 1.5 -.5 2 -2 1.5 0 1.5 3 1.5 0 1.5 -1 2 -2 1.5 1.5 1.5 .5 1.5 -1 1.5 0 2 1.5 1.5 -.5 1.5 .5 1.5 0 1.5 -.5 2 .5 1.5 1 1.5 -1 1.5 -.5 1.5 0 2 -2 1.5 1.5 1.5 .5 1.5 -1.5 1.5 -1.5 2 2 1.5 .5 1.5 .5 1.5 0 1.5 2 2 -1 1.5 2.5 1.5 -1.5 1.5 0 1.5 0 2 1 1.5 .5 1.5 0 1.5 -.5 1.5 .5 2 -.5 1.5 -1.5 1.5 -.5 1.5 .5 1.5 0 2 -1.5 1.5 1.5 1.5 .5 1.5 -1 1.5 .5 2 -1.5 1.5 1 1.5 -2.5 1.5 1 1.5 2 2 -1 1.5 .5 1.5 1.5 1.5 -1 1.5 0 2 -.5 1.5 1 1.5 -1.5 1.5 -.5 1.5 2 2 -.5 1.5 1 1.5 1 1.5 -.5 1.5 -1.5 2 0 1.5 1.5 1.5 1 1.5 -1 1.5 1.5 2 .5 1.5 -1 1.5 1 1.5 -1.5 1.5 0 2 .5 1.5 -.5 1.5 0 1.5 1.5" fill="none" stroke="#8a8a8a" stroke-width="2.0" stroke-linejoin="round" /><path d="M159,965.5l1.5 -3 1.5 -4.5 2 -3 1.5 -3.5 1.5 -5.5 1.5 2 1.5 -1 2 1 1.5 3.5 1.5 -2.5 1.5 1.5 1.5 -2 2 1 1.5 .5 1.5 -.5 1.5 -2 1.5 1 2 -1 1.5 -.5 1.5 .5 1.5 2.5 1.5 -2.5 2 -1 1.5 .5 1.5 .5 1.5 -.5 1.5 1 2 2 1.5 -2 1.5 0 1.5 0 1.5 0 2 -.5 1.5 0 1.5 1 1.5 -1 1.5 2 2 -.5 1.5 0 1.5 -1 1.5 -1 1.5 2 2 -.5 1.5 -1.5 1.5 1.5 1.5 0 1.5 .5 2 -2.5 1.5 1 1.5 1.5 1.5 -1 1.5 .5 2 .5 1.5 -1.5 1.5 3.5 1.5 -1.5 1.5 -.5 2 2 1.5 -1.5 1.5 3 1.5 -1 1.5 -.5 2 -.5 1.5 -1 1.5 2 1.5 -2.5 1.5 1.5 2 -.5 1.5 1.5 1.5 -1 1.5 -1 1.5 -2.5 2 2 1.5 1.5 1.5 0 1.5 -1.5 1.5 2 2 -1 1.5 -.5 1.5 1.5 1.5 -1.5 1.5 -1 2 1 1.5 -1 1.5 2 1.5 -2 1.5 1.5 2 -.5 1.5 -1 1.5 2.5 1.5 -1 1.5 1 2 -.5 1.5 -1 1.5 1.5 1.5 -2 1.5 2 2 0 1.5 0 1.5 .5 1.5 0 1.5 0 2 -1 1.5 .5 1.5 0 1.5 -1.5 1.5 2.5 2 0 1.5 -.5 1.5 -.5 1.5 -.5 1.5 1.5 2 -2.5 1.5 1.5 1.5 .5 1.5 0 1.5 .5 2 -.5 1.5 -1 1.5 0 1.5 .5 1.5 0 2 -1 1.5 0 1.5 -.5 1.5 1 1.5 2.5 2 0 1.5 -2.5 1.5 -1 1.5 3.5 1.5 .5 2 -2 1.5 2.5 1.5 1.5 1.5 -.5 1.5 -1.5 2 1.5 1.5 -1 1.5 .5 1.5 -.5 1.5 .5 2 -.5 1.5 1.5 1.5 -2.5 1.5 2 1.5 0 2 -1 1.5 -.5 1.5 -5 1.5 4.5 1.5 3.5 2 4 1.5 .5 1.5 3 1.5 2 1.5 -1.5 2 0 1.5 -5 1.5 2.5 1.5 3.5 1.5 7.5 2 -1 1.5 -1 1.5 -6 1.5 8 1.5 1 2 1.5 1.5 -5.5 1.5 -3 1.5 -2 1.5 5.5 2 .5 1.5 .5 1.5 -1.5 1.5 .5 1.5 -1.5 2 .5 1.5 1 1.5 -.5 1.5 .5 1.5 0 2 .5 1.5 -.5 1.5 -1 1.5 1.5 1.5 .5 2 -1 1.5 1 1.5 2 1.5 .5 1.5 -1.5 2 2 1.5 -2.5 1.5 1.5 1.5 1 1.5 -1.5 2 -1 1.5 2.5 1.5 -3.5 1.5 2.5 1.5 -2 2 0 1.5 -1 1.5 -1.5 1.5 2 1.5 -.5 2 -.5 1.5 -.5 1.5 2 1.5 -1 1.5 0 2 -3 1.5 4 1.5 -1.5 1.5 .5 1.5 -.5 2 -2 1.5 .5 1.5 1.5 1.5 0 1.5 -.5 2 2 1.5 0 1.5 -1 1.5 1 1.5 -1 2 -.5 1.5 1.5 1.5 1 1.5 -1.5 1.5 1.5 2 -1 1.5 -.5 1.5 0 1.5 .5 1.5 .5 2 -2.5 1.5 1.5 1.5 1 1.5 -.5 1.5 0 2 -.5 1.5 1.5 1.5 -2 1.5 -1 1.5 1 2 -1 1.5 1 1.5 -2 1.5 .5 1.5 3 2 -1.5 1.5 -1.5 1.5 .5 1.5 1 1.5 1.5 2 1.5 1.5 -1 1.5 .5 1.5 -1.5 1.5 0 2 1 1.5 -2 1.5 2.5 1.5 -2 1.5 1 2 -1 1.5 1.5 1.5 -1.5 1.5 1.5 1.5 .5 2 -1.5 1.5 0 1.5 2 1.5 -2 1.5 1.5 2 1.5 1.5 -2.5 1.5 1.5 1.5 0 1.5 -.5 2 -.5 1.5 0 1.5 0 1.5 0 1.5 -.5 2 -1 1.5 1.5 1.5 -1.5 1.5 .5 1.5 -1 2 .5 1.5 0 1.5 1 1.5 2 1.5 -3 2 -1.5 1.5 .5 1.5 2.5 1.5 -1.5 1.5 .5 2 1.5 1.5 -1.5 1.5 1.5 1.5 .5 1.5 -1.5 2 -.5 1.5 2.5 1.5 0 1.5 0 1.5 -1 2 1 1.5 1 1.5 -.5 1.5 -1 1.5 .5 2 -.5 1.5 .5 1.5 .5 1.5 .5 1.5 -2 2 1 1.5 0 1.5 -.5 1.5 0 1.5 .5 2 1 1.5 -.5 1.5 0 1.5 1.5 1.5 -.5 2 0 1.5 1 1.5 -1 1.5 0 1.5 .5 2 -2.5 1.5 1.5 1.5 -1 1.5 0 1.5 -1 2 3 1.5 -2.5 1.5 .5 1.5 .5 1.5 -2 2 1 1.5 1.5 1.5 0 1.5 .5 1.5 .5 2 0 1.5 0 1.5 1.5 1.5 -1 1.5 0 2 -1 1.5 -.5 1.5 2 1.5 .5 1.5 0 2 0 1.5 -2.5 1.5 2.5 1.5 -1.5 1.5 2 2 0 1.5 -1.5 1.5 -.5 1.5 2 1.5 -2.5 2 -.5 1.5 -1.5 1.5 1 1.5 1 1.5 -3 2 1 1.5 0 1.5 0 1.5 -.5 1.5 -.5 2 -.5 1.5 0 1.5 0 1.5 1 1.5 .5 2 .5 1.5 -2 1.5 2 1.5 -1.5 1.5 .5 2 -1 1.5 .5 1.5 0 1.5 0 1.5 0 2 -1 1.5 0 1.5 0 1.5 -.5 1.5 -.5 2 -.5 1.5 1.5 1.5 -.5 1.5 -1 1.5 1 2 -1 1.5 -.5 1.5 0 1.5 2 1.5 0 2 -1.5 1.5 0 1.5 1.5 1.5 2 1.5 -.5 2 -1 1.5 2 1.5 -1 1.5 0 1.5 1.5 2 -3 1.5 .5 1.5 0 1.5 -1.5 1.5 .5 2 0 1.5 -.5 1.5 -1 1.5 0 1.5 1 2 -2.5 1.5 3 1.5 1 1.5 1.5 1.5 -4 2 4 1.5 3 1.5 3 1.5 -2.5 1.5 -1.5 2 -6.5 1.5 1.5 1.5 1.5 1.5 4 1.5 -2 2 3 1.5 -4.5 1.5 2 1.5 -.5 1.5 -.5 2 -1.5 1.5 0 1.5 0 1.5 1 1.5 -1 2 -.5 1.5 .5 1.5 .5 1.5 -1.5 1.5 1.5 2 -1.5 1.5 0 1.5 1.5 1.5 -2.5 1.5 2.5 2 .5 1.5 -.5 1.5 -.5 1.5 1 1.5 2.5 2 -2 1.5 -1.5 1.5 1 1.5 -.5 1.5 0 2 -.5 1.5 2 1.5 1 1.5 .5 1.5 -1 2 -2.5 1.5 .5 1.5 1 1.5 -.5 1.5 -1.5 2 0 1.5 1 1.5 -.5 1.5 0 1.5 2.5 2 -3 1.5 -.5 1.5 1 1.5 -1.5 1.5 3.5 2 -2 1.5 .5 1.5 0 1.5 .5 1.5 .5 2 0 1.5 0 1.5 .5 1.5 0 1.5 0 2 0 1.5 -1.5 1.5 0 1.5 1.5 1.5 -.5 2 -2 1.5 2.5 1.5 -.5 1.5 0 1.5 1 2 1.5 1.5 -2 1.5 1 1.5 -.5 1.5 -.5 2 1 1.5 -.5 1.5 -1.5 1.5 -.5 1.5 1.5 2 -.5 1.5 .5 1.5 -3.5 1.5 4.5 1.5 -2.5 2 0 1.5 1.5 1.5 -.5 1.5 1.5 1.5 7 2 -7 1.5 -3.5 1.5 4.5 1.5 12 1.5 2.5 2 1.5 1.5 -3 1.5 4.5 1.5 1.5 1.5 1 2 1 1.5 -4 1.5 .5 1.5 -7.5 1.5 2 2 -8.5 1.5 -3.5 1.5 -5.5 1.5 -2 1.5 6 2 -.5 1.5 4.5 1.5 -5.5 1.5 5.5 1.5 1 2 0 1.5 -5 1.5 -2 1.5 -2 1.5 .5 2 -.5 1.5 -2.5 1.5 2.5 1.5 -.5 1.5 -2.5 2 1 1.5 2 1.5 -2 1.5 3 1.5 -2.5 2 -1 1.5 1.5 1.5 -1 1.5 1.5 1.5 -1 2 1 1.5 -.5 1.5 -.5 1.5 -2 1.5 -.5 2 1 1.5 -1 1.5 2.5 1.5 -1.5 1.5 -.5 2 -2.5 1.5 2 1.5 .5 1.5 -2.5 1.5 -1 2 1 1.5 -.5 1.5 0 1.5 0 1.5 -.5 2 1.5 1.5 -1.5 1.5 -1 1.5 2 1.5 -2 2 3.5 1.5 -2 1.5 0 1.5 1 1.5 -1 2 0 1.5 .5 1.5 0 1.5 -1 1.5 -.5 2 .5 1.5 0 1.5 0 1.5 0 1.5 .5 2 -2 1.5 0 1.5 0 1.5 -.5 1.5 .5 2 -.5 1.5 0 1.5 1 1.5 0 1.5 1.5 2 -.5 1.5 1 1.5 .5 1.5 .5 1.5 0 2 .5 1.5 -1.5 1.5 1 1.5 -.5 1.5 -2 2 2 1.5 0 1.5 -.5 1.5 0 1.5 -2.5 2 2.5 1.5 -2 1.5 -.5 1.5 0 1.5 1 2 -2 1.5 1 1.5 .5 1.5 -1 1.5 -1.5 2 .5 1.5 0 1.5 -1 1.5 2 1.5 1.5 2 -3.5 1.5 0 1.5 0 1.5 -2.5 1.5 1.5 2 2 1.5 .5 1.5 -2 1.5 0 1.5 .5 2 -.5 1.5 3.5 1.5 -1 1.5 -1" fill="none" stroke="#8a8a8a" stroke-width="2.0" stroke-linejoin="round" /><path d="M159,969l1.5 -3 1.5 -2.5 2 -10 1.5 -5.5 1.5 -2 1.5 2 1.5 4 2 .5 1.5 -3 1.5 1.5 1.5 0 1.5 1 2 .5 1.5 1 1.5 -.5 1.5 1.5 1.5 -2 2 1.5 1.5 -.5 1.5 .5 1.5 1 1.5 -2 2 0 1.5 -1.5 1.5 0 1.5 .5 1.5 2 2 -1.5 1.5 .5 1.5 -.5 1.5 0 1.5 -1 2 1.5 1.5 -1 1.5 1 1.5 .5 1.5 0 2 .5 1.5 -.5 1.5 -1 1.5 .5 1.5 -1 2 0 1.5 1.5 1.5 -1.5 1.5 -1 1.5 .5 2 -2 1.5 1 1.5 1.5 1.5 0 1.5 -.5 2 2.5 1.5 -1 1.5 2.5 1.5 0 1.5 -1.5 2 1.5 1.5 -.5 1.5 -1.5 1.5 .5 1.5 1 2 0 1.5 -1 1.5 .5 1.5 0 1.5 .5 2 .5 1.5 0 1.5 -.5 1.5 3 1.5 -1.5 2 .5 1.5 .5 1.5 -1.5 1.5 1 1.5 -3 2 4 1.5 -1.5 1.5 -1.5 1.5 1 1.5 2 2 -2 1.5 0 1.5 -.5 1.5 -1 1.5 .5 2 -.5 1.5 -.5 1.5 2 1.5 .5 1.5 -1.5 2 -1 1.5 3.5 1.5 -3.5 1.5 .5 1.5 -.5 2 3 1.5 -1.5 1.5 .5 1.5 0 1.5 -2 2 2 1.5 -1 1.5 0 1.5 2.5 1.5 .5 2 .5 1.5 .5 1.5 .5 1.5 1 1.5 -2.5 2 2 1.5 -.5 1.5 -.5 1.5 -1 1.5 3 2 -2 1.5 0 1.5 -.5 1.5 -2 1.5 1 2 -1 1.5 0 1.5 3 1.5 -3.5 1.5 2.5 2 0 1.5 3 1.5 -1.5 1.5 1 1.5 -.5 2 .5 1.5 1 1.5 -2 1.5 1 1.5 -1.5 2 0 1.5 1 1.5 -.5 1.5 1.5 1.5 -2 2 -.5 1.5 .5 1.5 0 1.5 -.5 1.5 3 2 -1 1.5 -1.5 1.5 -2 1.5 5 1.5 -.5 2 -3.5 1.5 1 1.5 1 1.5 4 1.5 0 2 3.5 1.5 1.5 1.5 4 1.5 .5 1.5 4 2 .5 1.5 -.5 1.5 -4.5 1.5 1 1.5 -6 2 2.5 1.5 -1.5 1.5 3.5 1.5 -3 1.5 1 2 -.5 1.5 .5 1.5 -2.5 1.5 1.5 1.5 -1.5 2 2 1.5 -.5 1.5 1.5 1.5 0 1.5 -.5 2 2.5 1.5 -1.5 1.5 0 1.5 -.5 1.5 1 2 0 1.5 2.5 1.5 -.5 1.5 -1.5 1.5 .5 2 1 1.5 0 1.5 -2 1.5 0 1.5 1.5 2 .5 1.5 0 1.5 -2 1.5 2 1.5 -2 2 2.5 1.5 -2.5 1.5 0 1.5 .5 1.5 0 2 -2 1.5 1 1.5 -1.5 1.5 1.5 1.5 1 2 1 1.5 0 1.5 -.5 1.5 1.5 1.5 1.5 2 -1.5 1.5 .5 1.5 -1 1.5 .5 1.5 .5 2 1 1.5 -.5 1.5 -.5 1.5 0 1.5 -1 2 1.5 1.5 -2 1.5 .5 1.5 -.5 1.5 -1 2 .5 1.5 1 1.5 -1.5 1.5 2.5 1.5 -2.5 2 1.5 1.5 -2 1.5 1 1.5 0 1.5 0 2 0 1.5 2 1.5 -2 1.5 1 1.5 .5 2 -1 1.5 -.5 1.5 .5 1.5 -.5 1.5 .5 2 -1 1.5 2 1.5 -2 1.5 1 1.5 2 2 -.5 1.5 -1 1.5 1 1.5 .5 1.5 -1.5 2 1 1.5 .5 1.5 .5 1.5 0 1.5 2 2 -2 1.5 1.5 1.5 -2 1.5 .5 1.5 .5 2 -1 1.5 0 1.5 -.5 1.5 1.5 1.5 -1.5 2 1.5 1.5 -1.5 1.5 1 1.5 .5 1.5 -.5 2 1 1.5 -1.5 1.5 1.5 1.5 -.5 1.5 .5 2 0 1.5 -1 1.5 1.5 1.5 -.5 1.5 .5 2 1 1.5 0 1.5 1 1.5 1 1.5 -1.5 2 -1 1.5 .5 1.5 -.5 1.5 .5 1.5 .5 2 1 1.5 -2.5 1.5 3 1.5 -1.5 1.5 1 2 -1.5 1.5 -.5 1.5 .5 1.5 -1 1.5 .5 2 0 1.5 -.5 1.5 1.5 1.5 0 1.5 1 2 .5 1.5 -.5 1.5 1 1.5 -1 1.5 .5 2 0 1.5 -1.5 1.5 2 1.5 -2.5 1.5 0 2 1 1.5 0 1.5 1 1.5 -.5 1.5 -.5 2 .5 1.5 -1 1.5 1.5 1.5 -1 1.5 2 2 -1 1.5 .5 1.5 1.5 1.5 -2.5 1.5 1 2 0 1.5 -.5 1.5 -1 1.5 4 1.5 -3 2 .5 1.5 -.5 1.5 3 1.5 -2.5 1.5 -.5 2 2 1.5 -1 1.5 1 1.5 0 1.5 -2 2 3.5 1.5 -3 1.5 .5 1.5 -1 1.5 -.5 2 -1.5 1.5 3.5 1.5 -3 1.5 1.5 1.5 -.5 2 0 1.5 .5 1.5 0 1.5 -1.5 1.5 0 2 1.5 1.5 -2.5 1.5 3.5 1.5 -2 1.5 .5 2 -1 1.5 2 1.5 -.5 1.5 1 1.5 -2 2 1 1.5 0 1.5 0 1.5 1 1.5 0 2 -1.5 1.5 1.5 1.5 -.5 1.5 -.5 1.5 -.5 2 2 1.5 -1.5 1.5 2 1.5 -1 1.5 .5 2 -.5 1.5 -1 1.5 1.5 1.5 -2.5 1.5 1 2 1 1.5 -3 1.5 1.5 1.5 0 1.5 .5 2 1.5 1.5 -.5 1.5 -3 1.5 .5 1.5 2 2 -1.5 1.5 1 1.5 1.5 1.5 .5 1.5 -.5 2 -1.5 1.5 -.5 1.5 0 1.5 -1 1.5 -.5 2 1.5 1.5 1 1.5 -.5 1.5 0 1.5 .5 2 .5 1.5 -.5 1.5 -.5 1.5 1.5 1.5 -.5 2 1 1.5 -2 1.5 1 1.5 -.5 1.5 3 2 -2.5 1.5 3.5 1.5 -.5 1.5 -1.5 1.5 -3 2 -4 1.5 1.5 1.5 -3 1.5 -1 1.5 -5 2 7.5 1.5 -.5 1.5 1.5 1.5 1 1.5 -3.5 2 1.5 1.5 -1.5 1.5 1.5 1.5 1 1.5 -1.5 2 1 1.5 0 1.5 -1 1.5 .5 1.5 1.5 2 .5 1.5 -2.5 1.5 .5 1.5 -.5 1.5 .5 2 0 1.5 -2 1.5 1 1.5 1 1.5 -1 2 1.5 1.5 1 1.5 -1 1.5 .5 1.5 .5 2 -1.5 1.5 1 1.5 0 1.5 2 1.5 -1 2 0 1.5 -1 1.5 -.5 1.5 2 1.5 -1 2 -.5 1.5 2 1.5 0 1.5 -1 1.5 .5 2 2 1.5 -1 1.5 1 1.5 -.5 1.5 -1 2 1.5 1.5 -1.5 1.5 2.5 1.5 -2 1.5 1 2 -1 1.5 -1.5 1.5 1.5 1.5 0 1.5 -.5 2 -1 1.5 3.5 1.5 -2.5 1.5 2 1.5 -.5 2 -1.5 1.5 1 1.5 1 1.5 .5 1.5 -2 2 2 1.5 -.5 1.5 -.5 1.5 -.5 1.5 0 2 .5 1.5 .5 1.5 -1.5 1.5 1.5 1.5 -.5 2 0 1.5 1 1.5 -1 1.5 0 1.5 0 2 -.5 1.5 1 1.5 0 1.5 -.5 1.5 1 2 3.5 1.5 4.5 1.5 -4.5 1.5 -2 1.5 .5 2 3.5 1.5 1.5 1.5 1 1.5 -9 1.5 -1.5 2 -6 1.5 4.5 1.5 -3 1.5 -1 1.5 -7 2 4 1.5 4 1.5 -.5 1.5 -3.5 1.5 -1 2 1 1.5 -1 1.5 -.5 1.5 4 1.5 3 2 3 1.5 -7 1.5 -1 1.5 1.5 1.5 -.5 2 1.5 1.5 -1 1.5 1 1.5 1.5 1.5 1 2 2.5 1.5 -2 1.5 -.5 1.5 .5 1.5 -.5 2 -2 1.5 -.5 1.5 .5 1.5 0 1.5 -2 2 1 1.5 -1 1.5 1.5 1.5 0 1.5 -.5 2 -3 1.5 .5 1.5 0 1.5 2 1.5 0 2 -.5 1.5 1 1.5 0 1.5 .5 1.5 -2.5 2 -1 1.5 0 1.5 -.5 1.5 2 1.5 1 2 -1 1.5 1 1.5 -3.5 1.5 2.5 1.5 .5 2 -1 1.5 .5 1.5 -1.5 1.5 1.5 1.5 2.5 2 -1.5 1.5 1 1.5 -2.5 1.5 .5 1.5 -1.5 2 1 1.5 -1 1.5 1.5 1.5 -1.5 1.5 .5 2 -2.5 1.5 .5 1.5 .5 1.5 -2 1.5 1 2 1 1.5 .5 1.5 -.5 1.5 .5 1.5 1 2 -1 1.5 1.5 1.5 -3 1.5 -.5 1.5 1.5 2 -1 1.5 -1 1.5 1 1.5 .5 1.5 .5 2 -1.5 1.5 -.5 1.5 0 1.5 -2.5 1.5 2.5 2 1 1.5 -1 1.5 -2 1.5 1.5 1.5 -1 2 -1 1.5 1 1.5 -2 1.5 1 1.5 .5 2 .5 1.5 -2 1.5 -.5 1.5 .5 1.5 1 2 -.5 1.5 2 1.5 0 1.5 -1 1.5 0 2 .5 1.5 -2.5 1.5 1 1.5 .5 1.5 -1 2 -.5 1.5 1 1.5 2.5 1.5 -1" fill="none" stroke="#8a8a8a" stroke-width="2.0" stroke-linejoin="round" /><path d="M159,971.5l1.5 -1.5 1.5 -5.5 2 -5 1.5 -4 1.5 0 1.5 -1.5 1.5 -1.5 2 .5 1.5 5 1.5 -1.5 1.5 -.5 1.5 .5 2 1 1.5 .5 1.5 -.5 1.5 -.5 1.5 -1 2 0 1.5 1 1.5 -.5 1.5 2 1.5 1 2 -1 1.5 -1 1.5 0 1.5 .5 1.5 2.5 2 -2.5 1.5 -1.5 1.5 3 1.5 -1.5 1.5 1 2 -1 1.5 -.5 1.5 1.5 1.5 -1 1.5 1.5 2 1.5 1.5 -3.5 1.5 2.5 1.5 0 1.5 -1.5 2 1 1.5 -2.5 1.5 2 1.5 -.5 1.5 -1.5 2 -1.5 1.5 1 1.5 .5 1.5 0 1.5 -1 2 1 1.5 -1 1.5 0 1.5 1 1.5 0 2 .5 1.5 2.5 1.5 -1 1.5 0 1.5 -.5 2 .5 1.5 -.5 1.5 1 1.5 .5 1.5 1.5 2 0 1.5 -1.5 1.5 .5 1.5 1 1.5 -2.5 2 1 1.5 0 1.5 -1 1.5 0 1.5 0 2 -1 1.5 2 1.5 -1.5 1.5 0 1.5 1 2 0 1.5 -1.5 1.5 -.5 1.5 2.5 1.5 -3 2 1 1.5 1.5 1.5 -2 1.5 .5 1.5 3 2 -2 1.5 .5 1.5 1 1.5 -2 1.5 2 2 0 1.5 2 1.5 -.5 1.5 0 1.5 -.5 2 -1 1.5 2 1.5 -1 1.5 0 1.5 -.5 2 1.5 1.5 -.5 1.5 0 1.5 -1 1.5 0 2 .5 1.5 1.5 1.5 -2.5 1.5 1 1.5 .5 2 0 1.5 -1 1.5 -1.5 1.5 .5 1.5 0 2 .5 1.5 0 1.5 1 1.5 -2 1.5 2 2 1.5 1.5 -1.5 1.5 -2 1.5 1.5 1.5 -1 2 2 1.5 1.5 1.5 -.5 1.5 -.5 1.5 -.5 2 0 1.5 0 1.5 -1 1.5 1 1.5 -.5 2 1.5 1.5 -2.5 1.5 3 1.5 -.5 1.5 .5 2 -1.5 1.5 2 1.5 4 1.5 -4.5 1.5 -1 2 .5 1.5 0 1.5 1 1.5 1.5 1.5 9.5 2 0 1.5 10 1.5 -1 1.5 1 1.5 -2 2 4 1.5 2.5 1.5 1 1.5 -5 1.5 -2 2 -3.5 1.5 -4 1.5 -3 1.5 -3 1.5 6 2 0 1.5 0 1.5 -1.5 1.5 -1 1.5 2 2 1.5 1.5 -1.5 1.5 1.5 1.5 -1 1.5 0 2 -1.5 1.5 3 1.5 -.5 1.5 -.5 1.5 1 2 0 1.5 2.5 1.5 -1 1.5 0 1.5 -.5 2 -.5 1.5 1 1.5 .5 1.5 1.5 1.5 -3.5 2 .5 1.5 1 1.5 1.5 1.5 -1 1.5 -1 2 0 1.5 1.5 1.5 1 1.5 -2.5 1.5 1.5 2 -1 1.5 .5 1.5 1.5 1.5 -.5 1.5 -2 2 1 1.5 .5 1.5 1 1.5 0 1.5 1 2 -2 1.5 -.5 1.5 0 1.5 -1 1.5 1.5 2 1 1.5 -.5 1.5 0 1.5 2 1.5 -2.5 2 0 1.5 .5 1.5 -.5 1.5 -.5 1.5 .5 2 -1.5 1.5 1.5 1.5 -1 1.5 -.5 1.5 0 2 -2 1.5 2 1.5 -1 1.5 .5 1.5 -1.5 2 1 1.5 0 1.5 2 1.5 -1.5 1.5 1 2 0 1.5 -.5 1.5 2 1.5 -2.5 1.5 .5 2 -.5 1.5 .5 1.5 0 1.5 -1.5 1.5 .5 2 -1 1.5 .5 1.5 2 1.5 -3 1.5 2.5 2 -1 1.5 1 1.5 -1.5 1.5 .5 1.5 1.5 2 .5 1.5 -.5 1.5 1 1.5 -1 1.5 0 2 1.5 1.5 -1 1.5 .5 1.5 -.5 1.5 -.5 2 -1 1.5 2 1.5 .5 1.5 -1 1.5 -1 2 1 1.5 1.5 1.5 .5 1.5 .5 1.5 -.5 2 .5 1.5 -.5 1.5 0 1.5 .5 1.5 -.5 2 .5 1.5 0 1.5 .5 1.5 -.5 1.5 -.5 2 0 1.5 -1 1.5 1.5 1.5 0 1.5 .5 2 -.5 1.5 -1 1.5 1 1.5 -1 1.5 .5 2 0 1.5 .5 1.5 .5 1.5 -1 1.5 0 2 1.5 1.5 .5 1.5 -1.5 1.5 .5 1.5 0 2 -.5 1.5 0 1.5 0 1.5 -1.5 1.5 0 2 1 1.5 1.5 1.5 -1 1.5 -3 1.5 2.5 2 -1.5 1.5 1 1.5 .5 1.5 1 1.5 -2 2 -.5 1.5 2 1.5 -.5 1.5 0 1.5 -1.5 2 2.5 1.5 1 1.5 -3.5 1.5 1.5 1.5 .5 2 3 1.5 -2.5 1.5 .5 1.5 1.5 1.5 -1 2 1 1.5 0 1.5 -1.5 1.5 -1 1.5 2 2 0 1.5 -.5 1.5 .5 1.5 -1 1.5 -1 2 -.5 1.5 2.5 1.5 -1 1.5 .5 1.5 .5 2 .5 1.5 -1 1.5 0 1.5 .5 1.5 -1 2 1.5 1.5 -1.5 1.5 1.5 1.5 0 1.5 -2.5 2 1.5 1.5 .5 1.5 -2 1.5 0 1.5 .5 2 0 1.5 -1 1.5 1 1.5 1 1.5 1 2 -.5 1.5 .5 1.5 -1.5 1.5 0 1.5 0 2 0 1.5 -.5 1.5 2 1.5 -1 1.5 .5 2 .5 1.5 -2 1.5 1 1.5 2.5 1.5 -1 2 -1 1.5 1.5 1.5 -1.5 1.5 .5 1.5 1 2 -1.5 1.5 1 1.5 .5 1.5 0 1.5 -1 2 1 1.5 .5 1.5 -2 1.5 2.5 1.5 -1.5 2 -1.5 1.5 1 1.5 -1 1.5 0 1.5 -1 2 2 1.5 -2 1.5 -1 1.5 -1 1.5 1.5 2 -1.5 1.5 2.5 1.5 -.5 1.5 -2 1.5 2 2 -1.5 1.5 1.5 1.5 -2 1.5 1.5 1.5 -.5 2 1.5 1.5 -1.5 1.5 0 1.5 .5 1.5 3.5 2 -2 1.5 7 1.5 -2 1.5 -1.5 1.5 -4 2 -1.5 1.5 -2 1.5 1 1.5 2 1.5 -2 2 0 1.5 0 1.5 .5 1.5 -.5 1.5 .5 2 0 1.5 1.5 1.5 -2.5 1.5 2 1.5 0 2 -1.5 1.5 -.5 1.5 1.5 1.5 -1 1.5 0 2 1 1.5 -1.5 1.5 1 1.5 -.5 1.5 0 2 .5 1.5 0 1.5 1 1.5 .5 1.5 -1.5 2 0 1.5 3 1.5 -.5 1.5 0 1.5 2 2 -3.5 1.5 1.5 1.5 1 1.5 -1 1.5 1 2 -1 1.5 -1.5 1.5 1.5 1.5 -2.5 1.5 2 2 -2 1.5 -2 1.5 2 1.5 1 1.5 -1.5 2 .5 1.5 .5 1.5 0 1.5 -.5 1.5 .5 2 -1 1.5 .5 1.5 1.5 1.5 -1 1.5 .5 2 -2 1.5 2.5 1.5 -1.5 1.5 0 1.5 .5 2 .5 1.5 -1.5 1.5 1 1.5 1.5 1.5 -.5 2 -1 1.5 0 1.5 .5 1.5 -.5 1.5 -.5 2 2 1.5 0 1.5 -.5 1.5 2 1.5 -1 2 1 1.5 -1.5 1.5 1 1.5 -1 1.5 -1 2 1 1.5 .5 1.5 2 1.5 -1.5 1.5 1 2 0 1.5 0 1.5 0 1.5 .5 1.5 .5 2 4 1.5 3.5 1.5 -1 1.5 -5.5 1.5 -5 2 4 1.5 6 1.5 4 1.5 .5 1.5 -7 2 -2 1.5 -3.5 1.5 3 1.5 1.5 1.5 -3.5 2 2 1.5 -5.5 1.5 0 1.5 -10 1.5 -1 2 0 1.5 4 1.5 7.5 1.5 6 1.5 1 2 -1 1.5 -6 1.5 -3 1.5 -.5 1.5 1 2 -1 1.5 0 1.5 1 1.5 -1 1.5 1 2 -1 1.5 -.5 1.5 1 1.5 0 1.5 -1.5 2 -1 1.5 2 1.5 0 1.5 -1.5 1.5 1 2 -1.5 1.5 2.5 1.5 -1.5 1.5 -.5 1.5 -.5 2 -1 1.5 .5 1.5 1 1.5 -2 1.5 .5 2 -.5 1.5 .5 1.5 -.5 1.5 1.5 1.5 -1.5 2 .5 1.5 -.5 1.5 1 1.5 -1 1.5 -1 2 1 1.5 0 1.5 .5 1.5 -1 1.5 1.5 2 -1.5 1.5 0 1.5 1 1.5 -1 1.5 1 2 .5 1.5 0 1.5 -1 1.5 -1 1.5 1.5 2 -.5 1.5 0 1.5 1 1.5 -1 1.5 1 2 -2.5 1.5 2 1.5 .5 1.5 0 1.5 -2 2 .5 1.5 1 1.5 0 1.5 -1.5 1.5 .5 2 0 1.5 .5 1.5 -.5 1.5 -.5 1.5 1.5 2 -.5 1.5 -2 1.5 1 1.5 -1 1.5 1.5 2 -.5 1.5 -1.5 1.5 2.5 1.5 -2.5 1.5 .5 2 -.5 1.5 -1.5 1.5 0 1.5 1 1.5 1 2 -1.5 1.5 0 1.5 1.5 1.5 -1 1.5 -.5 2 0 1.5 .5 1.5 -.5 1.5 0 1.5 -2 2 1 1.5 .5 1.5 -1 1.5 1 1.5 -.5 2 1.5 1.5 -1 1.5 2.5 1.5 -2 1.5 0 2 1.5 1.5 -2 1.5 -2 1.5 .5" fill="none" stroke="#8a8a8a" stroke-width="2.0" stroke-linejoin="round" /><path d="M159,998.5l1.5 -.5 1.5 5 2 -3 1.5 1.5 1.5 -2 1.5 2 1.5 -.5 2 2 1.5 1.5 1.5 0 1.5 1.5 1.5 -2.5 2 2 1.5 0 1.5 3 1.5 -.5 1.5 0 2 0 1.5 0 1.5 .5 1.5 .5 1.5 .5 2 -2 1.5 2 1.5 -1 1.5 -1.5 1.5 -.5 2 -1 1.5 .5 1.5 2.5 1.5 -1.5 1.5 2 2 0 1.5 -1.5 1.5 0 1.5 1 1.5 -1.5 2 -1 1.5 2.5 1.5 -2 1.5 -1 1.5 .5 2 0 1.5 -.5 1.5 -.5 1.5 2 1.5 -2 2 1 1.5 -.5 1.5 1 1.5 -1 1.5 1 2 -1 1.5 2 1.5 -1.5 1.5 .5 1.5 -.5 2 -2 1.5 2 1.5 -.5 1.5 1.5 1.5 -.5 2 -.5 1.5 .5 1.5 -1.5 1.5 -.5 1.5 1 2 0 1.5 1.5 1.5 -1 1.5 -.5 1.5 1 2 -1 1.5 -.5 1.5 -.5 1.5 1 1.5 -1 2 2.5 1.5 -2 1.5 1.5 1.5 -2.5 1.5 1 2 -1 1.5 2 1.5 .5 1.5 1 1.5 .5 2 .5 1.5 -1.5 1.5 1 1.5 0 1.5 0 2 0 1.5 -.5 1.5 -2.5 1.5 .5 1.5 2 2 -1.5 1.5 .5 1.5 -1.5 1.5 -.5 1.5 1.5 2 .5 1.5 -1.5 1.5 1.5 1.5 1.5 1.5 0 2 -1 1.5 .5 1.5 -1.5 1.5 0 1.5 2 2 -1 1.5 0 1.5 -1 1.5 1 1.5 0 2 -.5 1.5 -2 1.5 3 1.5 -3.5 1.5 2 2 0 1.5 2.5 1.5 -1.5 1.5 -2.5 1.5 3 2 0 1.5 -1.5 1.5 -2 1.5 .5 1.5 .5 2 1 1.5 -2 1.5 -1 1.5 -1 1.5 2.5 2 0 1.5 -1.5 1.5 2 1.5 .5 1.5 -1.5 2 2 1.5 -1.5 1.5 3.5 1.5 0 1.5 1 2 0 1.5 -1 1.5 1 1.5 -3 1.5 2 2 1 1.5 -3 1.5 -3 1.5 .5 1.5 1.5 2 2.5 1.5 0 1.5 1 1.5 5 1.5 0 2 3 1.5 0 1.5 3 1.5 -2.5 1.5 -2 2 -2 1.5 -1 1.5 -3 1.5 2 1.5 -3 2 0 1.5 0 1.5 2 1.5 -3 1.5 1 2 -1 1.5 1 1.5 -1 1.5 -1 1.5 1.5 2 1.5 1.5 -2 1.5 0 1.5 0 1.5 -.5 2 0 1.5 .5 1.5 -1.5 1.5 .5 1.5 -.5 2 2 1.5 -.5 1.5 -1.5 1.5 .5 1.5 1 2 -2 1.5 .5 1.5 0 1.5 1 1.5 1 2 -1 1.5 2.5 1.5 -2 1.5 -.5 1.5 .5 2 .5 1.5 0 1.5 1.5 1.5 0 1.5 -.5 2 -2 1.5 0 1.5 .5 1.5 2 1.5 -1 2 -1 1.5 1.5 1.5 -.5 1.5 1 1.5 -2 2 1 1.5 -.5 1.5 1 1.5 -1 1.5 -.5 2 1.5 1.5 -1 1.5 0 1.5 -.5 1.5 .5 2 -1.5 1.5 .5 1.5 .5 1.5 -.5 1.5 -.5 2 0 1.5 1 1.5 -1 1.5 -.5 1.5 -.5 2 -.5 1.5 .5 1.5 0 1.5 1.5 1.5 -.5 2 .5 1.5 -3 1.5 1 1.5 2 1.5 -1 2 -1.5 1.5 .5 1.5 0 1.5 1.5 1.5 1 2 -3 1.5 3.5 1.5 -1 1.5 -1 1.5 2.5 2 -2 1.5 -2 1.5 2.5 1.5 1.5 1.5 -.5 2 -1 1.5 1.5 1.5 -1.5 1.5 -1 1.5 -2.5 2 .5 1.5 1 1.5 .5 1.5 0 1.5 -2 2 -1 1.5 2.5 1.5 -1.5 1.5 -1 1.5 1.5 2 0 1.5 -2 1.5 3.5 1.5 -1 1.5 1 2 -.5 1.5 -1 1.5 1.5 1.5 -.5 1.5 1 2 -1 1.5 .5 1.5 -.5 1.5 2 1.5 -1.5 2 1.5 1.5 0 1.5 -.5 1.5 1.5 1.5 -2 2 1 1.5 -1 1.5 2 1.5 -1.5 1.5 -.5 2 -1.5 1.5 0 1.5 -.5 1.5 -.5 1.5 -1.5 2 .5 1.5 .5 1.5 -.5 1.5 -.5 1.5 2 2 -1.5 1.5 0 1.5 1.5 1.5 -2 1.5 .5 2 1 1.5 -1.5 1.5 1.5 1.5 1 1.5 -.5 2 0 1.5 .5 1.5 -.5 1.5 -.5 1.5 -.5 2 1.5 1.5 -1.5 1.5 0 1.5 0 1.5 -.5 2 .5 1.5 0 1.5 0 1.5 -.5 1.5 -1.5 2 -.5 1.5 0 1.5 -.5 1.5 1.5 1.5 -.5 2 .5 1.5 -.5 1.5 -1.5 1.5 1 1.5 .5 2 0 1.5 -2 1.5 1.5 1.5 0 1.5 -2 2 0 1.5 .5 1.5 -1 1.5 .5 1.5 -1 2 -.5 1.5 -1 1.5 0 1.5 1 1.5 -.5 2 1 1.5 -1.5 1.5 1.5 1.5 .5 1.5 -2 2 0 1.5 .5 1.5 0 1.5 1.5 1.5 -2 2 1 1.5 -1.5 1.5 -.5 1.5 -1 1.5 -.5 2 0 1.5 1 1.5 -2 1.5 -1 1.5 .5 2 -3 1.5 1.5 1.5 -2 1.5 .5 1.5 0 2 -.5 1.5 2.5 1.5 -2 1.5 1 1.5 -2 2 5 1.5 -1 1.5 0 1.5 -1 1.5 -1 2 1.5 1.5 -2 1.5 1 1.5 -2 1.5 2 2 0 1.5 -2.5 1.5 1 1.5 -1 1.5 .5 2 -2 1.5 0 1.5 -1 1.5 1 1.5 2 2 -2 1.5 -1.5 1.5 2.5 1.5 -3 1.5 .5 2 -.5 1.5 -.5 1.5 2 1.5 -1.5 1.5 -.5 2 -2.5 1.5 2 1.5 -1 1.5 -.5 1.5 -1 2 .5 1.5 -.5 1.5 0 1.5 2 1.5 .5 2 2 1.5 .5 1.5 -2.5 1.5 .5 1.5 -2 2 5.5 1.5 2 1.5 -3.5 1.5 -2 1.5 -1.5 2 -.5 1.5 1.5 1.5 0 1.5 1 1.5 -2.5 2 0 1.5 1 1.5 .5 1.5 1 1.5 -1 2 0 1.5 .5 1.5 -2.5 1.5 2.5 1.5 -2 2 1.5 1.5 -1 1.5 .5 1.5 0 1.5 -.5 2 0 1.5 .5 1.5 0 1.5 -1 1.5 1.5 2 .5 1.5 -2.5 1.5 1 1.5 0 1.5 2 2 -2.5 1.5 2 1.5 1 1.5 -3 1.5 2.5 2 -1 1.5 1 1.5 .5 1.5 -1 1.5 -.5 2 1 1.5 -.5 1.5 -1.5 1.5 1.5 1.5 -2.5 2 1 1.5 0 1.5 -2 1.5 2.5 1.5 -1.5 2 1.5 1.5 2 1.5 -1 1.5 -1 1.5 0 2 0 1.5 .5 1.5 2 1.5 -1.5 1.5 0 2 0 1.5 .5 1.5 -1 1.5 -.5 1.5 -.5 2 1.5 1.5 .5 1.5 -2 1.5 1 1.5 -1 2 -.5 1.5 1.5 1.5 -1.5 1.5 0 1.5 -1.5 2 2 1.5 -2 1.5 2 1.5 1 1.5 .5 2 .5 1.5 1.5 1.5 -2 1.5 0 1.5 1 2 -2 1.5 1.5 1.5 -2 1.5 1 1.5 -1 2 -4.5 1.5 .5 1.5 -.5 1.5 -3.5 1.5 5.5 2 -7.5 1.5 2.5 1.5 -5 1.5 0 1.5 4.5 2 -.5 1.5 1 1.5 -6 1.5 5.5 1.5 0 2 .5 1.5 .5 1.5 3 1.5 4.5 1.5 -4 2 4.5 1.5 3 1.5 3.5 1.5 -5 1.5 -6.5 2 -2 1.5 2.5 1.5 0 1.5 -1 1.5 1.5 2 -.5 1.5 2 1.5 0 1.5 0 1.5 -.5 2 3 1.5 -2.5 1.5 -.5 1.5 .5 1.5 0 2 -.5 1.5 1.5 1.5 -1.5 1.5 1 1.5 -.5 2 -.5 1.5 -.5 1.5 2 1.5 -.5 1.5 2 2 -2 1.5 1 1.5 -2 1.5 1 1.5 -1 2 -.5 1.5 -.5 1.5 -1.5 1.5 0 1.5 0 2 0 1.5 -3 1.5 .5 1.5 0 1.5 .5 2 3 1.5 -.5 1.5 -1 1.5 1.5 1.5 1 2 -1.5 1.5 1 1.5 0 1.5 -1.5 1.5 -1.5 2 .5 1.5 .5 1.5 0 1.5 -1 1.5 .5 2 -.5 1.5 .5 1.5 1.5 1.5 0 1.5 1 2 -.5 1.5 0 1.5 -.5 1.5 0 1.5 0 2 -1 1.5 0 1.5 1.5 1.5 -1.5 1.5 .5 2 -3.5 1.5 3 1.5 -1 1.5 0 1.5 -.5 2 1.5 1.5 .5 1.5 0 1.5 -1.5 1.5 .5 2 .5 1.5 .5 1.5 2.5 1.5 -1.5 1.5 .5 2 -1 1.5 -1 1.5 -.5 1.5 1 1.5 1 2 -1 1.5 -1.5 1.5 3 1.5 -1.5 1.5 0 2 -3.5 1.5 2.5 1.5 .5 1.5 .5 1.5 -3 2 2 1.5 0 1.5 -.5 1.5 0 1.5 -1.5 2 -.5 1.5 1 1.5 1 1.5 0 1.5 -3.5 2 2 1.5 -1.5 1.5 0 1.5 -1.5" fill="none" stroke="#8a8a8a" stroke-width="2.0" stroke-linejoin="round" /><path d="M156,1001.5l2 0 1.5 4 2 -.5 1.5 4 2 .5 2 1.5 1.5 -.5 2 -.5 1.5 0 2 1.5 2 .5 1.5 -.5 2 -.5 1.5 -2.5 2 0 2 -1 1.5 .5 2 3 1.5 -.5 2 1.5 2 -1.5 1.5 -1.5 2 2 1.5 -.5 2 -.5 2 -3.5 1.5 3 2 0 1.5 -1.5 2 -2 2 2 1.5 1 2 -1.5 1.5 0 2 2.5 2 -2 1.5 2 2 -2 1.5 1.5 2 .5 2 0 1.5 -.5 2 .5 1.5 0 2 .5 2 0 1.5 0 2 .5 1.5 .5 2 1.5 2 -1 1.5 2 2 -3 1.5 2.5 2 0 2 .5 1.5 -.5 2 1 1.5 -2.5 2 0 2 0 1.5 .5 2 1.5 1.5 -2.5 2 0 2 3 1.5 0 2 -2 1.5 2.5 2 -.5 2 1.5 1.5 -.5 2 -2.5 1.5 3 2 -1.5 2 4 1.5 -2 2 1.5 1.5 .5 2 .5 2 -.5 1.5 .5 2 -1.5 1.5 -.5 2 .5 2 1 1.5 -2 2 -2.5 1.5 1.5 2 -1.5 2 -1.5 1.5 5.5 2 -9.5 1.5 6.5 2 -2.5 2 3.5 1.5 -1 2 1 1.5 1 2 -1 2 -1.5 1.5 2 2 -2 1.5 .5 2 2 2 0 1.5 1.5 2 .5 1.5 -2 2 1 2 -1 1.5 2.5 2 -1 1.5 1.5 2 0 2 -1 1.5 1 2 1 1.5 -1 2 -1 2 1 1.5 .5 2 -4.5 1.5 6 2 -1 2 0 1.5 0 2 1 1.5 -.5 2 -.5 2 -2 1.5 -1.5 2 1.5 1.5 -3 2 -.5 2 .5 1.5 -11 2 -8 1.5 -10.5 2 -8.5 2 -2 1.5 -6 2 -2.5 1.5 -2.5 2 -3.5 2 -1 1.5 3.5 2 2.5 1.5 0 2 5 2 -1 1.5 3 2 -3.5 1.5 1 2 3 2 -2.5 1.5 1 2 -2 1.5 2.5 2 -1.5 2 0 1.5 2.5 2 -1.5 1.5 .5 2 -.5 2 -.5 1.5 .5 2 -1 1.5 1 2 1.5 2 -.5 1.5 -1 2 -1 1.5 .5 2 -2 2 1.5 1.5 1 2 -2.5 1.5 0 2 .5 2 1.5 1.5 -1 2 -3.5 1.5 2 2 .5 2 -1.5 1.5 1.5 2 -2 1.5 2 2 .5 2 -1.5 1.5 2 2 -2 1.5 1 2 -2 2 -.5 1.5 2 2 -5 1.5 3.5 2 -3.5 2 2.5 1.5 -2.5 2 1 1.5 -.5 2 -.5 2 0 1.5 -1.5 2 2 1.5 -.5 2 -.5 2 .5 1.5 -3.5 2 4 1.5 .5 2 0 2 0 1.5 -5 2 5 1.5 .5 2 .5 2 0 1.5 -1.5 2 .5 1.5 1 2 -1.5 2 2.5 1.5 -.5 2 1 1.5 -1.5 2 1 2 -1.5 1.5 -2.5 2 3.5 1.5 -.5 2 1 2 -2.5 1.5 1.5 2 -2 1.5 .5 2 -1 2 -2 1.5 0 2 .5 1.5 .5 2 3 2 -.5 1.5 -4 2 2 1.5 1 2 -2.5 2 2.5 1.5 -.5 2 -2 1.5 -2 2 0 2 1.5 1.5 -3 2 2 1.5 0 2 -2 2 0 1.5 .5 2 -2.5 1.5 5 2 0 2 -2.5 1.5 2.5 2 1 1.5 .5 2 1 2 -.5 1.5 .5 2 .5 1.5 0 2 -.5 2 -2 1.5 5 2 -5 1.5 3 2 0 2 1.5 1.5 -4 2 1 1.5 0 2 1 2 -1 1.5 -1 2 .5 1.5 1 2 -3 2 1 1.5 -1 2 -4 1.5 0 2 4.5 2 -2 1.5 -1 2 3 1.5 -1 2 1 2 0 1.5 -4 2 4.5 1.5 -1.5 2 -2.5 2 3.5 1.5 -1 2 -6.5 1.5 7 2 -2.5 2 -2 1.5 3.5 2 -2 1.5 4 2 1 2 -2.5 1.5 -1.5 2 1.5 1.5 -1 2 .5 2 1 1.5 0 2 -1.5 1.5 .5 2 -1 2 -5 1.5 1.5 2 3 1.5 -1 2 -1.5 2 .5 1.5 -6 2 7 1.5 -3 2 4.5 2 -4 1.5 2 2 -.5 1.5 -.5 2 4 2 -1.5 1.5 1 2 -2.5 1.5 -.5 2 1 2 0 1.5 -1 2 0 1.5 -3 2 2 2 0 1.5 -1 2 0 1.5 2 2 -3 2 3 1.5 -1 2 .5 1.5 1 2 .5 2 -1 1.5 .5 2 -1.5 1.5 0 2 -1.5 2 1 1.5 .5 2 -1 1.5 -1 2 1.5 2 1 1.5 -2 2 .5 1.5 -2.5 2 .5 2 .5 1.5 2.5 2 -1.5 1.5 1.5 2 1 2 -1.5 1.5 -1 2 1.5 1.5 -1.5 2 2.5 2 2 1.5 2.5 2 3.5 1.5 2 2 5.5 2 .5 1.5 4.5 2 -2 1.5 -3 2 -.5 2 -2 1.5 -2.5 2 2 1.5 3 2 -1 2 2 1.5 0 2 -2 1.5 1.5 2 0 2 0 1.5 0 2 -2 1.5 2 2 -1 2 0 1.5 1 2 1 1.5 0 2 .5 2 -3 1.5 .5 2 2 1.5 -1 2 0 2 -3 1.5 -.5 2 2 1.5 -3.5 2 -3 2 6 1.5 -1 2 1 1.5 -.5 2 -1.5 2 3.5 1.5 -.5 2 -2 1.5 -1 2 2.5 2 -2 1.5 .5 2 0 1.5 -.5 2 -.5 2 .5 1.5 0 2 0 1.5 1 2 -3.5 2 1 1.5 1 2 0 1.5 -2 2 .5 2 0 1.5 -1 2 -1 1.5 0 2 0 2 -1 1.5 -1 2 0 1.5 0 2 1 2 -.5 1.5 1 2 -.5 1.5 -1.5 2 .5 2 -2.5 1.5 2 2 -1.5 1.5 0 2 -1.5 2 -1 1.5 1 2 2 1.5 -.5 2 -8.5 2 7 1.5 -.5 2 -.5 1.5 1 2 -3 2 0 1.5 -3.5 2 -4 1.5 -1.5 2 -1.5 2 -2 1.5 -.5 2 2 1.5 1 2 -4 2 1.5 1.5 3 2 -2 1.5 .5 2 .5 2 1 1.5 -4 2 4.5 1.5 -3.5 2 4.5 2 3.5 1.5 5.5 2 4 1.5 1.5 2 2.5 2 .5 1.5 -2 2 2 1.5 -4 2 3 2 -.5 1.5 0 2 -1.5 1.5 1 2 .5 2 -3 1.5 -1.5 2 4.5 1.5 -.5 2 1 2 -1.5 1.5 1 2 .5 1.5 0 2 -1 2 0 1.5 1 2 .5 1.5 -1 2 -1 2 2.5 1.5 0 2 -1 1.5 1 2 0 2 -2 1.5 -3 2 0 1.5 2 2 2 2 2 1.5 0 2 .5 1.5 1 2 .5 2 1 1.5 -.5 2 1.5 1.5 0 2 -1.5 2 .5 1.5 -.5 2 3 1.5 -1.5 2 1 2 2.5 1.5 -1.5 2 0 1.5 1.5 2 1 2 .5 1.5 -4 2 3.5 1.5 .5 2 0 2 0 1.5 -.5 2 1 1.5 -.5 2 -4 2 2 1.5 3 2 -2 1.5 -1 2 .5 2 1 1.5 -1 2 .5 1.5 1.5 2 -2 2 0 1.5 -1.5 2 1.5 1.5 1.5 2 0 2 -.5 1.5 -1 2 .5 1.5 -.5 2 1.5 2 -.5 1.5 -2 2 3 1.5 -3 2 1 2 1 1.5 -1 2 .5 1.5 -1.5 2 1 2 -6.5 1.5 -1 2 -5.5 0 16 -2 3 -1.5 4 -2 1 -2 2 -1.5 .5 -2 -1 -1.5 2.5 -2 -1.5 -2 2 -1.5 -.5 -2 1 -1.5 -1 -2 2 -2 -4.5 -1.5 2 -2 -1.5 -1.5 1.5 -2 0 -2 -.5 -1.5 -2.5 -2 1 -1.5 1.5 -2 -.5 -2 0 -1.5 0 -2 2 -1.5 -3 -2 0 -2 .5 -1.5 .5 -2 .5 -1.5 -.5 -2 1 -2 -.5 -1.5 .5 -2 .5 -1.5 1 -2 -2.5 -2 .5 -1.5 0 -2 -1 -1.5 0 -2 .5 -2 .5 -1.5 -.5 -2 -1.5 -1.5 4 -2 -4.5 -2 -.5 -1.5 4.5 -2 -4.5 -1.5 2.5 -2 0 -2 -5 -1.5 0 -2 -1 -1.5 -1 -2 1 -2 -1 -1.5 -1 -2 -1.5 -1.5 -1 -2 4 -2 -4 -1.5 2 -2 -2 -1.5 .5 -2 .5 -2 -.5 -1.5 1 -2 -1 -1.5 -.5 -2 0 -2 3 -1.5 -2.5 -2 -.5 -1.5 -1.5 -2 0 -2 3 -1.5 -3 -2 5 -1.5 -4 -2 0 -2 -1.5 -1.5 1.5 -2 -1 -1.5 4.5 -2 -3.5 -2 -1 -1.5 -.5 -2 1 -1.5 .5 -2 1.5 -2 -1.5 -1.5 2 -2 1.5 -1.5 0 -2 -3 -2 1 -1.5 -5 -2 -2.5 -1.5 -3.5 -2 -4 -2 -3 -1.5 0 -2 -2 -1.5 4 -2 -4.5 -2 1.5 -1.5 -.5 -2 5.5 -1.5 -4 -2 -3.5 -2 4.5 -1.5 -3 -2 -2 -1.5 0 -2 .5 -2 7 -1.5 0 -2 4 -1.5 4.5 -2 -2 -2 0 -1.5 2 -2 .5 -1.5 -1 -2 4 -2 -4 -1.5 5.5 -2 -1.5 -1.5 -.5 -2 1 -2 0 -1.5 -1 -2 1 -1.5 -2 -2 1.5 -2 -.5 -1.5 1 -2 0 -1.5 -.5 -2 -.5 -2 1 -1.5 0 -2 -.5 -1.5 1.5 -2 1.5 -2 -.5 -1.5 -1 -2 3 -1.5 1.5 -2 -3.5 -2 1.5 -1.5 -.5 -2 .5 -1.5 0 -2 4.5 -2 -4 -1.5 2 -2 -1 -1.5 1.5 -2 0 -2 -1 -1.5 0 -2 2 -1.5 .5 -2 0 -2 2 -1.5 -2.5 -2 .5 -1.5 0 -2 -.5 -2 .5 -1.5 -.5 -2 -.5 -1.5 0 -2 3.5 -2 -4.5 -1.5 2.5 -2 0 -1.5 -1 -2 1.5 -2 -1 -1.5 1.5 -2 1 -1.5 -1.5 -2 -.5 -2 2 -1.5 -2.5 -2 3.5 -1.5 1 -2 -1.5 -2 -2 -1.5 0 -2 .5 -1.5 -1.5 -2 .5 -2 -.5 -1.5 1 -2 .5 -1.5 2.5 -2 -5 -2 .5 -1.5 2 -2 -3 -1.5 3 -2 2.5 -2 -2.5 -1.5 1 -2 6 -1.5 -5 -2 2 -2 -7.5 -1.5 -2.5 -2 -6.5 -1.5 -4.5 -2 2.5 -2 -3 -1.5 -1 -2 .5 -1.5 -.5 -2 0 -2 2 -1.5 -2 -2 4 -1.5 -1.5 -2 -3.5 -2 -.5 -1.5 1 -2 1.5 -1.5 -2 -2 -.5 -2 2.5 -1.5 -2 -2 1 -1.5 0 -2 0 -2 .5 -1.5 3.5 -2 -2 -1.5 -1 -2 .5 -2 -.5 -1.5 2.5 -2 -2 -1.5 .5 -2 -1 -2 .5 -1.5 3.5 -2 -4.5 -1.5 2.5 -2 2.5 -2 -2.5 -1.5 1.5 -2 -1.5 -1.5 -2 -2 2 -2 1 -1.5 -.5 -2 .5 -1.5 -.5 -2 .5 -2 .5 -1.5 -2 -2 1 -1.5 5 -2 -4 -2 2.5 -1.5 -5.5 -2 2 -1.5 -2 -2 3 -2 0 -1.5 -2.5 -2 2.5 -1.5 -2.5 -2 .5 -2 1 -1.5 1.5 -2 -.5 -1.5 .5 -2 5.5 -2 -3 -1.5 0 -2 -1 -1.5 -.5 -2 3 -2 .5 -1.5 -.5 -2 2.5 -1.5 -6 -2 3 -2 4.5 -1.5 -7 -2 0 -1.5 3 -2 -2.5 -2 -.5 -1.5 -1 -2 0 -1.5 2 -2 -1 -2 -1.5 -1.5 4.5 -2 -2.5 -1.5 -1.5 -2 -.5 -2 0 -1.5 1 -2 -.5 -1.5 3.5 -2 2.5 -2 -3 -1.5 0 -2 1 -1.5 -.5 -2 1 -2 0 -1.5 1.5 -2 2 -1.5 -2.5 -2 3.5 -2 -3 -1.5 -.5 -2 1.5 -1.5 -.5 -2 1.5 -2 .5 -1.5 -3 -2 0 -1.5 -2 -2 1 -2 -1 -1.5 -.5 -2 -1.5 -1.5 0 -2 1.5 -2 -3 -1.5 0 -2 -2 -1.5 .5 -2 1 -2 0 -1.5 .5 -2 1.5 -1.5 -.5 -2 0 -2 .5 -1.5 2 -2 1.5 -1.5 2.5 -2 -1.5 -2 -1 -1.5 0 -2 1 -1.5 -2 -2 .5 -2 3 -1.5 -1 -2 -.5 -1.5 -2 -2 2.5 -2 1 -1.5 -2.5 -2 4.5 -1.5 -3.5 -2 1 -2 2 -1.5 -1.5 -2 0 -1.5 .5 -2 .5 -2 1 -1.5 .5 -2 -3 -1.5 .5 -2 1 -2 -.5 -1.5 .5 -2 -1.5 -1.5 1 -2 -3.5 -2 -.5 -1.5 .5 -2 0 -1.5 1.5 -2 -1.5 -2 .5 -1.5 1.5 -2 -2 -1.5 1 -2 .5 -2 2.5 -1.5 -4.5 -2 .5 -1.5 1.5 -2 -.5 -2 0 -1.5 -1 -2 2 -1.5 1 -2 -1.5 -2 2.5 -1.5 -1.5 -2 4.5 -1.5 -2.5 -2 4.5 -2 -4.5 -1.5 2.5 -2 0 -1.5 -2 -2 0 -2 1 -1.5 0 -2 0 -1.5 .5 -2 -.5 -2 1 -1.5 3 -2 -3.5 -1.5 0 -2 1.5 -2 0 -1.5 .5 -2 1 -1.5 .5 -2 .5 -2 -4 -1.5 .5 -2 .5 -1.5 -.5 -2 1.5 -2 .5 -1.5 -.5 -2 3 -1.5 -3.5 -2 2 -2 -2 -1.5 0 -2 2 -1.5 0 -2 -2.5 -2 2 -1.5 -.5 -2 -.5 -1.5 .5 -2 -1.5 -2 4 -1.5 -3 -2 0 -1.5 1.5 -2 -3.5 -2 -3 -1.5 .5 -2 -4 -1.5 -3 -2 2.5 -2 2 -1.5 2.5 -2 3 -1.5 4.5 -2 2.5 -2 8 -1.5 9.5 -2 11 -1.5 8 -2 3.5 -2 -1.5 -1.5 2.5 -2 -1 -1.5 0 -2 5 -2 -3 -1.5 1 -2 0 -1.5 0 -2 -.5 -2 -.5 -1.5 .5 -2 1 -1.5 -.5 -2 -2 -2 1.5 -1.5 0 -2 2.5 -1.5 -.5 -2 -3 -2 -1 -1.5 .5 -2 3 -1.5 -3.5 -2 1 -2 -1.5 -1.5 4 -2 -4 -1.5 0 -2 -2 -2 0 -1.5 -.5 -2 -1 -1.5 2.5 -2 -.5 -2 -1 -1.5 0 -2 -.5 -1.5 -1 -2 1 -2 1.5 -1.5 4 -2 -2.5 -1.5 .5 -2 -2 -2 .5 -1.5 0 -2 .5 -1.5 3 -2 0 -2 .5 -1.5 -3.5 -2 -1 -1.5 4 -2 -3 -2 .5 -1.5 -1 -2 -.5 -1.5 1.5 -2 2 -2 -2.5 -1.5 -2 -2 1 -1.5 0 -2 -2 -2 2.5 -1.5 -2 -2 -.5 -1.5 -1 -2 -1.5 -2 5 -1.5 -4 -2 -1 -1.5 1 -2 1 -2 1 -1.5 -2 -2 -.5 -1.5 .5 -2 -.5 -2 .5 -1.5 2 -2 -2.5 -1.5 .5 -2 -2 -2 -.5 -1.5 0 -2 .5 -1.5 1.5 -2 -.5 -2 -1.5 -1.5 .5 -2 -2.5 -1.5 1.5 -2 1.5 -2 -3.5 -1.5 2 -2 -2 -1.5 .5 -2 5 -2 -3 -1.5 -.5 -2 0 -1.5 -3 -2 1 -2 4 -1.5 -4 -2 2 -1.5 -2 -2 3 -2 -1 -1.5 1.5 -2 .5 -1.5 -1 -2 0 -2 2.5 -1.5 -3 -2 0 -1.5 0 -2 1 -2 1.5 -1.5 -4.5 -2 2.5 -1.5 .5 -2 -.5 -2 -2 -1.5 1 -2 0 -1.5 .5 -2 .5 -2 .5 -1.5 -3 -2 -2.5 -1.5 -3.5 -2 0Z" fill="#486c7c" /></g>
<line x1="158.0" y1="855.7" x2="1244.0" y2="855.7" stroke="#62605e" stroke-width="1.8"/>
<line x1="158.0" y1="1042.5" x2="1244.0" y2="1042.5" stroke="#62605e" stroke-width="1.8"/>
<path d="M201.9,855.7v3.5M201.9,1042.5v-3.5M245.3,855.7v3.5M245.3,1042.5v-3.5M288.7,855.7v3.5M288.7,1042.5v-3.5M332.1,855.7v3.5M332.1,1042.5v-3.5M375.5,855.7v6.0M375.5,1042.5v-6.0M418.9,855.7v3.5M418.9,1042.5v-3.5M462.3,855.7v3.5M462.3,1042.5v-3.5M505.7,855.7v3.5M505.7,1042.5v-3.5M549.1,855.7v3.5M549.1,1042.5v-3.5M592.5,855.7v6.0M592.5,1042.5v-6.0M635.9,855.7v3.5M635.9,1042.5v-3.5M679.3,855.7v3.5M679.3,1042.5v-3.5M722.7,855.7v3.5M722.7,1042.5v-3.5M766.1,855.7v3.5M766.1,1042.5v-3.5M809.5,855.7v6.0M809.5,1042.5v-6.0M852.9,855.7v3.5M852.9,1042.5v-3.5M896.3,855.7v3.5M896.3,1042.5v-3.5M939.7,855.7v3.5M939.7,1042.5v-3.5M983.1,855.7v3.5M983.1,1042.5v-3.5M1026.5,855.7v6.0M1026.5,1042.5v-6.0M1069.9,855.7v3.5M1069.9,1042.5v-3.5M1113.3,855.7v3.5M1113.3,1042.5v-3.5M1156.7,855.7v3.5M1156.7,1042.5v-3.5M1200.1,855.7v3.5M1200.1,1042.5v-3.5M160.0,856.9h3.8M1243.0,856.9h-3.8M160.0,869.0h7.0M1243.0,869.0h-7.0M160.0,881.1h3.8M1243.0,881.1h-3.8M160.0,893.2h3.8M1243.0,893.2h-3.8M160.0,905.4h3.8M1243.0,905.4h-3.8M160.0,917.5h7.0M1243.0,917.5h-7.0M160.0,929.6h3.8M1243.0,929.6h-3.8M160.0,941.8h3.8M1243.0,941.8h-3.8M160.0,953.9h3.8M1243.0,953.9h-3.8M160.0,966.0h7.0M1243.0,966.0h-7.0M160.0,978.1h3.8M1243.0,978.1h-3.8M160.0,990.2h3.8M1243.0,990.2h-3.8M160.0,1002.4h3.8M1243.0,1002.4h-3.8M160.0,1014.5h7.0M1243.0,1014.5h-7.0M160.0,1026.6h3.8M1243.0,1026.6h-3.8M160.0,1038.8h3.8M1243.0,1038.8h-3.8" stroke="#62605e" stroke-width="1.6" fill="none"/>
<text transform="translate(136.6,876.6) scale(0.93,1)" font-size="36" fill="#575757" text-anchor="end">0.08</text>
<text transform="translate(136.6,925.8) scale(0.93,1)" font-size="36" fill="#575757" text-anchor="end">0.04</text>
<text transform="translate(136.6,973.6) scale(0.93,1)" font-size="36" fill="#575757" text-anchor="end">0.00</text>
<text transform="translate(136.6,1022.2) scale(0.93,1)" font-size="36" fill="#575757" text-anchor="end">-0.04</text>
<rect x="158.0" y="1058.3" width="30.9" height="189.7" fill="#dfdfdf"/>
<rect x="221.4" y="1058.3" width="60.8" height="189.7" fill="#dfdfdf"/>
<rect x="312.6" y="1058.3" width="128.0" height="189.7" fill="#dfdfdf"/>
<rect x="573.0" y="1058.3" width="112.8" height="189.7" fill="#dfdfdf"/>
<rect x="809.5" y="1058.3" width="80.3" height="189.7" fill="#dfdfdf"/>
<rect x="970.1" y="1058.3" width="108.5" height="189.7" fill="#dfdfdf"/>
<rect x="1195.8" y="1058.3" width="47.7" height="189.7" fill="#dfdfdf"/>
<g clip-path="url(#clipS2)"><path d="M159,1085l1.5 -3 1.5 0 2 .5 1.5 -3.5 1.5 -1 1.5 .5 1.5 2 2 -1.5 1.5 1 1.5 -1.5 1.5 -2.5 1.5 -.5 2 .5 1.5 2 1.5 -1 1.5 1 1.5 0 2 -.5 1.5 -2 1.5 .5 1.5 0 1.5 -1 2 -1.5 1.5 1 1.5 1 1.5 -1 1.5 2.5 2 -1.5 1.5 -.5 1.5 -.5 1.5 .5 1.5 -.5 2 -.5 1.5 2 1.5 2 1.5 -1.5 1.5 2.5 2 -3 1.5 -1 1.5 1.5 1.5 -1 1.5 2 2 1 1.5 -2 1.5 2.5 1.5 -1.5 1.5 0 2 0 1.5 .5 1.5 1 1.5 -1 1.5 0 2 -2 1.5 1.5 1.5 -3.5 1.5 1 1.5 0 2 -.5 1.5 .5 1.5 0 1.5 0 1.5 0 2 1 1.5 -1.5 1.5 -.5 1.5 1.5 1.5 1 2 .5 1.5 .5 1.5 -1 1.5 1.5 1.5 -.5 2 .5 1.5 .5 1.5 -.5 1.5 1.5 1.5 -2.5 2 1.5 1.5 -1 1.5 -.5 1.5 1 1.5 -2.5 2 -1 1.5 1 1.5 -.5 1.5 1 1.5 -1.5 2 .5 1.5 .5 1.5 -1 1.5 0 1.5 .5 2 .5 1.5 1.5 1.5 -1 1.5 1.5 1.5 0 2 -3.5 1.5 4 1.5 0 1.5 -3 1.5 1 2 .5 1.5 -1 1.5 -1.5 1.5 1.5 1.5 0 2 -1 1.5 1.5 1.5 -.5 1.5 -2.5 1.5 2 2 1.5 1.5 0 1.5 -1 1.5 3.5 1.5 -3.5 2 1.5 1.5 .5 1.5 -1 1.5 -.5 1.5 -.5 2 2 1.5 -3 1.5 1.5 1.5 -.5 1.5 1 2 -1 1.5 .5 1.5 -1 1.5 1 1.5 -1 2 1 1.5 .5 1.5 -1.5 1.5 1.5 1.5 .5 2 -1 1.5 1 1.5 .5 1.5 -2.5 1.5 -.5 2 2 1.5 .5 1.5 -2.5 1.5 2 1.5 -1 2 -1 1.5 2 1.5 3 1.5 -3.5 1.5 2.5 2 5.5 1.5 8 1.5 .5 1.5 2.5 1.5 -.5 2 -3.5 1.5 -6 1.5 -2 1.5 3.5 1.5 3 2 4 1.5 4 1.5 5.5 1.5 1 1.5 -.5 2 5 1.5 -5 1.5 4.5 1.5 1 1.5 2.5 2 1.5 1.5 .5 1.5 .5 1.5 -.5 1.5 -1 2 -.5 1.5 2 1.5 -1.5 1.5 -.5 1.5 -2.5 2 0 1.5 1 1.5 .5 1.5 -2 1.5 1 2 1 1.5 1 1.5 1 1.5 -.5 1.5 -1.5 2 1 1.5 -.5 1.5 1 1.5 .5 1.5 0 2 .5 1.5 -1 1.5 -1 1.5 -1.5 1.5 -.5 2 -1 1.5 1.5 1.5 -1 1.5 .5 1.5 1.5 2 0 1.5 -1.5 1.5 0 1.5 2.5 1.5 -1.5 2 .5 1.5 .5 1.5 -2.5 1.5 3 1.5 0 2 2 1.5 -.5 1.5 -.5 1.5 -1.5 1.5 1.5 2 -1.5 1.5 2 1.5 1 1.5 -1 1.5 -.5 2 0 1.5 -1 1.5 -2 1.5 -1.5 1.5 1 2 1.5 1.5 .5 1.5 -.5 1.5 2 1.5 1 2 -1 1.5 -2.5 1.5 4.5 1.5 -1.5 1.5 .5 2 1 1.5 -1.5 1.5 .5 1.5 -.5 1.5 -.5 2 -1 1.5 -.5 1.5 -.5 1.5 .5 1.5 -.5 2 .5 1.5 -.5 1.5 0 1.5 0 1.5 .5 2 0 1.5 0 1.5 3 1.5 -2 1.5 1.5 2 -.5 1.5 -.5 1.5 0 1.5 0 1.5 -1 2 2 1.5 -2.5 1.5 1 1.5 -2.5 1.5 1 2 .5 1.5 0 1.5 -1 1.5 .5 1.5 2 2 1 1.5 -2.5 1.5 -.5 1.5 3 1.5 0 2 0 1.5 -1 1.5 1.5 1.5 -1.5 1.5 1 2 0 1.5 .5 1.5 -.5 1.5 1 1.5 -.5 2 .5 1.5 -.5 1.5 -1 1.5 1.5 1.5 -1.5 2 -.5 1.5 1 1.5 -.5 1.5 -3.5 1.5 0 2 .5 1.5 .5 1.5 -1 1.5 -.5 1.5 .5 2 .5 1.5 1.5 1.5 -2 1.5 1 1.5 1.5 2 -.5 1.5 1 1.5 -2 1.5 .5 1.5 1 2 .5 1.5 -1.5 1.5 1.5 1.5 -.5 1.5 -.5 2 -.5 1.5 0 1.5 -.5 1.5 0 1.5 2 2 0 1.5 -1.5 1.5 1 1.5 0 1.5 1 2 -1 1.5 1 1.5 .5 1.5 -2.5 1.5 -.5 2 -.5 1.5 2.5 1.5 0 1.5 2 1.5 -.5 2 -1 1.5 -2 1.5 .5 1.5 -2 1.5 1.5 2 .5 1.5 0 1.5 1 1.5 -.5 1.5 -2.5 2 1.5 1.5 1 1.5 -1 1.5 -.5 1.5 1 2 .5 1.5 -2 1.5 1 1.5 .5 1.5 -3 2 0 1.5 -1 1.5 .5 1.5 0 1.5 0 2 -.5 1.5 0 1.5 -1 1.5 0 1.5 1.5 2 0 1.5 1.5 1.5 -1 1.5 .5 1.5 0 2 0 1.5 -1 1.5 .5 1.5 -1 1.5 1 2 .5 1.5 -.5 1.5 0 1.5 -.5 1.5 .5 2 -3 1.5 .5 1.5 2.5 1.5 -2 1.5 1 2 0 1.5 1.5 1.5 -2 1.5 -2 1.5 3 2 -2 1.5 1 1.5 3 1.5 -3.5 1.5 .5 2 -.5 1.5 0 1.5 -2 1.5 0 1.5 -1.5 2 0 1.5 0 1.5 -.5 1.5 1.5 1.5 -1.5 2 -.5 1.5 3.5 1.5 0 1.5 -1 1.5 2.5 2 -.5 1.5 2 1.5 -2 1.5 2 1.5 -2 2 -.5 1.5 0 1.5 1 1.5 -.5 1.5 -1.5 2 1 1.5 0 1.5 0 1.5 0 1.5 1 2 1 1.5 -2 1.5 -1 1.5 3 1.5 7.5 2 1 1.5 4.5 1.5 -5 1.5 .5 1.5 1 2 0 1.5 -3.5 1.5 2 1.5 .5 1.5 2.5 2 -1.5 1.5 -.5 1.5 -.5 1.5 1.5 1.5 -2.5 2 2 1.5 .5 1.5 1 1.5 -.5 1.5 0 2 -.5 1.5 -1.5 1.5 2 1.5 .5 1.5 -2 2 1 1.5 .5 1.5 -.5 1.5 -1 1.5 .5 2 -1 1.5 1 1.5 -2 1.5 2 1.5 -1 2 0 1.5 .5 1.5 -.5 1.5 1.5 1.5 -1.5 2 1.5 1.5 -2 1.5 1.5 1.5 .5 1.5 -1 2 -1 1.5 2.5 1.5 .5 1.5 -1.5 1.5 2.5 2 -5 1.5 4 1.5 0 1.5 1.5 1.5 1 2 -2.5 1.5 1 1.5 .5 1.5 -2 1.5 .5 2 -2.5 1.5 .5 1.5 1.5 1.5 0 1.5 -1.5 2 2 1.5 -1 1.5 1.5 1.5 -2 1.5 2 2 -2 1.5 -.5 1.5 1 1.5 2 1.5 -1 2 .5 1.5 -.5 1.5 -.5 1.5 -.5 1.5 1 2 1 1.5 .5 1.5 2 1.5 -2.5 1.5 0 2 -1.5 1.5 .5 1.5 -.5 1.5 3 1.5 -2 2 -1.5 1.5 1.5 1.5 0 1.5 -1 1.5 1 2 .5 1.5 -1 1.5 2.5 1.5 -1.5 1.5 5.5 2 -3 1.5 -3 1.5 3.5 1.5 18 1.5 5 2 -5.5 1.5 -7 1.5 0 1.5 -2.5 1.5 -2.5 2 -2.5 1.5 -8 1.5 0 1.5 -3 1.5 3 2 1 1.5 3.5 1.5 -1 1.5 -1.5 1.5 -3 2 -1.5 1.5 6.5 1.5 -5 1.5 6 1.5 -1 2 .5 1.5 -3 1.5 2 1.5 .5 1.5 1 2 -1.5 1.5 -.5 1.5 1.5 1.5 1.5 1.5 -.5 2 1 1.5 -2.5 1.5 1 1.5 -2 1.5 1 2 -.5 1.5 -1 1.5 .5 1.5 1 1.5 .5 2 2 1.5 .5 1.5 -2 1.5 .5 1.5 0 2 1 1.5 .5 1.5 -1 1.5 2 1.5 0 2 -1.5 1.5 -1 1.5 0 1.5 1.5 1.5 -.5 2 1.5 1.5 -1 1.5 .5 1.5 1 1.5 -.5 2 -.5 1.5 0 1.5 .5 1.5 0 1.5 .5 2 -1 1.5 -.5 1.5 .5 1.5 -.5 1.5 .5 2 .5 1.5 -.5 1.5 0 1.5 1.5 1.5 -.5 2 1.5 1.5 -1 1.5 .5 1.5 .5 1.5 .5 2 -1 1.5 .5 1.5 -1 1.5 .5 1.5 -1 2 1.5 1.5 0 1.5 .5 1.5 1 1.5 1 2 -1.5 1.5 0 1.5 2 1.5 0 1.5 2.5 2 -2.5 1.5 -.5 1.5 0 1.5 0 1.5 -1 2 2 1.5 -3 1.5 3 1.5 0 1.5 0 2 -1 1.5 -.5 1.5 2 1.5 -2 1.5 1.5 2 .5 1.5 -1.5 1.5 -.5 1.5 .5 1.5 0 2 -2 1.5 1 1.5 0 1.5 1 1.5 1.5 2 2 1.5 -.5 1.5 -.5 1.5 -1.5 1.5 2.5 2 .5 1.5 -2 1.5 .5 1.5 -1.5 1.5 -.5 2 2.5 1.5 3 1.5 2.5 1.5 4" fill="none" stroke="#8a8a8a" stroke-width="2.0" stroke-linejoin="round" /><path d="M159,1090l1.5 -4.5 1.5 -2.5 2 -1.5 1.5 -4 1.5 -3.5 1.5 3 1.5 1 2 4.5 1.5 -.5 1.5 -1 1.5 -1 1.5 0 2 1.5 1.5 1 1.5 -1 1.5 0 1.5 .5 2 -2 1.5 1.5 1.5 -1.5 1.5 -.5 1.5 -.5 2 .5 1.5 1 1.5 -2 1.5 -1.5 1.5 2.5 2 -.5 1.5 -.5 1.5 .5 1.5 1 1.5 -.5 2 .5 1.5 1 1.5 -1 1.5 .5 1.5 2 2 -1.5 1.5 -1.5 1.5 2 1.5 .5 1.5 -4 2 -2 1.5 2.5 1.5 -2 1.5 1.5 1.5 .5 2 -.5 1.5 -.5 1.5 -1.5 1.5 2.5 1.5 -3.5 2 1 1.5 2.5 1.5 -1 1.5 0 1.5 .5 2 1 1.5 -2 1.5 2 1.5 -1 1.5 0 2 1 1.5 0 1.5 1 1.5 -.5 1.5 -.5 2 1.5 1.5 -1 1.5 0 1.5 -2 1.5 1 2 1 1.5 .5 1.5 -2.5 1.5 1 1.5 1 2 1 1.5 -2 1.5 .5 1.5 0 1.5 -1 2 2.5 1.5 -1.5 1.5 -1 1.5 0 1.5 -.5 2 1.5 1.5 -1.5 1.5 -.5 1.5 .5 1.5 2.5 2 -1.5 1.5 -1.5 1.5 .5 1.5 1.5 1.5 0 2 1.5 1.5 -.5 1.5 -1 1.5 0 1.5 0 2 -.5 1.5 -1.5 1.5 -1.5 1.5 1.5 1.5 -.5 2 0 1.5 0 1.5 -1.5 1.5 -.5 1.5 2 2 0 1.5 -.5 1.5 2.5 1.5 -.5 1.5 -1 2 1.5 1.5 0 1.5 -.5 1.5 0 1.5 -1 2 3 1.5 -3.5 1.5 3 1.5 -1.5 1.5 -.5 2 0 1.5 .5 1.5 -1.5 1.5 .5 1.5 -1 2 0 1.5 1.5 1.5 1 1.5 -1 1.5 .5 2 .5 1.5 -1.5 1.5 1.5 1.5 -.5 1.5 1 2 -1 1.5 1.5 1.5 -1 1.5 -.5 1.5 2.5 2 -2 1.5 -1 1.5 7.5 1.5 -5.5 1.5 4.5 2 1 1.5 5 1.5 3 1.5 6.5 1.5 4 2 3.5 1.5 .5 1.5 .5 1.5 -1 1.5 3.5 2 3.5 1.5 2.5 1.5 -3 1.5 -4.5 1.5 -1.5 2 5 1.5 5 1.5 4 1.5 -2 1.5 -4.5 2 1 1.5 -.5 1.5 1.5 1.5 0 1.5 0 2 0 1.5 0 1.5 .5 1.5 1.5 1.5 -.5 2 -1 1.5 -.5 1.5 .5 1.5 -1 1.5 -2.5 2 2 1.5 1 1.5 -3 1.5 1.5 1.5 .5 2 -1 1.5 1 1.5 2 1.5 -2 1.5 -.5 2 .5 1.5 2 1.5 -1 1.5 -.5 1.5 .5 2 0 1.5 0 1.5 1.5 1.5 0 1.5 .5 2 -1.5 1.5 -.5 1.5 1 1.5 0 1.5 .5 2 0 1.5 .5 1.5 1.5 1.5 -.5 1.5 0 2 -1.5 1.5 1 1.5 0 1.5 0 1.5 1 2 0 1.5 -2 1.5 0 1.5 -1 1.5 2.5 2 0 1.5 -.5 1.5 .5 1.5 -.5 1.5 -1 2 0 1.5 -1 1.5 3.5 1.5 0 1.5 -.5 2 -2.5 1.5 1 1.5 -.5 1.5 -.5 1.5 0 2 -1.5 1.5 -.5 1.5 1.5 1.5 -1 1.5 .5 2 0 1.5 2 1.5 1.5 1.5 .5 1.5 -2.5 2 1 1.5 3 1.5 -1.5 1.5 1.5 1.5 -2 2 -.5 1.5 1.5 1.5 -.5 1.5 1 1.5 -2.5 2 1.5 1.5 0 1.5 -1.5 1.5 -.5 1.5 .5 2 .5 1.5 1.5 1.5 1 1.5 -1.5 1.5 0 2 .5 1.5 -2 1.5 1.5 1.5 0 1.5 2.5 2 .5 1.5 .5 1.5 -2 1.5 -2 1.5 .5 2 1 1.5 0 1.5 .5 1.5 -2.5 1.5 3.5 2 -2.5 1.5 .5 1.5 -.5 1.5 -2 1.5 1.5 2 1.5 1.5 -1 1.5 0 1.5 .5 1.5 0 2 .5 1.5 -2 1.5 1 1.5 -1 1.5 .5 2 1 1.5 -1 1.5 1 1.5 -.5 1.5 -.5 2 0 1.5 0 1.5 .5 1.5 -.5 1.5 -1 2 2.5 1.5 -1.5 1.5 .5 1.5 -1 1.5 .5 2 1.5 1.5 -1 1.5 2 1.5 .5 1.5 -2 2 1 1.5 1 1.5 -1 1.5 -.5 1.5 -.5 2 -.5 1.5 3.5 1.5 -3 1.5 2 1.5 -.5 2 -.5 1.5 -1.5 1.5 -.5 1.5 -1.5 1.5 1 2 0 1.5 0 1.5 1.5 1.5 -3 1.5 1 2 .5 1.5 2 1.5 -.5 1.5 0 1.5 -1 2 1 1.5 .5 1.5 -1.5 1.5 0 1.5 -.5 2 0 1.5 .5 1.5 1.5 1.5 -.5 1.5 -1.5 2 -1 1.5 1 1.5 -.5 1.5 2.5 1.5 0 2 .5 1.5 -1 1.5 1 1.5 0 1.5 .5 2 -1.5 1.5 2 1.5 -1 1.5 -.5 1.5 1.5 2 -1 1.5 1.5 1.5 -2 1.5 -.5 1.5 0 2 -.5 1.5 1 1.5 0 1.5 0 1.5 1 2 0 1.5 0 1.5 -1 1.5 -.5 1.5 1.5 2 0 1.5 0 1.5 0 1.5 .5 1.5 0 2 0 1.5 0 1.5 2 1.5 0 1.5 -1 2 2.5 1.5 -1 1.5 1 1.5 0 1.5 -2 2 .5 1.5 1 1.5 -3 1.5 .5 1.5 0 2 0 1.5 -1 1.5 -.5 1.5 -.5 1.5 .5 2 .5 1.5 -1.5 1.5 -1.5 1.5 1.5 1.5 .5 2 1 1.5 0 1.5 0 1.5 2 1.5 -1.5 2 2 1.5 -1 1.5 1 1.5 0 1.5 1.5 2 -1 1.5 -1.5 1.5 0 1.5 .5 1.5 -1.5 2 1 1.5 -1.5 1.5 3.5 1.5 5.5 1.5 .5 2 4 1.5 5 1.5 -.5 1.5 1.5 1.5 -2.5 2 1.5 1.5 -1 1.5 -1.5 1.5 -1 1.5 -.5 2 -1.5 1.5 1 1.5 -1.5 1.5 .5 1.5 -1 2 .5 1.5 -1.5 1.5 2 1.5 1.5 1.5 1 2 -1 1.5 -.5 1.5 .5 1.5 -1 1.5 1.5 2 .5 1.5 -.5 1.5 0 1.5 3 1.5 -1 2 -1.5 1.5 0 1.5 -1 1.5 -1.5 1.5 1 2 .5 1.5 -.5 1.5 2 1.5 -1.5 1.5 0 2 -1 1.5 -1 1.5 0 1.5 .5 1.5 .5 2 1 1.5 0 1.5 .5 1.5 -1.5 1.5 1 2 -1 1.5 2 1.5 -2.5 1.5 2 1.5 -1.5 2 1.5 1.5 -.5 1.5 -1.5 1.5 1.5 1.5 -1 2 .5 1.5 1 1.5 -1.5 1.5 1 1.5 -.5 2 1.5 1.5 -.5 1.5 -2 1.5 2.5 1.5 -1.5 2 1 1.5 -2 1.5 2 1.5 0 1.5 1 2 -2.5 1.5 -1.5 1.5 3.5 1.5 -1.5 1.5 1.5 2 -.5 1.5 1 1.5 -1.5 1.5 1.5 1.5 -3 2 1 1.5 -.5 1.5 1.5 1.5 1.5 1.5 -1.5 2 1 1.5 -1 1.5 .5 1.5 -1.5 1.5 0 2 1 1.5 1 1.5 -2.5 1.5 .5 1.5 1.5 2 -1.5 1.5 -9 1.5 1 1.5 0 1.5 0 2 -5.5 1.5 -1 1.5 -.5 1.5 2 1.5 -4 2 -3.5 1.5 -.5 1.5 1 1.5 3 1.5 -3 2 -.5 1.5 2 1.5 1.5 1.5 2 1.5 -2.5 2 8 1.5 -5 1.5 1 1.5 4 1.5 2.5 2 1.5 1.5 -4 1.5 -1 1.5 1 1.5 -1 2 0 1.5 -1.5 1.5 1.5 1.5 1 1.5 -.5 2 -.5 1.5 2 1.5 0 1.5 -.5 1.5 -1 2 1 1.5 0 1.5 -1 1.5 2 1.5 .5 2 -2.5 1.5 2.5 1.5 -1 1.5 .5 1.5 1.5 2 -2 1.5 -.5 1.5 3 1.5 -1.5 1.5 0 2 -.5 1.5 1 1.5 1.5 1.5 -2 1.5 2 2 1.5 1.5 -1.5 1.5 -1.5 1.5 1 1.5 1 2 -1 1.5 0 1.5 2.5 1.5 -2.5 1.5 2.5 2 1.5 1.5 -2.5 1.5 2 1.5 -1 1.5 0 2 1 1.5 -1.5 1.5 -1.5 1.5 1.5 1.5 0 2 0 1.5 -1 1.5 -1 1.5 0 1.5 .5 2 2 1.5 -2 1.5 1.5 1.5 1 1.5 2 2 -1.5 1.5 0 1.5 -1 1.5 .5 1.5 1 2 .5 1.5 1 1.5 .5 1.5 .5 1.5 -1 2 0 1.5 -1 1.5 .5 1.5 -.5 1.5 4 2 -2.5 1.5 2 1.5 -.5 1.5 .5 1.5 .5 2 1 1.5 1 1.5 -1.5 1.5 .5 1.5 0 2 1.5 1.5 -1.5 1.5 -2.5 1.5 -.5 1.5 2 2 0 1.5 1.5 1.5 -3.5 1.5 .5 1.5 1 2 -1.5 1.5 1 1.5 1 1.5 -1 1.5 -.5 2 .5 1.5 0 1.5 .5 1.5 -1 1.5 1.5 2 2.5 1.5 -.5 1.5 2 1.5 .5" fill="none" stroke="#8a8a8a" stroke-width="2.0" stroke-linejoin="round" /><path d="M159,1107l1.5 .5 1.5 2 2 -.5 1.5 -2 1.5 0 1.5 0 1.5 1 2 -1.5 1.5 3 1.5 .5 1.5 -1 1.5 1 2 -.5 1.5 0 1.5 .5 1.5 -2 1.5 1 2 -.5 1.5 -.5 1.5 .5 1.5 .5 1.5 -2 2 1.5 1.5 0 1.5 .5 1.5 -1 1.5 .5 2 0 1.5 .5 1.5 -.5 1.5 -1.5 1.5 2 2 .5 1.5 -.5 1.5 1 1.5 -1.5 1.5 1.5 2 -.5 1.5 1 1.5 -1 1.5 .5 1.5 0 2 .5 1.5 0 1.5 -.5 1.5 1.5 1.5 -1.5 2 1 1.5 -1.5 1.5 1.5 1.5 0 1.5 0 2 -1.5 1.5 1 1.5 -.5 1.5 .5 1.5 -1 2 1.5 1.5 -1 1.5 -1 1.5 2.5 1.5 -2 2 1 1.5 -1.5 1.5 -1 1.5 1 1.5 1.5 2 .5 1.5 -1.5 1.5 .5 1.5 .5 1.5 -1.5 2 4 1.5 -2 1.5 1 1.5 -1 1.5 0 2 0 1.5 1.5 1.5 -.5 1.5 -.5 1.5 -.5 2 1 1.5 -2 1.5 1.5 1.5 -2 1.5 -1.5 2 4 1.5 -3 1.5 3 1.5 -1.5 1.5 2 2 -1.5 1.5 -1 1.5 3 1.5 -1.5 1.5 .5 2 0 1.5 2.5 1.5 -.5 1.5 -1 1.5 -2 2 0 1.5 .5 1.5 2 1.5 -1 1.5 0 2 1.5 1.5 .5 1.5 .5 1.5 -1.5 1.5 2.5 2 -1.5 1.5 -1 1.5 -1 1.5 .5 1.5 -.5 2 1.5 1.5 0 1.5 0 1.5 0 1.5 0 2 .5 1.5 -.5 1.5 -.5 1.5 -.5 1.5 1.5 2 2 1.5 -1 1.5 0 1.5 -2 1.5 2.5 2 -2 1.5 .5 1.5 .5 1.5 .5 1.5 -1 2 -.5 1.5 2.5 1.5 -1 1.5 -2 1.5 2 2 1 1.5 .5 1.5 -2 1.5 1.5 1.5 .5 2 0 1.5 -.5 1.5 3.5 1.5 -2.5 1.5 2.5 2 1.5 1.5 2.5 1.5 -1 1.5 -1.5 1.5 -1 2 3.5 1.5 .5 1.5 -2 1.5 .5 1.5 3 2 -1 1.5 -1 1.5 -4.5 1.5 -1 1.5 2.5 2 .5 1.5 6.5 1.5 -2.5 1.5 -2.5 1.5 1 2 1.5 1.5 0 1.5 1 1.5 -1.5 1.5 .5 2 -2.5 1.5 2.5 1.5 -.5 1.5 0 1.5 1 2 0 1.5 -.5 1.5 -1 1.5 .5 1.5 -2 2 1.5 1.5 -1 1.5 -1 1.5 0 1.5 -.5 2 -1.5 1.5 1.5 1.5 -.5 1.5 0 1.5 2 2 -.5 1.5 .5 1.5 1.5 1.5 .5 1.5 .5 2 -1 1.5 1 1.5 -1.5 1.5 .5 1.5 0 2 -1 1.5 .5 1.5 1.5 1.5 0 1.5 -.5 2 0 1.5 -1 1.5 1.5 1.5 -1 1.5 -1 2 -.5 1.5 .5 1.5 1 1.5 -.5 1.5 -1.5 2 -1 1.5 1 1.5 -.5 1.5 2 1.5 -1.5 2 .5 1.5 1.5 1.5 -1.5 1.5 .5 1.5 1 2 -2 1.5 2.5 1.5 -2.5 1.5 .5 1.5 0 2 1.5 1.5 -1 1.5 -.5 1.5 .5 1.5 -1.5 2 2.5 1.5 -2 1.5 .5 1.5 -.5 1.5 1.5 2 .5 1.5 0 1.5 1 1.5 1 1.5 -2.5 2 3.5 1.5 0 1.5 -1.5 1.5 -.5 1.5 1 2 -.5 1.5 .5 1.5 1 1.5 -1 1.5 0 2 -2 1.5 .5 1.5 -1.5 1.5 -1 1.5 1.5 2 -1 1.5 .5 1.5 1 1.5 0 1.5 2.5 2 -1 1.5 -.5 1.5 -.5 1.5 .5 1.5 0 2 1.5 1.5 -1.5 1.5 1 1.5 -1.5 1.5 -1.5 2 1 1.5 1.5 1.5 -2 1.5 0 1.5 -1 2 0 1.5 .5 1.5 -1 1.5 0 1.5 .5 2 -1.5 1.5 -1 1.5 .5 1.5 4 1.5 -2.5 2 1.5 1.5 -1.5 1.5 1.5 1.5 -1 1.5 3 2 .5 1.5 -3 1.5 .5 1.5 .5 1.5 1 2 -.5 1.5 -.5 1.5 1.5 1.5 -1 1.5 1 2 -.5 1.5 0 1.5 1 1.5 -2 1.5 2.5 2 -2 1.5 1 1.5 0 1.5 -1.5 1.5 -1 2 2 1.5 -1 1.5 -2 1.5 1 1.5 1 2 -.5 1.5 2 1.5 -1 1.5 .5 1.5 -1 2 .5 1.5 -.5 1.5 -.5 1.5 2 1.5 -2.5 2 1 1.5 .5 1.5 1 1.5 -1 1.5 -1.5 2 2 1.5 2 1.5 -3 1.5 -.5 1.5 0 2 -.5 1.5 .5 1.5 2 1.5 -2.5 1.5 .5 2 -.5 1.5 1 1.5 -1 1.5 .5 1.5 .5 2 -1.5 1.5 .5 1.5 0 1.5 .5 1.5 -1 2 1 1.5 .5 1.5 0 1.5 1.5 1.5 -1 2 1.5 1.5 .5 1.5 -.5 1.5 .5 1.5 -.5 2 -1 1.5 0 1.5 0 1.5 0 1.5 -2 2 1 1.5 2 1.5 -3 1.5 -2.5 1.5 2 2 .5 1.5 -.5 1.5 1.5 1.5 .5 1.5 -1 2 -1.5 1.5 1 1.5 .5 1.5 1 1.5 0 2 1 1.5 1 1.5 -2.5 1.5 3.5 1.5 -1 2 .5 1.5 0 1.5 -.5 1.5 -2 1.5 0 2 1 1.5 -1 1.5 .5 1.5 1.5 1.5 -1 2 -1 1.5 1.5 1.5 -2 1.5 0 1.5 2.5 2 .5 1.5 0 1.5 -1.5 1.5 2 1.5 -1.5 2 1 1.5 -2.5 1.5 1 1.5 1 1.5 -1 2 1 1.5 -2 1.5 0 1.5 .5 1.5 .5 2 .5 1.5 -1.5 1.5 -.5 1.5 2 1.5 0 2 1.5 1.5 0 1.5 -1 1.5 4.5 1.5 0 2 3.5 1.5 1.5 1.5 7 1.5 -.5 1.5 .5 2 -2 1.5 -.5 1.5 -3 1.5 2 1.5 -1.5 2 3 1.5 .5 1.5 1 1.5 -.5 1.5 1 2 -.5 1.5 0 1.5 .5 1.5 1.5 1.5 2 2 -.5 1.5 -2 1.5 .5 1.5 -1.5 1.5 2 2 -2 1.5 1 1.5 .5 1.5 -2 1.5 2 2 -1.5 1.5 .5 1.5 3.5 1.5 -2.5 1.5 .5 2 2 1.5 -.5 1.5 -1 1.5 -.5 1.5 -.5 2 .5 1.5 -2 1.5 0 1.5 -1 1.5 2 2 -1.5 1.5 -1 1.5 2 1.5 -1 1.5 .5 2 -1 1.5 -.5 1.5 -.5 1.5 -.5 1.5 2.5 2 -2 1.5 -1.5 1.5 2 1.5 -1.5 1.5 3 2 -1 1.5 .5 1.5 0 1.5 .5 1.5 1 2 .5 1.5 .5 1.5 1 1.5 0 1.5 0 2 0 1.5 -1 1.5 -1.5 1.5 0 1.5 -.5 2 .5 1.5 0 1.5 -.5 1.5 0 1.5 0 2 2.5 1.5 -2.5 1.5 2 1.5 0 1.5 -.5 2 2 1.5 -2 1.5 .5 1.5 1 1.5 -2 2 .5 1.5 1.5 1.5 0 1.5 -1 1.5 2 2 -1 1.5 -1.5 1.5 0 1.5 1 1.5 -6.5 2 -1 1.5 -.5 1.5 1.5 1.5 -5 1.5 0 2 4 1.5 2 1.5 -4 1.5 -7 1.5 -4 2 8 1.5 5.5 1.5 1.5 1.5 -8 1.5 4 2 -4 1.5 1.5 1.5 -6 1.5 3.5 1.5 2 2 -.5 1.5 -3 1.5 5 1.5 -2 1.5 4 2 -4 1.5 -3 1.5 13 1.5 -2.5 1.5 2.5 2 -.5 1.5 .5 1.5 -1 1.5 0 1.5 -.5 2 1.5 1.5 -2 1.5 0 1.5 -.5 1.5 2.5 2 -1.5 1.5 .5 1.5 -.5 1.5 -1 1.5 -.5 2 1 1.5 1 1.5 .5 1.5 1 1.5 -.5 2 -1 1.5 1 1.5 1 1.5 -3 1.5 1.5 2 -1.5 1.5 -1 1.5 2.5 1.5 -1.5 1.5 1 2 .5 1.5 .5 1.5 -1.5 1.5 3.5 1.5 -.5 2 -1 1.5 .5 1.5 2 1.5 .5 1.5 -2 2 1.5 1.5 -2 1.5 .5 1.5 0 1.5 .5 2 -1 1.5 0 1.5 2.5 1.5 -3 1.5 1.5 2 -2 1.5 1 1.5 -1 1.5 -.5 1.5 1 2 -2.5 1.5 .5 1.5 1.5 1.5 .5 1.5 .5 2 -2 1.5 0 1.5 .5 1.5 0 1.5 1 2 0 1.5 1 1.5 -1 1.5 -.5 1.5 .5 2 0 1.5 .5 1.5 1.5 1.5 -.5 1.5 2 2 -2.5 1.5 -1.5 1.5 -1 1.5 .5 1.5 2 2 0 1.5 .5 1.5 0 1.5 -.5 1.5 -1 2 -1.5 1.5 .5 1.5 1 1.5 .5 1.5 -1 2 1 1.5 .5 1.5 -2 1.5 0 1.5 1.5 2 -1.5 1.5 1.5 1.5 .5 1.5 1.5 1.5 -2 2 .5 1.5 1 1.5 .5 1.5 -.5 1.5 -1 2 0 1.5 2 1.5 1.5 1.5 2.5" fill="none" stroke="#8a8a8a" stroke-width="2.0" stroke-linejoin="round" /><path d="M159,1142l1.5 -.5 1.5 2 2 2.5 1.5 2 1.5 -.5 1.5 2 1.5 -1 2 0 1.5 -1 1.5 3 1.5 -1.5 1.5 -1.5 2 1 1.5 1 1.5 -.5 1.5 -1.5 1.5 .5 2 .5 1.5 0 1.5 .5 1.5 -.5 1.5 0 2 -.5 1.5 .5 1.5 -1.5 1.5 .5 1.5 1 2 -2 1.5 -1.5 1.5 1 1.5 -1 1.5 .5 2 1 1.5 1 1.5 .5 1.5 -1 1.5 -.5 2 0 1.5 .5 1.5 .5 1.5 0 1.5 .5 2 -1 1.5 2 1.5 -1.5 1.5 0 1.5 .5 2 .5 1.5 -1.5 1.5 -1 1.5 1 1.5 -1 2 2 1.5 -2 1.5 3 1.5 -1.5 1.5 1.5 2 -1 1.5 1 1.5 0 1.5 0 1.5 -.5 2 -2 1.5 3 1.5 -1.5 1.5 0 1.5 0 2 -2 1.5 1.5 1.5 -1.5 1.5 2 1.5 -1 2 -2.5 1.5 3.5 1.5 -1 1.5 -2.5 1.5 3.5 2 -1.5 1.5 .5 1.5 1.5 1.5 -1.5 1.5 1.5 2 .5 1.5 -1.5 1.5 1.5 1.5 -1.5 1.5 1 2 .5 1.5 0 1.5 0 1.5 .5 1.5 -2 2 1 1.5 .5 1.5 -.5 1.5 -.5 1.5 .5 2 -1 1.5 -1 1.5 1.5 1.5 -1 1.5 2 2 -3 1.5 0 1.5 -.5 1.5 -.5 1.5 .5 2 -1 1.5 -.5 1.5 1.5 1.5 -.5 1.5 -1.5 2 0 1.5 1.5 1.5 .5 1.5 -.5 1.5 -1 2 -.5 1.5 1.5 1.5 -1 1.5 0 1.5 -.5 2 -1 1.5 .5 1.5 .5 1.5 .5 1.5 -2.5 2 2.5 1.5 -1.5 1.5 -.5 1.5 1 1.5 -.5 2 -1.5 1.5 -.5 1.5 .5 1.5 -.5 1.5 -.5 2 1 1.5 .5 1.5 .5 1.5 -1 1.5 1 2 0 1.5 .5 1.5 0 1.5 1.5 1.5 -2 2 1.5 1.5 0 1.5 -.5 1.5 -3 1.5 3 2 1.5 1.5 1 1.5 -2 1.5 0 1.5 4 2 -1.5 1.5 3.5 1.5 -4 1.5 -3 1.5 -2.5 2 -2 1.5 5.5 1.5 -2.5 1.5 2.5 1.5 6.5 2 0 1.5 -1.5 1.5 .5 1.5 4.5 1.5 -3.5 2 -1 1.5 1 1.5 -.5 1.5 -1.5 1.5 0 2 0 1.5 0 1.5 2 1.5 -2 1.5 1 2 0 1.5 1.5 1.5 -1 1.5 0 1.5 .5 2 -1 1.5 -1.5 1.5 2 1.5 1 1.5 -2 2 0 1.5 .5 1.5 -.5 1.5 -1.5 1.5 .5 2 1.5 1.5 .5 1.5 -1 1.5 -1 1.5 .5 2 2 1.5 0 1.5 0 1.5 0 1.5 4 2 -1 1.5 -.5 1.5 .5 1.5 -.5 1.5 -2.5 2 2 1.5 -1 1.5 1 1.5 -1.5 1.5 -.5 2 -1 1.5 1 1.5 -2 1.5 2 1.5 1 2 2 1.5 -2 1.5 -.5 1.5 1.5 1.5 -2 2 0 1.5 1.5 1.5 -.5 1.5 -1.5 1.5 2 2 0 1.5 -1.5 1.5 3 1.5 -1 1.5 0 2 0 1.5 -.5 1.5 2 1.5 -2.5 1.5 -1.5 2 1.5 1.5 -.5 1.5 -.5 1.5 0 1.5 -.5 2 -1 1.5 2 1.5 0 1.5 0 1.5 -1.5 2 1 1.5 2.5 1.5 -.5 1.5 -.5 1.5 1 2 0 1.5 -2.5 1.5 .5 1.5 .5 1.5 1 2 -2 1.5 .5 1.5 2 1.5 -1.5 1.5 1 2 1 1.5 -2 1.5 -1.5 1.5 1 1.5 1 2 -.5 1.5 2 1.5 1 1.5 -1.5 1.5 -.5 2 0 1.5 .5 1.5 0 1.5 0 1.5 -1.5 2 -.5 1.5 .5 1.5 1 1.5 -2 1.5 0 2 0 1.5 -1.5 1.5 1.5 1.5 2 1.5 -2 2 1 1.5 -.5 1.5 .5 1.5 0 1.5 -1.5 2 1.5 1.5 0 1.5 0 1.5 -1.5 1.5 2 2 -2.5 1.5 1.5 1.5 1 1.5 2 1.5 -2.5 2 -1 1.5 1.5 1.5 0 1.5 .5 1.5 1.5 2 -2.5 1.5 .5 1.5 1 1.5 -.5 1.5 -1 2 1.5 1.5 -1 1.5 1.5 1.5 -3 1.5 .5 2 2 1.5 0 1.5 1 1.5 -1.5 1.5 .5 2 2 1.5 1 1.5 -3 1.5 0 1.5 0 2 .5 1.5 1.5 1.5 -1 1.5 -1 1.5 2 2 -1.5 1.5 0 1.5 -2 1.5 2 1.5 -1 2 1.5 1.5 -1 1.5 -1 1.5 2 1.5 -1.5 2 -2 1.5 0 1.5 2.5 1.5 -1.5 1.5 0 2 2.5 1.5 -1 1.5 -1 1.5 -.5 1.5 .5 2 .5 1.5 0 1.5 .5 1.5 -.5 1.5 -.5 2 -1.5 1.5 2 1.5 -1.5 1.5 2.5 1.5 0 2 0 1.5 -1 1.5 -.5 1.5 1.5 1.5 -1.5 2 0 1.5 -.5 1.5 1 1.5 -2 1.5 -.5 2 -.5 1.5 0 1.5 0 1.5 0 1.5 0 2 2.5 1.5 -.5 1.5 1 1.5 -1 1.5 1 2 -2 1.5 1.5 1.5 -.5 1.5 .5 1.5 0 2 1 1.5 -2 1.5 -2 1.5 1 1.5 -.5 2 1 1.5 -1.5 1.5 1.5 1.5 -2 1.5 -1 2 3.5 1.5 -2 1.5 1.5 1.5 0 1.5 -1 2 0 1.5 -1 1.5 -.5 1.5 1.5 1.5 1.5 2 -2 1.5 -1 1.5 0 1.5 1 1.5 -1 2 1 1.5 0 1.5 -2.5 1.5 -.5 1.5 .5 2 1 1.5 -2.5 1.5 2 1.5 0 1.5 0 2 0 1.5 -.5 1.5 0 1.5 .5 1.5 .5 2 -.5 1.5 1.5 1.5 3 1.5 -1 1.5 2 2 -2.5 1.5 2 1.5 1.5 1.5 -1.5 1.5 -2.5 2 2 1.5 -2 1.5 .5 1.5 -.5 1.5 0 2 1.5 1.5 -.5 1.5 1 1.5 .5 1.5 .5 2 0 1.5 -1.5 1.5 0 1.5 -2.5 1.5 0 2 1.5 1.5 -3.5 1.5 1 1.5 0 1.5 0 2 0 1.5 0 1.5 0 1.5 .5 1.5 -.5 2 1.5 1.5 -1.5 1.5 .5 1.5 1.5 1.5 -.5 2 -.5 1.5 .5 1.5 0 1.5 -.5 1.5 .5 2 1.5 1.5 -.5 1.5 .5 1.5 0 1.5 -.5 2 -.5 1.5 .5 1.5 .5 1.5 .5 1.5 -1 2 .5 1.5 .5 1.5 -1 1.5 -.5 1.5 -.5 2 0 1.5 0 1.5 1 1.5 -1 1.5 1 2 1 1.5 -1 1.5 0 1.5 .5 1.5 0 2 .5 1.5 -2 1.5 -.5 1.5 0 1.5 1 2 -2 1.5 0 1.5 -2.5 1.5 .5 1.5 3 2 -1 1.5 -2 1.5 0 1.5 2 1.5 1.5 2 0 1.5 -.5 1.5 .5 1.5 -1 1.5 2 2 1 1.5 0 1.5 .5 1.5 0 1.5 -1.5 2 -.5 1.5 1 1.5 .5 1.5 -1.5 1.5 0 2 1 1.5 0 1.5 -.5 1.5 .5 1.5 6 2 -3 1.5 -7.5 1.5 3 1.5 -1 1.5 -3.5 2 -6 1.5 -1.5 1.5 7 1.5 2.5 1.5 -1.5 2 1.5 1.5 3.5 1.5 .5 1.5 .5 1.5 -1 2 -6 1.5 -.5 1.5 0 1.5 6 1.5 3 2 -1 1.5 -4 1.5 -.5 1.5 .5 1.5 -1 2 .5 1.5 3.5 1.5 2 1.5 -2.5 1.5 1 2 -2.5 1.5 1 1.5 -1.5 1.5 .5 1.5 -1 2 1 1.5 1 1.5 -3 1.5 2 1.5 -1 2 .5 1.5 -1.5 1.5 1 1.5 -.5 1.5 0 2 2 1.5 -.5 1.5 -.5 1.5 1 1.5 -1 2 .5 1.5 -.5 1.5 -.5 1.5 0 1.5 1 2 0 1.5 0 1.5 0 1.5 0 1.5 0 2 0 1.5 -2.5 1.5 2.5 1.5 0 1.5 0 2 .5 1.5 2 1.5 -1.5 1.5 3 1.5 -1 2 -1 1.5 1 1.5 1.5 1.5 0 1.5 -1.5 2 -2 1.5 -2 1.5 1.5 1.5 2 1.5 -.5 2 -2 1.5 2 1.5 -.5 1.5 -2 1.5 .5 2 -.5 1.5 .5 1.5 0 1.5 1.5 1.5 1 2 -1 1.5 -1.5 1.5 2 1.5 0 1.5 1 2 .5 1.5 0 1.5 -3 1.5 2 1.5 -1.5 2 -1.5 1.5 .5 1.5 .5 1.5 0 1.5 0 2 -2.5 1.5 0 1.5 0 1.5 -.5 1.5 -1 2 2 1.5 -.5 1.5 3 1.5 -2.5 1.5 .5 2 2 1.5 1 1.5 -1 1.5 0 1.5 -.5 2 -.5 1.5 2.5 1.5 -2 1.5 -2 1.5 .5 2 -1 1.5 1.5 1.5 -.5 1.5 0 1.5 -1 2 1 1.5 1.5 1.5 -1 1.5 1.5 1.5 -.5 2 1 1.5 -.5 1.5 4 1.5 .5" fill="none" stroke="#8a8a8a" stroke-width="2.0" stroke-linejoin="round" /><path d="M159,1144.5l1.5 .5 1.5 3 2 1 1.5 .5 1.5 0 1.5 .5 1.5 -1 2 1 1.5 -1 1.5 -.5 1.5 .5 1.5 -1.5 2 2 1.5 1.5 1.5 -.5 1.5 0 1.5 1 2 -1 1.5 0 1.5 0 1.5 -.5 1.5 1.5 2 1.5 1.5 -1 1.5 .5 1.5 -1.5 1.5 0 2 0 1.5 -2.5 1.5 2.5 1.5 -3 1.5 1.5 2 2 1.5 -2 1.5 -.5 1.5 1 1.5 0 2 -1 1.5 0 1.5 2.5 1.5 -1 1.5 -1 2 0 1.5 0 1.5 2.5 1.5 .5 1.5 -1 2 0 1.5 .5 1.5 0 1.5 .5 1.5 -2 2 0 1.5 0 1.5 .5 1.5 -.5 1.5 -.5 2 .5 1.5 -.5 1.5 2 1.5 -.5 1.5 0 2 0 1.5 1 1.5 1 1.5 -1 1.5 1 2 -1.5 1.5 .5 1.5 1.5 1.5 -2 1.5 1 2 .5 1.5 -1.5 1.5 1.5 1.5 .5 1.5 -2 2 3.5 1.5 -2 1.5 0 1.5 0 1.5 -1.5 2 2.5 1.5 0 1.5 -3 1.5 3 1.5 -3.5 2 3 1.5 -3 1.5 -.5 1.5 .5 1.5 1.5 2 -1.5 1.5 -1.5 1.5 1 1.5 0 1.5 .5 2 0 1.5 1.5 1.5 -.5 1.5 -1.5 1.5 1 2 .5 1.5 .5 1.5 -1.5 1.5 1.5 1.5 1 2 0 1.5 -.5 1.5 0 1.5 1 1.5 -.5 2 2 1.5 -2 1.5 0 1.5 1 1.5 -2.5 2 1 1.5 1 1.5 .5 1.5 -2 1.5 1.5 2 -.5 1.5 1 1.5 -.5 1.5 -.5 1.5 .5 2 -1 1.5 1 1.5 -1 1.5 -.5 1.5 2 2 -2.5 1.5 0 1.5 0 1.5 1 1.5 -2.5 2 2.5 1.5 -.5 1.5 -.5 1.5 .5 1.5 1.5 2 -.5 1.5 -.5 1.5 0 1.5 1 1.5 1 2 -1.5 1.5 .5 1.5 1.5 1.5 1 1.5 2 2 2 1.5 2 1.5 .5 1.5 -.5 1.5 3 2 2.5 1.5 6 1.5 -3 1.5 3 1.5 -1 2 3.5 1.5 -2.5 1.5 -1.5 1.5 -2 1.5 -.5 2 -.5 1.5 4 1.5 2 1.5 0 1.5 -7.5 2 .5 1.5 -.5 1.5 -1.5 1.5 0 1.5 1.5 2 0 1.5 1 1.5 -1 1.5 -.5 1.5 .5 2 2 1.5 -2.5 1.5 .5 1.5 0 1.5 -.5 2 -.5 1.5 3 1.5 0 1.5 -1.5 1.5 -2 2 2 1.5 -.5 1.5 1 1.5 0 1.5 -2 2 1 1.5 1.5 1.5 -1 1.5 .5 1.5 -2.5 2 1 1.5 1.5 1.5 -1 1.5 .5 1.5 0 2 1 1.5 -3 1.5 .5 1.5 2 1.5 -2 2 -1.5 1.5 2 1.5 .5 1.5 -1 1.5 -1 2 2 1.5 -4 1.5 .5 1.5 .5 1.5 2 2 -.5 1.5 -1 1.5 .5 1.5 0 1.5 -1 2 -1 1.5 2 1.5 -.5 1.5 1 1.5 -1 2 .5 1.5 1.5 1.5 -1.5 1.5 .5 1.5 -.5 2 -1 1.5 -.5 1.5 1 1.5 -.5 1.5 -.5 2 -1 1.5 1.5 1.5 -3.5 1.5 1 1.5 0 2 2 1.5 -1.5 1.5 2.5 1.5 -2 1.5 1 2 0 1.5 -1.5 1.5 2 1.5 0 1.5 -1 2 1.5 1.5 -1 1.5 1 1.5 -2 1.5 0 2 1 1.5 -2.5 1.5 -1 1.5 0 1.5 2.5 2 -2.5 1.5 1 1.5 -.5 1.5 -.5 1.5 1.5 2 -2 1.5 1 1.5 .5 1.5 -1.5 1.5 1.5 2 -2 1.5 0 1.5 0 1.5 1.5 1.5 0 2 -.5 1.5 -.5 1.5 0 1.5 -1.5 1.5 2 2 2 1.5 -2.5 1.5 0 1.5 1 1.5 -1 2 3 1.5 -2 1.5 2 1.5 -1.5 1.5 0 2 1.5 1.5 -3 1.5 1 1.5 -.5 1.5 -1 2 .5 1.5 -.5 1.5 1 1.5 -1 1.5 -.5 2 .5 1.5 1.5 1.5 -.5 1.5 1 1.5 1 2 -1.5 1.5 .5 1.5 0 1.5 .5 1.5 -2 2 2 1.5 -.5 1.5 1 1.5 -1.5 1.5 -1.5 2 -.5 1.5 -.5 1.5 1 1.5 .5 1.5 -1.5 2 2 1.5 -2.5 1.5 1.5 1.5 0 1.5 -1.5 2 -1.5 1.5 1.5 1.5 2 1.5 -2 1.5 .5 2 -1.5 1.5 2 1.5 -1.5 1.5 2 1.5 -1 2 .5 1.5 1 1.5 -1.5 1.5 1.5 1.5 1 2 -1 1.5 3.5 1.5 -1 1.5 0 1.5 -.5 2 0 1.5 -.5 1.5 -1.5 1.5 1 1.5 1 2 1.5 1.5 .5 1.5 1.5 1.5 -3.5 1.5 0 2 -.5 1.5 3.5 1.5 0 1.5 -1.5 1.5 2 2 0 1.5 -.5 1.5 -1 1.5 -2 1.5 .5 2 1 1.5 -1.5 1.5 0 1.5 1 1.5 -2 2 .5 1.5 .5 1.5 -1 1.5 -.5 1.5 2.5 2 -.5 1.5 -1.5 1.5 2 1.5 0 1.5 .5 2 -.5 1.5 1 1.5 -1.5 1.5 -1 1.5 .5 2 0 1.5 .5 1.5 0 1.5 .5 1.5 1.5 2 -1 1.5 -2 1.5 2 1.5 0 1.5 -2 2 2 1.5 0 1.5 3 1.5 -1 1.5 -.5 2 2.5 1.5 -2 1.5 .5 1.5 .5 1.5 -1 2 0 1.5 -1.5 1.5 .5 1.5 0 1.5 0 2 -1 1.5 0 1.5 -.5 1.5 -1.5 1.5 0 2 1 1.5 0 1.5 -1 1.5 2.5 1.5 1.5 2 -3.5 1.5 1.5 1.5 2 1.5 -1.5 1.5 1 2 1 1.5 -.5 1.5 .5 1.5 0 1.5 4 2 3.5 1.5 .5 1.5 1.5 1.5 0 1.5 .5 2 0 1.5 -2.5 1.5 .5 1.5 3 1.5 0 2 -.5 1.5 -1.5 1.5 -.5 1.5 -2 1.5 0 2 0 1.5 1.5 1.5 .5 1.5 0 1.5 1 2 -2.5 1.5 1 1.5 -2 1.5 1 1.5 0 2 1 1.5 -2 1.5 .5 1.5 2.5 1.5 -1.5 2 -1 1.5 .5 1.5 0 1.5 .5 1.5 -.5 2 1.5 1.5 -1 1.5 -.5 1.5 0 1.5 -1 2 .5 1.5 0 1.5 0 1.5 .5 1.5 -2.5 2 1.5 1.5 0 1.5 -1.5 1.5 0 1.5 0 2 0 1.5 .5 1.5 -2 1.5 2 1.5 -1.5 2 -1.5 1.5 1 1.5 .5 1.5 -1.5 1.5 1 2 1.5 1.5 0 1.5 .5 1.5 .5 1.5 -1 2 -1 1.5 1.5 1.5 -1 1.5 -1 1.5 1.5 2 0 1.5 -2 1.5 .5 1.5 -.5 1.5 0 2 1.5 1.5 -1 1.5 -.5 1.5 2 1.5 0 2 -1 1.5 0 1.5 1.5 1.5 -1.5 1.5 .5 2 1 1.5 -3 1.5 .5 1.5 -1.5 1.5 .5 2 1 1.5 -1.5 1.5 -.5 1.5 2 1.5 -1.5 2 .5 1.5 0 1.5 -.5 1.5 1.5 1.5 2 2 -7 1.5 -1 1.5 -5.5 1.5 3 1.5 2 2 -4 1.5 4 1.5 -12.5 1.5 1 1.5 -1.5 2 7.5 1.5 -4 1.5 -2.5 1.5 3.5 1.5 7.5 2 1 1.5 -6 1.5 -8 1.5 -1.5 1.5 0 2 4 1.5 -2.5 1.5 -1.5 1.5 -2.5 1.5 .5 2 6 1.5 6.5 1.5 -6 1.5 2.5 1.5 -1 2 1.5 1.5 -3 1.5 2 1.5 -.5 1.5 -1.5 2 1.5 1.5 1 1.5 0 1.5 2.5 1.5 -1 2 .5 1.5 -1 1.5 .5 1.5 .5 1.5 .5 2 -2 1.5 -.5 1.5 2 1.5 -.5 1.5 -1 2 1 1.5 -.5 1.5 -2 1.5 2 1.5 -1.5 2 .5 1.5 -.5 1.5 .5 1.5 0 1.5 1.5 2 -2 1.5 2 1.5 -.5 1.5 .5 1.5 -1.5 2 2.5 1.5 -4 1.5 0 1.5 .5 1.5 1 2 -.5 1.5 0 1.5 -2 1.5 1 1.5 1 2 1 1.5 .5 1.5 -1 1.5 1.5 1.5 -3 2 3.5 1.5 -2 1.5 2.5 1.5 -1 1.5 0 2 -.5 1.5 -1.5 1.5 -1.5 1.5 0 1.5 2 2 0 1.5 -1 1.5 0 1.5 0 1.5 .5 2 -1 1.5 0 1.5 .5 1.5 0 1.5 1.5 2 -.5 1.5 0 1.5 1.5 1.5 -1.5 1.5 1 2 .5 1.5 -2 1.5 .5 1.5 -.5 1.5 0 2 -.5 1.5 -.5 1.5 1 1.5 -1 1.5 0 2 0 1.5 .5 1.5 0 1.5 .5 1.5 2 2 0 1.5 2 1.5 -1.5 1.5 2 1.5 -1 2 -1.5 1.5 2 1.5 -2.5 1.5 2.5 1.5 -1 2 0 1.5 0 1.5 .5 1.5 -2.5 1.5 1 2 0 1.5 1 1.5 -.5 1.5 2.5" fill="none" stroke="#8a8a8a" stroke-width="2.0" stroke-linejoin="round" /><path d="M159,1147.5l1.5 4 1.5 1 2 4 1.5 .5 1.5 -2.5 1.5 -1 1.5 -1 2 1.5 1.5 3 1.5 -1 1.5 -1 1.5 .5 2 0 1.5 -.5 1.5 1.5 1.5 -1 1.5 .5 2 -.5 1.5 1.5 1.5 -1 1.5 .5 1.5 .5 2 1 1.5 0 1.5 -1 1.5 .5 1.5 -.5 2 0 1.5 2.5 1.5 -.5 1.5 -1 1.5 1.5 2 .5 1.5 -1 1.5 -.5 1.5 1.5 1.5 -1 2 0 1.5 -.5 1.5 1.5 1.5 0 1.5 -.5 2 -1.5 1.5 1 1.5 -2.5 1.5 -.5 1.5 .5 2 .5 1.5 -.5 1.5 -2 1.5 1.5 1.5 -.5 2 1 1.5 -.5 1.5 -.5 1.5 2.5 1.5 -.5 2 1 1.5 -.5 1.5 .5 1.5 0 1.5 1.5 2 .5 1.5 0 1.5 -1 1.5 1.5 1.5 0 2 -1 1.5 1.5 1.5 0 1.5 1 1.5 -1.5 2 -.5 1.5 0 1.5 .5 1.5 .5 1.5 0 2 0 1.5 -1.5 1.5 -.5 1.5 0 1.5 0 2 -.5 1.5 1.5 1.5 -1 1.5 1 1.5 .5 2 -2 1.5 2 1.5 2.5 1.5 -1.5 1.5 0 2 1.5 1.5 -1.5 1.5 1.5 1.5 -1 1.5 0 2 1 1.5 -1.5 1.5 -.5 1.5 -.5 1.5 .5 2 0 1.5 1 1.5 0 1.5 -.5 1.5 .5 2 -2 1.5 2 1.5 .5 1.5 -.5 1.5 0 2 .5 1.5 .5 1.5 .5 1.5 -.5 1.5 1 2 -.5 1.5 1 1.5 2.5 1.5 -.5 1.5 -.5 2 -.5 1.5 1 1.5 .5 1.5 -.5 1.5 -1.5 2 2.5 1.5 .5 1.5 -2 1.5 2.5 1.5 -1 2 .5 1.5 1 1.5 -1 1.5 3 1.5 0 2 1 1.5 -1.5 1.5 .5 1.5 1.5 1.5 -1 2 -1 1.5 .5 1.5 1 1.5 -2 1.5 .5 2 .5 1.5 .5 1.5 -2.5 1.5 -1 1.5 -3.5 2 1 1.5 5 1.5 1 1.5 1 1.5 -1.5 2 -3 1.5 -.5 1.5 -1 1.5 1.5 1.5 3.5 2 -3 1.5 1 1.5 1 1.5 1 1.5 -1 2 -2.5 1.5 -1 1.5 5.5 1.5 2.5 1.5 -3.5 2 .5 1.5 1.5 1.5 0 1.5 -.5 1.5 1.5 2 1 1.5 0 1.5 0 1.5 -.5 1.5 .5 2 -1.5 1.5 -.5 1.5 -2 1.5 1.5 1.5 -2 2 .5 1.5 -1 1.5 1 1.5 .5 1.5 -1.5 2 -.5 1.5 1 1.5 1 1.5 -1 1.5 1 2 -2.5 1.5 1.5 1.5 -1 1.5 2 1.5 -.5 2 -2.5 1.5 1 1.5 .5 1.5 1 1.5 0 2 -2 1.5 2 1.5 -1 1.5 -1 1.5 1.5 2 -1.5 1.5 0 1.5 1 1.5 0 1.5 .5 2 0 1.5 .5 1.5 -1.5 1.5 1 1.5 -1 2 2.5 1.5 -2.5 1.5 -1 1.5 1 1.5 0 2 -2 1.5 2.5 1.5 0 1.5 0 1.5 -.5 2 -1 1.5 1 1.5 0 1.5 -.5 1.5 0 2 1 1.5 -1 1.5 0 1.5 0 1.5 0 2 -2 1.5 1.5 1.5 2 1.5 -1 1.5 0 2 .5 1.5 0 1.5 .5 1.5 .5 1.5 -.5 2 -2 1.5 1.5 1.5 -1 1.5 1 1.5 -1.5 2 1 1.5 0 1.5 0 1.5 0 1.5 1.5 2 -1.5 1.5 -.5 1.5 2 1.5 -2.5 1.5 1 2 1 1.5 -1 1.5 0 1.5 -2.5 1.5 .5 2 2 1.5 -.5 1.5 -1 1.5 .5 1.5 .5 2 -3 1.5 2 1.5 -2 1.5 .5 1.5 0 2 0 1.5 -.5 1.5 2 1.5 -1.5 1.5 -.5 2 -.5 1.5 1 1.5 -1 1.5 -.5 1.5 .5 2 -1 1.5 -.5 1.5 0 1.5 2 1.5 -1 2 1.5 1.5 -2 1.5 2.5 1.5 -.5 1.5 -.5 2 1 1.5 -1.5 1.5 .5 1.5 .5 1.5 .5 2 -1 1.5 0 1.5 2 1.5 -3 1.5 .5 2 1 1.5 1 1.5 -.5 1.5 -.5 1.5 -1 2 1 1.5 0 1.5 .5 1.5 -.5 1.5 1 2 .5 1.5 0 1.5 -1.5 1.5 .5 1.5 .5 2 1.5 1.5 -1.5 1.5 -1 1.5 0 1.5 -.5 2 1 1.5 -1.5 1.5 2.5 1.5 -2 1.5 1 2 -.5 1.5 -1 1.5 0 1.5 1 1.5 -3.5 2 3.5 1.5 -2.5 1.5 .5 1.5 .5 1.5 1.5 2 -1.5 1.5 -1 1.5 1.5 1.5 -.5 1.5 1.5 2 -1 1.5 1 1.5 0 1.5 .5 1.5 .5 2 .5 1.5 1 1.5 -3 1.5 2 1.5 1 2 -2.5 1.5 1 1.5 .5 1.5 1.5 1.5 -1 2 1.5 1.5 1.5 1.5 -2 1.5 1.5 1.5 .5 2 .5 1.5 -1 1.5 1.5 1.5 -.5 1.5 1.5 2 -1 1.5 0 1.5 -1 1.5 1.5 1.5 -3.5 2 1.5 1.5 -.5 1.5 -1 1.5 0 1.5 0 2 -1 1.5 2 1.5 .5 1.5 0 1.5 .5 2 -1.5 1.5 1 1.5 -.5 1.5 1 1.5 1.5 2 -1.5 1.5 -1 1.5 3.5 1.5 -2.5 1.5 .5 2 1 1.5 0 1.5 0 1.5 1 1.5 1 2 0 1.5 -1.5 1.5 1.5 1.5 -.5 1.5 0 2 -.5 1.5 -1 1.5 2.5 1.5 -3 1.5 1 2 0 1.5 1 1.5 -.5 1.5 -.5 1.5 .5 2 -.5 1.5 0 1.5 2.5 1.5 -2.5 1.5 1 2 2 1.5 -2 1.5 .5 1.5 -2.5 1.5 3.5 2 -.5 1.5 -3.5 1.5 .5 1.5 -.5 1.5 3 2 .5 1.5 0 1.5 -2.5 1.5 .5 1.5 -1 2 4.5 1.5 1.5 1.5 1.5 1.5 1 1.5 -1.5 2 -.5 1.5 -3 1.5 -.5 1.5 0 1.5 -.5 2 .5 1.5 -1.5 1.5 -.5 1.5 0 1.5 -1 2 2.5 1.5 -.5 1.5 1.5 1.5 -1.5 1.5 1 2 -1 1.5 .5 1.5 .5 1.5 -1 1.5 1.5 2 -.5 1.5 .5 1.5 0 1.5 0 1.5 0 2 1 1.5 -1 1.5 .5 1.5 2.5 1.5 -2 2 -.5 1.5 0 1.5 2.5 1.5 -1.5 1.5 .5 2 -.5 1.5 .5 1.5 -1 1.5 1.5 1.5 .5 2 -2.5 1.5 1.5 1.5 -.5 1.5 0 1.5 1.5 2 -2.5 1.5 0 1.5 1 1.5 -.5 1.5 -1.5 2 1 1.5 -2.5 1.5 2.5 1.5 .5 1.5 -1.5 2 1.5 1.5 -1 1.5 2 1.5 -1 1.5 -1 2 3 1.5 -.5 1.5 1 1.5 -1.5 1.5 0 2 2 1.5 -1.5 1.5 -2.5 1.5 2 1.5 -1 2 0 1.5 1.5 1.5 -1.5 1.5 2 1.5 -1 2 -1.5 1.5 .5 1.5 .5 1.5 0 1.5 -1 2 1.5 1.5 -2.5 1.5 1 1.5 1.5 1.5 1.5 2 -1 1.5 -3 1.5 1 1.5 0 1.5 1 2 2 1.5 2 1.5 -4.5 1.5 -6 1.5 0 2 -.5 1.5 -1.5 1.5 -1.5 1.5 .5 1.5 -2.5 2 -4 1.5 -1.5 1.5 -3 1.5 2 1.5 6.5 2 1.5 1.5 .5 1.5 -4.5 1.5 -3 1.5 -3.5 2 -5 1.5 0 1.5 2 1.5 2.5 1.5 -.5 2 .5 1.5 -.5 1.5 1.5 1.5 1 1.5 -1 2 1.5 1.5 0 1.5 .5 1.5 -2 1.5 .5 2 0 1.5 -1.5 1.5 1 1.5 2 1.5 0 2 1 1.5 0 1.5 .5 1.5 -.5 1.5 1 2 -.5 1.5 0 1.5 1 1.5 -1 1.5 -1.5 2 0 1.5 0 1.5 .5 1.5 0 1.5 .5 2 0 1.5 0 1.5 .5 1.5 1 1.5 .5 2 0 1.5 .5 1.5 1 1.5 -1.5 1.5 .5 2 -1 1.5 3.5 1.5 -1.5 1.5 .5 1.5 -.5 2 -2.5 1.5 .5 1.5 0 1.5 -2 1.5 .5 2 0 1.5 -.5 1.5 .5 1.5 1 1.5 -1.5 2 2 1.5 -.5 1.5 -.5 1.5 3 1.5 -3 2 1.5 1.5 0 1.5 2 1.5 .5 1.5 -1 2 0 1.5 0 1.5 -1 1.5 .5 1.5 .5 2 1 1.5 -.5 1.5 -1 1.5 .5 1.5 1 2 -1 1.5 -3 1.5 3 1.5 .5 1.5 -.5 2 -1.5 1.5 2 1.5 -1 1.5 0 1.5 0 2 1 1.5 1.5 1.5 -1 1.5 1.5 1.5 0 2 .5 1.5 -2 1.5 2.5 1.5 -1 1.5 0 2 1.5 1.5 -2 1.5 1 1.5 1 1.5 -.5 2 0 1.5 0 1.5 -.5 1.5 -1 1.5 3 2 -.5 1.5 0 1.5 0 1.5 -.5 1.5 0 2 -1.5 1.5 -1.5 1.5 0 1.5 -1" fill="none" stroke="#8a8a8a" stroke-width="2.0" stroke-linejoin="round" /><path d="M159,1166.5l1.5 2.5 1.5 2 2 2 1.5 2 1.5 2.5 1.5 1.5 1.5 -2 2 2 1.5 -2.5 1.5 -1.5 1.5 .5 1.5 -.5 2 1.5 1.5 -2 1.5 0 1.5 -.5 1.5 1.5 2 -.5 1.5 -.5 1.5 .5 1.5 -1 1.5 0 2 0 1.5 -.5 1.5 1.5 1.5 0 1.5 -1 2 .5 1.5 1.5 1.5 -1.5 1.5 .5 1.5 .5 2 .5 1.5 -.5 1.5 1 1.5 -.5 1.5 0 2 -2 1.5 1.5 1.5 -.5 1.5 2 1.5 0 2 1.5 1.5 -1 1.5 1 1.5 -1 1.5 1 2 0 1.5 0 1.5 1 1.5 -1 1.5 1 2 -.5 1.5 1 1.5 -1 1.5 1 1.5 -1 2 -.5 1.5 0 1.5 0 1.5 -1.5 1.5 0 2 1.5 1.5 -1.5 1.5 1 1.5 -1.5 1.5 -.5 2 -1 1.5 1 1.5 .5 1.5 1 1.5 1.5 2 -.5 1.5 -.5 1.5 .5 1.5 -.5 1.5 1.5 2 1 1.5 -.5 1.5 0 1.5 1 1.5 0 2 -2 1.5 .5 1.5 1.5 1.5 -1 1.5 1.5 2 -.5 1.5 .5 1.5 -1.5 1.5 1.5 1.5 -.5 2 -.5 1.5 .5 1.5 -1.5 1.5 1 1.5 1 2 -.5 1.5 -2 1.5 2.5 1.5 -.5 1.5 -.5 2 0 1.5 -.5 1.5 1 1.5 -.5 1.5 1 2 -1 1.5 .5 1.5 .5 1.5 0 1.5 0 2 .5 1.5 -.5 1.5 0 1.5 1 1.5 .5 2 -1.5 1.5 .5 1.5 -.5 1.5 -.5 1.5 1.5 2 -1 1.5 1 1.5 -.5 1.5 .5 1.5 .5 2 1.5 1.5 .5 1.5 0 1.5 -1 1.5 2 2 0 1.5 0 1.5 1 1.5 -2.5 1.5 1 2 1 1.5 -1.5 1.5 -.5 1.5 .5 1.5 2.5 2 -1 1.5 -1 1.5 2 1.5 -.5 1.5 1 2 0 1.5 0 1.5 -3.5 1.5 0 1.5 6 2 -3.5 1.5 2.5 1.5 -7 1.5 4 1.5 -1.5 2 -3.5 1.5 -3 1.5 -.5 1.5 1 1.5 0 2 -3.5 1.5 -3 1.5 5 1.5 -2 1.5 2 2 -8 1.5 4.5 1.5 3.5 1.5 6.5 1.5 -8 2 1 1.5 -1 1.5 .5 1.5 -1 1.5 1 2 1 1.5 0 1.5 -.5 1.5 -.5 1.5 1 2 1.5 1.5 -1 1.5 2.5 1.5 -2 1.5 1 2 0 1.5 0 1.5 -2 1.5 1.5 1.5 -2.5 2 1 1.5 -.5 1.5 1.5 1.5 1.5 1.5 -3 2 1 1.5 .5 1.5 0 1.5 -.5 1.5 .5 2 -.5 1.5 0 1.5 0 1.5 0 1.5 .5 2 -.5 1.5 -1 1.5 1 1.5 -1.5 1.5 .5 2 1.5 1.5 -1 1.5 -.5 1.5 -1 1.5 -1 2 0 1.5 1.5 1.5 -1 1.5 0 1.5 1 2 0 1.5 0 1.5 -1.5 1.5 -1 1.5 1.5 2 0 1.5 -1.5 1.5 0 1.5 .5 1.5 -1.5 2 1 1.5 -.5 1.5 0 1.5 -1 1.5 3 2 -1 1.5 1 1.5 -1 1.5 1 1.5 -.5 2 -.5 1.5 1.5 1.5 -2 1.5 2 1.5 -.5 2 0 1.5 1 1.5 -.5 1.5 -1 1.5 -1 2 -1 1.5 3.5 1.5 -.5 1.5 0 1.5 -1 2 0 1.5 0 1.5 3 1.5 -2 1.5 0 2 1.5 1.5 -2 1.5 0 1.5 0 1.5 -2 2 2 1.5 0 1.5 -1 1.5 -1.5 1.5 -.5 2 -1.5 1.5 1 1.5 1 1.5 0 1.5 -1.5 2 1.5 1.5 -.5 1.5 -1 1.5 0 1.5 .5 2 -.5 1.5 .5 1.5 1 1.5 -1 1.5 -2 2 1.5 1.5 0 1.5 -1.5 1.5 2.5 1.5 1 2 0 1.5 -1.5 1.5 0 1.5 -1 1.5 1 2 -.5 1.5 2 1.5 -1.5 1.5 1 1.5 1 2 -1 1.5 1.5 1.5 -2 1.5 .5 1.5 .5 2 0 1.5 1 1.5 -2 1.5 0 1.5 0 2 0 1.5 1 1.5 -1 1.5 .5 1.5 .5 2 -1 1.5 .5 1.5 2 1.5 1 1.5 0 2 -.5 1.5 0 1.5 -2 1.5 3.5 1.5 -2.5 2 .5 1.5 -1 1.5 0 1.5 -3 1.5 1 2 1 1.5 -1 1.5 0 1.5 .5 1.5 0 2 -.5 1.5 1.5 1.5 -1.5 1.5 .5 1.5 -1.5 2 -.5 1.5 1 1.5 -1.5 1.5 1.5 1.5 2 2 -3 1.5 0 1.5 2 1.5 -1 1.5 -.5 2 1.5 1.5 .5 1.5 -1 1.5 -2 1.5 -.5 2 1.5 1.5 .5 1.5 -1 1.5 0 1.5 1 2 -1.5 1.5 2 1.5 -.5 1.5 0 1.5 -1 2 1.5 1.5 .5 1.5 0 1.5 0 1.5 -.5 2 .5 1.5 2 1.5 -1 1.5 2 1.5 -1 2 .5 1.5 2 1.5 -1.5 1.5 2 1.5 0 2 -.5 1.5 -1.5 1.5 2 1.5 0 1.5 -2 2 2.5 1.5 -2 1.5 0 1.5 0 1.5 -1 2 3.5 1.5 1 1.5 1 1.5 -2 1.5 0 2 -1.5 1.5 2.5 1.5 0 1.5 -1.5 1.5 -1 2 0 1.5 2.5 1.5 -2 1.5 -1.5 1.5 1.5 2 -.5 1.5 2 1.5 -1 1.5 -1 1.5 2 2 -1 1.5 .5 1.5 -.5 1.5 -1.5 1.5 3 2 -.5 1.5 0 1.5 0 1.5 0 1.5 .5 2 .5 1.5 -1.5 1.5 2.5 1.5 -3 1.5 1 2 1 1.5 -2 1.5 -.5 1.5 1 1.5 -.5 2 1 1.5 -3.5 1.5 -1 1.5 -2 1.5 .5 2 -.5 1.5 0 1.5 1 1.5 .5 1.5 .5 2 -.5 1.5 .5 1.5 .5 1.5 -.5 1.5 3 2 -2.5 1.5 1.5 1.5 1 1.5 -1 1.5 -.5 2 -.5 1.5 .5 1.5 -1.5 1.5 2.5 1.5 -.5 2 -.5 1.5 2 1.5 -2 1.5 .5 1.5 -2 2 2 1.5 1 1.5 -2.5 1.5 1.5 1.5 .5 2 1 1.5 -3 1.5 1 1.5 1 1.5 -1 2 1.5 1.5 -.5 1.5 .5 1.5 .5 1.5 .5 2 -1 1.5 0 1.5 0 1.5 -1 1.5 1 2 .5 1.5 -.5 1.5 2.5 1.5 -1.5 1.5 .5 2 -1 1.5 1 1.5 0 1.5 1 1.5 1 2 0 1.5 1 1.5 -1 1.5 .5 1.5 -.5 2 0 1.5 0 1.5 1.5 1.5 -2 1.5 0 2 .5 1.5 .5 1.5 -1.5 1.5 1.5 1.5 -.5 2 .5 1.5 1.5 1.5 -1.5 1.5 1.5 1.5 .5 2 0 1.5 0 1.5 -.5 1.5 1 1.5 -1 2 .5 1.5 0 1.5 .5 1.5 -.5 1.5 2.5 2 -3.5 1.5 2 1.5 1.5 1.5 -1 1.5 -.5 2 -1 1.5 2 1.5 -.5 1.5 1 1.5 -1 2 .5 1.5 -3 1.5 1 1.5 1 1.5 3 2 -3.5 1.5 0 1.5 -2.5 1.5 -3 1.5 -4.5 2 -.5 1.5 -2.5 1.5 -1.5 1.5 -9.5 1.5 -4.5 2 -.5 1.5 3 1.5 1 1.5 3 1.5 -.5 2 9 1.5 3.5 1.5 1 1.5 -14 1.5 -8.5 2 1.5 1.5 5.5 1.5 1.5 1.5 1.5 1.5 -1.5 2 4.5 1.5 -.5 1.5 -2.5 1.5 .5 1.5 0 2 -1 1.5 1 1.5 2 1.5 0 1.5 -1.5 2 -.5 1.5 2 1.5 0 1.5 -.5 1.5 1 2 1 1.5 .5 1.5 .5 1.5 -2 1.5 1 2 0 1.5 .5 1.5 1.5 1.5 -1 1.5 0 2 -1.5 1.5 1 1.5 .5 1.5 -1.5 1.5 1 2 -.5 1.5 3 1.5 -1.5 1.5 0 1.5 0 2 .5 1.5 0 1.5 3 1.5 -3.5 1.5 .5 2 .5 1.5 .5 1.5 1.5 1.5 -1 1.5 -.5 2 -.5 1.5 -1 1.5 2 1.5 -1.5 1.5 2 2 1 1.5 -2.5 1.5 1 1.5 -.5 1.5 0 2 .5 1.5 1 1.5 -1 1.5 -1 1.5 .5 2 .5 1.5 -1 1.5 2 1.5 -.5 1.5 .5 2 .5 1.5 -.5 1.5 1 1.5 0 1.5 .5 2 -3 1.5 2 1.5 1.5 1.5 -.5 1.5 -1 2 0 1.5 0 1.5 -.5 1.5 1.5 1.5 -1.5 2 .5 1.5 0 1.5 1.5 1.5 0 1.5 -.5 2 0 1.5 0 1.5 0 1.5 1 1.5 -1.5 2 0 1.5 1.5 1.5 -.5 1.5 -1.5 1.5 .5 2 .5 1.5 0 1.5 -1 1.5 -.5 1.5 0 2 .5 1.5 0 1.5 .5 1.5 1 1.5 -.5 2 -.5 1.5 .5 1.5 -2 1.5 .5 1.5 2.5 2 -.5 1.5 -2.5 1.5 -.5 1.5 -2" fill="none" stroke="#8a8a8a" stroke-width="2.0" stroke-linejoin="round" /><path d="M159,1170l1.5 4 1.5 2 2 2 1.5 -1.5 1.5 2 1.5 1.5 1.5 4 2 -1 1.5 -4 1.5 1.5 1.5 -2 1.5 2 2 -.5 1.5 1 1.5 -.5 1.5 0 1.5 -1 2 1 1.5 -1.5 1.5 .5 1.5 .5 1.5 .5 2 .5 1.5 0 1.5 -.5 1.5 0 1.5 1 2 0 1.5 1.5 1.5 -1 1.5 -1.5 1.5 -.5 2 .5 1.5 -1 1.5 .5 1.5 1 1.5 -1 2 -2.5 1.5 -.5 1.5 1 1.5 -2 1.5 1.5 2 -1 1.5 0 1.5 -1 1.5 .5 1.5 3 2 -2 1.5 1.5 1.5 0 1.5 1 1.5 1.5 2 -.5 1.5 -2 1.5 .5 1.5 .5 1.5 -1.5 2 0 1.5 .5 1.5 -.5 1.5 0 1.5 .5 2 1 1.5 -1 1.5 -.5 1.5 2 1.5 1 2 .5 1.5 0 1.5 0 1.5 0 1.5 -.5 2 0 1.5 0 1.5 .5 1.5 .5 1.5 .5 2 -.5 1.5 1 1.5 -1 1.5 0 1.5 .5 2 .5 1.5 .5 1.5 .5 1.5 -2 1.5 .5 2 3 1.5 -1 1.5 0 1.5 1 1.5 -4 2 2 1.5 0 1.5 0 1.5 -.5 1.5 1 2 -1 1.5 -.5 1.5 -.5 1.5 .5 1.5 1 2 .5 1.5 -.5 1.5 .5 1.5 .5 1.5 0 2 -1 1.5 1 1.5 1 1.5 1.5 1.5 -2.5 2 .5 1.5 0 1.5 1.5 1.5 -1.5 1.5 -.5 2 1.5 1.5 .5 1.5 0 1.5 1 1.5 -1 2 .5 1.5 -.5 1.5 .5 1.5 -.5 1.5 .5 2 2.5 1.5 -1.5 1.5 -.5 1.5 -.5 1.5 1.5 2 -1 1.5 .5 1.5 3 1.5 -.5 1.5 -1.5 2 1 1.5 -.5 1.5 -1 1.5 .5 1.5 -2 2 3 1.5 -2.5 1.5 .5 1.5 1 1.5 0 2 -.5 1.5 2 1.5 -3 1.5 4.5 1.5 0 2 6 1.5 0 1.5 1 1.5 -1 1.5 4 2 2.5 1.5 0 1.5 -1.5 1.5 -4 1.5 -4.5 2 -1.5 1.5 2.5 1.5 1.5 1.5 5.5 1.5 -2 2 2 1.5 -9.5 1.5 2.5 1.5 1.5 1.5 3.5 2 -1.5 1.5 1 1.5 -.5 1.5 1.5 1.5 -1.5 2 -.5 1.5 .5 1.5 1 1.5 -1.5 1.5 .5 2 0 1.5 .5 1.5 -1.5 1.5 2.5 1.5 -.5 2 0 1.5 1.5 1.5 .5 1.5 1 1.5 -3.5 2 2 1.5 -.5 1.5 .5 1.5 1.5 1.5 -1 2 -1 1.5 .5 1.5 -3 1.5 1.5 1.5 0 2 1 1.5 0 1.5 -.5 1.5 .5 1.5 0 2 .5 1.5 0 1.5 .5 1.5 -.5 1.5 -2 2 .5 1.5 -2 1.5 3 1.5 -1 1.5 0 2 -1.5 1.5 2.5 1.5 -.5 1.5 -.5 1.5 -.5 2 -.5 1.5 1 1.5 1.5 1.5 -.5 1.5 -1.5 2 1 1.5 -1 1.5 .5 1.5 0 1.5 -1 2 .5 1.5 1 1.5 -1.5 1.5 1 1.5 1 2 .5 1.5 -1.5 1.5 -1.5 1.5 2 1.5 1.5 2 .5 1.5 -1 1.5 .5 1.5 1 1.5 -1 2 -.5 1.5 2.5 1.5 -2 1.5 1.5 1.5 2 2 -2 1.5 1.5 1.5 -3 1.5 1.5 1.5 0 2 0 1.5 2 1.5 -1 1.5 0 1.5 .5 2 -2 1.5 -.5 1.5 -.5 1.5 0 1.5 1 2 -1.5 1.5 .5 1.5 -.5 1.5 .5 1.5 -2 2 1.5 1.5 1 1.5 .5 1.5 -1 1.5 -.5 2 .5 1.5 -1 1.5 .5 1.5 -.5 1.5 .5 2 .5 1.5 1.5 1.5 -1.5 1.5 -2 1.5 0 2 1 1.5 -1 1.5 .5 1.5 .5 1.5 -.5 2 -.5 1.5 -1.5 1.5 .5 1.5 2 1.5 -.5 2 -1 1.5 -1 1.5 2 1.5 0 1.5 1.5 2 -2.5 1.5 -1.5 1.5 1.5 1.5 -.5 1.5 1.5 2 -1.5 1.5 .5 1.5 -1 1.5 2 1.5 -1.5 2 0 1.5 -2 1.5 -.5 1.5 2.5 1.5 1 2 -1.5 1.5 3 1.5 -.5 1.5 0 1.5 -1.5 2 -.5 1.5 1.5 1.5 0 1.5 -1.5 1.5 0 2 -.5 1.5 0 1.5 -.5 1.5 .5 1.5 .5 2 -1 1.5 0 1.5 1.5 1.5 -2 1.5 0 2 .5 1.5 1.5 1.5 0 1.5 -3.5 1.5 3 2 -1 1.5 .5 1.5 1 1.5 -1 1.5 -1 2 1 1.5 1 1.5 -2 1.5 -1 1.5 1.5 2 -.5 1.5 2 1.5 -.5 1.5 -.5 1.5 .5 2 2 1.5 -1.5 1.5 .5 1.5 1.5 1.5 -1 2 1.5 1.5 -2.5 1.5 1 1.5 1 1.5 -1.5 2 2.5 1.5 -1 1.5 -1.5 1.5 1 1.5 -2 2 1 1.5 2 1.5 -4 1.5 1.5 1.5 -1.5 2 -.5 1.5 -.5 1.5 1 1.5 -1 1.5 3 2 -3 1.5 3.5 1.5 -2 1.5 -1.5 1.5 3 2 -2 1.5 0 1.5 1.5 1.5 -1.5 1.5 -.5 2 .5 1.5 .5 1.5 1 1.5 0 1.5 .5 2 -1.5 1.5 1 1.5 .5 1.5 0 1.5 1 2 -1 1.5 1.5 1.5 -3 1.5 1 1.5 -.5 2 0 1.5 -.5 1.5 1 1.5 -1.5 1.5 0 2 1 1.5 -1.5 1.5 1 1.5 2 1.5 -2.5 2 .5 1.5 1 1.5 .5 1.5 -1 1.5 1.5 2 1.5 1.5 -.5 1.5 -1.5 1.5 -.5 1.5 1 2 -1 1.5 1 1.5 -1 1.5 1 1.5 -.5 2 .5 1.5 -3.5 1.5 0 1.5 0 1.5 .5 2 5 1.5 -1 1.5 2 1.5 2.5 1.5 3 2 -1 1.5 -.5 1.5 -.5 1.5 -1 1.5 -3.5 2 2.5 1.5 2 1.5 .5 1.5 1.5 1.5 1 2 -2 1.5 1 1.5 1 1.5 -2 1.5 -2 2 2.5 1.5 2.5 1.5 -.5 1.5 -2 1.5 -1.5 2 1 1.5 -.5 1.5 1 1.5 .5 1.5 -1 2 1.5 1.5 -1.5 1.5 -1.5 1.5 2 1.5 -.5 2 -.5 1.5 2 1.5 -.5 1.5 1 1.5 0 2 -1.5 1.5 .5 1.5 1 1.5 1 1.5 -.5 2 2 1.5 .5 1.5 -1.5 1.5 1.5 1.5 0 2 3 1.5 -2.5 1.5 2 1.5 -2 1.5 -.5 2 -1 1.5 0 1.5 .5 1.5 -.5 1.5 .5 2 -.5 1.5 0 1.5 0 1.5 -1.5 1.5 1 2 -.5 1.5 3.5 1.5 -1.5 1.5 2.5 1.5 -1 2 1 1.5 -.5 1.5 2.5 1.5 1 1.5 -2 2 0 1.5 1.5 1.5 -2.5 1.5 1 1.5 0 2 -.5 1.5 -1 1.5 1.5 1.5 -.5 1.5 -.5 2 2 1.5 -2 1.5 -.5 1.5 3 1.5 -2.5 2 2 1.5 0 1.5 0 1.5 1.5 1.5 -1 2 .5 1.5 -1 1.5 1.5 1.5 -1 1.5 2 2 -3.5 1.5 -3.5 1.5 -.5 1.5 -4 1.5 1.5 2 -2 1.5 -2 1.5 -7.5 1.5 -8 1.5 -2 2 -2 1.5 -4.5 1.5 -6.5 1.5 -8 1.5 9.5 2 0 1.5 2.5 1.5 -7.5 1.5 .5 1.5 -.5 2 3 1.5 -4.5 1.5 -2.5 1.5 -3.5 1.5 1 2 -2 1.5 1.5 1.5 2 1.5 1.5 1.5 -.5 2 .5 1.5 1 1.5 -1 1.5 3 1.5 -3 2 -1 1.5 -.5 1.5 -.5 1.5 1 1.5 0 2 -1 1.5 .5 1.5 .5 1.5 1 1.5 .5 2 -2 1.5 1.5 1.5 -1 1.5 1 1.5 -1.5 2 1.5 1.5 -.5 1.5 2 1.5 -1 1.5 .5 2 -3 1.5 -1 1.5 3 1.5 0 1.5 .5 2 0 1.5 2 1.5 -.5 1.5 -2 1.5 2 2 -.5 1.5 .5 1.5 1 1.5 0 1.5 -1 2 1 1.5 0 1.5 -1 1.5 -1 1.5 -2.5 2 .5 1.5 0 1.5 .5 1.5 .5 1.5 -1 2 2.5 1.5 -2.5 1.5 -.5 1.5 .5 1.5 .5 2 1 1.5 -1 1.5 1.5 1.5 -2 1.5 1.5 2 0 1.5 .5 1.5 -1 1.5 .5 1.5 -1 2 0 1.5 1 1.5 0 1.5 -1 1.5 0 2 3 1.5 -2 1.5 0 1.5 2 1.5 -2 2 .5 1.5 1 1.5 -1.5 1.5 2 1.5 -.5 2 -1 1.5 2.5 1.5 -2 1.5 -.5 1.5 .5 2 -1 1.5 1.5 1.5 -1 1.5 -.5 1.5 0 2 1.5 1.5 -.5 1.5 -1 1.5 1 1.5 -1.5 2 .5 1.5 -1 1.5 2.5 1.5 -2 1.5 -1 2 2.5 1.5 -.5 1.5 -1.5 1.5 0 1.5 .5 2 -1 1.5 1 1.5 -1.5 1.5 -.5" fill="none" stroke="#8a8a8a" stroke-width="2.0" stroke-linejoin="round" /><path d="M159,1200l1.5 3 1.5 4 2 2 1.5 4 1.5 3 1.5 -2 1.5 1.5 2 -1 1.5 .5 1.5 -1.5 1.5 1 1.5 -.5 2 -.5 1.5 .5 1.5 -1 1.5 -1 1.5 -1 2 1 1.5 -2 1.5 .5 1.5 1.5 1.5 -1.5 2 1 1.5 .5 1.5 -1.5 1.5 -.5 1.5 -.5 2 2 1.5 1 1.5 0 1.5 -1.5 1.5 -.5 2 0 1.5 1 1.5 -1.5 1.5 0 1.5 0 2 -1.5 1.5 2 1.5 -1 1.5 -.5 1.5 0 2 .5 1.5 .5 1.5 2 1.5 -2 1.5 .5 2 -1 1.5 2 1.5 -2 1.5 0 1.5 -1 2 2 1.5 -3.5 1.5 2.5 1.5 -1.5 1.5 1.5 2 -2 1.5 5.5 1.5 -3 1.5 1 1.5 -1.5 2 2 1.5 -.5 1.5 1.5 1.5 -3 1.5 -.5 2 .5 1.5 -1 1.5 .5 1.5 0 1.5 1 2 -1 1.5 .5 1.5 -2.5 1.5 1 1.5 -1 2 3 1.5 -1 1.5 0 1.5 -.5 1.5 2.5 2 -2.5 1.5 -1 1.5 0 1.5 1 1.5 1 2 -1 1.5 2 1.5 -5 1.5 1 1.5 -.5 2 1.5 1.5 0 1.5 .5 1.5 -1 1.5 1.5 2 -.5 1.5 2.5 1.5 -.5 1.5 -1 1.5 1.5 2 1 1.5 1.5 1.5 -.5 1.5 -2 1.5 3 2 .5 1.5 -1 1.5 -.5 1.5 -.5 1.5 -.5 2 0 1.5 -.5 1.5 -.5 1.5 1.5 1.5 0 2 -1 1.5 0 1.5 -1 1.5 -3 1.5 3.5 2 -1 1.5 .5 1.5 0 1.5 1.5 1.5 0 2 3 1.5 -1.5 1.5 -.5 1.5 2 1.5 1 2 -1 1.5 1.5 1.5 -.5 1.5 -.5 1.5 1 2 0 1.5 .5 1.5 -1 1.5 .5 1.5 0 2 -1.5 1.5 .5 1.5 .5 1.5 0 1.5 0 2 .5 1.5 -3 1.5 .5 1.5 -2 1.5 2.5 2 -.5 1.5 -.5 1.5 .5 1.5 0 1.5 -5 2 .5 1.5 -1.5 1.5 -5 1.5 -4.5 1.5 -1 2 5 1.5 -3 1.5 3.5 1.5 1 1.5 1.5 2 .5 1.5 0 1.5 3.5 1.5 -2 1.5 -2.5 2 .5 1.5 -1 1.5 .5 1.5 3 1.5 -3 2 2 1.5 -2 1.5 .5 1.5 -2 1.5 1 2 0 1.5 2 1.5 -2 1.5 .5 1.5 -.5 2 -1 1.5 0 1.5 -1.5 1.5 2 1.5 -1 2 1.5 1.5 0 1.5 .5 1.5 .5 1.5 -2.5 2 0 1.5 0 1.5 -1.5 1.5 1.5 1.5 1 2 0 1.5 0 1.5 1 1.5 0 1.5 -.5 2 0 1.5 .5 1.5 0 1.5 0 1.5 1 2 -2 1.5 -1 1.5 -1.5 1.5 0 1.5 .5 2 -.5 1.5 1 1.5 -.5 1.5 -1 1.5 0 2 1 1.5 1.5 1.5 -1 1.5 1 1.5 -1 2 1.5 1.5 0 1.5 1.5 1.5 -2 1.5 1 2 -1 1.5 .5 1.5 -1 1.5 1 1.5 -.5 2 0 1.5 1.5 1.5 -2 1.5 .5 1.5 0 2 0 1.5 0 1.5 1.5 1.5 0 1.5 -1.5 2 0 1.5 -.5 1.5 0 1.5 0 1.5 .5 2 1.5 1.5 .5 1.5 -.5 1.5 -.5 1.5 1.5 2 -3 1.5 2 1.5 0 1.5 0 1.5 -.5 2 0 1.5 1 1.5 -2.5 1.5 2.5 1.5 -3 2 1.5 1.5 0 1.5 -1 1.5 1.5 1.5 -2.5 2 1 1.5 0 1.5 -1.5 1.5 0 1.5 1.5 2 -1 1.5 -1 1.5 1 1.5 -.5 1.5 1.5 2 -.5 1.5 1.5 1.5 -.5 1.5 1.5 1.5 -3 2 .5 1.5 -.5 1.5 0 1.5 0 1.5 .5 2 1.5 1.5 -1 1.5 2 1.5 -3 1.5 2 2 2.5 1.5 -1 1.5 .5 1.5 -.5 1.5 0 2 -1 1.5 1 1.5 2 1.5 -.5 1.5 -2.5 2 2 1.5 0 1.5 -.5 1.5 -2.5 1.5 2 2 0 1.5 0 1.5 0 1.5 -1 1.5 1 2 -1 1.5 0 1.5 1 1.5 .5 1.5 -1.5 2 -1.5 1.5 0 1.5 1 1.5 0 1.5 -1 2 1 1.5 0 1.5 0 1.5 .5 1.5 -1 2 .5 1.5 .5 1.5 0 1.5 .5 1.5 2 2 -.5 1.5 -2 1.5 -.5 1.5 1.5 1.5 -1.5 2 -.5 1.5 -1 1.5 2 1.5 .5 1.5 -2 2 .5 1.5 0 1.5 .5 1.5 1 1.5 -.5 2 0 1.5 .5 1.5 0 1.5 -.5 1.5 .5 2 -1 1.5 1 1.5 1.5 1.5 -1.5 1.5 1 2 -1 1.5 -.5 1.5 0 1.5 .5 1.5 -.5 2 -1 1.5 2 1.5 -1 1.5 1 1.5 .5 2 -1 1.5 2 1.5 -1.5 1.5 .5 1.5 1 2 -.5 1.5 .5 1.5 0 1.5 -1 1.5 0 2 -.5 1.5 1 1.5 -1.5 1.5 1 1.5 -1.5 2 2 1.5 -2 1.5 2.5 1.5 0 1.5 -2.5 2 0 1.5 0 1.5 -.5 1.5 1 1.5 -1.5 2 .5 1.5 -.5 1.5 -.5 1.5 .5 1.5 -1 2 .5 1.5 -.5 1.5 0 1.5 0 1.5 1.5 2 2 1.5 -1 1.5 -1 1.5 -.5 1.5 1 2 -.5 1.5 -1 1.5 .5 1.5 -.5 1.5 0 2 0 1.5 1.5 1.5 0 1.5 -3 1.5 0 2 2 1.5 -.5 1.5 -1 1.5 .5 1.5 0 2 -.5 1.5 1.5 1.5 -2 1.5 1 1.5 -.5 2 3 1.5 -2 1.5 2.5 1.5 1.5 1.5 1 2 .5 1.5 1.5 1.5 .5 1.5 2.5 1.5 2.5 2 -2 1.5 .5 1.5 -7 1.5 .5 1.5 .5 2 -.5 1.5 1 1.5 -.5 1.5 1 1.5 -1.5 2 2 1.5 0 1.5 -.5 1.5 .5 1.5 .5 2 2 1.5 -2.5 1.5 0 1.5 1 1.5 1 2 1.5 1.5 0 1.5 0 1.5 .5 1.5 -1 2 -1.5 1.5 2 1.5 -1 1.5 1 1.5 -.5 2 .5 1.5 -1 1.5 0 1.5 0 1.5 -.5 2 1 1.5 .5 1.5 0 1.5 -1 1.5 0 2 -1 1.5 1 1.5 -1.5 1.5 1.5 1.5 0 2 -1.5 1.5 1.5 1.5 -2.5 1.5 2 1.5 2 2 -1 1.5 .5 1.5 0 1.5 -.5 1.5 1.5 2 2.5 1.5 -.5 1.5 .5 1.5 -1 1.5 1 2 -1 1.5 1 1.5 .5 1.5 -1.5 1.5 2 2 0 1.5 -2 1.5 -1.5 1.5 1.5 1.5 0 2 .5 1.5 1 1.5 -.5 1.5 0 1.5 -.5 2 1.5 1.5 -.5 1.5 1 1.5 -2.5 1.5 3 2 -1.5 1.5 -.5 1.5 -.5 1.5 0 1.5 0 2 .5 1.5 -1.5 1.5 2 1.5 -1.5 1.5 1.5 2 2 1.5 -2 1.5 0 1.5 3.5 1.5 -2 2 1 1.5 0 1.5 -6.5 1.5 -10 1.5 -5.5 2 2.5 1.5 1.5 1.5 -2 1.5 -11.5 1.5 -3.5 2 -5 1.5 -1 1.5 -4.5 1.5 -1.5 1.5 -1 2 5 1.5 4 1.5 .5 1.5 -4.5 1.5 -6.5 2 -2 1.5 -2 1.5 1.5 1.5 1.5 1.5 -1.5 2 -6.5 1.5 -2.5 1.5 6 1.5 1.5 1.5 0 2 0 1.5 -1 1.5 -.5 1.5 -.5 1.5 3 2 -2.5 1.5 1 1.5 -1.5 1.5 .5 1.5 2.5 2 -1 1.5 -1 1.5 1 1.5 1 1.5 .5 2 -1 1.5 0 1.5 .5 1.5 -1 1.5 2 2 -1 1.5 -1.5 1.5 0 1.5 1.5 1.5 -1 2 0 1.5 1.5 1.5 0 1.5 1 1.5 -.5 2 0 1.5 0 1.5 3 1.5 .5 1.5 -1.5 2 -2 1.5 3 1.5 -3 1.5 .5 1.5 2 2 -.5 1.5 -.5 1.5 -2.5 1.5 -.5 1.5 .5 2 .5 1.5 0 1.5 -.5 1.5 -1 1.5 .5 2 0 1.5 1 1.5 3 1.5 -1.5 1.5 0 2 -.5 1.5 0 1.5 0 1.5 1 1.5 -1.5 2 2.5 1.5 -2 1.5 1.5 1.5 0 1.5 .5 2 -1 1.5 .5 1.5 1.5 1.5 -2.5 1.5 2.5 2 .5 1.5 0 1.5 -.5 1.5 0 1.5 -2.5 2 2 1.5 1 1.5 0 1.5 -2 1.5 1.5 2 1.5 1.5 -2 1.5 1 1.5 2 1.5 -.5 2 1 1.5 -.5 1.5 -.5 1.5 1 1.5 -1 2 1.5 1.5 -2 1.5 -1.5 1.5 2 1.5 3 2 -3 1.5 0 1.5 0 1.5 .5 1.5 -2 2 1.5 1.5 -.5 1.5 -.5 1.5 1.5 1.5 -1 2 0 1.5 -.5 1.5 -2.5 1.5 1.5" fill="none" stroke="#8a8a8a" stroke-width="2.0" stroke-linejoin="round" /><path d="M159,1216l1.5 3.5 1.5 4 2 2.5 1.5 3.5 1.5 .5 1.5 -1.5 1.5 -.5 2 1 1.5 0 1.5 -.5 1.5 0 1.5 -1.5 2 1.5 1.5 -3 1.5 -.5 1.5 2 1.5 -1.5 2 2.5 1.5 -.5 1.5 0 1.5 .5 1.5 0 2 .5 1.5 -1.5 1.5 3 1.5 -1 1.5 .5 2 0 1.5 0 1.5 -1 1.5 1 1.5 .5 2 .5 1.5 .5 1.5 -.5 1.5 0 1.5 0 2 .5 1.5 -1.5 1.5 1 1.5 0 1.5 -.5 2 0 1.5 1 1.5 0 1.5 -1 1.5 1 2 -1 1.5 1 1.5 -1 1.5 1.5 1.5 -.5 2 0 1.5 0 1.5 -1.5 1.5 .5 1.5 1.5 2 -1 1.5 -1 1.5 -1.5 1.5 -1 1.5 1.5 2 .5 1.5 -1.5 1.5 .5 1.5 3 1.5 -2 2 -1 1.5 -.5 1.5 1.5 1.5 -2 1.5 1 2 2 1.5 -3 1.5 .5 1.5 1 1.5 -1.5 2 -1 1.5 1 1.5 -.5 1.5 1.5 1.5 -1 2 .5 1.5 4 1.5 -4 1.5 1 1.5 -.5 2 0 1.5 .5 1.5 1 1.5 1 1.5 0 2 -2.5 1.5 2.5 1.5 -3 1.5 .5 1.5 1 2 -1.5 1.5 .5 1.5 1 1.5 0 1.5 0 2 1 1.5 -.5 1.5 2 1.5 -2 1.5 1 2 -.5 1.5 1.5 1.5 -.5 1.5 0 1.5 0 2 -.5 1.5 1.5 1.5 -2 1.5 1 1.5 -1 2 0 1.5 -1.5 1.5 0 1.5 -.5 1.5 1.5 2 0 1.5 -1 1.5 -1 1.5 2 1.5 -.5 2 0 1.5 -1.5 1.5 2.5 1.5 -.5 1.5 0 2 -1 1.5 .5 1.5 -.5 1.5 .5 1.5 0 2 -1.5 1.5 2 1.5 -3 1.5 1.5 1.5 -.5 2 0 1.5 -1.5 1.5 1 1.5 -1.5 1.5 1 2 1 1.5 .5 1.5 2.5 1.5 .5 1.5 -.5 2 -5 1.5 -1 1.5 -5.5 1.5 .5 1.5 -3.5 2 4 1.5 -2 1.5 0 1.5 -4 1.5 -6.5 2 -5 1.5 -3 1.5 5.5 1.5 1.5 1.5 .5 2 -4 1.5 -.5 1.5 -2.5 1.5 2 1.5 -1.5 2 0 1.5 1.5 1.5 -2.5 1.5 2.5 1.5 -1.5 2 .5 1.5 -.5 1.5 1.5 1.5 -1.5 1.5 1.5 2 -2.5 1.5 3 1.5 -.5 1.5 1.5 1.5 -.5 2 -.5 1.5 1.5 1.5 1.5 1.5 0 1.5 -.5 2 -1 1.5 2 1.5 -2 1.5 1.5 1.5 -2 2 2 1.5 -1.5 1.5 2.5 1.5 -3.5 1.5 2 2 -1.5 1.5 .5 1.5 -.5 1.5 1 1.5 .5 2 -2.5 1.5 0 1.5 1 1.5 -1 1.5 .5 2 .5 1.5 1.5 1.5 0 1.5 -1 1.5 2 2 -1.5 1.5 .5 1.5 .5 1.5 1.5 1.5 -1 2 .5 1.5 1 1.5 -1 1.5 -1 1.5 1 2 0 1.5 -.5 1.5 1.5 1.5 -1 1.5 -.5 2 .5 1.5 0 1.5 -1.5 1.5 -1 1.5 1 2 -1.5 1.5 1.5 1.5 -1 1.5 -1 1.5 1 2 -2 1.5 2 1.5 -.5 1.5 -1.5 1.5 .5 2 -1 1.5 2.5 1.5 -.5 1.5 1.5 1.5 -1 2 .5 1.5 0 1.5 0 1.5 .5 1.5 -.5 2 .5 1.5 3 1.5 -3 1.5 1.5 1.5 -1.5 2 .5 1.5 -1 1.5 1.5 1.5 -1 1.5 -.5 2 .5 1.5 0 1.5 -1.5 1.5 -.5 1.5 2 2 -.5 1.5 0 1.5 .5 1.5 0 1.5 -.5 2 .5 1.5 0 1.5 1 1.5 0 1.5 -1.5 2 0 1.5 3.5 1.5 -2.5 1.5 0 1.5 0 2 -1 1.5 0 1.5 .5 1.5 -.5 1.5 0 2 .5 1.5 1.5 1.5 -2 1.5 2 1.5 -2 2 2.5 1.5 -.5 1.5 0 1.5 2.5 1.5 -1.5 2 1.5 1.5 .5 1.5 -1 1.5 1 1.5 -1.5 2 0 1.5 .5 1.5 -1 1.5 -.5 1.5 -1.5 2 1 1.5 -2.5 1.5 .5 1.5 .5 1.5 2 2 -2 1.5 -2 1.5 2 1.5 -1 1.5 1 2 -.5 1.5 1 1.5 -1 1.5 0 1.5 0 2 .5 1.5 0 1.5 0 1.5 2.5 1.5 .5 2 -2.5 1.5 1 1.5 .5 1.5 -1 1.5 -1 2 1.5 1.5 -.5 1.5 2 1.5 -3.5 1.5 0 2 -.5 1.5 1 1.5 -1.5 1.5 1.5 1.5 .5 2 -2.5 1.5 1.5 1.5 .5 1.5 0 1.5 -.5 2 0 1.5 .5 1.5 -2 1.5 2.5 1.5 -2 2 0 1.5 1 1.5 1.5 1.5 -1.5 1.5 -.5 2 .5 1.5 -1.5 1.5 1.5 1.5 -.5 1.5 -.5 2 0 1.5 0 1.5 0 1.5 0 1.5 -2 2 3 1.5 -1.5 1.5 -.5 1.5 1 1.5 -.5 2 1 1.5 -2 1.5 0 1.5 1 1.5 -1 2 1 1.5 0 1.5 .5 1.5 .5 1.5 -.5 2 0 1.5 .5 1.5 -2 1.5 1 1.5 1 2 -1.5 1.5 -1.5 1.5 2 1.5 -.5 1.5 0 2 -3 1.5 1.5 1.5 .5 1.5 -.5 1.5 -.5 2 1 1.5 -2 1.5 2 1.5 -1.5 1.5 .5 2 -1.5 1.5 2.5 1.5 1.5 1.5 .5 1.5 -2.5 2 .5 1.5 .5 1.5 -.5 1.5 -1 1.5 2.5 2 -2 1.5 -1 1.5 0 1.5 -1 1.5 -.5 2 .5 1.5 -1.5 1.5 .5 1.5 -2 1.5 -.5 2 2 1.5 1 1.5 0 1.5 1.5 1.5 -2 2 1 1.5 1.5 1.5 3 1.5 0 1.5 -4 2 -1 1.5 4 1.5 -1 1.5 -2.5 1.5 -.5 2 1.5 1.5 -1.5 1.5 -2.5 1.5 3 1.5 -.5 2 -1.5 1.5 0 1.5 1.5 1.5 -2.5 1.5 2 2 .5 1.5 -.5 1.5 0 1.5 -1 1.5 2 2 -.5 1.5 -1 1.5 -1 1.5 -.5 1.5 -1.5 2 -2 1.5 1.5 1.5 0 1.5 -2.5 1.5 1.5 2 -.5 1.5 -1.5 1.5 .5 1.5 0 1.5 0 2 0 1.5 .5 1.5 1 1.5 .5 1.5 -1 2 0 1.5 -1.5 1.5 1 1.5 -1.5 1.5 0 2 3 1.5 -1.5 1.5 0 1.5 1.5 1.5 -1.5 2 1 1.5 -1.5 1.5 1 1.5 .5 1.5 -1.5 2 .5 1.5 -1 1.5 -1 1.5 0 1.5 -1.5 2 .5 1.5 1.5 1.5 -2 1.5 1 1.5 2.5 2 -2.5 1.5 -1.5 1.5 -.5 1.5 1 1.5 -1 2 -.5 1.5 2 1.5 0 1.5 -1 1.5 -.5 2 -1.5 1.5 0 1.5 -.5 1.5 1.5 1.5 0 2 .5 1.5 -1 1.5 0 1.5 0 1.5 -.5 2 1 1.5 -1 1.5 1 1.5 0 1.5 0 2 -1 1.5 .5 1.5 1 1.5 -.5 1.5 .5 2 -1 1.5 .5 1.5 .5 1.5 -3 1.5 1 2 -4 1.5 8 1.5 -.5 1.5 -4 1.5 -7 2 .5 1.5 2 1.5 2 1.5 -7 1.5 -3 2 1 1.5 5 1.5 -5 1.5 -3.5 1.5 -5.5 2 1.5 1.5 -2 1.5 0 1.5 0 1.5 -2.5 2 2 1.5 -2 1.5 0 1.5 -3.5 1.5 5.5 2 -4 1.5 1.5 1.5 3 1.5 0 1.5 -2 2 1.5 1.5 -.5 1.5 -.5 1.5 -.5 1.5 -3 2 4 1.5 .5 1.5 0 1.5 -.5 1.5 .5 2 -1 1.5 3 1.5 -2.5 1.5 2.5 1.5 -.5 2 -1 1.5 2.5 1.5 -1 1.5 -.5 1.5 .5 2 -.5 1.5 -1 1.5 .5 1.5 0 1.5 0 2 1 1.5 -1.5 1.5 .5 1.5 -1 1.5 -1 2 1.5 1.5 -.5 1.5 -1 1.5 -.5 1.5 1 2 -.5 1.5 -1 1.5 0 1.5 1.5 1.5 -.5 2 -.5 1.5 2.5 1.5 -1.5 1.5 -1 1.5 1.5 2 -3 1.5 .5 1.5 2 1.5 .5 1.5 .5 2 -1 1.5 2 1.5 -.5 1.5 -1.5 1.5 1.5 2 1 1.5 -3.5 1.5 2.5 1.5 -.5 1.5 -1 2 2 1.5 0 1.5 1.5 1.5 -2.5 1.5 1 2 0 1.5 -.5 1.5 -2 1.5 .5 1.5 2 2 -2 1.5 .5 1.5 1 1.5 1 1.5 -1 2 1.5 1.5 -.5 1.5 -1.5 1.5 1.5 1.5 1 2 .5 1.5 -1.5 1.5 .5 1.5 -2.5 1.5 2.5 2 .5 1.5 1 1.5 -.5 1.5 .5 1.5 0 2 -1 1.5 -.5 1.5 2 1.5 -1 1.5 .5 2 0 1.5 .5 1.5 -.5 1.5 .5 1.5 -.5 2 1 1.5 -.5 1.5 -1.5 1.5 1 1.5 -.5 2 1.5 1.5 -2 1.5 -.5 1.5 .5" fill="none" stroke="#8a8a8a" stroke-width="2.0" stroke-linejoin="round" /><path d="M156,1177.5l2 2.5 1.5 2 2 1.5 1.5 .5 2 0 2 0 1.5 1.5 2 -1 1.5 1.5 2 -1 2 .5 1.5 -1 2 -2 1.5 -1.5 2 3.5 2 .5 1.5 -2.5 2 2.5 1.5 0 2 0 2 0 1.5 -1 2 -3 1.5 4 2 .5 2 -3.5 1.5 3 2 0 1.5 -2 2 -2.5 2 3 1.5 1.5 2 0 1.5 -1 2 1 2 -.5 1.5 -2.5 2 -.5 1.5 2 2 2.5 2 .5 1.5 -2.5 2 1 1.5 -1 2 -1.5 2 2 1.5 -2.5 2 1.5 1.5 -.5 2 1.5 2 -2.5 1.5 2 2 -.5 1.5 1.5 2 -2.5 2 2 1.5 0 2 3.5 1.5 -1.5 2 -3 2 2.5 1.5 -3 2 3.5 1.5 2 2 -.5 2 .5 1.5 0 2 -1.5 1.5 2.5 2 .5 2 2 1.5 .5 2 -1.5 1.5 0 2 .5 2 -.5 1.5 1.5 2 .5 1.5 0 2 -2 2 2.5 1.5 .5 2 -1.5 1.5 3 2 -1 2 -1 1.5 -1.5 2 1.5 1.5 .5 2 -2 2 .5 1.5 -.5 2 -3 1.5 0 2 0 2 .5 1.5 1 2 -1 1.5 1 2 -3 2 2 1.5 -1 2 2 1.5 0 2 .5 2 0 1.5 .5 2 0 1.5 -.5 2 -3 2 4 1.5 -1 2 1.5 1.5 1 2 -1 2 -4 1.5 1.5 2 0 1.5 .5 2 -2 2 2.5 1.5 0 2 2 1.5 -.5 2 0 2 .5 1.5 1.5 2 -1 1.5 0 2 -5.5 2 6 1.5 -3 2 -1.5 1.5 2.5 2 -1 2 -2 1.5 -.5 2 -5.5 1.5 -6.5 2 -2.5 2 -7.5 1.5 -5.5 2 -5 1.5 -8.5 2 -3.5 2 1.5 1.5 -.5 2 1 1.5 -1 2 4 2 4.5 1.5 4.5 2 1 1.5 0 2 -.5 2 -2 1.5 1 2 .5 1.5 -1 2 -2.5 2 -1.5 1.5 2 2 -1 1.5 1 2 3 2 -4.5 1.5 4 2 -.5 1.5 1 2 -1.5 2 -.5 1.5 -2 2 0 1.5 2.5 2 0 2 1 1.5 -.5 2 0 1.5 -2.5 2 2.5 2 .5 1.5 1 2 -.5 1.5 -1.5 2 0 2 -3 1.5 1 2 0 1.5 -1 2 .5 2 -1.5 1.5 0 2 .5 1.5 -1 2 -2.5 2 2.5 1.5 0 2 0 1.5 1 2 0 2 .5 1.5 -.5 2 -1 1.5 2 2 -.5 2 0 1.5 .5 2 -.5 1.5 0 2 -1 2 1 1.5 0 2 -.5 1.5 -1 2 -1.5 2 1.5 1.5 0 2 2 1.5 0 2 -1 2 0 1.5 1.5 2 0 1.5 -.5 2 .5 2 .5 1.5 1 2 -2.5 1.5 -.5 2 1 2 -1.5 1.5 2 2 -4 1.5 2.5 2 -2 2 1.5 1.5 -1.5 2 .5 1.5 -1 2 -1 2 .5 1.5 -3 2 2.5 1.5 -1 2 -1 2 2.5 1.5 -2.5 2 2 1.5 -1.5 2 -.5 2 -6 1.5 5.5 2 -.5 1.5 -1.5 2 -4.5 2 5.5 1.5 -1.5 2 -2 1.5 2.5 2 -.5 2 -4 1.5 4.5 2 -1 1.5 -2.5 2 1 2 3 1.5 -6.5 2 6 1.5 -4 2 1 2 1 1.5 0 2 1.5 1.5 0 2 4 2 -3 1.5 3 2 -1 1.5 .5 2 0 2 -1.5 1.5 3 2 -.5 1.5 .5 2 -.5 2 0 1.5 -1.5 2 1.5 1.5 -2 2 -.5 2 2 1.5 0 2 -.5 1.5 -1.5 2 .5 2 -1 1.5 -.5 2 2.5 1.5 -2 2 1.5 2 -.5 1.5 -.5 2 0 1.5 1 2 .5 2 -.5 1.5 .5 2 -2 1.5 2 2 -1.5 2 0 1.5 1.5 2 -1 1.5 -.5 2 1.5 2 -.5 1.5 -1 2 .5 1.5 0 2 -.5 2 -.5 1.5 1 2 -.5 1.5 0 2 0 2 -1 1.5 1 2 0 1.5 -4 2 3 2 -1 1.5 0 2 -1 1.5 1.5 2 -1 2 .5 1.5 1 2 .5 1.5 .5 2 -1.5 2 .5 1.5 -1 2 1 1.5 -1.5 2 2 2 -4.5 1.5 2.5 2 .5 1.5 .5 2 -.5 2 -.5 1.5 0 2 1 1.5 -.5 2 -1 2 2 1.5 -2 2 2.5 1.5 -1 2 .5 2 -1.5 1.5 0 2 1 1.5 -.5 2 -1 2 1 1.5 1 2 -2.5 1.5 2.5 2 0 2 -5 1.5 4 2 -2.5 1.5 -3 2 5.5 2 -3.5 1.5 2 2 -.5 1.5 .5 2 -.5 2 1.5 1.5 -1 2 1 1.5 0 2 -.5 2 -1 1.5 3.5 2 5 1.5 5 2 2 2 -1.5 1.5 -1.5 2 1.5 1.5 -2 2 2.5 2 -1 1.5 -1.5 2 0 1.5 2.5 2 -.5 2 1.5 1.5 -1 2 -2 1.5 2.5 2 .5 2 -2 1.5 1.5 2 0 1.5 .5 2 0 2 1 1.5 0 2 -.5 1.5 -1 2 0 2 0 1.5 -2.5 2 -2.5 1.5 4.5 2 -3.5 2 .5 1.5 0 2 .5 1.5 -2.5 2 .5 2 -.5 1.5 .5 2 -1 1.5 0 2 0 2 -.5 1.5 .5 2 .5 1.5 2 2 1 2 -.5 1.5 1 2 -2 1.5 .5 2 1 2 .5 1.5 0 2 .5 1.5 -.5 2 0 2 -1 1.5 -3 2 2 1.5 -2 2 3 2 -.5 1.5 .5 2 -3 1.5 2 2 -2.5 2 1.5 1.5 -.5 2 -1 1.5 0 2 -6 2 4 1.5 .5 2 .5 1.5 -.5 2 -3 2 1.5 1.5 1 2 -.5 1.5 -1.5 2 0 2 -.5 1.5 -1 2 0 1.5 -.5 2 -.5 2 -.5 1.5 -.5 2 1 1.5 .5 2 -.5 2 .5 1.5 -.5 2 -3 1.5 -1 2 -5 2 1.5 1.5 -2 2 -3.5 1.5 -3 2 4 2 2 1.5 -1 2 -1.5 1.5 .5 2 -.5 2 2 1.5 1 2 -.5 1.5 -.5 2 2.5 2 3.5 1.5 1 2 2.5 1.5 -1.5 2 6 2 .5 1.5 -1 2 2 1.5 0 2 -1.5 2 2.5 1.5 0 2 -2 1.5 .5 2 2.5 2 -1.5 1.5 -4.5 2 3 1.5 1.5 2 .5 2 -.5 1.5 0 2 .5 1.5 1 2 -2 2 1 1.5 -3.5 2 5 1.5 -.5 2 -3 2 3.5 1.5 -2.5 2 2 1.5 .5 2 1 2 -1 1.5 -1 2 2 1.5 .5 2 -.5 2 -.5 1.5 1.5 2 -.5 1.5 1 2 -.5 2 1 1.5 0 2 -.5 1.5 1.5 2 -1.5 2 2.5 1.5 -2.5 2 1.5 1.5 .5 2 1 2 -2 1.5 -3.5 2 3.5 1.5 1 2 1 2 -2.5 1.5 1.5 2 .5 1.5 -.5 2 -3 2 4.5 1.5 0 2 .5 1.5 1 2 -2.5 2 1 1.5 2 2 -2 1.5 -7 2 6.5 2 2.5 1.5 -5 2 1 1.5 -2 2 -5 2 9.5 1.5 -2.5 2 1 1.5 -5.5 2 4.5 2 .5 1.5 1 2 0 1.5 -.5 2 0 2 0 1.5 0 2 2.5 1.5 -1 2 0 2 -3 1.5 4 2 -2 1.5 2 2 -.5 2 -1 1.5 -2 2 -1 0 16 -2 4 -1.5 -4.5 -2 0 -2 .5 -1.5 -.5 -2 2.5 -1.5 -2 -2 0 -2 0 -1.5 -1 -2 8 -1.5 -7 -2 5.5 -2 -6 -1.5 .5 -2 -1.5 -1.5 .5 -2 3.5 -2 -1.5 -1.5 -1.5 -2 3 -1.5 3 -2 -6.5 -2 0 -1.5 .5 -2 -.5 -1.5 1 -2 0 -2 -.5 -1.5 2.5 -2 2 -1.5 1.5 -2 -5 -2 -1.5 -1.5 0 -2 -.5 -1.5 4.5 -2 -4 -2 1 -1.5 -1.5 -2 1 -1.5 .5 -2 1.5 -2 -3.5 -1.5 .5 -2 -.5 -1.5 1.5 -2 1.5 -2 -2.5 -1.5 -1 -2 -.5 -1.5 -.5 -2 .5 -2 1 -1.5 -2.5 -2 4 -1.5 -3.5 -2 -2 -2 .5 -1.5 .5 -2 0 -1.5 0 -2 -.5 -2 2 -1.5 -2.5 -2 1.5 -1.5 -2 -2 -.5 -2 -.5 -1.5 .5 -2 .5 -1.5 0 -2 0 -2 1 -1.5 3 -2 -4 -1.5 -.5 -2 -.5 -2 0 -1.5 -1 -2 -1 -1.5 1.5 -2 -1.5 -2 1 -1.5 1 -2 -.5 -1.5 -.5 -2 0 -2 .5 -1.5 0 -2 3 -1.5 -2.5 -2 0 -2 -2 -1.5 .5 -2 -.5 -1.5 -1 -2 .5 -2 -1.5 -1.5 -3.5 -2 4.5 -1.5 -7.5 -2 -2 -2 0 -1.5 -1.5 -2 -1 -1.5 -2.5 -2 1 -2 .5 -1.5 -3 -2 1.5 -1.5 1.5 -2 -3 -2 2 -1.5 -2 -2 3.5 -1.5 3.5 -2 -1.5 -2 6 -1.5 -2.5 -2 1.5 -1.5 1 -2 2 -2 1 -1.5 0 -2 0 -1.5 -2 -2 -1.5 -2 1 -1.5 .5 -2 3 -1.5 -1 -2 -.5 -2 2.5 -1.5 -1 -2 2 -1.5 1.5 -2 -3 -2 0 -1.5 .5 -2 2 -1.5 -1.5 -2 .5 -2 3 -1.5 -.5 -2 0 -1.5 -.5 -2 0 -2 3 -1.5 -2.5 -2 2 -1.5 1 -2 1 -2 -2.5 -1.5 .5 -2 1 -1.5 0 -2 0 -2 .5 -1.5 -1 -2 1 -1.5 -.5 -2 -.5 -2 .5 -1.5 .5 -2 -1 -1.5 0 -2 1 -2 -.5 -1.5 -.5 -2 0 -1.5 -1.5 -2 1 -2 -1.5 -1.5 .5 -2 .5 -1.5 -2 -2 2.5 -2 4 -1.5 -3 -2 -1 -1.5 .5 -2 2.5 -2 -1 -1.5 1.5 -2 -1.5 -1.5 3 -2 -2 -2 -1 -1.5 2.5 -2 0 -1.5 0 -2 -1 -2 -.5 -1.5 -.5 -2 1 -1.5 .5 -2 0 -2 1 -1.5 -2.5 -2 1 -1.5 -1 -2 -.5 -2 0 -1.5 1.5 -2 .5 -1.5 -2.5 -2 1 -2 0 -1.5 -1 -2 1 -1.5 .5 -2 .5 -2 -2 -1.5 -4 -2 -2.5 -1.5 -6.5 -2 3 -2 -3 -1.5 .5 -2 2.5 -1.5 -1.5 -2 1 -2 -2.5 -1.5 .5 -2 5.5 -1.5 -5 -2 .5 -2 0 -1.5 1.5 -2 -1 -1.5 1 -2 -1 -2 1.5 -1.5 -1.5 -2 1 -1.5 0 -2 -.5 -2 0 -1.5 1.5 -2 0 -1.5 -.5 -2 -1 -2 .5 -1.5 .5 -2 -2 -1.5 3 -2 -3 -2 .5 -1.5 -1 -2 .5 -1.5 -.5 -2 3.5 -2 -1.5 -1.5 -2.5 -2 2 -1.5 -2 -2 1.5 -2 .5 -1.5 1 -2 -1 -1.5 1 -2 1.5 -2 -1 -1.5 -.5 -2 .5 -1.5 .5 -2 -2.5 -2 2.5 -1.5 -1.5 -2 .5 -1.5 -2 -2 .5 -2 -.5 -1.5 2 -2 -.5 -1.5 0 -2 .5 -2 .5 -1.5 -.5 -2 2.5 -1.5 -.5 -2 -2 -2 0 -1.5 1 -2 0 -1.5 0 -2 1 -2 -1 -1.5 2.5 -2 -3.5 -1.5 1 -2 -.5 -2 2 -1.5 -1.5 -2 -.5 -1.5 -.5 -2 1.5 -2 -.5 -1.5 2 -2 1.5 -1.5 -.5 -2 -1.5 -2 0 -1.5 -1.5 -2 .5 -1.5 4 -2 -5 -2 1.5 -1.5 -1.5 -2 2 -1.5 0 -2 1 -2 0 -1.5 -1.5 -2 0 -1.5 1.5 -2 -1 -2 .5 -1.5 2 -2 .5 -1.5 -3.5 -2 2 -2 -2.5 -1.5 .5 -2 0 -1.5 0 -2 -.5 -2 -1.5 -1.5 -1.5 -2 -.5 -1.5 3.5 -2 -3 -2 4 -1.5 -4 -2 .5 -1.5 .5 -2 1.5 -2 3 -1.5 -5.5 -2 -.5 -1.5 4.5 -2 -3 -2 0 -1.5 .5 -2 -2 -1.5 4 -2 1 -2 -.5 -1.5 -2 -2 3 -1.5 -3 -2 6 -2 -4 -1.5 0 -2 .5 -1.5 .5 -2 3 -2 -2.5 -1.5 0 -2 -1.5 -1.5 2.5 -2 -2 -2 5 -1.5 -3.5 -2 0 -1.5 2 -2 1.5 -2 -1.5 -1.5 2.5 -2 1.5 -1.5 -1.5 -2 -1.5 -2 3 -1.5 -1.5 -2 -1 -1.5 2 -2 -1 -2 .5 -1.5 .5 -2 -1 -1.5 -2 -2 0 -2 .5 -1.5 .5 -2 -1.5 -1.5 0 -2 0 -2 .5 -1.5 -1 -2 0 -1.5 .5 -2 1.5 -2 -2 -1.5 0 -2 0 -1.5 2.5 -2 -2.5 -2 .5 -1.5 1.5 -2 -.5 -1.5 2 -2 -4 -2 2.5 -1.5 -.5 -2 -2 -1.5 3 -2 -3 -2 0 -1.5 4 -2 -2.5 -1.5 0 -2 0 -2 2 -1.5 0 -2 -.5 -1.5 1 -2 1 -2 .5 -1.5 0 -2 1.5 -1.5 -1 -2 -1.5 -2 0 -1.5 .5 -2 -.5 -1.5 1.5 -2 -2 -2 -1 -1.5 1 -2 -.5 -1.5 1 -2 2.5 -2 -2 -1.5 1.5 -2 1 -1.5 -1 -2 -1.5 -2 2.5 -1.5 -1 -2 0 -1.5 2.5 -2 1.5 -2 -3 -1.5 .5 -2 3.5 -1.5 -4 -2 -1 -2 2 -1.5 -2.5 -2 1.5 -1.5 -5.5 -2 -3 -2 -4.5 -1.5 4.5 -2 -4 -1.5 0 -2 1 -2 5 -1.5 2 -2 6 -1.5 6.5 -2 6 -2 6.5 -1.5 4.5 -2 4.5 -1.5 2.5 -2 2.5 -2 -1 -1.5 -.5 -2 3.5 -1.5 -3 -2 2 -2 -.5 -1.5 1.5 -2 -1.5 -1.5 -2 -2 1.5 -2 1.5 -1.5 -.5 -2 -1 -1.5 .5 -2 -2.5 -2 1.5 -1.5 -1.5 -2 1.5 -1.5 1.5 -2 .5 -2 -1.5 -1.5 -.5 -2 1 -1.5 -1 -2 -.5 -2 -.5 -1.5 0 -2 .5 -1.5 -1 -2 0 -2 -1 -1.5 -1 -2 .5 -1.5 1 -2 .5 -2 -2.5 -1.5 1.5 -2 0 -1.5 -1.5 -2 2.5 -2 0 -1.5 1.5 -2 -1.5 -1.5 .5 -2 2 -2 -1 -1.5 -.5 -2 0 -1.5 2.5 -2 -1.5 -2 1 -1.5 -1 -2 .5 -1.5 0 -2 -1 -2 1 -1.5 2 -2 -2.5 -1.5 -2 -2 .5 -2 2.5 -1.5 -4 -2 2 -1.5 1.5 -2 -4.5 -2 1 -1.5 -3.5 -2 1 -1.5 0 -2 0 -2 2 -1.5 -1 -2 -.5 -1.5 1.5 -2 -2.5 -2 0 -1.5 1 -2 -1 -1.5 -2.5 -2 -.5 -2 1.5 -1.5 -2 -2 3.5 -1.5 -1 -2 -4 -2 1 -1.5 .5 -2 -.5 -1.5 3 -2 -1.5 -2 -.5 -1.5 2 -2 -.5 -1.5 2 -2 -3.5 -2 .5 -1.5 1.5 -2 -1.5 -1.5 .5 -2 -.5 -2 -1 -1.5 1 -2 2 -1.5 -3 -2 1 -2 .5 -1.5 -1 -2 0 -1.5 2 -2 -2.5 -2 2 -1.5 -3 -2 1.5 -1.5 1 -2 -1 -2 -1 -1.5 0 -2 1.5 -1.5 -.5 -2 -.5 -2 0 -1.5 1.5 -2 -1 -1.5 1 -2 0 -2 0 -1.5 -1 -2 3.5 -1.5 -2 -2 -1.5 -2 .5 -1.5 -2 -2 -.5 -1.5 -3.5 -2 -1.5Z" fill="#495b6a" /></g>
<line x1="158.0" y1="1058.3" x2="1244.0" y2="1058.3" stroke="#62605e" stroke-width="1.8"/>
<line x1="158.0" y1="1248.0" x2="1244.0" y2="1248.0" stroke="#62605e" stroke-width="1.8"/>
<path d="M201.9,1058.3v3.5M201.9,1248.0v-3.5M245.3,1058.3v3.5M245.3,1248.0v-3.5M288.7,1058.3v3.5M288.7,1248.0v-3.5M332.1,1058.3v3.5M332.1,1248.0v-3.5M375.5,1058.3v6.0M375.5,1248.0v-6.0M418.9,1058.3v3.5M418.9,1248.0v-3.5M462.3,1058.3v3.5M462.3,1248.0v-3.5M505.7,1058.3v3.5M505.7,1248.0v-3.5M549.1,1058.3v3.5M549.1,1248.0v-3.5M592.5,1058.3v6.0M592.5,1248.0v-6.0M635.9,1058.3v3.5M635.9,1248.0v-3.5M679.3,1058.3v3.5M679.3,1248.0v-3.5M722.7,1058.3v3.5M722.7,1248.0v-3.5M766.1,1058.3v3.5M766.1,1248.0v-3.5M809.5,1058.3v6.0M809.5,1248.0v-6.0M852.9,1058.3v3.5M852.9,1248.0v-3.5M896.3,1058.3v3.5M896.3,1248.0v-3.5M939.7,1058.3v3.5M939.7,1248.0v-3.5M983.1,1058.3v3.5M983.1,1248.0v-3.5M1026.5,1058.3v6.0M1026.5,1248.0v-6.0M1069.9,1058.3v3.5M1069.9,1248.0v-3.5M1113.3,1058.3v3.5M1113.3,1248.0v-3.5M1156.7,1058.3v3.5M1156.7,1248.0v-3.5M1200.1,1058.3v3.5M1200.1,1248.0v-3.5M160.0,1067.7h3.8M1243.0,1067.7h-3.8M160.0,1077.1h3.8M1243.0,1077.1h-3.8M160.0,1086.6h3.8M1243.0,1086.6h-3.8M160.0,1096.0h3.8M1243.0,1096.0h-3.8M160.0,1105.5h7.0M1243.0,1105.5h-7.0M160.0,1115.0h3.8M1243.0,1115.0h-3.8M160.0,1124.4h3.8M1243.0,1124.4h-3.8M160.0,1133.9h3.8M1243.0,1133.9h-3.8M160.0,1143.3h3.8M1243.0,1143.3h-3.8M160.0,1152.8h7.0M1243.0,1152.8h-7.0M160.0,1162.3h3.8M1243.0,1162.3h-3.8M160.0,1171.7h3.8M1243.0,1171.7h-3.8M160.0,1181.2h3.8M1243.0,1181.2h-3.8M160.0,1190.6h3.8M1243.0,1190.6h-3.8M160.0,1200.1h7.0M1243.0,1200.1h-7.0M160.0,1209.6h3.8M1243.0,1209.6h-3.8M160.0,1219.0h3.8M1243.0,1219.0h-3.8M160.0,1228.5h3.8M1243.0,1228.5h-3.8M160.0,1237.9h3.8M1243.0,1237.9h-3.8" stroke="#62605e" stroke-width="1.6" fill="none"/>
<text transform="translate(136.6,1113.1) scale(0.93,1)" font-size="36" fill="#575757" text-anchor="end">0.05</text>
<text transform="translate(136.6,1160.9) scale(0.93,1)" font-size="36" fill="#575757" text-anchor="end">0.00</text>
<text transform="translate(136.6,1207.3) scale(0.93,1)" font-size="36" fill="#575757" text-anchor="end">-0.05</text>
<text transform="translate(136.6,1255.1) scale(0.93,1)" font-size="36" fill="#575757" text-anchor="end">-0.10</text>
<rect x="150.5" y="1266.6" width="30.7" height="184.4" fill="#dfdfdf"/>
<rect x="214.1" y="1266.6" width="61.4" height="184.4" fill="#dfdfdf"/>
<rect x="306.2" y="1266.6" width="129.4" height="184.4" fill="#dfdfdf"/>
<rect x="569.2" y="1266.6" width="114.0" height="184.4" fill="#dfdfdf"/>
<rect x="808.2" y="1266.6" width="81.1" height="184.4" fill="#dfdfdf"/>
<rect x="970.5" y="1266.6" width="109.6" height="184.4" fill="#dfdfdf"/>
<rect x="1198.5" y="1266.6" width="48.2" height="184.4" fill="#dfdfdf"/>
<text x="169.5" y="1298" font-size="28.5" fill="#666666" text-anchor="middle">1</text>
<text x="245.5" y="1298" font-size="28.5" fill="#666666" text-anchor="middle">3</text>
<text x="370.2" y="1298" font-size="28.5" fill="#666666" text-anchor="middle">5</text>
<text x="625.8" y="1298" font-size="28.5" fill="#666666" text-anchor="middle">7</text>
<text x="852.5" y="1298" font-size="28.5" fill="#666666" text-anchor="middle">9</text>
<text x="1023.6" y="1298" font-size="28.5" fill="#666666" text-anchor="middle">11</text>
<text x="1221.8" y="1298" font-size="28.5" fill="#666666" text-anchor="middle">13</text>
<line x1="150.5" y1="1328.6" x2="1246.7" y2="1328.6" stroke="#666" stroke-width="1.6"/>
<text x="646" y="1319.6" font-size="30.2" fill="#666666">platform height</text>
<path d="M194.3,1266.6v2.5M194.3,1451.0v-2.5M238.2,1266.6v2.5M238.2,1451.0v-2.5M282.0,1266.6v2.5M282.0,1451.0v-2.5M325.9,1266.6v2.5M325.9,1451.0v-2.5M369.7,1266.6v2.5M369.7,1451.0v-2.5M413.6,1266.6v2.5M413.6,1451.0v-2.5M457.4,1266.6v2.5M457.4,1451.0v-2.5M501.3,1266.6v2.5M501.3,1451.0v-2.5M545.1,1266.6v2.5M545.1,1451.0v-2.5M589.0,1266.6v2.5M589.0,1451.0v-2.5M632.8,1266.6v2.5M632.8,1451.0v-2.5M676.7,1266.6v2.5M676.7,1451.0v-2.5M720.5,1266.6v2.5M720.5,1451.0v-2.5M764.4,1266.6v2.5M764.4,1451.0v-2.5M808.2,1266.6v2.5M808.2,1451.0v-2.5M852.1,1266.6v2.5M852.1,1451.0v-2.5M895.9,1266.6v2.5M895.9,1451.0v-2.5M939.8,1266.6v2.5M939.8,1451.0v-2.5M983.6,1266.6v2.5M983.6,1451.0v-2.5M1027.5,1266.6v2.5M1027.5,1451.0v-2.5M1071.3,1266.6v2.5M1071.3,1451.0v-2.5M1115.2,1266.6v2.5M1115.2,1451.0v-2.5M1159.0,1266.6v2.5M1159.0,1451.0v-2.5M1202.9,1266.6v2.5M1202.9,1451.0v-2.5M151.5,1273.5h7.0M1245.7,1273.5h-7.0M151.5,1284.7h7.0M1245.7,1284.7h-7.0M151.5,1295.8h7.0M1245.7,1295.8h-7.0M151.5,1306.9h11.5M1245.7,1306.9h-11.5M151.5,1318.0h7.0M1245.7,1318.0h-7.0M151.5,1329.1h7.0M1245.7,1329.1h-7.0M151.5,1340.3h7.0M1245.7,1340.3h-7.0M151.5,1351.4h7.0M1245.7,1351.4h-7.0M151.5,1362.5h11.5M1245.7,1362.5h-11.5M151.5,1373.6h7.0M1245.7,1373.6h-7.0M151.5,1384.7h7.0M1245.7,1384.7h-7.0M151.5,1395.9h7.0M1245.7,1395.9h-7.0M151.5,1407.0h7.0M1245.7,1407.0h-7.0M151.5,1418.1h11.5M1245.7,1418.1h-11.5M151.5,1429.2h7.0M1245.7,1429.2h-7.0M151.5,1440.3h7.0M1245.7,1440.3h-7.0" stroke="#62605e" stroke-width="1.6" fill="none"/>
<path d="M147.5,1308l14 1.5 11 54.5 11 76.5 11 2.5 9.5 -27 12 4 11 -12 33 -18 11 15 11 -15 12 12.5 8.5 -31.5 23 -12.5 11 2 11 7.5 11 -5.5 11 -13.5 11 4.5 11 32.5 9.5 -74 12.5 -31.5 10.5 29 11 82 10 23 12 12.5 11 -12.5 11 -4 11 9.5 32.5 -39.5 12 5.5 11 13.5 9.5 -43.5 12.5 6.5 9.5 -39.5 12.5 23 9.5 -20.5 11 -5.5 12.5 -6.5 10.5 19 10 59 13.5 -7 11 -12.5 9.5 -32.5 9.5 32.5 11 8.5 12.5 22 11 -8.5 11 1.5 12 8 8.5 -36.5 12 -12.5 11 -4 11 0 11 19 12.5 -12.5 8 -4 12.5 -7 11 -14.5 12 12 9.5 -48 10.5 29 11 9.5 11 64 11 18 11 -7 11 -1 12.5 17.5 9.5 -56 11 37 11 -35.5 10.5 -5.5 11 -1.5 11 -22 11 -1 20.5 -47 12.5 -1 12.5 15 9.5 31.5 11 61.5 10.5 33 12.5 8 10.5 .5 9 -21.5 12.5 -21 10.5 4 11.5 -6.5 10.5 20.5 11.5 -4.5 12 -27 10 -19.5 10.5 -21 11.5 0 10.5 5.5 13.5 -19.5" fill="none" stroke="#5683b5" stroke-width="6.8" stroke-linejoin="miter" stroke-linecap="butt" stroke-miterlimit="3"/>
<rect x="150.5" y="1266.6" width="1096.2" height="184.4" fill="none" stroke="#62605e" stroke-width="2.4"/>
<text transform="translate(131,1323.3) scale(0.93,1)" font-size="36" fill="#575757" text-anchor="end">0</text>
<text transform="translate(131,1370.3) scale(0.93,1)" font-size="36" fill="#575757" text-anchor="end">-50</text>
<text transform="translate(131,1428.3) scale(0.93,1)" font-size="36" fill="#575757" text-anchor="end">-100</text>
<text x="1262.5" y="1298" font-size="28.5" fill="#666666">MIS</text>
<text x="151.7" y="1488.6" font-size="38" fill="#575757" text-anchor="middle">0.0</text>
<text x="370.9" y="1488.6" font-size="38" fill="#575757" text-anchor="middle">0.1</text>
<text x="590.2" y="1488.6" font-size="38" fill="#575757" text-anchor="middle">0.2</text>
<text x="809.4" y="1488.6" font-size="38" fill="#575757" text-anchor="middle">0.3</text>
<text x="1028.7" y="1488.6" font-size="38" fill="#575757" text-anchor="middle">0.4</text>
<text x="1247.9" y="1488.6" font-size="38" fill="#575757" text-anchor="middle">0.5</text>
<text transform="translate(708.4,1549.5) scale(1.037,1)" font-size="43.5" fill="#1c1c1c" text-anchor="middle">Age (Ma)</text>
<text transform="translate(33.2,1472.5) rotate(-90)" font-size="34" fill="#1c1c1c">Sea level (m)</text>
<text x="2.8" y="320.9" font-style="italic" font-size="46.5" fill="#1c1c1c">W</text>
<text x="10.5" y="533.9" font-style="italic" font-size="46.5" fill="#1c1c1c">T</text>
<text x="6.8" y="745.5" font-style="italic" font-size="46.5" fill="#1c1c1c">D</text>
<text x="2.5" y="956" font-style="italic" font-size="46.5" fill="#1c1c1c">S</text>
<text x="29.5" y="970.8" font-style="italic" font-size="31" fill="#1c1c1c">1</text>
<text x="2.5" y="1163.5" font-style="italic" font-size="46.5" fill="#1c1c1c">S</text>
<text x="29" y="1178.2" font-style="italic" font-size="31" fill="#1c1c1c">2</text>
<path d="M216.4,156.7 L158,201.5 L158,1248.5" fill="none" stroke="#575757" stroke-width="3.6" stroke-linejoin="miter" stroke-linecap="butt"/>
<path d="M489.6,150.5 L390.4,196.5 L390.4,1248.5" fill="none" stroke="#575757" stroke-width="3.6" stroke-linejoin="miter" stroke-linecap="butt"/>
<path d="M785,156.6 L429.5,204 L429.5,1248.5" fill="none" stroke="#575757" stroke-width="3.6" stroke-linejoin="miter" stroke-linecap="butt"/>
<path d="M1203.7,159.8 L1244.6,201.5 L1244.6,1248.5" fill="none" stroke="#575757" stroke-width="3.6" stroke-linejoin="miter" stroke-linecap="butt"/>
</svg></body></html>
